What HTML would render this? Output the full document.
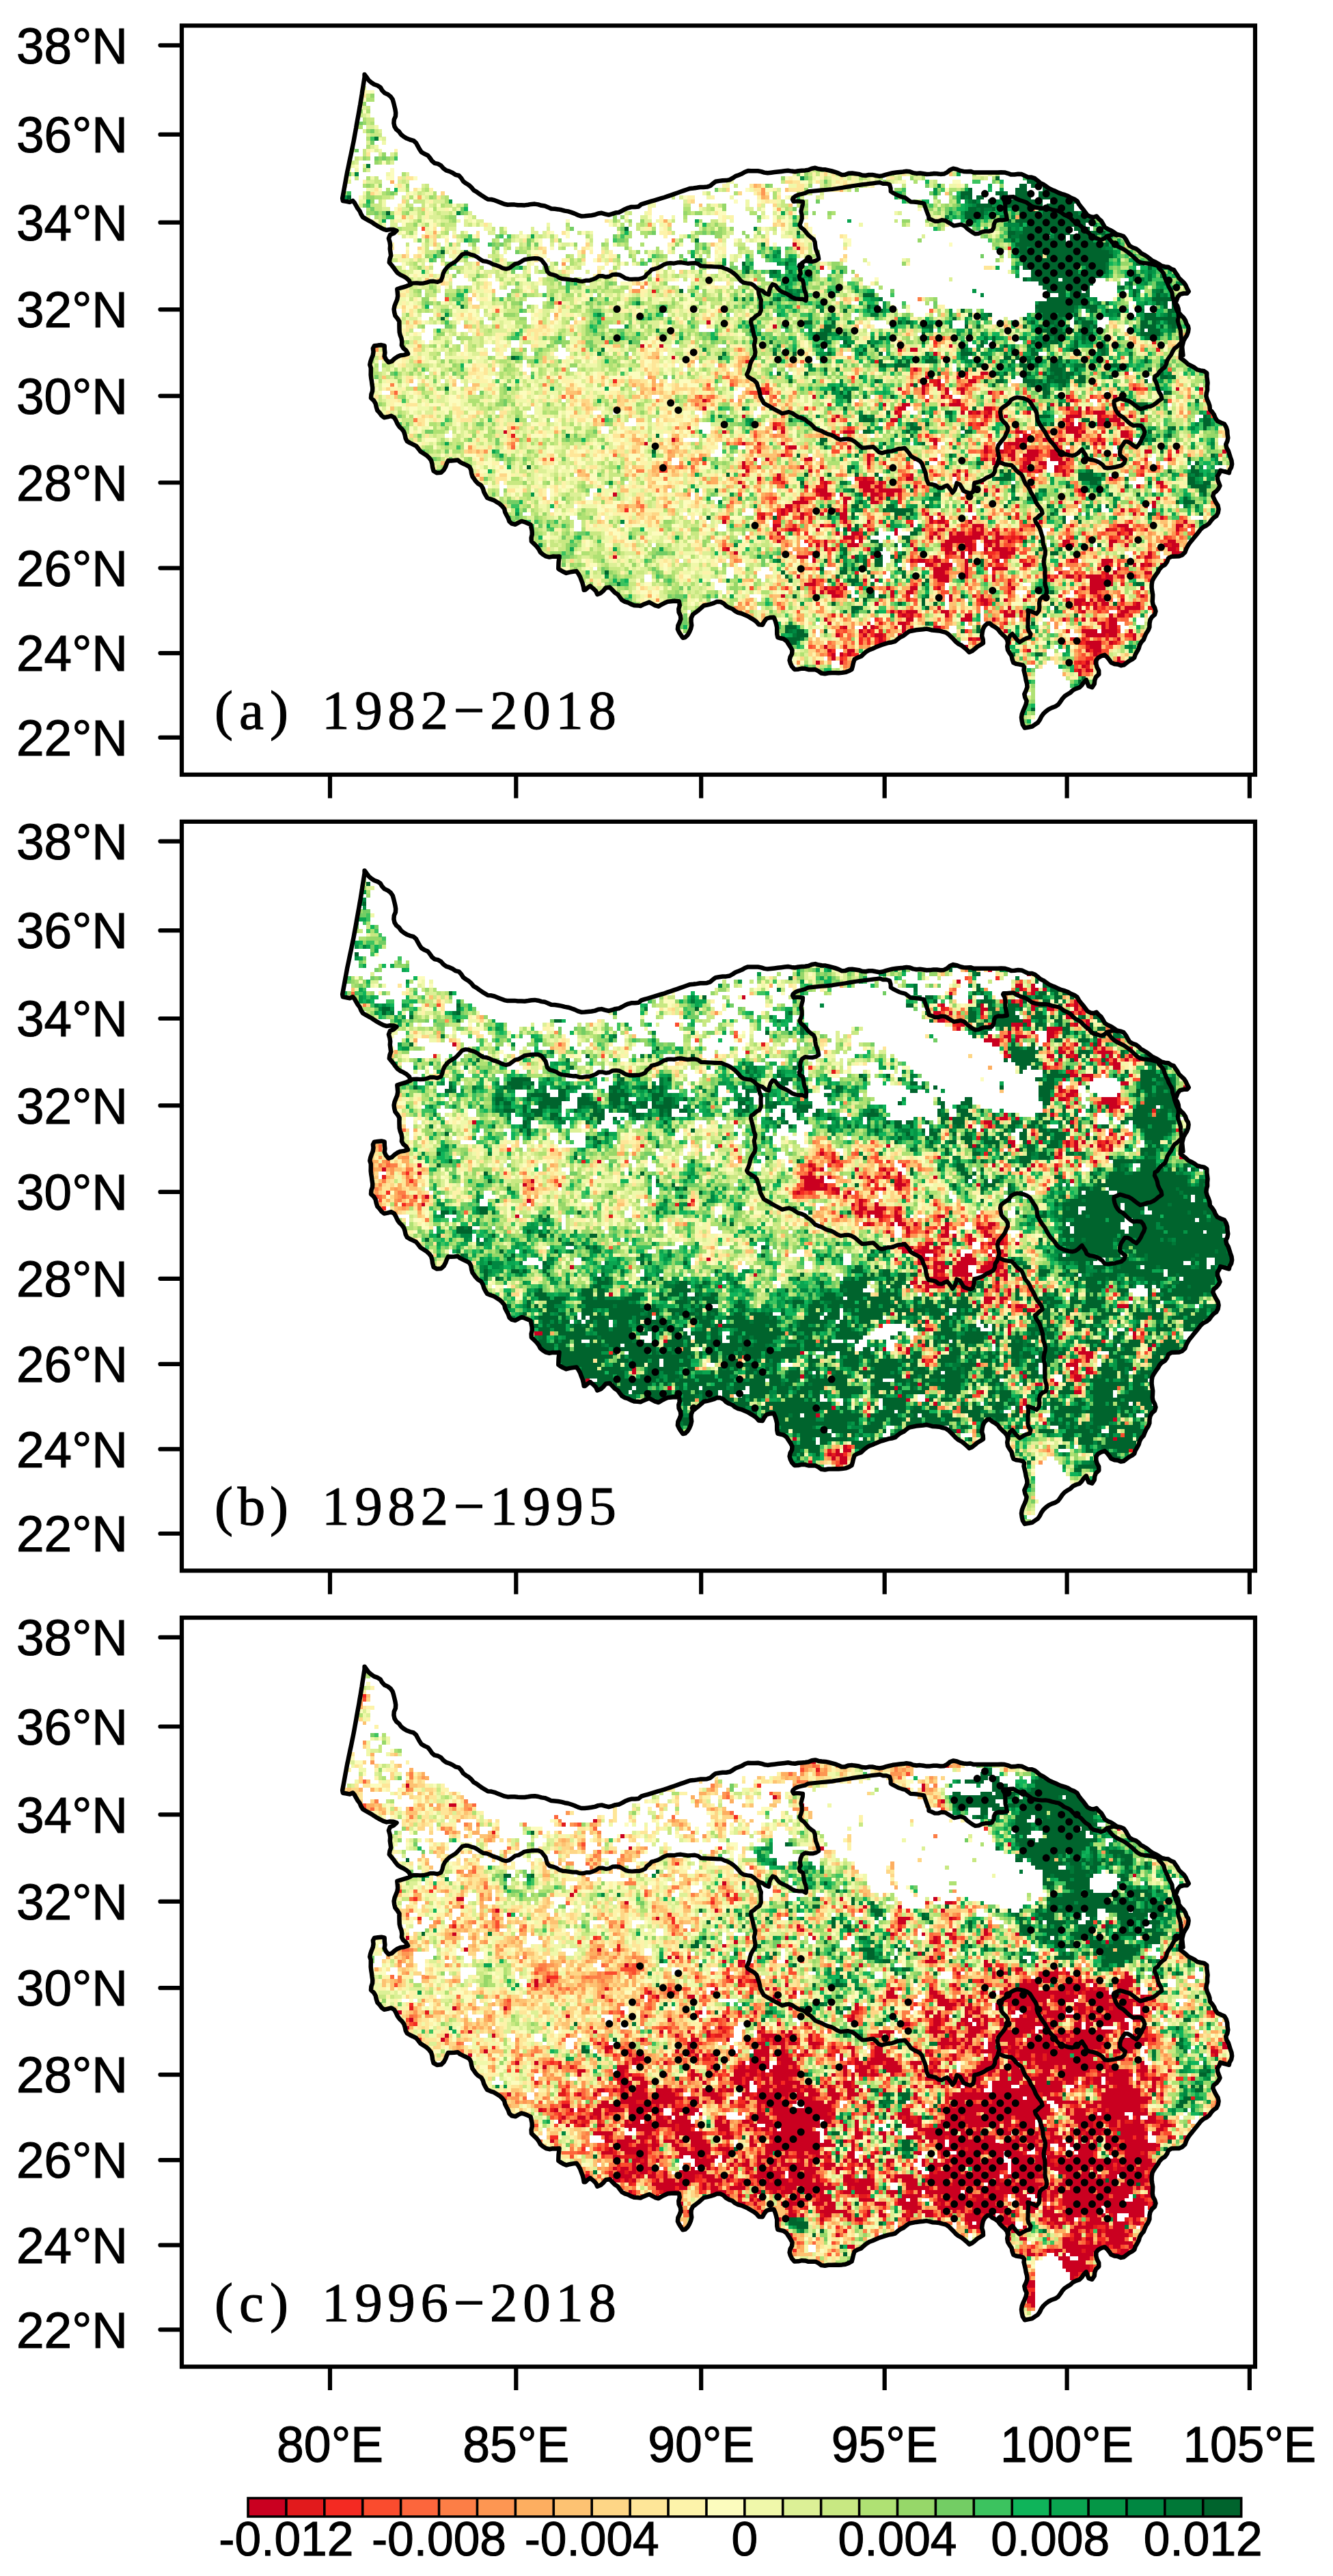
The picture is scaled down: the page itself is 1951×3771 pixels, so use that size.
<!DOCTYPE html>
<html lang="en"><head><meta charset="utf-8"><title>NDVI trend maps</title>
<style>html,body{margin:0;padding:0;background:#fff}body{width:1951px;height:3771px;overflow:hidden}svg{display:block}text{font-family:"Liberation Sans",sans-serif;fill:#000;stroke:#000;stroke-width:1.1px}.ser{font-family:"Liberation Serif",serif;stroke-width:1.1px}</style></head><body>
<svg width="1951" height="3771" viewBox="0 0 1951 3771">
<rect width="1951" height="3771" fill="#fff"/>
<defs><clipPath id="cp"><path d="M534.4 108.1L556.9 126.9L570.0 140.0L578.7 156.9L576.8 175.6L579.4 188.8L594.4 201.9L607.5 209.4L620.7 224.4L635.7 239.4L656.3 250.7L678.8 263.8L693.8 278.8L712.6 291.9L735.1 297.5L757.6 301.3L780.1 298.3L802.6 303.2L825.1 310.7L847.6 314.4L870.1 315.2L892.6 312.6L918.9 306.9L937.5 299.4L975.0 288.1L1012.5 275.0L1042.5 273.1L1068.8 261.9L1095.0 248.8L1110.0 248.8L1121.3 253.6L1155.0 249.5L1185.0 245.8L1200.0 246.9L1215.0 252.5L1237.5 255.5L1263.8 258.1L1293.8 254.4L1323.8 251.8L1350.0 255.5L1376.0 254.4L1402.5 248.0L1425.0 252.5L1462.5 252.5L1492.5 256.3L1518.8 263.8L1537.5 275.0L1560.0 284.4L1575.0 295.6L1590.0 312.5L1599.4 319.3L1605.0 316.3L1620.0 331.3L1635.0 344.4L1650.0 355.6L1668.8 370.6L1687.5 381.9L1702.5 387.5L1719.4 393.1L1725.0 406.3L1736.3 415.6L1740.0 428.8L1725.0 432.5L1719.4 443.8L1727.0 458.8L1742.0 477.5L1736.3 496.3L1732.0 502.5L1728.0 525.0L1741.0 534.4L1765.7 545.6L1769.5 558.8L1763.8 577.5L1771.3 596.3L1782.6 615.0L1795.7 630.0L1793.8 648.8L1799.5 667.5L1803.2 682.5L1799.5 693.8L1786.3 688.0L1780.7 697.5L1786.3 712.5L1775.0 723.8L1780.7 738.8L1780.7 753.8L1766.0 770.0L1747.6 787.0L1732.6 807.5L1710.0 818.8L1695.0 835.6L1687.6 852.5L1685.7 878.8L1691.0 899.0L1680.0 920.0L1668.8 940.6L1661.0 965.0L1642.6 975.5L1627.6 970.6L1618.0 959.0L1605.0 965.0L1607.0 987.5L1595.7 1006.0L1590.0 995.0L1582.6 1004.0L1563.8 1017.5L1545.0 1032.5L1526.0 1049.0L1511.0 1064.0L1500.0 1064.0L1496.0 1049.0L1502.0 1025.0L1500.0 995.0L1500.0 974.0L1485.0 972.5L1477.6 953.8L1475.7 940.6L1468.0 931.0L1458.8 920.0L1447.6 910.6L1440.0 920.0L1438.0 942.5L1419.4 955.6L1402.5 940.6L1383.8 925.6L1357.6 918.0L1331.0 927.5L1312.6 938.8L1290.0 946.0L1271.0 952.0L1252.6 965.0L1247.0 980.0L1226.0 985.7L1203.8 984.5L1185.0 978.0L1162.6 978.0L1155.0 968.8L1158.8 950.0L1151.0 940.6L1138.0 935.0L1138.0 920.0L1132.6 905.0L1123.0 905.0L1113.8 914.4L1098.8 905.0L1083.8 895.6L1065.0 888.0L1050.0 880.6L1031.0 886.0L1016.0 901.0L1010.6 920.0L1001.0 935.0L992.0 923.8L995.6 901.0L993.8 882.5L975.0 882.5L963.8 888.0L948.8 881.0L937.6 888.8L915.0 883.0L903.8 872.0L888.8 860.7L873.8 870.0L864.5 855.0L855.0 866.0L853.0 855.0L843.8 836.0L828.8 838.0L815.7 834.4L819.4 813.8L802.6 815.7L791.3 806.0L778.0 791.0L778.0 768.8L765.0 762.0L753.8 767.0L746.3 765.0L738.8 744.4L727.6 737.0L712.6 727.5L705.0 712.5L690.0 701.0L688.0 684.4L671.3 673.0L656.3 673.0L647.0 690.0L637.5 690.0L630.0 673.0L611.0 656.0L594.0 645.0L590.6 630.0L581.0 618.0L574.0 610.0L560.0 611.0L551.0 597.5L543.8 582.5L547.5 567.5L545.6 548.8L540.0 533.8L543.8 522.5L545.6 507.5L562.5 505.6L562.5 520.6L570.0 530.0L585.0 522.5L596.3 517.0L588.8 507.5L588.8 488.8L583.0 470.0L575.6 453.0L579.4 440.0L581.0 423.0L600.0 415.6L592.5 406.0L581.0 398.8L570.0 385.6L572.0 372.5L570.0 358.0L572.0 344.4L580.0 337.0L566.3 336.9L547.5 329.4L532.5 320.0L521.3 305.0L517.5 293.0L511.9 295.7L500.6 293.8L508.1 252.5L517.5 207.5L526.9 155.0Z"/></clipPath><g id="ml" fill="none" stroke="#000" stroke-width="6.2" stroke-linejoin="round" stroke-linecap="round"><path d="M600.0 415.6L605.0 414.5L610.0 414.4L615.0 414.8L620.0 414.6L624.8 413.5L629.5 411.8L634.5 411.7L640.1 412.8L645.4 410.8L647.4 405.7L648.6 400.5L650.8 395.9L654.0 391.8L657.7 388.3L662.0 385.7L666.4 383.1L670.0 379.6L673.3 375.9L676.5 372.4L681.2 371.0L685.2 371.2L689.4 372.8L694.4 374.1L698.8 376.6L702.9 379.7L707.3 382.2L712.4 382.8L717.1 384.6L721.6 386.9L726.4 388.3L731.0 390.1L735.6 392.4L740.7 393.7L745.6 392.4L749.9 389.3L754.0 386.2L759.0 385.2L763.3 382.7L767.5 380.1L772.8 379.2L777.5 378.6L782.6 378.2L787.7 378.3L792.4 380.4L795.6 384.5L798.5 388.1L799.6 392.1L800.9 397.2L804.4 400.9L809.6 402.2L814.3 403.8L818.6 406.7L823.4 408.2L828.4 408.6L833.5 409.3L838.3 410.0L843.1 409.9L848.0 411.5L853.0 411.8L858.0 410.6L862.7 410.6L867.3 409.1L872.0 407.2L876.4 404.1L881.7 404.0L886.9 405.4L891.9 404.6L896.6 402.0L901.6 401.7L906.8 402.3L911.2 404.7L915.5 407.3L920.4 408.6L925.0 408.9L929.9 408.5L935.0 408.6L939.9 407.2L944.2 405.2L946.6 401.4L950.9 398.1L953.7 394.8L957.7 393.8L962.4 392.4L967.0 390.1L971.5 387.4L976.3 385.6L981.4 385.2L986.5 385.6L991.5 384.4L996.5 384.1L1001.5 385.0L1006.5 385.8L1011.5 385.4L1016.9 385.1L1021.7 386.3L1025.9 389.5L1030.9 389.7L1035.9 390.0L1040.9 390.2L1045.9 390.5L1050.9 390.7L1055.9 390.9L1060.4 392.9L1065.2 394.6L1069.6 397.0L1073.7 399.9L1077.5 403.2L1081.0 407.0L1084.3 411.1L1088.5 413.8L1093.8 414.7L1099.5 415.5L1103.7 418.2L1107.2 421.8L1111.3 424.5L1116.0 425.8L1120.1 429.3L1125.2 431.3L1126.1 425.6L1127.6 420.8L1130.9 416.1L1135.0 417.6L1138.0 421.9L1141.6 425.5L1146.3 427.9L1151.0 429.9L1155.4 432.5L1159.6 435.4L1164.4 437.2L1169.5 437.9L1174.8 437.9L1179.4 440.0"/><path d="M1179.4 440.0L1180.2 434.8L1179.5 429.9L1177.5 425.0L1176.5 420.1L1176.0 415.1L1174.8 410.6L1170.7 408.4L1169.6 404.3L1171.8 400.2L1170.9 395.1L1171.8 389.8L1174.0 384.8L1178.6 381.8L1184.4 382.7L1189.5 382.8L1194.5 381.4L1198.3 379.0L1197.4 373.8L1195.8 369.0L1193.9 364.2L1193.2 359.3L1192.7 354.3L1190.9 350.2L1187.0 347.5L1183.2 344.2L1179.9 340.2L1176.7 336.3L1172.6 333.3L1170.4 329.4L1172.3 324.7L1173.7 319.8L1173.6 314.7L1172.4 309.4L1173.5 304.5L1174.8 299.6L1175.0 295.3L1169.5 294.6L1164.6 294.6L1161.5 295.0L1159.9 292.0L1160.6 290.0L1164.1 287.1L1168.7 285.1L1173.6 283.9L1178.4 282.8L1182.9 280.4L1187.9 279.9L1193.0 279.4L1198.0 278.9L1203.0 278.4L1208.0 278.0L1213.0 277.5L1218.0 277.0L1223.0 276.2L1227.9 275.5L1232.9 274.7L1237.9 273.9L1242.8 273.1L1247.8 272.3L1252.8 271.5L1257.7 270.8L1262.7 270.2L1267.7 269.6L1272.7 268.9L1277.7 268.3L1282.7 267.7L1287.7 267.1L1292.4 268.8L1297.5 268.8L1302.1 270.3L1303.6 275.6L1303.7 280.2L1306.7 282.2L1311.1 284.5L1315.7 286.8L1320.4 288.3L1325.0 289.5L1329.0 292.5L1332.7 295.3L1337.6 295.6L1342.6 296.1L1347.6 296.9L1352.4 297.8L1354.0 302.8L1355.7 307.5L1357.5 312.3L1359.3 316.9L1359.4 320.3L1363.2 321.5L1368.1 323.8L1373.2 323.9L1378.3 322.2L1383.6 322.8L1388.0 325.5L1392.3 328.1L1396.3 330.5L1401.3 329.6L1406.5 328.6L1411.7 330.5L1415.4 334.4L1419.5 337.4L1423.4 340.2L1427.5 342.4L1432.6 341.8L1437.3 339.5L1442.3 338.6L1447.2 338.6L1451.7 337.6L1454.4 333.1L1454.8 328.1L1457.0 323.6L1462.0 322.0L1467.4 322.3L1473.9 321.3L1472.8 314.9L1471.5 310.0L1471.3 305.0L1471.3 299.7L1470.5 294.6L1468.0 290.5L1468.7 288.8L1473.5 288.9L1478.5 288.3L1483.5 288.1L1487.5 290.9L1492.1 292.9L1497.0 294.4L1501.9 296.1L1505.9 299.0L1510.1 302.0L1515.1 303.6L1520.0 304.4L1525.0 304.9L1530.0 304.7L1534.8 305.4L1539.7 306.9L1544.6 308.0L1549.5 308.9L1553.6 311.4L1557.4 314.4L1562.2 316.4L1566.6 318.8L1570.1 322.6L1573.7 325.8L1578.1 328.2L1582.4 331.1L1585.7 334.8L1589.4 338.3L1593.8 341.0L1596.7 345.3L1600.9 348.0L1605.9 349.1L1611.0 351.1L1616.0 349.4L1619.9 345.8L1624.9 344.5L1629.8 342.9L1635.0 344.4"/><path d="M1110.0 425.0L1110.6 430.1L1112.1 435.0L1113.9 439.3L1113.5 443.7L1113.6 448.9L1113.8 454.3L1111.6 459.4L1106.8 462.3L1103.1 465.8L1099.5 468.0L1099.0 471.9L1100.2 476.7L1101.5 481.3L1102.5 485.9L1103.5 491.0L1105.4 495.6L1105.0 500.1L1103.8 504.8L1104.6 510.1L1105.5 515.3L1104.8 520.4L1101.9 524.9L1099.3 529.4L1097.8 534.2L1096.8 539.1L1095.1 543.8L1093.0 548.3L1094.9 551.6L1099.1 554.2L1103.7 556.8L1107.6 560.7L1109.2 566.0L1110.9 570.8L1112.1 575.7L1112.9 580.8L1115.4 585.4L1117.9 590.1L1122.3 592.8L1127.0 595.3L1131.3 598.0L1135.8 600.4L1140.3 602.7L1144.6 605.3L1149.6 604.2L1154.5 603.1L1159.7 604.9L1164.0 607.9L1168.3 610.5L1173.3 611.8L1177.9 613.8L1181.7 617.3L1185.9 620.0L1189.6 623.5L1193.1 627.4L1197.9 629.4L1202.7 631.0L1207.1 633.5L1211.7 635.5L1216.7 636.7L1221.2 639.0L1225.5 641.8L1230.4 643.8L1235.8 642.9L1240.9 642.5L1245.9 643.6L1250.2 645.9L1254.1 649.1L1257.8 652.5L1262.0 655.7L1267.3 655.4L1272.5 654.6L1278.1 654.1L1282.4 657.8L1286.1 661.7L1290.9 663.2L1295.2 662.0L1299.9 660.8L1305.1 660.5L1309.9 658.9L1314.6 657.1L1319.7 656.6L1324.2 655.9L1327.1 659.3L1330.4 663.2L1333.2 667.6L1337.6 670.4L1342.3 672.5L1346.7 675.1L1349.7 679.1L1351.2 684.0L1353.3 688.6L1354.8 693.3L1355.5 698.2L1356.6 703.1L1358.9 708.3L1364.6 709.3L1369.6 710.5L1373.5 713.9L1378.2 714.4L1382.7 712.0L1386.3 710.6L1389.4 714.3L1392.4 718.3L1394.0 721.4L1397.1 717.6L1398.9 712.9L1400.3 707.2L1405.0 709.3L1407.7 713.9L1410.4 718.6L1415.2 720.8L1420.3 722.3L1424.1 720.0L1425.5 714.6L1425.7 709.9L1426.3 706.9L1430.4 706.1L1435.2 704.5L1439.9 702.3L1444.1 699.3L1448.8 697.3L1453.6 694.8L1456.1 690.1L1456.6 684.7L1459.4 680.4L1461.0 675.6"/><path d="M1461.0 675.6L1465.6 677.7L1470.3 679.6L1475.3 680.5L1480.4 681.1L1484.1 684.5L1487.2 688.7L1490.9 691.9L1494.8 694.5L1497.1 698.8L1498.8 703.5L1501.0 708.1L1504.5 712.0L1507.1 716.3L1508.9 720.9L1511.7 725.0L1514.0 729.5L1515.8 734.3L1518.4 738.6L1521.6 742.6L1524.5 746.8L1525.6 751.5L1521.1 755.0L1517.6 758.5L1514.8 760.1L1515.8 764.0L1518.6 768.2L1521.4 772.5L1523.1 777.3L1524.5 782.2L1526.0 786.9L1526.4 791.9L1526.9 796.9L1528.7 801.7L1529.9 806.6L1529.7 811.7L1528.4 816.8L1527.6 821.8L1528.0 826.8L1529.2 831.8L1529.6 836.9L1529.3 841.9L1529.6 846.9L1529.4 852.0L1530.1 857.0L1531.6 861.9L1532.0 867.0L1530.5 871.4L1525.7 873.6L1522.1 877.3L1521.0 883.0L1521.4 888.7L1520.8 893.9L1517.1 898.5L1511.8 896.0L1507.2 894.3L1504.3 893.5L1505.2 898.1L1504.9 903.2L1504.5 908.2L1504.6 913.1L1504.3 918.3L1505.4 923.2L1508.5 928.0L1507.2 933.1L1501.6 934.6L1497.2 937.0L1492.3 940.1L1488.1 936.0L1485.0 932.0L1481.7 927.9L1478.4 930.7L1475.7 935.2L1475.7 940.6"/><path d="M1461.0 675.6L1462.4 670.2L1461.5 665.3L1460.4 660.9L1459.9 656.6L1461.2 651.8L1464.3 647.8L1467.6 643.8L1470.6 639.8L1472.5 635.1L1474.9 630.3L1475.0 625.3L1472.3 620.6L1468.6 617.2L1465.6 613.3L1464.8 608.4L1464.0 603.4L1464.9 598.9L1468.7 595.6L1473.0 592.8L1476.9 589.7L1479.6 585.5L1483.9 583.1L1488.7 581.5L1493.3 582.2L1498.4 583.1L1503.1 585.0L1507.3 587.9L1509.9 592.0L1512.5 596.2L1515.4 600.4L1517.4 605.0L1517.8 610.3L1518.7 615.3L1521.2 619.8L1523.8 624.1L1526.6 628.4L1529.6 632.4L1531.8 636.9L1534.3 641.1L1537.0 645.3L1540.5 649.0L1543.7 652.7L1546.5 657.2L1550.0 660.9L1554.8 663.0L1559.5 664.9L1564.4 666.3L1569.5 667.0L1573.8 666.0L1577.9 663.2L1581.5 659.8L1583.7 657.9L1585.8 661.5L1588.7 665.6L1590.6 670.3L1594.9 672.7L1600.0 673.4L1604.8 674.9L1609.4 677.3L1613.5 680.2L1616.8 684.7L1621.9 685.3L1627.0 684.6L1631.9 683.9L1636.8 682.5L1641.4 681.4L1645.5 677.9L1647.0 672.7L1642.7 669.3L1639.2 666.1L1639.2 660.2L1640.7 654.9L1643.6 650.7L1646.4 646.5L1650.2 646.5L1654.7 648.8L1658.7 652.0L1663.3 654.7L1667.0 650.4L1669.7 646.1L1671.7 641.4L1674.2 637.1L1675.5 632.5L1673.5 627.2L1670.2 623.1L1664.3 622.5L1658.9 623.2L1654.5 620.6L1650.4 617.1L1647.2 613.8L1643.7 610.6L1639.0 608.0L1635.6 604.3L1633.0 600.0L1631.4 595.4L1630.4 590.5L1630.6 586.9L1634.9 585.1L1639.0 583.3L1642.6 584.2L1647.2 585.7L1652.2 587.0L1656.5 589.6L1660.5 592.7L1664.5 595.8L1669.0 598.8L1674.1 597.4L1679.0 595.5L1683.6 594.9L1687.8 593.0L1692.0 590.2L1695.8 586.9L1700.4 583.8L1699.5 578.7L1696.8 574.3L1694.8 569.7L1693.9 564.7L1692.2 560.0L1689.9 555.5L1690.3 551.0L1694.3 548.5L1697.0 544.3L1700.6 540.7L1704.7 537.7L1707.0 533.0L1708.4 527.6L1711.0 523.3L1714.0 519.3L1716.2 514.7L1718.8 510.3L1723.0 507.2L1726.6 503.7L1730.0 500.0"/><path d="M1694.0 388.0L1696.3 392.7L1700.0 396.4L1703.2 400.5L1704.6 405.7L1706.4 410.4L1708.8 414.8L1710.5 419.7L1713.2 424.2L1715.5 428.7L1716.0 433.8L1717.7 438.8L1718.8 443.8L1720.4 448.7L1722.2 453.6L1724.5 458.4L1724.8 463.6L1723.8 469.1L1724.7 474.2L1726.6 479.1L1727.9 484.1L1728.2 489.2L1728.8 494.4L1729.3 499.5L1729.9 504.6L1730.5 509.7L1731.0 514.9L1731.6 520.0"/><path d="M1620.0 346.0L1623.6 349.7L1626.9 353.9L1630.7 357.4L1635.0 360.3L1639.8 362.6L1644.6 364.9L1649.0 367.8L1653.0 371.0L1656.9 374.1L1660.5 377.6L1664.5 381.3L1669.0 384.1L1674.1 385.2L1679.5 385.6L1684.6 386.5L1689.6 387.8L1694.6 389.0"/><path stroke-width="6.5" d="M533.6 109.1L536.6 113.2L539.6 117.5L543.4 120.7L547.6 123.5L552.6 125.3L556.8 128.0L559.4 132.5L562.9 136.1L567.7 138.3L571.8 141.5L574.7 145.7L576.1 150.6L577.3 155.5L578.4 160.1L579.2 165.2L578.9 170.2L576.8 175.0L576.4 180.2L577.5 185.2L580.1 189.5L584.0 192.6L587.0 196.9L590.9 200.0L595.2 202.6L600.0 204.5L605.1 205.8L609.0 209.2L611.5 213.9L614.0 218.4L616.8 222.6L621.3 225.3L626.2 227.5L629.4 231.4L632.2 235.6L636.0 238.8L641.0 239.9L645.4 242.3L648.9 246.3L653.0 249.3L657.8 250.9L662.4 253.0L666.6 255.8L671.6 257.0L675.2 260.9L678.0 265.4L681.9 268.3L686.3 271.0L690.0 274.4L693.2 278.3L697.6 280.8L701.6 283.8L705.7 286.6L709.9 289.2L714.1 291.7L719.1 292.0L723.9 293.2L728.6 295.1L733.3 296.9L738.1 298.8L743.0 299.8L748.1 299.6L753.2 299.6L757.9 300.2L762.9 300.3L767.9 300.4L772.9 299.7L777.8 298.9L782.7 298.6L787.7 299.4L792.5 300.8L797.5 301.5L802.2 303.4L806.8 305.5L811.9 305.8L817.0 306.4L821.9 307.3L826.6 308.6L831.4 309.4L836.2 310.9L841.0 312.6L845.7 314.8L850.7 316.4L855.7 316.3L860.8 315.8L865.8 315.2L870.8 314.3L875.5 312.5L880.5 311.8L885.7 313.3L890.9 314.6L895.9 313.2L900.7 311.6L905.6 311.0L910.3 308.7L914.8 306.2L919.3 304.3L924.0 303.0L929.4 302.9L934.5 302.4L938.6 299.1L943.4 297.6L948.2 296.2L953.0 294.7L957.8 293.3L962.6 291.8L967.4 290.4L972.2 289.0L976.9 287.4L981.6 285.8L986.4 284.1L991.1 282.5L995.8 280.8L1000.5 279.2L1005.3 277.5L1010.0 275.9L1014.9 275.5L1019.9 274.8L1024.8 274.0L1029.8 273.9L1034.8 273.6L1039.6 272.0L1043.5 268.6L1047.3 265.8L1052.4 264.9L1057.6 264.2L1062.9 264.1L1068.0 263.2L1072.4 260.7L1076.6 257.9L1081.3 256.2L1086.0 254.3L1090.3 251.7L1094.8 250.1L1099.5 250.3L1104.5 250.3L1109.3 250.2L1114.0 251.1L1118.7 252.6L1123.5 253.3L1128.5 252.7L1133.5 252.1L1138.4 251.5L1143.4 250.9L1148.4 250.3L1153.3 249.7L1158.5 250.6L1163.6 251.2L1168.5 250.2L1173.5 249.8L1178.5 249.4L1183.3 248.7L1188.1 246.7L1193.2 245.8L1198.0 247.3L1202.9 247.9L1208.2 248.3L1213.0 249.4L1217.6 250.5L1222.3 251.8L1227.1 253.6L1231.8 255.9L1236.9 255.8L1242.1 253.8L1247.2 253.5L1252.1 254.2L1257.1 254.9L1261.9 256.5L1266.8 257.0L1271.6 256.0L1276.7 255.9L1281.9 257.0L1287.0 257.9L1291.9 257.2L1296.8 255.6L1301.7 254.4L1306.6 253.2L1311.6 252.5L1316.5 251.9L1321.6 251.5L1326.7 250.7L1331.7 251.3L1336.5 253.1L1341.5 253.9L1346.5 253.5L1351.4 254.2L1356.3 255.0L1361.3 254.8L1366.3 254.1L1371.3 254.2L1376.4 254.9L1381.5 254.6L1386.1 252.4L1390.4 248.7L1395.1 246.8L1400.6 247.9L1405.4 249.9L1410.2 250.9L1415.2 251.3L1420.4 250.9L1425.2 252.5L1430.2 252.5L1435.2 252.5L1440.2 252.5L1445.2 252.5L1450.2 252.5L1455.2 252.5L1460.2 252.5L1465.2 252.2L1470.3 252.4L1475.2 253.8L1480.0 255.6L1485.0 255.5L1490.2 254.7L1495.4 255.1L1500.0 257.3L1504.6 259.5L1509.8 259.6L1514.5 261.2L1518.7 264.5L1522.5 267.8L1527.0 270.0L1531.1 272.8L1535.3 275.8L1539.9 277.9L1544.6 279.8L1549.1 282.1L1553.7 283.9L1558.5 285.2L1563.1 287.0L1567.4 289.6L1572.3 291.5L1576.6 294.4L1579.2 299.1L1582.2 303.0L1585.5 306.8L1588.5 310.9L1591.6 315.0L1596.2 317.3L1600.4 318.0L1604.8 316.5L1608.0 320.2L1611.8 323.5L1614.4 327.9L1617.0 332.5L1621.3 335.3L1626.2 337.4L1630.4 340.1L1634.5 343.0L1639.8 344.3L1644.6 346.1L1647.8 350.3L1650.4 355.1L1653.2 359.7L1657.5 362.3L1662.6 364.0L1666.6 367.0L1670.0 370.6L1674.4 372.9L1678.7 375.5L1682.7 378.6L1686.7 381.7L1691.3 383.8L1695.7 386.3L1700.0 389.2L1704.9 390.4L1710.0 391.0L1714.2 393.8L1718.0 395.1L1720.2 398.6L1723.2 402.8L1725.6 407.2L1729.3 410.7L1732.9 414.1L1735.4 417.7L1737.3 422.0L1739.8 426.7L1737.3 429.5L1732.2 429.5L1727.1 430.9L1723.9 434.5L1722.1 439.3L1720.4 443.6L1723.1 447.3L1724.7 452.1L1725.4 457.4L1728.4 461.4L1732.1 464.9L1734.9 469.1L1736.6 474.1L1738.9 477.5L1739.6 481.1L1738.9 486.0L1737.2 490.7L1734.6 494.8L1732.3 499.0L1731.0 504.1L1729.5 509.0L1728.5 513.9L1728.0 518.9L1727.8 524.1L1731.6 526.9L1735.5 530.0L1739.2 533.5L1743.7 535.7L1748.1 538.0L1752.2 541.2L1757.1 542.4L1762.3 543.3L1766.3 546.2L1766.3 551.5L1767.0 556.3L1767.5 560.7L1767.0 565.5L1767.1 570.8L1765.8 575.4L1765.4 579.8L1766.7 584.6L1768.7 589.1L1770.4 593.9L1770.9 599.3L1774.2 603.2L1777.0 607.4L1778.9 612.1L1781.8 616.3L1786.9 618.7L1792.0 620.8L1794.7 625.3L1796.2 630.5L1796.5 635.8L1797.3 640.9L1796.4 645.7L1794.2 650.6L1795.2 655.5L1797.8 659.9L1799.3 664.7L1800.8 669.5L1802.5 674.3L1803.1 679.3L1802.1 684.2L1799.6 688.5L1798.8 692.2L1795.2 691.2L1790.3 689.9L1786.1 688.7L1784.4 693.3L1781.9 697.2L1782.0 701.8L1783.8 706.6L1785.5 711.1L1783.6 714.9L1780.5 718.8L1776.4 721.9L1775.2 726.3L1777.3 731.0L1779.6 735.5L1782.5 740.1L1783.6 745.4L1782.7 750.6L1780.3 755.3L1775.9 758.3L1772.6 762.1L1769.7 766.2L1765.7 769.3L1761.1 771.6L1757.3 774.9L1754.2 779.0L1751.1 782.9L1747.8 786.8L1744.7 790.7L1741.5 794.5L1738.7 798.7L1736.3 803.2L1734.4 808.5L1730.3 812.4L1725.6 814.3L1720.1 814.5L1714.6 814.7L1710.1 817.3L1708.0 822.6L1705.1 826.6L1700.6 829.3L1697.2 832.9L1694.8 837.3L1691.8 841.4L1689.0 845.6L1686.5 850.2L1685.7 855.4L1685.6 860.5L1686.3 865.6L1687.2 870.7L1687.0 875.6L1686.7 880.5L1687.6 885.3L1690.1 889.9L1691.5 894.8L1690.0 899.7L1686.1 903.1L1683.5 907.4L1682.5 912.6L1682.4 918.1L1680.5 922.8L1677.7 927.0L1675.6 931.5L1673.8 936.3L1670.4 940.0L1668.0 944.4L1666.7 949.2L1664.3 953.7L1661.7 958.1L1660.3 962.6L1657.1 965.1L1652.9 967.4L1648.8 970.4L1644.9 973.4L1640.7 974.3L1636.1 972.5L1631.1 971.9L1626.4 970.0L1623.5 965.8L1620.3 961.9L1616.9 958.8L1611.7 960.4L1607.2 963.0L1604.3 966.7L1604.3 972.1L1605.7 977.0L1608.2 981.8L1608.3 987.2L1604.2 991.0L1602.3 995.6L1601.7 1001.2L1598.4 1006.2L1593.4 1004.5L1591.4 999.5L1589.8 995.2L1586.2 998.8L1583.4 1003.0L1579.8 1006.5L1574.8 1008.2L1570.3 1010.4L1566.7 1013.9L1562.3 1016.5L1558.1 1019.3L1554.7 1023.1L1551.8 1027.5L1548.7 1031.6L1544.5 1034.3L1539.4 1036.1L1534.8 1038.4L1530.8 1041.4L1527.1 1044.9L1524.1 1049.1L1521.8 1053.9L1518.8 1058.0L1514.5 1060.8L1510.6 1063.5L1505.8 1064.5L1499.8 1065.6L1496.8 1060.6L1495.7 1055.6L1495.0 1050.3L1495.8 1045.1L1497.6 1040.4L1499.7 1035.7L1501.6 1031.0L1502.6 1026.0L1500.3 1021.0L1499.3 1016.1L1501.7 1010.9L1503.5 1005.8L1503.1 1000.8L1501.7 995.9L1500.9 991.0L1499.7 986.0L1498.5 981.0L1499.1 976.4L1497.0 973.7L1492.1 972.6L1487.4 971.9L1483.3 970.1L1481.6 965.3L1480.6 960.3L1477.7 956.0L1475.0 951.4L1474.2 946.3L1475.1 941.3L1474.0 936.2L1470.9 932.2L1467.1 928.8L1463.6 925.2L1460.6 921.1L1456.6 918.1L1452.1 915.7L1448.7 912.4L1445.1 912.7L1441.2 916.3L1438.8 920.9L1437.7 926.1L1437.1 931.0L1438.7 936.2L1439.0 941.5L1434.6 944.2L1430.3 946.7L1426.6 950.0L1422.6 953.1L1418.7 954.8L1415.2 951.4L1411.4 948.1L1407.5 945.0L1402.9 942.6L1399.0 939.5L1395.6 935.8L1392.0 932.2L1388.5 928.7L1384.3 925.9L1379.4 924.7L1374.6 923.4L1369.5 922.9L1364.4 922.6L1359.9 921.3L1355.9 920.5L1351.1 921.2L1346.0 921.7L1340.9 922.3L1335.9 923.3L1330.7 924.3L1326.3 927.4L1322.4 930.6L1317.8 932.7L1313.9 935.6L1310.1 938.9L1305.3 940.2L1300.3 941.0L1295.5 942.5L1290.7 944.0L1286.0 945.7L1281.4 947.6L1276.8 949.7L1272.1 951.4L1267.8 954.1L1264.0 957.3L1260.3 960.8L1255.4 962.6L1250.6 965.2L1249.0 970.4L1247.9 975.3L1246.6 979.9L1242.2 982.3L1237.4 984.1L1232.4 984.8L1227.4 985.2L1222.5 984.9L1217.5 985.1L1212.4 985.2L1207.3 986.2L1202.2 985.5L1197.8 982.3L1193.3 980.1L1188.0 980.2L1183.3 980.2L1178.5 978.8L1173.5 978.6L1168.5 979.7L1162.8 979.9L1159.1 975.7L1156.8 971.0L1155.6 966.7L1156.6 961.8L1159.1 957.2L1159.5 951.9L1157.1 947.5L1154.3 943.2L1151.4 938.6L1147.0 935.3L1142.4 934.3L1138.3 933.2L1137.3 928.3L1137.2 923.4L1137.2 918.5L1136.1 913.6L1134.7 908.7L1132.6 903.7L1126.8 904.1L1122.0 905.5L1118.8 909.5L1116.0 914.7L1110.7 914.3L1107.0 910.1L1103.0 907.1L1098.7 904.6L1094.4 902.0L1089.7 900.0L1085.1 898.0L1080.3 896.8L1075.9 894.6L1071.9 891.2L1067.2 889.5L1062.8 887.1L1059.1 883.3L1054.5 881.0L1049.3 880.8L1044.7 882.9L1039.9 884.3L1035.1 885.5L1030.2 886.5L1026.4 889.8L1022.6 893.1L1018.6 896.2L1014.1 899.5L1011.6 904.7L1011.5 909.9L1012.2 915.3L1011.1 920.2L1009.1 925.0L1006.6 929.3L1002.8 933.0L999.4 933.7L996.4 929.4L993.8 925.2L991.9 921.0L992.4 915.9L994.6 911.2L996.4 906.4L996.0 901.2L993.6 896.3L993.3 891.3L994.8 886.1L993.8 880.3L987.5 879.8L982.5 880.2L977.3 880.7L972.5 882.8L968.0 885.1L963.8 887.7L959.0 886.4L954.6 884.0L950.2 881.6L946.0 883.2L941.3 885.1L937.4 887.0L933.2 886.4L928.1 886.2L923.4 884.4L919.0 882.0L914.7 880.8L910.4 878.4L907.3 874.4L904.2 870.2L899.9 867.5L896.4 863.8L892.4 859.7L886.7 860.4L883.0 864.8L879.2 868.2L874.2 870.1L872.3 865.6L868.8 862.0L865.0 858.9L863.9 857.8L860.2 860.3L856.5 863.6L854.7 863.7L853.9 858.8L852.6 853.9L850.8 849.2L849.1 844.5L846.7 840.1L843.7 836.1L838.8 836.8L833.9 837.6L828.8 838.9L824.0 836.8L819.7 834.3L817.3 832.6L817.4 828.2L817.6 823.2L818.2 818.2L818.5 814.4L814.0 814.8L809.0 814.6L804.0 815.6L799.2 814.4L794.8 811.7L790.9 808.4L788.4 803.7L785.3 799.7L781.7 796.2L777.9 792.5L777.6 787.4L778.8 782.3L778.6 777.3L777.6 772.4L776.7 768.1L772.1 766.0L767.6 764.1L763.4 762.9L758.9 765.1L754.3 767.7L749.1 766.6L745.5 763.4L743.9 758.6L741.5 754.2L739.2 749.7L738.2 745.0L735.1 741.1L731.4 737.6L727.1 734.9L722.9 732.3L718.0 730.7L713.1 728.7L710.5 724.4L708.2 719.9L706.8 715.0L704.2 710.6L699.7 707.9L696.2 704.3L693.6 700.5L691.4 697.5L690.1 692.8L689.3 687.8L687.1 683.4L682.7 680.9L678.1 678.8L673.6 676.6L670.0 673.6L665.1 674.1L660.3 674.4L655.9 674.3L653.8 678.7L652.1 683.4L649.5 688.0L645.7 691.7L639.6 692.3L634.6 689.5L633.1 683.9L632.4 678.7L630.9 673.8L627.8 669.8L624.1 666.4L619.8 663.7L615.5 661.0L612.4 656.9L609.1 652.9L604.6 650.6L600.0 648.4L595.8 645.9L593.7 641.8L592.7 637.0L591.2 632.2L588.3 628.2L584.7 624.8L581.8 620.7L579.7 616.0L577.1 611.4L572.5 608.8L567.2 610.3L562.2 611.2L558.7 608.5L555.8 604.5L552.3 600.8L550.8 595.9L549.7 590.9L547.2 586.5L543.0 582.7L543.4 577.4L545.1 572.6L545.3 567.8L544.6 563.3L544.0 558.3L543.2 553.4L542.7 548.8L542.8 543.8L542.8 538.4L541.3 534.0L542.2 529.6L543.8 524.8L545.8 520.0L546.5 515.0L545.9 510.1L547.9 506.3L553.1 505.6L558.2 505.1L562.7 506.1L562.8 511.3L563.4 516.3L562.7 521.3L564.9 526.0L568.6 530.3L573.5 528.8L577.3 525.2L581.5 522.3L586.1 520.3L591.3 519.6L597.1 517.8L594.4 513.0L590.3 509.7L587.9 505.4L588.3 500.2L587.5 495.2L585.7 490.5L584.7 486.2L584.5 481.1L584.4 475.9L584.4 470.6L581.7 466.3L578.4 462.2L577.2 457.3L576.6 452.6L577.5 447.9L579.3 443.2L581.3 438.4L582.2 433.3L581.8 428.2L581.3 423.3L585.7 421.7L590.5 420.3L595.3 418.8L601.0 416.4L599.0 410.8L595.1 407.3L590.7 404.6L586.1 402.4L582.0 399.6L578.8 395.7L575.9 391.6L572.8 387.8L569.8 384.1L570.5 379.0L572.2 374.2L571.5 369.2L570.8 364.2L571.2 359.2L570.5 354.3L568.9 349.0L570.9 343.8L576.3 341.6L580.5 337.7L576.0 336.1L570.9 335.9L565.9 336.8L561.1 335.3L556.6 333.0L552.2 330.6L548.0 328.0L544.0 325.2L539.6 322.8L535.3 320.4L531.1 317.9L528.4 313.6L526.5 308.9L523.5 305.1L521.2 301.0L518.7 296.6L516.3 293.9L511.9 295.9L506.9 294.9L501.9 294.1L501.2 290.3L502.1 285.3L503.0 280.4L503.9 275.5L504.8 270.6L505.7 265.6L506.6 260.7L507.5 255.8L508.4 250.9L509.5 246.0L510.5 241.1L511.5 236.2L512.5 231.3L513.6 226.4L514.6 221.5L515.6 216.6L516.6 211.7L517.6 206.8L518.5 201.9L519.4 196.9L520.3 192.0L521.2 187.1L522.0 182.1L522.9 177.2L523.8 172.3L524.7 167.4L525.6 162.4L526.4 157.5L527.3 152.6L528.1 147.6L528.9 142.7L529.7 137.8L530.4 132.8L531.2 127.9L532.0 122.9L532.8 118.0L533.6 113.0Z"/></g></defs>
<g transform="translate(0 0.0)">
<g clip-path="url(#cp)"><g transform="translate(267.64 37.48) scale(5.7200 5.7200)" fill="none" stroke-width="1.04" shape-rendering="crispEdges">
<path stroke="#ca0020" d="M156 56h1m0 1h1m-62 14h1m37 5h1m16 1h1m-35 5h1m4 0h1m73 0h1m-14 1h1m2 0h2m4 1h1m-68 1h1m61 3h1m16 1h2m-16 1h1m7 0h1m-6 1h1m7 0h2m-17 1h1m2 0h1m3 0h1m-47 1h1m35 0h1m5 0h1m3 0h1m1 0h1m3 0h1m43 0h1m10 0h1m5 0h1m-112 1h1m39 0h1m5 0h1m3 0h1m6 0h1m-46 1h1m32 0h1m31 0h1m11 0h1m-106 1h1m64 0h1m18 0h1m9 0h1m-49 1h1m4 0h2m8 0h1m1 0h3m23 0h1m-90 1h1m49 0h2m20 0h2m19 0h1m2 0h1m1 0h1m-50 1h1m16 0h1m1 0h1m1 0h1m2 0h1m9 0h1m12 0h1m3 0h3m3 0h1m22 0h1m-120 1h1m23 0h1m15 0h1m21 0h1m4 0h1m15 0h4m4 0h1m3 0h1m3 0h1m-77 1h1m14 0h2m43 0h1m7 0h2m1 0h3m5 0h1m-42 1h1m22 0h1m1 0h1m4 0h2m3 0h2m-90 1h1m74 0h4m-148 1h1m55 0h1m14 0h1m15 0h3m41 0h2m11 0h3m1 0h1m9 0h2m-76 1h1m48 0h1m12 0h2m10 0h2m-117 1h1m66 0h1m20 0h4m3 0h1m3 0h1m9 0h1m7 0h1m-125 1h1m24 0h1m9 0h1m38 0h1m18 0h3m1 0h1m7 0h1m9 0h1m1 0h1m-81 1h2m13 0h1m4 0h1m29 0h1m7 0h1m1 0h1m-11 1h1m3 0h1m2 0h1m3 0h3m3 0h3m1 0h1m7 0h1m11 0h2m6 0h1m11 0h1m-114 1h1m21 0h1m32 0h1m2 0h2m2 0h4m3 0h2m1 0h1m42 0h1m-123 1h1m2 0h1m9 0h2m14 0h1m11 0h1m17 0h1m1 0h1m4 0h1m3 0h2m4 0h3m1 0h1m13 0h1m11 0h1m-110 1h1m31 0h1m31 0h2m6 0h2m2 0h2m3 0h2m-83 1h1m14 0h1m30 0h1m25 0h1m7 0h1m21 0h1m-102 1h1m15 0h1m37 0h1m15 0h1m1 0h1m2 0h1m3 0h1m1 0h1m1 0h1m-85 1h1m8 0h1m33 0h1m10 0h1m2 0h1m24 0h1m-79 1h1m4 0h1m10 0h1m10 0h1m10 0h2m50 0h1m-96 1h1m21 0h1m8 0h4m1 0h1m25 0h1m44 0h2m-108 1h1m15 0h1m4 0h1m8 0h3m1 0h2m8 0h1m56 0h1m5 0h1m-89 1h3m9 0h3m1 0h6m21 0h1m2 0h1m20 0h1m-120 1h1m52 0h3m2 0h1m7 0h2m2 0h2m-24 1h1m5 0h1m4 0h2m5 0h1m1 0h1m70 0h1m-94 1h4m9 0h1m6 0h2m22 0h1m23 0h1m3 0h1m19 0h1m-95 1h2m45 0h1m46 0h1m-96 1h1m1 0h1m1 0h1m11 0h1m31 0h1m23 0h1m14 0h1m-88 1h1m4 0h1m4 0h1m4 0h2m20 0h1m2 0h1m49 0h1m-96 1h1m9 0h1m9 0h2m21 0h1m2 0h1m55 0h1m-113 1h1m30 0h1m5 0h1m15 0h1m1 0h2m6 0h1m17 0h1m36 0h1m-106 1h2m10 0h1m2 0h1m3 0h1m15 0h1m8 0h1m6 0h3m12 0h1m21 0h3m12 0h2m2 0h1m-108 1h1m3 0h2m5 0h1m7 0h1m4 0h1m6 0h1m6 0h1m3 0h2m7 0h1m1 0h1m2 0h1m6 0h1m21 0h1m4 0h2m11 0h1m-103 1h1m14 0h1m3 0h2m9 0h1m9 0h1m3 0h1m1 0h2m2 0h3m3 0h1m30 0h1m2 0h1m-74 1h3m1 0h1m17 0h1m1 0h1m2 0h8m1 0h1m2 0h2m4 0h1m26 0h1m-90 1h1m11 0h1m6 0h1m1 0h1m21 0h7m3 0h2m1 0h1m2 0h1m13 0h2m10 0h2m13 0h2m-92 1h1m1 0h1m5 0h3m13 0h1m7 0h3m3 0h2m4 0h1m1 0h1m16 0h1m1 0h1m9 0h1m3 0h1m9 0h1m1 0h2m-116 1h1m24 0h1m1 0h1m8 0h1m11 0h1m7 0h2m4 0h1m3 0h1m1 0h4m1 0h1m19 0h1m19 0h2m-113 1h1m19 0h1m33 0h1m1 0h1m1 0h1m1 0h1m7 0h4m34 0h1m5 0h3m-146 1h1m46 0h3m11 0h1m4 0h1m15 0h1m6 0h1m9 0h2m35 0h2m5 0h2m-94 1h1m24 0h1m1 0h2m2 0h2m6 0h1m7 0h1m18 0h1m7 0h3m-48 1h2m2 0h3m3 0h1m14 0h2m18 0h2m6 0h1m1 0h1m1 0h1m2 0h1m-59 1h4m4 0h1m6 0h4m23 0h1m1 0h1m2 0h1m-48 1h3m5 0h1m19 0h1m3 0h1m11 0h1m1 0h1m7 0h2m-91 1h1m34 0h4m4 0h1m6 0h1m13 0h1m4 0h2m1 0h1m1 0h4m1 0h2m2 0h1m-80 1h1m12 0h1m2 0h1m15 0h3m11 0h1m14 0h1m6 0h1m2 0h6m-79 1h3m6 0h1m42 0h1m20 0h6m-74 1h1m2 0h1m1 0h1m10 0h1m5 0h2m5 0h1m18 0h1m17 0h1m1 0h4m9 0h1m-85 1h1m1 0h1m1 0h2m14 0h1m3 0h2m45 0h2m-81 1h1m12 0h2m13 0h1m14 0h1m7 0h1m11 0h1m17 0h1m10 0h1m-50 1h1m7 0h2m4 0h1m4 0h1m10 0h1m1 0h3m1 0h1m1 0h2m4 0h1m-64 1h1m27 0h1m20 0h1m1 0h2m1 0h1m1 0h1m1 0h2m7 0h1m-52 1h1m17 0h1m17 0h1m3 0h1m5 0h1m1 0h4m-64 1h1m1 0h1m1 0h3m6 0h2m14 0h1m1 0h1m1 0h1m15 0h1m9 0h2m-58 1h1m1 0h1m8 0h1m4 0h2m8 0h3m24 0h1m1 0h2m-77 1h1m20 0h2m12 0h3m5 0h1m17 0h1m4 0h1m2 0h1m3 0h2m-91 1h1m16 0h1m17 0h2m50 0h1m1 0h2m9 0h1m-80 1h1m4 0h1m1 0h1m7 0h1m7 0h2m41 0h1m1 0h2m-66 1h1m1 0h1m8 0h1m25 0h1m19 0h4m1 0h4m3 0h1m-76 1h1m6 0h1m2 0h2m4 0h1m47 0h5m1 0h2m4 0h1m-66 1h1m22 0h1m1 0h1m35 0h1m3 0h1m-66 1h2m24 0h1m26 0h4m2 0h1m-74 1h1m12 0h2m21 0h1m31 0h3m-70 1h1m4 0h2m44 0h1m14 0h1m1 0h2m-69 1h1m1 0h1m1 0h1m62 0h1m-68 1h1m5 0h1m66 0h1m-78 1h1m5 0h1m62 0h1m1 0h1m5 0h2m-11 1h1m-2 1h1m1 0h1m-63 1h1m59 0h1"/>
<path stroke="#e21a1c" d="M163 62h1m-44 6h1m127 13h1m0 2h1m-106 3h1m32 0h1m22 3h1m40 0h1m-51 2h2m-3 1h1m1 0h1m7 0h1m-53 1h1m49 0h1m-51 1h1m60 0h1m-14 1h1m-7 1h1m6 0h1m9 0h1m-43 1h1m17 2h1m18 0h1m2 0h1m25 0h1m-24 1h1m-58 2h1m49 0h1m-73 1h1m23 0h1m59 0h1m-48 1h1m68 0h1m-152 1h1m121 0h1m9 0h1m17 0h1m-44 1h1m30 0h1m2 0h1m2 0h1m-82 1h1m62 0h1m-1 1h2m11 0h2m-15 1h1m13 1h1m13 0h1m-47 1h1m11 0h1m41 0h1m-68 1h1m-17 1h1m56 0h1m3 0h1m-12 1h1m1 0h1m1 0h1m6 0h1m13 1h1m6 0h1m-74 1h2m1 0h2m40 0h1m-65 1h1m9 0h1m15 0h1m-18 1h1m77 1h1m-79 1h1m15 0h1m4 0h1m46 0h1m-48 1h1m-27 2h1m11 0h1m43 0h1m32 0h1m-80 1h1m21 0h1m-43 1h2m64 0h1m-62 1h1m7 0h1m41 0h1m10 0h1m2 0h1m-61 2h1m17 0h1m5 0h1m46 0h1m9 1h2m7 0h1m-74 1h1m38 1h1m14 0h1m-21 1h1m24 0h1m-31 1h1m2 0h1m20 0h1m25 0h1m-115 1h1m59 0h1m3 0h1m51 0h1m-93 1h1m33 0h1m8 0h1m-45 1h1m44 0h1m4 0h1m16 0h1m15 0h1m-58 1h1m2 0h1m23 0h1m2 0h1m10 0h1m-23 1h1m17 0h1m21 0h1m-75 2h1m62 0h1m3 1h1m3 0h1m-77 1h1m43 0h1m2 0h1m25 1h1m-75 1h1m1 1h1m42 0h1m-44 1h1m16 0h1m16 0h1m21 0h1m-40 1h1m18 1h1m25 0h1m12 0h1m3 1h1m-19 1h1m-64 1h1m16 0h1m1 0h1m28 0h1m27 0h1m-68 2h1m2 0h1m6 0h1m24 0h1m23 0h1m-67 1h1m8 0h1m4 0h1m3 0h1m-9 1h1m47 0h1m-48 1h1m56 0h1m-35 1h1m24 0h2m1 0h1m5 0h1m-8 1h1m8 0h1m-70 1h1m61 0h1m-56 1h1m57 1h2m-7 2h1m4 0h1m-4 1h1m-4 1h1m3 0h1m-18 8h1"/>
<path stroke="#f42a22" d="M211 57h1m-20 24h1m43 5h1m-18 3h1m-49 1h1m28 0h1m1 0h1m1 0h1m-95 1h1m90 1h1m42 1h1m1 0h1m-15 2h1m-5 1h1m-30 1h1m40 0h1m-82 1h1m39 0h2m6 0h1m0 1h1m18 0h2m-23 1h1m28 0h2m-130 1h1m97 0h1m19 0h1m-74 1h1m50 0h1m22 0h1m-57 1h1m68 0h1m-19 1h1m2 0h1m4 0h1m-63 1h1m22 0h1m51 0h1m-22 1h1m13 0h1m-40 1h1m17 0h1m23 0h1m-85 1h1m59 0h1m-68 1h1m58 0h1m4 0h1m7 0h1m-44 1h1m28 0h1m46 0h1m-159 1h1m114 0h1m5 0h1m-22 1h1m-51 1h1m30 0h1m9 0h1m28 0h1m34 0h1m-128 1h1m68 0h1m8 0h1m17 0h1m-34 1h1m6 0h1m-42 1h1m13 1h1m-3 1h1m25 0h1m61 0h1m-78 2h1m-24 1h1m7 0h3m3 0h1m17 1h1m-71 2h1m38 0h1m1 0h1m9 0h1m77 0h1m-91 1h1m1 0h1m4 0h1m85 0h1m-108 1h1m8 0h1m58 0h1m-56 1h2m7 0h1m17 0h1m6 0h2m5 0h1m2 0h1m46 0h1m-78 1h1m33 0h1m-46 1h1m2 0h1m18 0h1m20 0h1m10 0h1m1 0h1m15 0h1m13 0h1m-82 1h1m31 0h1m9 0h1m4 0h1m5 0h1m17 0h1m9 0h1m13 0h1m-105 1h1m2 0h1m56 0h2m1 0h1m1 0h1m21 0h1m13 0h1m-93 1h1m1 0h2m5 0h1m43 0h1m1 0h1m-55 1h1m33 1h1m5 0h1m10 0h1m-6 1h2m-13 1h1m11 1h1m7 0h1m30 0h1m4 0h1m-44 1h2m27 0h1m1 0h1m-78 1h1m42 0h1m39 0h1m-39 1h1m20 0h1m13 0h1m-20 1h1m11 0h1m-73 1h1m41 0h1m41 0h1m-61 1h1m-34 1h1m6 0h1m3 0h1m7 0h1m18 0h1m18 0h1m-45 1h1m60 0h1m1 1h1m9 0h1m-38 1h1m2 1h1m33 0h1m-14 1h1m3 0h1m3 0h1m12 0h1m-40 1h1m24 0h1m-47 1h1m-12 1h1m50 0h1m-53 3h1m23 0h1m38 0h1m-64 1h1m10 0h1m53 0h2m-70 1h1m1 0h1m1 0h1m1 0h1m35 0h1m-43 1h1m1 0h1m1 0h1m4 0h1m28 0h1m13 0h1m4 0h1m-65 2h1m65 0h1m-68 1h1m3 0h1m1 0h2m-5 1h1m62 0h2m-5 1h1m1 0h1"/>
<path stroke="#fa4c2e" d="M61 52h1m59 13h1m-55 5h1m39 5h1m86 5h1m21 1h1m-25 1h1m1 3h1m12 1h1m-22 2h1m-1 1h1m3 0h1m12 1h1m-70 2h1m5 0h1m8 0h1m44 0h1m38 0h1m9 0h1m-95 1h1m50 0h1m44 0h1m-101 1h3m36 0h1m30 0h1m-84 1h1m18 0h1m64 0h1m10 0h1m7 0h1m-102 1h1m99 0h1m1 0h1m-55 2h1m44 0h1m-13 1h1m16 0h1m5 0h1m-37 1h1m60 0h1m-95 1h1m57 0h1m-48 1h2m12 0h1m7 0h1m27 0h1m1 0h1m-149 1h1m86 0h1m30 0h2m26 0h1m-101 1h1m84 0h1m4 0h1m21 0h1m-97 1h1m41 0h1m29 0h1m-2 1h1m14 0h2m-95 1h1m2 0h1m63 1h1m5 0h1m5 0h1m14 0h1m-80 1h1m11 0h2m36 0h1m16 0h1m30 0h1m-99 1h2m65 0h1m-31 1h1m22 0h1m3 0h1m-86 1h1m51 0h1m23 0h1m33 0h1m-97 1h1m77 0h2m-104 1h1m121 0h1m-173 1h1m110 0h1m41 0h1m17 0h1m-62 1h1m14 0h1m39 0h1m-88 1h2m34 0h1m29 1h1m-59 1h1m1 0h1m66 0h1m21 0h1m1 0h1m-111 1h1m86 0h1m-80 1h1m48 0h1m8 0h1m-59 1h1m47 2h1m30 0h1m13 0h1m-94 1h1m9 0h1m28 0h1m59 0h1m-111 1h1m16 0h2m93 0h1m3 0h1m-42 1h1m-51 1h1m25 0h1m9 0h1m14 0h2m21 0h1m5 0h1m12 0h1m-85 1h1m17 0h1m9 0h1m10 0h1m30 0h1m11 0h1m-99 1h1m77 0h1m5 0h1m16 0h1m-99 1h1m11 0h1m53 0h1m4 0h1m2 0h1m3 0h2m12 0h1m-84 1h1m32 0h1m39 0h1m-76 1h1m30 0h1m11 0h2m-47 1h1m71 0h1m18 0h1m-97 1h1m4 0h1m16 0h1m25 0h1m5 0h2m14 0h1m-49 1h1m3 0h1m9 0h1m10 0h1m8 0h1m35 0h1m-78 1h1m15 0h1m3 0h1m14 0h1m15 0h1m12 0h1m-65 1h1m16 0h1m9 0h1m48 0h1m-92 1h1m35 0h1m18 0h1m25 0h1m-47 1h1m34 0h1m15 1h1m-85 1h1m65 0h1m11 0h1m-79 1h1m11 0h1m18 0h2m5 0h1m-56 1h1m30 0h1m17 1h2m38 0h1m9 0h1m-34 1h1m17 0h1m3 0h1m1 0h1m10 0h1m-60 1h1m10 0h1m7 0h1m-45 1h1m40 0h1m28 0h1m-80 1h1m51 0h1m28 0h1m2 0h1m-81 1h1m26 0h1m12 0h1m38 0h1m2 0h1m3 0h1m4 0h1m-81 1h1m72 0h1m-27 1h1m20 0h1m-45 1h1m43 0h1m-43 1h1m14 0h1m20 0h1m5 0h1m2 0h1m-73 1h1m1 0h1m4 0h1m5 0h1m5 0h1m60 0h1m-80 1h1m4 0h1m57 1h1m2 0h1m-33 1h1m36 0h1m-80 1h1m76 0h1m-23 1h1m19 0h2m-7 1h1m-62 1h1m58 2h1"/>
<path stroke="#fc663c" d="M157 72h1m-78 1h1m110 0h1m-105 7h1m-37 1h1m56 0h1m105 3h1m16 1h1m-74 1h1m29 2h1m63 0h1m-55 1h1m-60 1h1m46 0h1m8 0h1m-25 1h1m16 0h1m9 0h1m0 1h1m-80 1h1m69 0h1m24 0h1m-162 1h1m152 0h1m19 0h1m32 0h1m-164 1h1m37 0h1m59 0h1m11 0h1m25 0h1m-8 1h1m25 0h1m-122 1h1m19 0h1m9 1h1m62 0h1m10 0h1m-32 1h1m-52 1h1m47 0h1m1 0h1m33 0h1m1 0h1m-42 1h1m9 0h1m37 0h1m-42 1h1m-26 1h1m43 0h2m9 0h1m-90 1h1m21 0h1m43 0h1m4 0h1m-48 1h1m48 0h1m4 0h1m-55 1h1m35 0h1m11 0h1m19 0h1m2 0h1m-75 1h1m1 0h1m28 0h1m6 0h1m-122 1h1m62 0h1m20 0h1m23 0h1m28 0h1m-21 1h2m4 0h1m-98 1h1m93 0h1m2 0h1m1 0h1m9 0h2m44 0h1m-134 1h1m86 0h1m7 0h1m23 0h1m-102 1h1m63 0h1m11 0h2m16 0h1m1 0h1m-124 1h1m3 0h1m2 0h1m29 0h1m25 0h1m31 0h2m11 0h1m-70 1h1m20 0h1m42 0h1m17 0h1m3 0h1m-81 1h1m24 0h1m4 0h1m17 0h1m-17 1h1m-54 1h1m40 0h1m-36 1h1m29 0h1m23 0h1m-31 1h1m9 0h1m2 0h1m9 1h1m-52 1h1m80 0h1m-91 1h1m37 0h1m63 0h1m-126 1h1m21 0h1m16 0h1m3 1h1m-12 1h1m89 0h1m-64 1h1m-22 1h1m2 0h1m9 0h1m31 0h1m53 0h1m-100 1h1m19 0h1m38 0h1m-62 1h1m45 0h1m3 0h1m18 0h1m22 0h1m10 0h1m1 0h1m-62 1h1m9 0h1m3 0h1m14 0h1m7 0h1m22 0h1m-114 1h1m59 0h1m19 0h1m30 0h1m3 0h1m-94 1h1m19 0h1m4 0h1m18 0h1m2 0h1m25 0h2m9 0h1m-113 1h1m15 0h1m44 0h1m12 0h1m11 0h1m22 0h1m-86 1h1m11 0h1m38 0h1m1 0h1m33 0h1m-64 1h1m56 0h1m1 0h1m2 0h1m-84 1h1m22 0h1m8 0h1m3 0h1m6 0h1m24 0h1m14 0h1m-84 1h1m74 0h1m-76 1h1m20 0h1m30 0h1m12 0h1m-72 1h1m29 0h1m11 0h1m21 0h1m5 0h1m10 0h1m-62 1h1m45 0h2m2 0h1m-25 1h1m3 0h1m8 0h1m3 0h1m2 0h1m2 0h1m1 0h1m13 0h1m2 0h1m-88 1h1m25 0h1m1 0h1m13 0h1m6 0h1m2 0h1m8 0h1m-36 1h1m-27 1h1m2 0h1m4 0h1m28 0h1m3 0h1m27 0h1m-20 1h1m14 0h1m10 0h1m-53 1h1m9 0h1m49 0h1m-67 1h1m2 0h1m4 0h1m50 0h1m8 0h1m-95 1h1m34 0h1m51 0h1m-54 1h1m51 0h1m6 0h1m-64 1h1m9 0h1m8 0h1m33 0h1m6 0h1m1 0h1m-58 1h1m8 0h1m-19 1h1m1 0h1m12 0h1m1 0h1m12 0h1m1 0h1m15 0h1m5 0h1m7 0h2m-61 1h1m27 0h1m37 0h1m-80 2h1m1 1h1m15 0h1m-17 1h1m67 0h1m3 0h1m-78 1h1m5 0h1m63 0h1m-75 1h1m17 0h1m56 0h1m-60 1h1m51 0h1m2 1h1m3 0h1m-8 1h2m2 0h1m-65 1h1m1 0h1m40 0h1m4 0h1m20 0h1m1 1h1m-11 1h1m-63 1h1m62 0h1"/>
<path stroke="#fc7e46" d="M165 37h1m51 10h1m-93 8h1m5 10h1m14 0h1m-29 1h1m53 4h1m15 0h1m-7 5h1m-72 1h1m79 4h1m-9 2h1m-82 1h1m39 0h1m81 0h1m20 0h1m-189 1h1m182 1h1m-144 3h1m96 1h2m37 0h1m-96 1h1m54 0h1m-54 1h1m-88 1h1m38 0h1m149 0h1m1 0h1m-111 1h1m52 0h1m6 0h1m18 0h1m-58 1h1m28 0h1m4 0h1m10 0h1m-71 1h1m2 0h1m15 0h1m27 0h1m10 0h1m67 0h1m-137 1h1m28 0h1m78 0h1m1 0h1m6 0h1m-67 1h1m4 0h1m59 0h1m-13 1h1m6 0h1m7 0h1m-49 1h1m33 0h1m15 0h1m-77 1h1m76 0h1m2 0h1m-188 1h1m108 0h1m33 0h1m-50 1h1m84 0h1m-113 1h1m25 0h1m16 0h1m64 0h1m-71 1h1m46 0h1m7 0h1m13 0h1m-83 1h1m61 0h1m9 0h1m7 0h1m-144 1h1m37 0h1m15 0h1m50 0h1m36 0h1m-147 1h1m56 0h1m2 0h1m23 0h1m33 0h1m4 0h1m24 0h1m1 0h1m-89 1h1m12 0h1m6 0h1m49 0h2m2 0h1m14 0h1m6 0h2m-99 1h1m24 0h1m32 0h1m4 0h1m1 1h1m22 0h1m1 0h1m21 0h1m-166 1h1m37 0h1m45 0h1m7 0h1m21 0h1m4 0h1m-89 1h1m21 0h1m13 0h1m77 0h1m-81 1h1m22 0h1m65 0h1m-131 1h2m66 0h1m56 0h1m5 0h1m-173 1h1m68 0h1m22 0h1m46 0h1m40 0h1m-133 1h1m29 0h1m30 0h1m54 0h1m-86 1h1m22 0h1m4 0h1m36 0h1m8 0h1m-77 1h1m26 0h1m10 0h1m11 0h1m13 0h1m11 0h1m-108 1h1m25 0h1m7 0h1m28 0h1m-56 1h1m20 0h1m7 0h1m7 0h1m20 0h1m13 0h1m5 0h1m-45 1h1m15 0h1m-64 1h1m31 0h1m18 0h1m95 0h1m-141 1h1m50 1h1m2 0h1m31 0h1m34 0h1m-70 1h1m31 0h1m2 0h2m4 0h1m-42 1h1m7 0h1m65 0h1m6 0h1m-109 1h1m92 0h1m13 0h1m-102 1h1m21 0h1m14 0h1m1 0h1m14 0h1m28 0h1m5 0h1m1 0h1m-124 1h1m24 0h1m42 0h1m24 0h1m1 0h1m21 0h1m-90 1h1m42 0h1m6 0h1m12 0h1m22 0h1m-86 1h2m54 0h1m24 0h1m20 0h1m-116 1h1m24 0h1m23 0h1m1 0h1m41 0h1m19 0h1m-45 1h1m-49 1h1m39 0h1m16 0h1m30 0h1m-95 1h1m3 0h1m1 0h1m27 0h1m16 0h1m-7 1h1m18 0h1m27 0h1m3 0h1m-109 1h1m16 0h1m35 0h1m46 0h1m5 0h1m-82 1h1m20 0h1m22 0h1m15 0h3m19 0h1m-35 1h1m31 0h1m-48 1h1m1 0h1m37 0h1m1 0h1m1 0h1m-84 1h1m40 0h1m10 0h1m3 0h1m25 0h1m-51 1h1m-30 1h1m28 0h1m-43 1h1m2 0h1m24 0h1m2 0h1m12 0h1m14 0h2m20 0h1m-53 1h1m7 0h1m9 0h1m5 0h1m1 0h1m23 0h1m5 0h1m3 0h1m-37 1h1m2 0h1m5 0h1m4 0h1m21 0h1m8 0h1m-83 1h1m27 0h1m12 0h1m3 0h1m13 0h1m19 0h1m-102 1h1m89 0h1m10 0h1m-43 1h1m32 0h1m-57 1h1m18 0h1m3 0h1m2 0h1m4 0h1m3 0h1m9 0h1m7 0h1m-17 1h1m15 0h1m-77 1h1m11 0h1m26 0h1m8 0h1m33 0h1m-61 1h1m61 0h1m-11 1h1m-31 1h1m13 0h2m-23 1h1m10 0h1m24 0h1m14 0h1m-72 1h1m58 0h1m7 0h1m-73 1h1m-4 1h1m63 0h1m-69 1h1m0 1h1m65 0h1m-65 1h1m66 1h1m8 0h1m-73 1h1m69 0h1m-10 2h1m-6 7h1"/>
<path stroke="#fd9652" d="M195 37h1m-48 5h1m-1 1h1m-30 8h1m-58 3h1m34 7h1m19 6h1m-3 1h2m-22 3h1m41 2h1m-47 3h1m-12 1h1m58 1h1m52 2h1m3 0h1m14 0h1m-19 1h1m49 0h1m-195 2h1m160 0h1m-160 2h2m68 0h1m22 0h1m9 0h1m15 0h1m-111 1h1m82 0h1m-7 1h1m17 0h1m16 1h1m-37 1h1m35 0h1m14 0h1m18 0h1m-114 1h1m2 0h1m22 0h1m86 0h1m-66 1h1m21 0h1m31 0h1m3 0h1m3 0h1m-63 1h1m43 0h1m12 0h1m-49 1h1m34 0h1m2 0h1m13 0h1m29 0h1m9 0h1m14 0h1m-114 1h1m7 0h1m34 0h2m19 0h1m36 0h1m-147 1h1m46 0h1m44 0h1m9 0h1m6 0h1m25 0h1m1 0h1m-107 1h2m8 0h1m1 0h1m9 0h1m43 0h1m3 0h1m60 0h1m-112 1h1m3 0h1m32 0h2m30 0h1m8 0h1m6 0h1m27 0h1m-150 1h1m40 0h1m52 0h1m29 0h1m-85 1h1m10 0h1m77 0h1m11 0h1m1 0h1m-18 1h1m-37 1h1m1 0h1m5 0h1m29 1h1m-32 1h1m11 0h1m17 0h1m-93 1h1m53 0h3m4 0h1m12 0h1m-72 1h2m9 0h1m46 0h1m-126 1h1m60 0h1m7 0h1m33 0h1m12 0h1m17 0h1m-129 1h1m53 0h1m2 0h1m70 0h1m4 0h1m1 0h1m12 0h1m-167 1h1m117 0h1m15 0h1m11 0h1m2 0h1m4 0h1m-151 1h1m46 0h1m30 0h1m77 0h1m-102 1h1m19 0h1m30 0h1m22 0h1m19 0h1m14 0h1m4 0h1m-123 1h1m6 0h1m31 0h1m18 0h1m70 0h1m-127 1h1m3 0h1m31 0h1m14 0h1m10 0h1m23 0h1m4 0h1m13 0h2m-112 1h1m3 0h1m15 0h1m12 0h1m61 0h1m9 0h1m8 0h1m-136 1h1m28 0h1m118 0h1m-97 1h1m15 0h1m21 0h1m31 0h1m-91 1h1m6 0h1m77 0h1m-85 1h1m8 0h1m6 0h1m32 0h1m43 0h1m10 0h1m-63 1h1m68 0h1m3 0h1m-112 1h1m34 0h1m-25 1h1m29 0h1m9 0h1m6 0h1m-49 1h1m8 0h1m19 0h1m3 0h1m69 0h1m-128 1h1m26 0h1m8 0h1m61 0h1m6 0h1m-117 1h1m2 0h1m33 0h1m1 0h1m8 0h1m43 0h1m33 0h1m-123 1h1m29 0h1m3 0h1m4 0h1m2 0h1m30 0h1m16 0h1m4 0h1m-57 1h1m22 0h2m57 0h1m-102 1h1m12 0h1m10 0h1m50 0h1m-66 1h1m22 0h1m5 0h1m61 0h1m-82 1h1m1 0h1m59 0h1m27 0h1m14 0h1m-105 1h2m45 0h1m10 0h1m-12 1h1m4 0h1m3 0h1m10 0h1m11 0h2m8 0h1m5 0h1m-137 1h1m56 0h1m15 0h1m27 0h1m23 0h1m1 0h1m4 0h1m6 0h1m-106 1h1m1 0h2m10 0h1m4 0h1m23 0h1m32 0h1m16 0h1m4 0h1m-87 1h1m26 0h1m6 0h1m11 0h1m40 0h1m-94 1h1m73 0h1m-92 1h1m14 0h1m2 0h1m70 0h1m-18 1h1m16 0h1m6 0h1m-95 1h1m25 0h1m16 0h1m19 0h1m10 0h1m-18 1h1m5 0h1m1 0h1m23 0h1m2 0h1m-81 1h1m31 0h1m4 0h1m7 0h1m24 0h1m2 0h1m-72 1h1m19 0h1m19 0h3m3 0h1m6 0h1m22 0h1m7 0h1m-50 1h1m28 0h1m17 0h1m9 0h1m-69 1h1m19 0h1m7 0h1m1 0h1m35 0h1m-95 1h1m14 0h1m1 0h1m13 0h1m18 0h1m5 0h1m1 0h1m1 0h2m-63 1h1m6 0h1m20 0h1m-20 1h1m3 0h1m4 0h1m42 0h1m3 0h1m13 0h1m7 0h1m4 0h1m2 0h1m-78 1h1m62 0h1m4 0h1m-117 1h1m61 0h1m43 0h1m5 0h1m9 0h1m-107 1h1m4 0h1m98 0h2m-102 1h1m21 0h1m43 0h1m1 0h1m30 0h1m-99 1h1m1 0h1m17 0h2m32 0h1m31 0h1m-86 1h1m21 0h1m39 0h1m1 0h1m7 0h1m-28 1h1m33 0h1m12 0h1m-65 1h1m23 0h1m7 0h1m3 0h1m15 0h1m18 0h1m-77 1h1m4 0h1m6 0h1m2 0h1m3 0h1m9 0h1m27 0h1m-63 1h1m8 0h1m22 0h1m11 0h1m2 0h1m-38 1h1m3 0h1m63 0h1m-72 1h2m14 0h1m27 0h1m3 0h1m12 0h1m-70 1h1m5 0h1m7 0h1m30 0h1m30 0h1m3 0h1m-78 1h1m1 0h1m7 0h1m1 0h1m4 0h1m34 0h1m13 0h1m-61 1h1m58 0h1m-65 1h1m50 1h1m12 0h1m5 0h2m-79 1h1m12 0h1m45 0h1m-47 1h1m58 0h1"/>
<path stroke="#fdae60" d="M53 40h1m92 1h1m21 1h1m-109 2h1m87 0h1m3 3h1m-97 2h1m156 0h1m-91 1h1m-60 3h1m175 4h1m-166 4h1m48 7h1m123 5h1m-154 1h1m102 0h1m-97 1h1m-31 2h1m90 0h1m8 0h1m37 0h1m-112 1h1m85 1h1m70 0h1m-62 1h1m47 0h1m-61 1h1m10 0h1m-135 1h1m58 0h1m113 0h1m11 0h1m-129 1h1m50 0h1m14 1h1m9 0h1m-51 1h1m53 0h1m-68 1h1m11 0h1m13 0h1m-28 1h1m12 0h1m50 1h1m1 0h1m5 0h1m-63 1h1m-33 1h1m12 0h1m15 0h1m4 0h1m99 0h1m-122 1h1m23 0h1m41 0h1m13 0h1m-86 1h1m4 0h1m1 0h1m90 0h1m14 0h1m26 0h1m-197 1h1m73 0h1m1 0h1m65 0h1m-129 1h1m27 0h1m15 0h1m7 0h1m24 0h1m9 0h1m33 0h1m5 0h1m36 0h1m6 0h1m12 0h1m-103 1h1m32 0h1m48 0h1m-109 1h1m2 0h1m5 0h1m16 0h1m22 0h1m37 0h1m-85 1h2m1 0h1m6 0h1m6 0h1m23 0h1m9 0h1m11 0h1m-85 1h1m1 0h1m18 0h1m15 0h1m30 0h1m59 0h1m-140 1h1m51 0h1m56 0h1m15 0h1m4 0h1m5 0h2m-70 1h1m35 0h1m36 0h1m14 0h1m-152 1h1m5 0h1m19 0h1m33 0h1m21 0h1m5 0h1m7 0h1m9 0h1m-65 1h1m76 0h2m-141 1h1m86 0h1m11 0h1m12 0h1m19 0h1m3 0h1m-127 1h1m40 0h1m2 0h1m78 0h1m-107 1h1m13 0h1m10 0h1m9 0h1m2 0h1m9 0h1m1 0h1m28 0h1m29 0h1m3 0h1m6 0h1m-118 1h2m38 0h1m73 0h1m1 0h1m7 0h1m-157 1h1m33 0h1m4 0h1m2 0h1m14 0h1m35 0h1m44 0h1m-96 1h1m21 0h1m98 0h1m7 0h1m-181 1h1m39 0h1m9 0h1m88 0h1m5 0h1m6 0h1m12 0h1m-139 1h1m21 0h2m7 0h1m11 0h1m28 0h1m11 0h1m49 0h1m7 0h1m-101 1h1m6 0h1m22 0h1m6 0h1m18 0h1m12 0h1m11 0h1m15 0h1m3 0h1m22 0h1m-125 1h1m15 0h1m15 0h1m16 0h1m55 0h1m3 0h1m-134 1h2m2 0h1m3 0h1m16 0h2m6 0h1m2 0h1m7 0h1m51 0h1m22 0h1m2 0h1m1 0h1m-125 1h1m4 0h1m27 0h1m21 0h1m23 0h1m40 0h1m2 0h1m-141 1h1m9 0h1m1 0h1m5 0h1m8 0h1m11 0h1m8 0h1m3 0h2m37 0h1m22 0h1m6 0h1m-149 1h1m58 0h2m43 0h1m10 0h1m28 0h1m15 0h1m3 0h1m7 0h1m-114 1h2m4 0h1m17 0h1m6 0h1m53 0h1m16 0h1m-114 1h1m14 0h1m4 0h1m1 0h1m58 0h1m4 0h1m-69 1h1m59 0h1m-55 1h1m2 0h1m9 0h1m20 0h1m1 0h2m-70 1h1m15 0h1m7 0h1m43 0h1m15 0h1m24 0h1m-131 1h1m46 0h1m-32 1h1m28 0h1m17 0h1m25 0h1m21 0h1m19 0h3m15 0h1m-120 1h1m13 0h1m21 0h1m1 0h1m4 0h1m85 0h1m-139 1h1m123 0h1m-88 1h1m36 0h1m5 0h1m1 0h1m21 0h1m27 0h1m-128 1h1m21 0h1m15 0h1m30 0h1m8 0h1m16 0h1m3 0h1m14 0h2m-104 1h1m7 0h1m19 0h1m7 0h1m28 0h1m2 0h1m24 0h1m1 0h1m22 0h1m1 0h1m-102 1h1m39 0h1m2 0h2m3 0h1m10 0h1m1 0h1m19 0h1m10 0h1m8 0h1m-103 1h1m4 0h1m9 0h1m8 0h1m14 0h1m3 0h1m14 0h1m6 0h1m10 0h1m20 0h1m6 0h1m-121 1h1m3 0h1m17 0h1m3 0h1m32 0h1m52 0h1m-91 1h1m2 0h1m19 0h1m28 0h1m18 0h1m18 0h1m6 0h2m-116 1h1m12 0h1m1 0h1m1 0h1m15 0h1m13 0h1m26 0h1m2 0h1m38 0h1m-104 1h1m2 0h1m1 0h1m8 0h1m2 0h1m79 0h1m-135 1h1m85 0h1m-63 1h2m10 0h1m34 0h1m3 0h1m1 0h1m10 0h1m13 0h1m-21 1h2m18 0h1m33 0h1m-113 1h1m14 0h1m2 0h1m34 0h1m4 0h1m19 0h1m-58 1h1m70 0h1m14 0h1m-102 1h1m11 0h1m18 0h1m66 0h2m-84 1h1m3 0h1m29 0h1m2 0h1m-55 1h1m12 0h1m5 0h1m22 0h1m8 0h1m41 0h1m9 0h1m-46 1h1m20 0h1m5 0h1m11 0h1m-66 1h1m6 0h2m41 0h1m-73 1h1m27 0h1m9 0h1m4 0h1m2 0h1m29 0h1m-113 1h1m30 0h1m9 0h2m43 0h1m-62 1h2m25 0h1m27 0h1m12 0h1m3 0h1m1 0h1m29 0h1m-96 1h1m25 0h1m28 0h1m2 0h1m15 0h1m20 0h1m-107 1h2m8 0h1m28 0h1m3 0h1m5 0h1m5 0h1m15 0h1m14 0h1m-88 1h1m48 0h1m22 0h1m3 0h1m14 0h1m16 0h1m-105 1h1m2 0h1m8 0h2m11 0h1m5 0h1m31 0h1m21 0h1m7 0h1m-81 1h1m6 0h1m4 0h1m12 0h1m22 0h1m7 0h1m9 0h1m9 0h1m-62 1h1m15 0h1m6 0h1m4 0h1m10 0h1m8 0h1m6 0h1m-62 1h1m64 0h1m-62 1h1m9 0h2m26 0h1m11 0h1m3 0h1m3 0h1m-49 1h1m3 0h1m25 0h1m5 0h1m-38 1h1m33 0h1m3 0h1m16 0h1m1 0h1m-62 1h1m24 0h1m15 0h1m9 0h2m-61 1h1m2 0h1m2 0h1m27 0h1m-39 1h1m35 0h1m0 1h1m26 0h1m9 1h1m-76 1h1m1 0h1m66 1h1m1 0h1m-66 1h1m46 1h1m8 0h1m6 0h1m-18 5h1m8 3h1"/>
<path stroke="#fdc272" d="M196 38h1m-50 3h1m6 1h1m40 1h1m-47 1h1m-18 2h1m22 0h1m-95 1h1m93 1h1m-32 3h1m28 0h1m-90 5h1m70 0h1m-34 2h1m-47 1h1m64 5h1m50 0h1m-111 1h1m53 1h1m-38 2h1m-26 1h1m18 1h1m59 0h1m35 0h1m-105 4h1m128 0h1m-61 1h1m-78 1h1m1 0h1m13 1h1m139 0h2m23 0h1m-164 2h1m49 0h1m115 0h1m-121 1h1m71 0h1m48 0h1m-141 1h1m27 0h1m107 0h1m-189 1h1m49 0h1m9 0h2m41 0h1m39 0h1m59 0h1m1 0h1m-170 1h1m54 0h1m1 0h1m40 0h1m6 0h1m-140 1h1m67 0h2m46 0h1m-77 1h1m26 0h2m21 0h1m84 0h1m-136 1h1m52 0h1m-8 1h1m15 0h1m1 0h1m-78 1h1m38 0h1m23 0h1m47 0h1m-72 1h1m22 0h1m45 0h1m-138 1h1m52 0h1m65 0h1m16 0h1m17 0h1m-148 1h1m35 0h1m9 0h1m9 0h1m27 0h1m46 0h1m43 0h1m8 0h1m11 0h1m-207 1h1m20 0h1m4 0h2m23 0h1m7 0h1m2 0h1m6 0h1m27 0h2m1 0h1m2 0h1m60 0h1m32 0h1m-148 1h1m18 0h2m25 0h1m58 0h1m33 0h2m-186 1h1m44 0h3m19 0h1m1 0h1m75 0h1m35 0h1m-181 1h1m56 0h1m3 0h2m1 0h1m14 0h1m2 0h1m6 0h1m3 0h1m91 0h1m-129 1h1m1 0h1m11 0h1m21 0h1m51 0h1m2 0h1m15 0h1m-130 1h1m12 0h1m17 0h1m7 0h1m1 0h1m59 0h1m9 0h1m6 0h1m41 0h1m-197 1h1m49 0h1m49 0h1m33 0h1m22 0h1m8 0h1m13 0h2m20 0h1m-132 1h1m82 0h1m-102 1h1m7 0h1m56 0h1m58 0h1m-115 1h2m33 0h1m1 0h1m38 0h1m6 0h1m24 0h1m15 0h1m2 0h1m-139 1h1m1 0h1m21 0h1m20 0h1m37 0h1m11 0h1m11 0h1m24 0h1m-121 1h1m31 0h2m6 0h1m8 0h1m1 0h1m20 0h1m26 0h1m14 0h1m5 0h1m4 0h1m-98 1h1m1 0h2m14 0h1m61 0h1m17 0h1m21 0h1m-151 1h1m9 0h1m33 0h1m1 0h1m9 0h1m22 0h1m10 0h1m14 0h1m9 0h1m2 0h1m23 0h1m-174 1h1m54 0h1m1 0h1m11 0h1m13 0h1m6 0h1m28 0h1m7 0h1m11 0h1m-108 1h1m10 0h1m3 0h1m20 0h1m6 0h1m46 0h1m10 0h1m22 0h2m-93 1h1m8 0h1m37 0h1m43 0h1m11 0h1m-180 1h1m17 0h1m18 0h1m15 0h1m1 0h1m17 0h1m4 0h1m31 0h1m6 0h1m22 0h1m11 0h1m18 0h1m10 0h1m4 0h1m-134 1h1m20 0h4m14 0h1m15 0h1m1 0h1m2 0h1m6 0h1m18 0h1m23 0h1m22 0h1m-185 1h1m36 0h1m2 0h1m33 0h1m4 0h1m2 0h1m10 0h1m38 0h1m1 0h1m26 0h1m-172 1h1m54 0h1m8 0h1m17 0h1m6 0h1m27 0h1m28 0h1m4 0h1m34 0h1m-138 1h1m9 0h1m14 0h1m10 0h1m24 0h1m6 0h1m7 0h1m2 0h1m10 0h1m32 0h1m1 0h1m6 0h1m2 0h1m-149 1h1m18 0h1m9 0h1m13 0h1m2 0h1m1 0h1m5 0h1m11 0h1m7 0h1m8 0h1m4 0h1m1 0h1m1 0h1m2 0h1m14 0h1m-139 1h1m26 0h2m17 0h1m4 0h2m20 0h1m12 0h1m1 0h1m10 0h1m9 0h1m12 0h1m4 0h1m17 0h1m36 0h1m-116 1h1m6 0h1m39 0h1m1 0h1m5 0h1m18 0h1m3 0h1m-100 1h1m27 0h1m36 0h2m6 0h1m42 0h1m-118 1h1m3 0h1m16 0h1m6 0h1m2 0h1m21 0h1m9 0h1m5 0h1m7 0h1m18 0h1m13 0h1m-118 1h2m9 0h1m5 0h1m59 0h1m9 0h1m7 0h1m7 0h1m-88 1h1m30 0h2m14 0h1m52 0h1m-137 1h1m16 0h1m13 0h1m17 0h1m10 0h1m15 0h1m32 0h1m-71 1h1m9 0h1m4 0h1m2 0h1m14 0h1m39 0h1m3 0h1m24 0h1m19 0h1m-142 1h1m1 0h2m31 0h1m11 0h1m8 0h1m94 0h1m-152 1h1m2 0h1m8 0h1m15 0h1m2 0h1m6 0h1m11 0h1m37 0h1m37 0h1m22 0h1m-137 1h1m13 0h1m17 0h1m16 0h1m17 0h1m1 0h1m13 0h1m25 0h1m9 0h1m17 0h1m-143 1h1m38 0h1m33 0h1m49 0h1m-138 1h1m7 0h1m24 0h1m6 0h1m7 0h1m48 0h1m6 0h1m17 0h1m21 0h2m1 0h1m-112 1h1m4 0h1m46 0h1m10 0h1m24 0h1m2 0h1m12 0h1m1 0h1m7 0h1m-125 1h1m2 0h1m30 0h1m60 0h1m24 0h1m-108 1h1m3 0h1m12 0h1m54 0h1m3 0h2m1 0h1m6 0h1m1 0h1m11 0h1m-10 1h1m9 0h1m-129 1h1m36 0h1m85 0h1m14 0h1m-142 1h1m21 0h1m1 0h1m88 0h1m11 0h1m7 0h1m6 0h1m1 0h1m-108 1h1m71 0h1m13 0h1m4 0h1m15 0h1m-148 1h1m37 0h1m5 0h1m48 0h1m15 0h1m12 0h2m12 0h1m-23 1h1m5 0h1m7 0h1m-99 1h1m21 0h1m80 0h1m4 0h1m-90 1h1m69 0h1m-72 1h1m57 0h1m11 0h1m15 0h1m-90 1h1m8 0h1m43 0h1m10 0h1m1 0h1m12 0h1m-134 1h1m50 0h1m21 0h1m12 0h1m9 0h1m6 0h1m5 0h1m2 0h1m31 0h1m-142 1h1m24 0h1m13 0h2m94 0h1m-82 1h1m29 0h1m2 0h1m15 0h1m-53 1h1m26 0h1m16 0h1m2 0h1m12 0h1m-43 1h1m10 0h1m41 0h1m10 0h1m-87 1h2m34 0h1m48 0h1m-86 1h1m2 0h1m9 0h1m2 0h1m1 0h1m9 0h1m4 0h1m6 0h1m5 0h1m21 0h2m23 0h1m-94 1h1m16 0h1m27 0h2m1 0h1m2 0h1m-58 1h1m12 0h1m37 0h1m2 0h1m14 0h1m3 0h1m7 0h1m-87 1h1m52 0h1m13 0h2m22 0h1m-43 1h1m36 0h1m-96 1h1m16 0h1m40 0h1m22 0h1m3 0h1m12 0h1m-63 1h1m9 0h1m8 0h1m21 0h1m20 1h1m-67 1h1m21 0h1m6 0h1m35 0h1m-49 1h1m20 0h1m12 0h1m9 0h1m15 0h1m-81 1h1m1 0h1m19 0h1m30 0h1m11 0h1m-64 1h1m7 0h1m10 0h1m1 0h1m19 0h1m-34 1h1m54 0h1m9 0h1m-73 1h1m8 0h1m47 0h1m-59 1h1m68 0h1m9 0h1m-75 1h1m2 0h1m54 1h1m1 0h1m-57 2h1"/>
<path stroke="#fed686" d="M164 38h1m-11 2h2m13 1h2m-32 1h1m-92 1h1m17 0h1m75 0h1m4 0h1m-92 2h1m73 0h1m20 1h1m0 4h1m-2 1h1m-88 3h1m95 0h1m-97 1h1m72 0h1m18 0h1m-54 1h1m53 0h1m83 0h1m-182 1h1m30 0h1m64 0h1m1 0h1m-67 1h1m65 0h1m-99 1h1m108 0h1m-68 1h1m3 0h1m2 0h1m58 0h1m-72 3h1m29 0h1m-72 1h1m6 0h1m1 1h1m0 1h1m58 2h1m-52 1h1m10 0h1m84 1h1m-4 1h1m2 0h1m-115 1h1m2 0h1m14 0h2m20 1h1m-26 1h1m63 0h1m8 0h1m-50 1h1m37 0h1m-34 1h1m72 0h1m36 0h1m26 0h1m-146 1h1m6 0h1m75 0h1m35 0h1m-137 1h1m110 0h1m50 2h1m17 0h1m-197 1h1m41 0h1m150 0h1m-202 1h1m132 0h1m61 0h1m1 0h1m3 0h1m-202 1h1m7 0h2m60 0h1m26 0h1m21 0h1m8 0h1m22 0h1m-59 1h1m12 0h1m1 0h1m7 0h1m82 0h1m-198 1h1m49 0h1m10 0h1m16 0h1m34 0h1m61 0h1m25 0h1m-202 1h1m5 0h1m34 0h1m34 0h1m5 0h1m23 0h1m11 0h1m58 0h1m-90 1h1m5 0h1m58 0h1m51 0h1m-185 1h1m63 0h1m32 0h1m1 0h1m3 0h1m3 0h1m1 0h1m51 0h1m-172 1h1m56 0h1m5 0h1m48 0h1m-37 1h1m4 0h1m2 0h1m3 0h1m32 0h1m2 0h1m53 0h2m-183 1h1m7 0h1m37 0h1m4 0h1m2 0h2m5 0h1m8 0h1m2 0h1m8 0h1m5 0h1m77 0h1m17 0h1m-184 1h1m51 0h1m1 0h1m4 0h1m4 0h1m6 0h1m57 0h1m10 0h1m2 0h1m48 0h1m-203 1h1m10 0h1m10 0h1m3 0h1m20 0h1m1 0h1m17 0h1m2 0h1m3 0h3m1 0h1m14 0h1m30 0h1m58 0h1m20 0h1m-178 1h1m12 0h1m26 0h1m1 0h1m8 0h1m4 0h1m7 0h1m111 0h1m-160 1h1m12 0h1m2 0h1m10 0h2m4 0h1m12 0h1m13 0h1m27 0h1m15 0h1m9 0h1m4 0h1m12 0h1m15 0h1m-145 1h1m1 0h2m8 0h1m9 0h1m12 0h1m37 0h1m6 0h1m8 0h1m3 0h1m50 0h1m9 0h1m7 0h1m-164 1h1m3 0h1m7 0h2m42 0h1m49 0h2m16 0h1m31 0h1m-192 1h1m39 0h1m5 0h1m8 0h1m11 0h1m4 0h1m23 0h1m15 0h1m32 0h1m51 0h1m-187 1h1m27 0h1m10 0h1m29 0h1m8 0h1m16 0h1m22 0h1m55 0h2m-190 1h1m1 0h1m10 0h1m6 0h1m72 0h1m27 0h1m5 0h1m18 0h1m8 0h1m15 0h1m21 0h1m-134 1h1m1 0h1m28 0h1m14 0h1m64 0h1m31 0h1m-205 1h1m45 0h1m21 0h1m36 0h2m6 0h1m15 0h1m46 0h1m-154 1h1m43 0h2m8 0h1m16 0h1m24 0h1m42 0h1m17 0h1m-166 1h1m7 0h1m7 0h1m14 0h1m7 0h1m20 0h1m16 0h1m1 0h1m7 0h1m26 0h2m18 0h1m21 0h2m33 0h1m-209 1h1m24 0h1m34 0h1m17 0h1m8 0h1m2 0h1m5 0h1m9 0h2m7 0h1m15 0h1m2 0h1m3 0h1m20 0h1m4 0h1m15 0h1m27 0h1m-192 1h1m41 0h1m16 0h1m1 0h2m9 0h1m3 0h1m19 0h1m18 0h1m6 0h1m14 0h1m14 0h1m8 0h1m-111 1h1m27 0h1m15 0h1m30 0h1m27 0h1m20 0h1m-173 1h1m4 0h1m16 0h1m11 0h1m2 0h2m5 0h2m1 0h1m45 0h1m22 0h1m6 0h1m2 0h1m39 0h1m-173 1h1m1 0h1m1 0h1m30 0h1m8 0h1m6 0h1m3 0h1m20 0h2m3 0h1m8 0h1m9 0h1m18 0h1m1 0h1m21 0h1m20 0h1m6 0h1m13 0h2m-165 1h1m17 0h1m17 0h1m3 0h1m9 0h1m2 0h1m10 0h2m2 0h2m34 0h1m41 0h1m13 0h1m3 0h1m-81 1h1m4 0h1m36 0h1m8 0h1m1 0h1m-140 1h1m49 0h1m6 0h1m1 0h1m4 0h1m5 0h1m11 0h1m20 0h1m9 0h1m30 0h1m10 0h1m-135 1h1m2 0h2m36 0h1m13 0h1m15 0h1m19 0h1m29 0h1m2 0h1m10 0h1m19 0h1m-155 1h1m4 0h1m6 0h1m14 0h1m4 0h1m10 0h1m7 0h1m21 0h1m15 0h1m42 0h1m3 0h1m17 0h1m-188 1h2m36 0h1m9 0h1m20 0h1m38 0h1m12 0h1m24 0h1m-154 1h1m28 0h1m15 0h1m19 0h1m2 0h1m11 0h1m47 0h1m40 0h1m-140 1h1m6 0h1m7 0h1m7 0h1m10 0h1m22 0h1m10 0h1m11 0h1m4 0h1m9 0h1m8 0h1m9 0h1m20 0h1m11 0h1m-140 1h1m12 0h1m34 0h2m9 0h1m9 0h1m57 0h2m-154 1h1m49 0h1m5 0h1m6 0h1m14 0h2m39 0h1m2 0h1m55 0h1m-160 1h1m19 0h2m3 0h1m37 0h1m16 0h1m8 0h1m28 0h1m-118 1h1m14 0h1m8 0h1m66 0h1m10 0h1m19 0h1m11 0h1m-140 1h1m20 0h1m62 0h1m14 0h1m23 0h1m21 0h1m3 0h2m-171 1h1m35 0h1m12 0h1m17 0h1m16 0h1m45 0h1m32 0h1m18 0h1m-154 1h1m34 0h1m11 0h1m6 0h1m22 0h1m27 0h1m9 0h1m12 0h1m1 0h1m-125 1h1m2 0h2m2 0h1m51 0h1m29 0h1m58 0h1m-149 1h1m1 0h1m12 0h1m3 0h1m12 0h1m47 0h1m5 0h1m13 0h1m26 0h1m16 0h1m1 0h1m-157 1h1m7 0h1m3 0h1m45 0h1m14 0h1m21 0h1m1 0h1m4 0h1m7 0h1m9 0h1m15 0h1m4 0h1m8 0h2m-140 1h1m26 0h1m2 0h1m12 0h1m48 0h1m13 0h1m5 0h1m2 0h1m-108 1h1m1 0h1m79 0h1m8 0h1m6 0h1m21 0h1m-123 1h1m21 0h1m15 0h1m51 0h1m28 0h1m7 0h1m-95 1h1m9 0h1m14 0h1m8 0h1m50 0h1m10 0h1m-145 1h1m1 0h1m12 0h1m5 0h1m4 0h2m52 0h1m2 0h1m10 0h1m25 0h1m-70 1h1m69 0h1m-139 1h1m21 0h1m15 0h2m21 0h1m42 0h1m8 0h1m7 0h1m19 0h1m13 0h1m2 0h1m-113 1h1m48 0h2m3 0h2m3 0h1m32 0h1m19 0h2m3 0h1m-148 1h1m45 0h2m13 0h1m14 0h1m46 0h1m-134 1h1m26 0h1m2 0h1m7 0h1m8 0h1m6 0h1m2 0h1m40 0h1m5 0h1m26 0h1m7 0h1m5 0h1m4 0h1m-89 1h1m49 0h1m10 0h1m2 0h1m-76 1h1m16 0h1m5 0h1m10 0h1m13 0h1m38 0h1m-95 1h1m17 0h1m3 0h1m12 0h1m36 0h1m11 0h1m5 0h1m15 0h1m-101 1h1m8 0h1m56 0h1m3 0h1m-83 1h1m14 0h3m4 0h1m31 0h1m31 0h2m2 0h1m2 0h1m-115 1h1m34 0h1m33 0h1m15 0h1m24 0h1m1 0h1m19 0h1m-132 1h1m29 0h1m14 0h1m9 0h1m-3 1h1m-12 1h1m37 0h1m33 0h1m-76 1h1m11 0h1m67 0h1m2 0h1m-107 1h1m12 0h1m63 0h1m26 0h1m-46 1h1m1 0h1m7 0h1m16 0h1m-68 1h1m35 0h1m30 0h1m-56 1h1m17 0h1m51 0h2m10 0h1m-101 1h1m9 0h1m9 0h1m7 0h1m7 0h1m1 0h1m7 0h1m16 0h1m-52 1h1m1 0h1m8 0h2m9 0h1m7 0h1m8 0h1m17 0h1m10 0h1m5 0h1m-68 1h1m4 0h1m9 0h1m23 0h1m2 0h1m39 0h1m-65 1h1m57 0h1m3 0h1m-85 1h1m4 0h1m31 0h1m45 0h1m-69 1h1m32 0h1m13 0h1m8 0h1m7 0h1m3 0h1m-84 1h1m1 0h1m3 0h1m58 0h1m-23 1h1m14 0h1m19 0h1m-80 1h2m52 0h1m15 0h1m13 0h1m-85 1h1m54 0h1m-58 1h1m2 0h1m51 0h1m8 0h1m17 0h1m-80 1h1m80 0h1m-81 1h1m8 0h2m65 0h1m2 0h1m-16 8h1"/>
<path stroke="#fee698" d="M46 18h1m-2 2h1m1 13h1m118 5h1m5 0h1m11 0h1m-130 1h1m1 0h2m109 0h1m12 0h1m-26 1h2m4 0h1m4 0h1m1 0h1m-115 1h1m89 0h1m11 0h2m-110 1h1m9 0h1m86 0h2m7 0h4m8 0h1m-19 1h1m-85 1h1m86 0h1m-24 1h1m19 0h1m-3 1h1m-93 1h1m80 1h1m-79 1h1m49 1h1m-32 1h1m74 0h1m6 0h1m-96 1h1m94 0h1m-85 1h1m21 0h1m26 0h1m-64 1h1m1 0h1m5 0h1m5 0h1m92 0h1m-82 1h1m7 0h1m53 0h1m7 0h1m-89 1h1m79 0h1m8 0h1m-106 1h1m38 0h1m9 0h1m56 0h1m9 0h1m-101 1h1m37 0h1m-51 1h1m1 0h1m30 0h1m15 0h1m113 0h1m-140 1h1m8 0h1m43 1h1m-73 1h1m58 0h1m83 0h2m-101 1h1m2 0h1m-1 1h1m-44 1h1m1 0h1m53 0h1m-56 1h1m9 0h1m37 0h1m18 0h1m4 0h1m-85 1h2m20 0h1m58 0h1m-80 1h1m31 0h1m24 0h1m8 0h1m39 0h1m-109 1h2m63 0h1m2 0h1m-11 1h1m75 0h1m-117 1h1m95 0h1m-74 1h1m1 0h1m10 0h1m-54 1h1m1 0h1m133 0h1m-135 1h1m14 0h1m59 0h1m68 0h1m-130 1h1m52 0h1m4 0h1m19 0h1m51 0h1m2 0h1m-147 1h1m14 0h1m18 0h1m32 0h1m11 0h1m98 0h1m-182 1h2m16 0h1m15 0h1m42 0h1m4 0h1m28 0h1m2 0h1m29 0h1m5 0h1m29 0h1m-181 1h1m30 0h4m1 0h1m55 0h2m32 0h1m1 0h1m-110 1h1m11 0h1m1 0h1m1 0h1m8 0h1m35 0h1m39 0h1m6 0h1m1 0h1m5 0h1m-103 1h1m34 0h1m48 0h1m22 0h1m-148 1h1m4 0h1m64 0h1m18 0h1m56 0h1m45 0h1m10 0h1m-172 1h1m6 0h2m16 0h1m77 0h1m9 0h1m1 0h1m10 0h1m28 0h1m11 0h2m-171 1h1m37 0h1m4 0h1m7 0h1m28 0h1m36 0h1m16 0h1m22 0h1m-187 1h1m4 0h1m19 0h2m25 0h1m7 0h1m6 0h1m10 0h1m3 0h1m8 0h1m44 0h1m8 0h1m31 0h1m17 0h1m2 0h1m-200 1h1m5 0h2m2 0h1m21 0h1m16 0h1m6 0h1m11 0h1m22 0h1m8 0h1m20 0h1m57 0h1m22 0h1m-174 1h1m37 0h1m2 0h2m3 0h1m31 0h1m2 0h1m11 0h1m22 0h1m44 0h2m-186 1h1m17 0h1m4 0h1m37 0h1m2 0h1m12 0h1m9 0h1m1 0h1m40 0h1m18 0h1m29 0h1m-176 1h1m14 0h1m1 0h1m42 0h2m15 0h1m19 0h2m9 0h1m35 0h1m8 0h1m12 0h1m-154 1h2m2 0h1m9 0h1m32 0h1m14 0h1m1 0h1m2 0h1m16 0h1m39 0h1m1 0h1m1 0h1m51 0h1m-197 1h2m9 0h1m6 0h1m32 0h1m5 0h1m17 0h1m9 0h1m29 0h1m7 0h1m16 0h1m34 0h1m22 0h1m-199 1h1m53 0h1m5 0h2m11 0h1m1 0h2m1 0h1m9 0h1m11 0h2m26 0h1m-108 1h2m13 0h1m15 0h1m1 0h1m6 0h1m6 0h1m2 0h1m14 0h1m26 0h1m6 0h1m-130 1h1m23 0h2m3 0h1m43 0h1m3 0h1m3 0h1m1 0h1m50 0h1m8 0h1m5 0h1m30 0h1m2 0h1m-172 1h1m50 0h1m6 0h1m4 0h1m2 0h1m24 0h1m9 0h1m35 0h1m33 0h1m14 0h1m-198 1h1m2 0h1m12 0h1m4 0h1m14 0h1m33 0h1m10 0h1m6 0h1m27 0h1m11 0h1m15 0h1m15 0h1m46 0h1m-202 1h1m36 0h1m2 0h1m3 0h1m15 0h1m30 0h1m7 0h1m21 0h1m6 0h1m8 0h1m1 0h1m10 0h1m31 0h1m1 0h1m16 0h1m-200 1h3m44 0h1m29 0h1m6 0h1m10 0h2m3 0h1m35 0h1m7 0h2m13 0h1m3 0h1m13 0h1m3 0h1m23 0h1m-194 1h2m31 0h1m2 0h1m6 0h1m9 0h2m4 0h1m12 0h1m30 0h1m15 0h1m14 0h1m19 0h1m13 0h1m10 0h1m13 0h1m-211 1h1m17 0h2m4 0h1m4 0h2m32 0h1m3 0h1m13 0h1m17 0h1m6 0h1m22 0h1m29 0h2m1 0h1m-153 1h1m7 0h1m2 0h1m25 0h1m22 0h2m2 0h2m3 0h1m29 0h1m15 0h2m6 0h1m26 0h1m18 0h1m18 0h1m13 0h1m-205 1h2m2 0h1m6 0h3m6 0h1m20 0h2m3 0h1m17 0h2m4 0h1m19 0h1m72 0h1m32 0h1m-196 1h1m21 0h2m1 0h1m23 0h1m1 0h1m8 0h1m5 0h1m3 0h1m65 0h1m13 0h1m1 0h1m2 0h1m-128 1h1m5 0h1m16 0h1m12 0h1m10 0h1m5 0h1m3 0h1m26 0h2m18 0h3m4 0h1m3 0h2m-110 1h1m16 0h1m1 0h2m8 0h1m1 0h1m22 0h1m26 0h1m18 0h2m40 0h1m-177 1h1m17 0h1m7 0h1m21 0h2m16 0h1m6 0h1m6 0h2m30 0h1m2 0h1m48 0h1m40 0h1m-211 1h1m1 0h1m23 0h1m30 0h1m5 0h1m3 0h1m2 0h1m20 0h2m15 0h1m28 0h1m5 0h1m8 0h1m16 0h1m-145 1h1m20 0h1m8 0h1m2 0h1m4 0h2m2 0h1m4 0h1m5 0h1m10 0h1m9 0h1m17 0h1m29 0h1m15 0h1m7 0h1m-171 1h1m15 0h1m36 0h1m9 0h1m11 0h1m10 0h1m5 0h1m10 0h1m7 0h1m32 0h1m25 0h1m-130 1h1m3 0h1m2 0h1m2 0h1m1 0h2m1 0h1m16 0h2m1 0h1m17 0h1m22 0h1m8 0h1m4 0h1m4 0h1m2 0h1m30 0h1m-154 1h2m16 0h1m5 0h3m3 0h1m7 0h1m3 0h1m11 0h1m13 0h1m95 0h1m2 0h1m-152 1h1m35 0h1m1 0h1m15 0h1m15 0h1m24 0h1m57 0h1m-152 1h2m5 0h1m12 0h2m5 0h1m1 0h1m1 0h1m57 0h1m3 0h1m44 0h1m23 0h1m-175 1h1m22 0h2m23 0h1m1 0h1m20 0h1m6 0h1m1 0h1m4 0h1m26 0h1m3 0h1m8 0h2m3 0h1m16 0h1m3 0h1m8 0h1m25 0h1m-193 1h1m14 0h1m9 0h1m12 0h1m10 0h1m3 0h1m10 0h2m17 0h1m2 0h1m7 0h1m8 0h1m16 0h1m24 0h1m13 0h1m3 0h1m28 0h1m-181 1h1m26 0h1m9 0h1m2 0h1m8 0h1m1 0h1m15 0h1m40 0h1m17 0h1m-134 1h3m13 0h1m5 0h1m12 0h1m2 0h1m11 0h1m1 0h1m27 0h1m1 0h1m38 0h1m11 0h1m2 0h1m9 0h1m15 0h1m-163 1h1m43 0h1m1 0h1m2 0h2m9 0h1m8 0h1m40 0h1m5 0h1m1 0h1m3 0h1m12 0h2m29 0h1m5 0h1m11 0h1m-170 1h1m10 0h1m8 0h1m4 0h3m42 0h1m43 0h1m1 0h1m6 0h1m-136 1h2m6 0h1m3 0h1m22 0h1m1 0h1m12 0h1m12 0h1m7 0h1m33 0h1m7 0h1m4 0h1m37 0h1m5 0h1m3 0h1m7 0h2m-168 1h1m24 0h2m5 0h1m32 0h1m47 0h1m-97 1h1m6 0h1m1 0h1m3 0h1m5 0h3m13 0h1m3 0h1m14 0h1m8 0h1m2 0h1m30 0h1m18 0h1m9 0h1m12 0h1m2 0h1m1 0h1m11 0h1m-172 1h1m7 0h1m3 0h1m2 0h2m2 0h1m2 0h1m1 0h1m3 0h1m4 0h1m28 0h1m28 0h1m2 0h1m43 0h1m7 0h1m3 0h1m-149 1h1m25 0h2m7 0h1m2 0h1m1 0h1m15 0h1m1 0h1m6 0h1m6 0h1m8 0h1m31 0h1m9 0h1m-111 1h1m97 0h1m6 0h1m13 0h1m-134 1h1m12 0h1m10 0h2m17 0h2m57 0h1m8 0h1m8 0h1m2 0h2m7 0h1m1 0h1m12 0h1m-128 1h1m1 0h1m11 0h1m49 0h1m28 0h1m10 0h1m21 0h1m-125 1h1m1 0h1m14 0h1m30 0h1m40 0h1m33 0h2m5 0h1m2 0h1m-145 1h1m3 0h1m11 0h1m23 0h1m46 0h1m25 0h1m17 0h1m13 0h1m-140 1h1m36 0h1m1 0h1m13 0h1m14 0h1m5 0h1m49 0h1m15 0h1m-143 1h1m38 0h1m19 0h1m63 0h1m13 0h1m3 0h1m-141 1h1m13 0h1m13 0h1m10 0h1m9 0h1m6 0h1m-56 1h1m32 0h1m89 0h1m1 0h1m11 0h1m-160 1h1m23 0h1m18 0h1m80 0h1m24 0h1m6 0h1m-137 1h1m24 0h1m2 0h1m34 0h1m53 0h1m11 0h1m7 0h1m-120 1h1m4 0h1m80 0h1m21 0h1m-99 1h1m4 0h1m32 0h1m27 0h1m27 0h1m2 0h1m-112 1h1m14 0h1m20 0h1m24 0h1m21 0h1m27 0h1m7 0h1m7 0h1m-127 1h1m8 0h1m20 0h1m46 0h1m40 0h1m-147 1h1m45 0h1m68 0h2m22 0h1m-51 1h1m5 0h1m18 0h1m26 0h1m-111 1h1m22 0h1m13 0h1m41 0h1m4 0h1m12 0h1m16 0h1m7 0h1m-149 1h1m114 0h1m-111 1h1m36 0h1m79 0h1m7 0h1m-114 1h1m2 0h1m85 0h1m5 0h1m25 0h1m-121 1h1m19 0h1m2 0h1m19 0h1m82 0h1m-117 1h1m14 0h1m20 0h1m25 0h1m6 0h1m16 0h1m4 0h1m7 0h1m18 0h1m-110 1h1m4 0h1m9 0h1m7 0h1m30 0h1m9 0h1m44 0h1m-130 1h1m24 0h1m10 0h1m1 0h1m2 0h2m12 0h1m4 0h1m38 0h3m3 0h1m-104 1h1m25 0h1m13 0h1m19 0h1m6 0h2m11 0h1m5 0h1m25 0h1m-90 1h1m4 0h1m7 0h1m3 0h2m2 0h1m51 0h1m3 0h1m-58 1h1m3 0h1m7 0h1m16 0h1m4 0h1m1 0h1m18 0h1m24 0h1m-76 1h1m22 0h1m2 0h1m23 0h1m4 0h1m-52 1h1m1 0h1m7 0h1m11 0h1m35 0h1m2 0h1m-55 1h1m40 0h1m7 0h1m5 0h1m-58 1h1m9 0h1m10 0h1m20 0h1m23 0h1m-75 1h1m2 0h1m24 1h1m1 0h2m9 0h1m-43 1h1m-7 1h1m38 0h1m26 0h1m9 0h1m6 0h1m-71 1h1m43 0h1m7 0h1m9 0h1m2 1h1m-70 1h1m51 0h1m20 0h1m-31 1h1m5 0h1m2 0h1m-56 1h1m50 0h1m13 0h1m-8 2h1m-9 13h1"/>
<path stroke="#fdf3aa" d="M46 17h1m0 15h1m6 0h1m104 4h1m-3 1h1m2 0h1m0 1h1m1 0h1m-9 1h1m7 0h1m2 0h1m4 0h1m8 0h1m-135 1h1m121 0h1m2 0h1m-34 1h1m9 0h1m17 0h1m1 0h1m7 0h1m21 0h1m-136 1h1m87 0h1m14 0h1m-118 1h1m96 0h1m5 0h1m-96 1h1m71 0h2m4 0h1m11 0h1m-85 1h1m84 0h1m1 0h2m-97 1h1m80 0h1m-70 1h1m51 0h1m-66 1h2m6 0h1m56 0h1m-58 1h1m59 0h1m15 0h1m1 0h1m52 0h1m-140 1h1m67 0h1m15 0h1m-75 1h1m58 0h1m71 0h1m-146 1h1m15 0h1m51 0h2m3 0h1m29 0h1m50 0h1m-143 1h1m30 0h1m28 0h2m-1 1h1m25 0h1m5 0h1m13 0h1m-103 1h1m80 0h1m11 0h1m-108 1h1m70 0h2m10 0h1m-76 1h1m41 0h1m33 0h2m-82 1h1m3 0h1m39 0h1m2 0h1m4 0h1m14 0h1m11 0h1m1 0h1m-30 1h2m-56 1h1m3 0h1m37 0h2m38 0h1m31 0h1m-104 1h1m14 0h1m26 0h1m26 0h1m27 0h1m21 0h1m-112 1h1m5 0h1m25 0h1m13 0h1m44 0h1m41 0h1m-120 1h1m9 0h1m22 0h1m7 0h1m-71 1h1m8 0h1m3 0h1m5 0h1m26 0h1m4 0h1m23 0h1m5 0h1m-85 1h1m7 0h1m26 0h1m18 0h1m14 0h1m13 0h1m97 0h1m-160 1h1m2 0h1m35 0h1m3 0h1m23 0h1m1 0h1m25 0h1m2 0h1m80 0h1m-201 1h1m18 0h1m11 0h1m25 0h1m20 0h1m1 0h1m7 0h1m18 0h1m-109 1h1m17 0h1m2 0h2m8 0h1m29 0h2m19 0h1m-37 1h1m14 0h1m21 0h1m-81 1h1m4 0h1m11 0h2m22 0h1m2 0h1m64 0h1m-113 1h1m40 0h1m2 0h1m-47 1h1m5 0h1m12 0h1m5 0h2m33 0h1m2 0h1m19 0h1m55 0h2m-116 1h1m11 0h1m19 0h3m1 0h1m10 0h1m2 0h1m4 0h1m1 0h1m1 0h1m11 0h1m8 0h1m2 0h1m4 0h1m-98 1h1m19 0h1m7 0h2m15 0h1m26 0h1m25 0h1m-99 1h2m2 0h1m25 0h1m40 0h1m33 0h1m10 0h2m5 0h1m46 0h1m-167 1h1m26 0h1m13 0h1m6 0h1m27 0h1m21 0h1m-83 1h1m2 0h1m4 0h1m41 0h1m9 0h1m23 0h1m1 0h1m-121 1h1m4 0h1m11 0h1m9 0h1m8 0h1m1 0h1m142 0h1m17 0h1m-200 1h1m2 0h1m20 0h3m8 0h1m1 0h1m44 0h1m1 0h1m96 0h1m17 0h1m-176 1h1m7 0h2m67 0h1m17 0h1m36 0h2m-134 1h1m9 0h1m27 0h1m39 0h1m13 0h1m8 0h1m13 0h1m48 0h2m8 0h2m-207 1h1m9 0h1m12 0h1m7 0h1m28 0h1m11 0h1m7 0h1m10 0h3m15 0h1m29 0h1m1 0h1m52 0h2m-193 1h1m19 0h1m8 0h1m17 0h2m9 0h1m5 0h1m5 0h1m55 0h1m10 0h1m5 0h2m59 0h1m-208 1h2m8 0h1m11 0h1m9 0h1m12 0h1m22 0h1m1 0h1m11 0h1m8 0h1m2 0h1m40 0h2m41 0h1m4 0h1m4 0h1m-184 1h1m17 0h1m29 0h1m14 0h1m8 0h1m3 0h1m28 0h1m7 0h3m39 0h1m-158 1h1m3 0h1m4 0h1m31 0h1m3 0h1m7 0h1m22 0h1m5 0h1m1 0h1m4 0h1m4 0h1m2 0h1m5 0h1m10 0h1m-120 1h1m7 0h1m19 0h3m10 0h1m30 0h1m1 0h1m1 0h1m1 0h1m4 0h1m9 0h1m17 0h1m3 0h1m5 0h1m18 0h1m-115 1h1m43 0h1m1 0h1m19 0h1m1 0h1m61 0h1m2 0h1m41 0h1m-174 1h2m19 0h1m4 0h1m4 0h2m3 0h1m6 0h1m11 0h1m7 0h1m2 0h1m5 0h1m21 0h1m14 0h1m17 0h2m39 0h1m4 0h2m-178 1h2m2 0h1m11 0h1m5 0h1m2 0h1m5 0h1m2 0h1m5 0h1m13 0h1m7 0h1m8 0h1m35 0h1m1 0h1m7 0h1m4 0h1m1 0h1m2 0h1m1 0h1m9 0h1m44 0h1m-205 1h1m15 0h1m7 0h2m19 0h3m3 0h1m1 0h2m16 0h1m1 0h1m13 0h1m25 0h1m13 0h1m10 0h1m20 0h1m24 0h1m19 0h1m-159 1h1m1 0h1m18 0h1m4 0h1m17 0h1m61 0h1m4 0h1m17 0h1m6 0h1m2 0h1m2 0h2m11 0h1m-203 1h1m1 0h2m1 0h1m18 0h1m16 0h2m6 0h1m1 0h1m43 0h1m4 0h2m2 0h1m19 0h1m8 0h1m20 0h2m5 0h1m42 0h1m-201 1h1m3 0h1m4 0h1m7 0h1m1 0h1m13 0h1m15 0h1m2 0h1m1 0h2m13 0h1m2 0h1m1 0h1m1 0h1m1 0h2m19 0h2m27 0h1m7 0h1m1 0h1m41 0h1m2 0h1m9 0h1m7 0h1m-185 1h1m13 0h1m4 0h1m6 0h1m4 0h2m3 0h1m8 0h1m4 0h1m15 0h1m10 0h1m49 0h1m12 0h1m18 0h1m13 0h2m-199 1h1m4 0h2m6 0h1m15 0h1m10 0h1m1 0h1m3 0h1m6 0h1m2 0h1m4 0h1m4 0h1m8 0h1m12 0h2m11 0h1m1 0h1m4 0h1m6 0h1m11 0h1m5 0h1m3 0h1m5 0h1m9 0h1m7 0h1m31 0h1m11 0h1m-201 1h1m8 0h1m3 0h1m2 0h1m15 0h1m14 0h1m13 0h1m6 0h1m1 0h1m12 0h1m3 0h1m4 0h1m1 0h1m34 0h1m3 0h1m42 0h1m26 0h1m-175 1h2m14 0h2m20 0h1m4 0h1m3 0h2m3 0h1m7 0h1m6 0h1m1 0h1m11 0h1m29 0h1m26 0h1m33 0h1m1 0h1m-193 1h1m4 0h1m34 0h1m8 0h1m9 0h1m2 0h1m18 0h1m22 0h1m9 0h1m6 0h1m24 0h1m43 0h1m-205 1h2m8 0h1m3 0h1m28 0h1m6 0h4m3 0h1m8 0h1m7 0h1m4 0h1m17 0h1m42 0h1m7 0h1m10 0h1m7 0h1m15 0h1m21 0h1m-191 1h1m4 0h1m10 0h1m14 0h1m1 0h1m27 0h2m35 0h1m6 0h1m13 0h1m1 0h1m13 0h1m16 0h1m23 0h2m-184 1h1m21 0h1m9 0h2m18 0h1m10 0h1m7 0h1m37 0h1m24 0h1m12 0h1m10 0h1m23 0h1m-169 1h1m6 0h2m6 0h1m8 0h1m15 0h1m7 0h2m15 0h1m8 0h1m8 0h1m75 0h2m2 0h1m13 0h1m14 0h1m1 0h1m-209 1h1m24 0h1m5 0h1m1 0h1m17 0h1m12 0h2m4 0h1m11 0h1m13 0h1m5 0h1m3 0h1m56 0h1m16 0h1m-167 1h1m18 0h1m20 0h2m2 0h1m2 0h1m6 0h1m3 0h1m17 0h1m22 0h1m54 0h1m7 0h1m-159 1h1m30 0h1m1 0h2m9 0h1m1 0h1m11 0h1m2 0h1m1 0h1m2 0h1m13 0h1m8 0h1m19 0h1m23 0h1m29 0h1m12 0h1m2 0h1m10 0h1m-207 1h1m11 0h2m21 0h1m7 0h1m8 0h1m14 0h1m5 0h1m14 0h1m21 0h2m17 0h1m31 0h1m-163 1h1m15 0h1m11 0h1m13 0h1m5 0h1m5 0h1m9 0h1m3 0h1m5 0h3m25 0h1m36 0h1m25 0h1m8 0h1m14 0h1m4 0h1m-172 1h1m2 0h1m13 0h1m4 0h1m24 0h1m2 0h1m5 0h1m2 0h1m1 0h1m11 0h1m11 0h2m22 0h1m2 0h1m4 0h1m58 0h1m-192 1h1m29 0h1m8 0h2m14 0h1m2 0h1m1 0h1m13 0h1m13 0h1m4 0h1m27 0h1m1 0h2m8 0h1m47 0h1m1 0h1m3 0h1m-189 1h1m6 0h1m18 0h1m2 0h1m3 0h1m2 0h1m3 0h1m9 0h1m3 0h1m1 0h1m18 0h1m10 0h1m26 0h1m8 0h2m3 0h1m6 0h1m31 0h1m21 0h1m9 0h1m-191 1h2m2 0h2m36 0h2m9 0h1m3 0h1m8 0h1m26 0h2m40 0h1m31 0h1m2 0h1m22 0h1m-205 1h1m36 0h1m1 0h1m58 0h1m6 0h1m4 0h1m4 0h1m12 0h1m40 0h1m-154 1h1m4 0h1m22 0h1m9 0h1m8 0h1m4 0h1m10 0h1m7 0h1m25 0h1m57 0h1m-160 1h1m7 0h1m1 0h1m29 0h1m6 0h1m10 0h2m9 0h1m2 0h1m14 0h1m7 0h1m4 0h1m5 0h1m4 0h1m20 0h1m13 0h1m5 0h1m18 0h2m-176 1h1m1 0h1m15 0h1m9 0h1m18 0h3m2 0h1m3 0h1m13 0h1m11 0h1m13 0h1m22 0h1m2 0h1m9 0h1m50 0h1m-183 1h1m1 0h1m5 0h1m14 0h1m7 0h1m9 0h1m9 0h1m7 0h1m3 0h1m1 0h1m15 0h3m4 0h1m31 0h2m4 0h1m4 0h1m15 0h1m18 0h1m12 0h1m1 0h1m-167 1h2m3 0h1m2 0h1m9 0h1m6 0h1m1 0h2m17 0h1m21 0h1m8 0h1m88 0h2m-181 1h1m15 0h1m7 0h1m6 0h1m2 0h1m8 0h1m2 0h1m17 0h1m8 0h1m3 0h1m50 0h1m12 0h1m33 0h1m-160 1h1m2 0h1m9 0h1m1 0h1m5 0h1m8 0h1m1 0h2m7 0h1m4 0h1m8 0h1m4 0h1m1 0h1m56 0h1m2 0h1m44 0h1m-175 1h1m70 0h1m37 0h2m6 0h1m45 0h1m4 0h1m-166 1h1m3 0h1m7 0h1m5 0h1m18 0h1m4 0h1m1 0h1m21 0h1m6 0h1m43 0h1m20 0h1m8 0h2m13 0h1m-162 1h1m17 0h1m16 0h1m4 0h1m14 0h1m51 0h1m7 0h1m14 0h1m21 0h1m1 0h1m7 0h1m-153 1h1m9 0h1m4 0h1m1 0h1m1 0h5m5 0h1m9 0h1m10 0h1m46 0h1m5 0h1m5 0h1m8 0h1m14 0h1m-127 1h1m3 0h5m15 0h1m24 0h1m14 0h1m6 0h2m30 0h1m45 0h1m2 0h1m-153 1h1m1 0h1m4 0h1m4 0h1m2 0h2m7 0h1m15 0h1m7 0h1m22 0h1m11 0h1m49 0h1m-137 1h1m16 0h1m9 0h1m26 0h1m4 0h1m45 0h1m23 0h1m12 0h1m6 0h1m-150 1h1m3 0h2m4 0h2m5 0h1m15 0h1m11 0h1m11 0h1m7 0h1m2 0h1m5 0h1m19 0h1m11 0h1m11 0h1m7 0h1m5 0h1m6 0h1m9 0h1m-158 1h2m6 0h1m2 0h1m1 0h1m12 0h1m39 0h1m3 0h1m20 0h1m19 0h1m54 0h1m-150 1h1m11 0h1m3 0h1m3 0h2m115 0h1m-137 1h1m14 0h1m16 0h2m41 0h1m6 0h1m27 0h1m11 0h1m12 0h1m1 0h1m-149 1h1m6 0h1m5 0h1m16 0h1m14 0h1m2 0h1m5 0h1m63 0h1m3 0h1m18 0h1m-154 1h1m23 0h1m15 0h2m10 0h2m21 0h1m78 0h1m1 0h1m-144 1h1m12 0h1m16 0h1m6 0h1m1 0h1m77 0h1m4 0h1m1 0h1m15 0h1m-127 1h1m45 0h2m1 0h1m7 0h1m6 0h1m34 0h2m-107 1h1m39 0h1m11 0h1m26 0h1m14 0h1m8 0h1m11 0h2m13 0h1m-139 1h1m6 0h1m1 0h1m3 0h1m5 0h1m1 0h1m10 0h1m9 0h1m9 0h1m20 0h1m25 0h1m10 0h1m5 0h1m4 0h2m6 0h1m12 0h1m-143 1h1m18 0h1m3 0h1m8 0h2m13 0h2m8 0h1m6 0h1m46 0h1m23 0h1m1 0h1m3 0h1m-150 1h1m35 0h1m9 0h1m14 0h2m23 0h1m-70 1h1m6 0h1m3 0h1m3 0h1m5 0h2m6 0h2m9 0h1m6 0h1m56 0h1m14 0h1m-95 1h1m18 0h1m18 0h1m-70 1h1m20 0h1m98 0h1m14 0h1m2 0h1m-101 1h1m4 0h1m4 0h1m2 0h1m38 0h1m-77 1h1m13 0h1m14 0h1m50 0h1m2 0h1m10 0h1m11 0h1m1 0h1m11 0h1m-125 1h1m30 0h1m3 0h1m26 0h1m13 0h1m47 0h1m-123 1h1m2 0h1m36 0h1m33 0h1m16 0h2m2 0h1m9 0h1m1 0h1m12 0h1m2 0h1m-125 1h1m2 0h1m8 0h1m12 0h1m9 0h1m2 0h1m7 0h1m1 0h1m14 0h1m1 0h1m7 0h1m18 0h1m3 0h1m17 0h1m9 0h1m-125 1h1m2 0h1m11 0h1m5 0h1m6 0h1m18 0h1m15 0h1m40 0h1m-90 1h1m5 0h2m17 0h1m4 0h1m1 0h1m12 0h1m20 0h1m2 0h1m8 0h1m-62 1h1m5 0h1m20 0h1m23 0h1m1 0h1m23 0h2m-84 1h1m11 0h1m3 0h1m18 0h1m14 0h1m26 0h1m27 0h1m-103 1h1m24 0h1m58 0h1m15 0h1m-101 1h1m5 0h1m3 0h1m5 0h2m1 0h1m1 0h1m18 0h1m36 0h1m6 0h1m-57 1h1m12 0h1m37 0h1m-61 1h1m21 0h1m5 0h2m28 0h1m-41 1h1m17 0h1m6 0h1m5 0h1m9 0h1m-63 1h2m2 0h1m4 0h1m46 0h1m2 0h1m1 0h1m1 0h1m18 0h1m-66 1h1m-9 1h1m3 0h1m37 0h1m-60 1h1m45 0h1m-41 1h1m61 0h1m18 0h1m-86 1h1m4 0h2m9 0h1m43 0h1m23 0h1m1 0h1m-80 1h1m50 1h1m-46 1h1m45 2h1m10 0h2m2 0h1"/>
<path stroke="#fcfcbe" d="M47 17h2m-4 1h1m0 1h1m-2 2h1m0 1h1m1 10h1m2 3h1m-8 1h1m-4 1h1m11 0h1m128 0h1m14 0h1m-145 1h1m104 0h1m9 0h1m8 0h1m2 0h1m23 0h2m-164 1h1m9 0h2m5 0h1m94 0h1m1 0h2m4 0h1m13 0h1m-19 1h2m1 0h1m8 0h1m3 0h1m1 0h1m6 0h2m12 0h2m-145 1h1m112 0h1m7 0h1m23 0h1m-150 1h1m9 0h1m83 0h1m4 0h2m14 0h1m29 0h1m-156 1h1m17 0h1m99 0h1m-114 1h1m13 0h1m60 0h1m7 0h1m25 0h1m-36 1h2m20 0h1m5 0h1m-92 1h1m5 0h1m2 0h1m3 0h1m-16 1h1m8 0h1m4 0h1m67 0h2m10 0h1m2 0h1m36 0h1m29 0h1m-82 1h2m13 0h1m3 0h1m-103 1h2m3 0h1m12 0h1m40 0h1m5 0h1m17 0h1m11 0h1m1 0h1m2 0h1m4 0h1m-112 1h2m6 0h2m4 0h2m10 0h1m23 0h1m38 0h1m13 0h1m1 0h2m36 0h1m-136 1h1m6 0h1m45 0h1m1 0h1m42 0h1m-92 1h1m58 0h1m25 0h1m5 0h1m5 0h1m-110 1h1m4 0h1m8 0h1m28 0h1m3 0h1m3 0h1m8 0h1m34 0h1m6 0h1m6 0h1m46 0h1m-151 1h1m1 0h1m7 0h1m6 0h1m11 0h2m10 0h1m62 0h1m-101 1h1m29 0h1m11 0h1m37 0h1m2 0h1m2 0h1m10 0h1m10 0h2m-104 1h1m23 0h1m45 0h1m13 0h1m18 0h1m25 0h1m-140 1h1m6 0h1m5 0h1m4 0h1m18 0h1m9 0h1m19 0h1m11 0h1m-77 1h1m7 0h1m20 0h3m45 0h1m19 0h1m1 0h1m1 0h1m-109 1h1m7 0h1m8 0h1m20 0h2m15 0h1m27 0h1m21 0h1m-97 1h1m26 0h1m3 0h1m11 0h1m55 0h1m-106 1h1m3 0h1m2 0h1m15 0h1m9 0h1m20 0h1m1 0h1m7 0h1m54 0h1m-120 1h1m38 0h1m1 0h1m-39 1h2m2 0h1m12 0h1m22 0h1m19 0h1m2 0h1m1 0h1m14 0h1m-82 1h1m1 0h1m5 0h1m16 0h2m44 0h2m17 0h1m-92 1h1m3 0h1m1 0h1m3 0h1m8 0h2m7 0h3m30 0h1m1 0h1m5 0h1m3 0h1m14 0h1m31 0h1m-118 1h1m4 0h1m25 0h1m20 0h3m20 0h1m33 0h1m-103 1h1m6 0h1m3 0h1m8 0h1m31 0h1m9 0h1m4 0h1m4 0h1m-52 1h1m55 0h1m1 0h1m22 0h1m-95 1h1m2 0h1m21 0h1m2 0h1m3 0h1m5 0h1m11 0h1m2 0h2m8 0h1m7 0h1m24 0h1m-115 1h1m2 0h1m2 0h1m11 0h1m2 0h1m23 0h1m15 0h1m3 0h1m3 0h1m2 0h2m111 0h1m-185 1h1m7 0h1m34 0h1m9 0h2m15 0h2m1 0h1m2 0h1m3 0h1m-84 1h1m1 0h2m9 0h1m8 0h1m3 0h1m13 0h1m12 0h1m9 0h1m9 0h1m5 0h1m1 0h1m44 0h1m55 0h1m5 0h1m-187 1h1m11 0h1m3 0h2m3 0h1m11 0h1m4 0h1m20 0h1m13 0h2m3 0h1m8 0h1m40 0h1m8 0h1m60 0h1m-203 1h2m4 0h1m12 0h1m1 0h1m6 0h1m7 0h1m6 0h1m3 0h1m8 0h1m24 0h1m3 0h1m24 0h1m26 0h1m9 0h1m54 0h1m-201 1h1m4 0h1m3 0h1m4 0h1m5 0h1m14 0h1m5 0h1m28 0h1m1 0h1m1 0h1m14 0h1m11 0h1m45 0h1m-149 1h1m6 0h1m8 0h1m13 0h1m4 0h2m4 0h1m17 0h1m14 0h1m6 0h1m38 0h1m29 0h1m8 0h1m-158 1h1m2 0h1m22 0h1m11 0h1m21 0h1m5 0h1m1 0h1m84 0h1m29 0h2m-167 1h1m25 0h1m25 0h1m44 0h1m38 0h2m28 0h1m-183 1h1m1 0h1m6 0h1m2 0h1m16 0h1m6 0h1m47 0h2m13 0h1m17 0h1m34 0h1m25 0h1m-181 1h2m19 0h1m1 0h1m39 0h2m9 0h1m55 0h1m13 0h1m37 0h1m2 0h1m-181 1h1m1 0h1m8 0h1m5 0h1m2 0h2m10 0h1m23 0h1m1 0h1m1 0h1m3 0h1m6 0h1m26 0h1m22 0h1m8 0h1m55 0h1m-196 1h1m12 0h1m2 0h1m30 0h1m13 0h1m4 0h1m11 0h1m16 0h1m11 0h1m7 0h1m3 0h1m10 0h1m11 0h1m39 0h1m16 0h1m-204 1h1m7 0h3m4 0h1m11 0h2m31 0h1m10 0h2m7 0h2m23 0h1m36 0h1m1 0h1m11 0h1m46 0h1m1 0h1m-199 1h1m2 0h1m11 0h1m1 0h1m36 0h1m12 0h1m7 0h1m29 0h1m10 0h1m22 0h1m43 0h1m15 0h1m-200 1h1m5 0h1m13 0h1m4 0h2m13 0h1m2 0h1m2 0h1m3 0h1m9 0h1m32 0h1m38 0h1m53 0h1m13 0h1m-202 1h2m7 0h2m9 0h1m3 0h1m20 0h1m2 0h1m1 0h1m7 0h1m3 0h1m1 0h2m3 0h1m3 0h1m19 0h1m32 0h1m13 0h1m62 0h1m-204 1h1m17 0h2m6 0h1m4 0h1m11 0h1m20 0h1m3 0h1m1 0h1m3 0h1m3 0h1m6 0h1m26 0h1m6 0h1m16 0h1m3 0h1m1 0h1m2 0h1m-137 1h1m1 0h1m10 0h1m9 0h1m2 0h2m21 0h1m10 0h1m7 0h1m14 0h1m-95 1h1m12 0h1m2 0h1m24 0h1m8 0h1m2 0h1m8 0h3m7 0h1m8 0h1m10 0h1m11 0h1m13 0h1m6 0h1m13 0h1m15 0h1m6 0h1m40 0h1m-197 1h1m7 0h1m1 0h1m4 0h1m2 0h2m1 0h1m6 0h1m7 0h1m6 0h1m2 0h1m3 0h3m1 0h1m1 0h2m5 0h1m38 0h1m30 0h1m46 0h2m17 0h1m-210 1h1m10 0h1m1 0h1m10 0h1m4 0h1m2 0h1m14 0h1m3 0h2m6 0h1m10 0h1m7 0h3m16 0h1m17 0h1m2 0h1m64 0h1m1 0h1m5 0h1m2 0h1m-193 1h2m1 0h1m1 0h1m8 0h1m14 0h1m2 0h1m2 0h1m2 0h1m7 0h1m3 0h2m2 0h1m2 0h1m3 0h1m10 0h1m3 0h1m1 0h3m3 0h1m3 0h1m4 0h1m2 0h1m2 0h1m5 0h1m31 0h1m68 0h1m2 0h1m-212 1h1m19 0h2m5 0h1m13 0h1m14 0h3m1 0h3m11 0h2m16 0h1m12 0h1m19 0h1m52 0h1m30 0h1m-209 1h1m7 0h1m6 0h2m3 0h1m9 0h1m5 0h2m9 0h1m4 0h1m5 0h1m7 0h1m11 0h1m7 0h1m66 0h1m6 0h1m1 0h1m10 0h1m5 0h1m3 0h1m25 0h1m2 0h1m-215 1h1m10 0h1m8 0h2m17 0h1m2 0h1m3 0h1m6 0h1m42 0h2m6 0h1m5 0h1m1 0h1m53 0h1m33 0h1m4 0h1m-196 1h2m8 0h3m8 0h1m63 0h1m14 0h1m1 0h1m3 0h2m5 0h1m2 0h1m20 0h1m51 0h1m7 0h1m4 0h1m-207 1h2m5 0h1m1 0h3m2 0h1m1 0h1m16 0h1m3 0h1m6 0h1m2 0h1m23 0h1m3 0h1m29 0h2m3 0h1m6 0h1m4 0h1m50 0h1m11 0h1m14 0h1m-205 1h1m1 0h1m3 0h1m1 0h2m6 0h2m4 0h1m34 0h1m27 0h1m16 0h1m3 0h1m23 0h1m31 0h1m17 0h1m11 0h1m9 0h1m-195 1h1m2 0h1m5 0h1m5 0h2m12 0h1m8 0h1m1 0h2m12 0h1m7 0h1m1 0h1m2 0h1m2 0h2m12 0h1m5 0h1m10 0h1m1 0h2m16 0h1m4 0h1m9 0h1m5 0h1m16 0h1m22 0h1m6 0h1m8 0h1m-198 1h1m9 0h1m2 0h1m3 0h1m13 0h1m5 0h1m1 0h1m6 0h1m19 0h1m2 0h1m21 0h1m21 0h1m21 0h1m18 0h2m-163 1h1m9 0h1m29 0h1m2 0h1m4 0h1m2 0h2m17 0h1m5 0h2m19 0h1m12 0h1m-101 1h1m7 0h1m18 0h2m5 0h1m3 0h1m1 0h1m13 0h3m4 0h1m1 0h2m36 0h1m15 0h1m2 0h1m40 0h1m24 0h1m1 0h1m15 0h1m-209 1h1m1 0h1m2 0h1m18 0h1m8 0h1m2 0h1m1 0h1m9 0h1m2 0h1m1 0h1m6 0h1m11 0h1m4 0h1m5 0h1m6 0h1m14 0h2m33 0h1m19 0h1m47 0h1m-209 1h1m1 0h1m9 0h1m6 0h1m21 0h1m11 0h2m7 0h1m5 0h1m1 0h1m27 0h1m22 0h1m26 0h1m-118 1h3m1 0h2m14 0h1m6 0h1m5 0h1m1 0h1m4 0h1m9 0h1m4 0h1m11 0h1m18 0h1m2 0h1m14 0h1m9 0h1m3 0h1m51 0h1m-198 1h3m3 0h1m40 0h1m2 0h1m5 0h1m14 0h1m18 0h1m29 0h2m11 0h2m7 0h2m53 0h1m-201 1h2m11 0h1m12 0h1m19 0h1m4 0h2m11 0h1m12 0h1m18 0h1m21 0h1m13 0h1m44 0h1m18 0h1m-192 1h1m7 0h1m9 0h1m10 0h2m4 0h1m6 0h1m6 0h1m3 0h1m9 0h1m1 0h1m15 0h1m7 0h1m3 0h1m21 0h1m49 0h1m2 0h1m27 0h1m-168 1h2m3 0h1m2 0h2m5 0h1m8 0h1m4 0h1m12 0h1m25 0h1m3 0h1m5 0h1m4 0h1m8 0h1m10 0h1m32 0h1m1 0h1m3 0h1m1 0h1m15 0h1m2 0h1m-191 1h1m5 0h3m11 0h1m8 0h1m10 0h1m2 0h1m4 0h3m14 0h1m6 0h1m7 0h1m30 0h1m24 0h1m11 0h1m14 0h1m-155 1h1m2 0h1m20 0h1m1 0h1m3 0h2m2 0h1m4 0h2m2 0h1m1 0h1m1 0h1m14 0h1m19 0h1m12 0h1m1 0h1m59 0h1m23 0h1m-188 1h1m7 0h2m12 0h1m3 0h1m5 0h2m13 0h1m17 0h1m23 0h1m2 0h1m18 0h1m47 0h1m10 0h1m14 0h1m-192 1h1m11 0h1m2 0h1m1 0h1m1 0h1m4 0h1m6 0h1m2 0h1m1 0h1m14 0h1m17 0h3m64 0h2m8 0h1m25 0h1m17 0h1m-181 1h1m2 0h2m3 0h3m12 0h1m2 0h1m3 0h1m1 0h1m9 0h1m13 0h1m17 0h1m1 0h1m13 0h1m2 0h2m-88 1h1m2 0h1m7 0h1m12 0h2m16 0h1m14 0h1m23 0h1m13 0h1m3 0h1m19 0h1m6 0h1m32 0h2m-158 1h1m3 0h1m5 0h1m4 0h1m5 0h2m4 0h2m2 0h1m12 0h1m10 0h1m65 0h1m-130 1h1m2 0h1m12 0h1m2 0h1m8 0h1m2 0h1m11 0h1m2 0h3m7 0h1m12 0h1m56 0h1m-124 1h1m7 0h1m6 0h1m2 0h1m1 0h2m10 0h1m2 0h1m4 0h1m8 0h2m8 0h1m11 0h1m54 0h1m43 0h1m16 0h1m-189 1h1m7 0h2m2 0h1m4 0h1m2 0h1m29 0h1m2 0h1m10 0h1m3 0h1m10 0h1m3 0h1m34 0h1m1 0h2m26 0h1m-142 1h1m1 0h1m7 0h1m14 0h1m11 0h1m21 0h2m63 0h1m4 0h1m49 0h1m-184 1h1m15 0h1m17 0h1m3 0h1m7 0h1m70 0h1m13 0h1m28 0h1m-163 1h2m11 0h1m2 0h1m1 0h2m5 0h2m5 0h2m1 0h1m8 0h1m5 0h2m3 0h1m10 0h1m8 0h1m16 0h1m19 0h1m5 0h1m13 0h1m9 0h1m-120 1h1m4 0h1m1 0h3m14 0h2m1 0h1m12 0h2m40 0h1m10 0h1m5 0h1m52 0h1m7 0h2m-180 1h1m4 0h1m7 0h1m3 0h1m5 0h2m22 0h1m1 0h1m2 0h2m11 0h1m44 0h1m34 0h1m-147 1h1m12 0h2m1 0h2m9 0h1m17 0h1m3 0h1m29 0h1m10 0h1m39 0h1m6 0h1m4 0h1m2 0h1m4 0h1m3 0h2m-115 1h2m8 0h1m6 0h3m30 0h1m21 0h1m13 0h1m31 0h1m3 0h1m16 0h1m-155 1h1m4 0h1m3 0h1m27 0h1m3 0h1m13 0h1m9 0h1m14 0h1m7 0h1m1 0h1m12 0h1m6 0h1m43 0h2m-160 1h1m10 0h2m8 0h2m-18 1h2m2 0h1m4 0h1m9 0h1m4 0h2m1 0h1m23 0h1m2 0h1m20 0h1m49 0h1m24 0h1m-167 1h1m14 0h1m1 0h2m8 0h3m6 0h1m9 0h1m1 0h1m11 0h1m4 0h1m1 0h1m3 0h1m5 0h1m47 0h1m24 0h1m-152 1h2m17 0h1m7 0h1m12 0h1m4 0h1m5 0h1m11 0h1m7 0h1m3 0h1m51 0h1m5 0h1m-123 1h1m9 0h2m2 0h1m5 0h2m4 0h2m12 0h1m30 0h1m17 0h1m25 0h1m10 0h1m28 0h1m-166 1h1m9 0h1m4 0h2m8 0h1m25 0h1m6 0h2m3 0h1m59 0h1m1 0h1m16 0h1m13 0h1m-136 1h1m4 0h1m16 0h1m11 0h1m32 0h1m48 0h1m2 0h1m-133 1h1m29 0h1m59 0h1m34 0h1m1 0h1m10 0h1m-126 1h1m2 0h1m10 0h2m2 0h1m1 0h1m31 0h1m27 0h1m26 0h1m1 0h1m11 0h1m-140 1h1m5 0h1m27 0h2m1 0h1m2 0h1m6 0h1m5 0h1m7 0h1m-63 1h1m8 0h2m11 0h1m5 0h1m32 0h1m76 0h1m-137 1h2m4 0h1m19 0h1m4 0h1m8 0h1m5 0h1m2 0h2m27 0h1m3 0h1m33 0h1m3 0h1m4 0h1m-126 1h2m31 0h1m26 0h1m2 0h1m1 0h1m3 0h1m6 0h1m13 0h1m26 0h1m7 0h1m-95 1h2m8 0h1m4 0h1m9 0h1m23 0h1m5 0h1m30 0h1m-99 1h1m5 0h1m10 0h1m17 0h1m16 0h1m10 0h1m51 0h1m-125 1h1m10 0h2m12 0h1m12 0h1m9 0h1m21 0h1m36 0h1m24 0h1m-124 1h1m5 0h1m25 0h1m7 0h1m59 0h1m27 0h1m1 0h3m-144 1h1m11 0h2m1 0h2m18 0h1m2 0h1m2 0h1m5 0h1m1 0h1m3 0h1m43 0h1m21 0h1m-105 1h1m16 0h1m1 0h1m53 0h1m24 0h1m-101 1h1m12 0h1m38 0h1m43 0h1m6 0h1m2 0h1m-106 1h1m1 0h2m7 0h1m10 0h1m15 0h1m3 0h1m1 0h1m36 0h1m11 0h3m5 0h1m26 0h1m-115 1h1m10 0h1m6 0h1m9 0h1m3 0h1m10 0h1m53 0h1m15 0h1m-80 1h1m21 0h1m8 0h1m48 0h1m-121 1h1m1 0h2m42 0h1m4 0h1m37 0h1m12 0h1m14 0h1m-96 1h2m1 0h3m4 0h1m7 0h1m3 0h1m7 0h1m7 0h1m10 0h1m12 0h1m7 0h1m22 0h1m-84 1h1m33 0h1m8 0h1m10 0h1m2 0h1m-58 1h1m3 0h1m19 0h1m3 0h1m20 0h1m10 0h1m23 0h1m-117 1h1m37 0h1m51 0h1m5 0h1m-42 1h1m17 0h1m25 0h1m2 0h1m-69 1h1m2 1h1m32 0h1m18 0h1m2 0h2m20 0h1m-83 1h1m43 0h1m23 0h1m-72 1h1m46 0h1m13 0h1m-45 1h1m40 0h1m9 0h1m14 0h1m-84 1h1m-1 1h1m1 0h1m78 0h1m-70 2h1m64 1h1m-19 1h1m12 3h1m-12 7h1m1 1h1"/>
<path stroke="#f0f8aa" d="M45 17h1m-1 2h1m-2 2h1m2 2h1m1 3h1m0 3h1m0 1h1m-3 1h1m0 1h1m-9 2h1m0 2h1m102 0h1m11 0h1m2 0h1m36 0h1m-157 1h1m1 0h1m121 0h1m1 0h1m24 0h2m14 0h3m-160 1h1m103 0h1m8 0h1m3 0h1m9 0h1m2 0h1m2 0h1m17 0h1m3 0h1m5 0h1m-166 1h1m112 0h1m5 0h1m1 0h1m2 0h1m-34 1h2m25 0h1m5 0h1m9 0h1m-143 1h1m8 0h1m6 0h1m82 0h1m15 0h2m2 0h1m12 0h1m23 0h2m-158 1h1m6 0h2m6 0h2m88 0h1m18 0h1m4 0h1m-124 1h1m3 0h1m6 0h1m1 0h1m2 0h2m69 0h1m-73 1h1m72 0h1m5 0h1m14 0h1m7 0h1m-119 1h2m4 0h1m10 0h1m81 0h1m7 0h1m-102 1h1m67 0h2m14 0h1m8 0h1m48 0h1m-132 1h1m2 0h2m3 0h1m61 0h1m20 0h1m-96 1h2m3 0h1m5 0h1m48 0h1m14 0h1m1 0h1m46 0h1m-136 1h1m9 0h1m3 0h1m11 0h1m51 0h1m13 0h1m8 0h1m43 0h1m-146 1h1m7 0h1m2 0h1m2 0h1m3 0h1m4 0h1m2 0h1m35 0h1m11 0h1m2 0h1m15 0h1m14 0h1m-107 1h1m1 0h1m8 0h1m13 0h1m1 0h1m1 0h1m14 0h1m26 0h1m1 0h1m9 0h1m40 0h1m16 0h1m-142 1h1m12 0h1m14 0h2m3 0h1m34 0h1m18 0h1m2 0h1m9 0h1m56 0h1m-152 1h1m3 0h1m3 0h1m5 0h1m2 0h1m13 0h1m17 0h1m25 0h1m18 0h1m56 0h1m1 0h1m-151 1h1m7 0h1m26 0h1m1 0h1m31 0h1m10 0h1m8 0h1m5 0h2m52 0h1m-149 1h1m3 0h1m6 0h1m14 0h1m4 0h1m55 0h1m12 0h1m-99 1h1m1 0h1m25 0h1m6 0h1m2 0h1m10 0h1m16 0h1m10 0h1m20 0h1m-95 1h1m1 0h3m19 0h1m-20 1h1m2 0h1m1 0h1m6 0h1m36 0h1m12 0h1m76 0h1m-156 1h2m12 0h2m11 0h1m7 0h1m11 0h1m17 0h1m11 0h1m5 0h1m2 0h1m1 0h1m-87 1h2m11 0h1m12 0h1m24 0h1m28 0h1m3 0h1m21 0h1m21 0h1m24 0h1m-136 1h1m5 0h1m1 0h1m5 0h1m13 0h1m12 0h1m48 0h1m-93 1h1m15 0h1m10 0h1m7 0h1m14 0h1m11 0h1m-69 1h1m5 0h3m6 0h1m1 0h1m11 0h1m14 0h1m14 0h1m5 0h1m1 0h1m3 0h1m2 0h1m70 0h1m-151 1h2m2 0h1m1 0h1m18 0h1m19 0h1m17 0h1m8 0h1m3 0h2m2 0h1m-83 1h1m13 0h1m1 0h1m4 0h1m1 0h2m12 0h1m10 0h1m16 0h1m9 0h1m1 0h1m1 0h1m-83 1h1m17 0h1m12 0h2m1 0h1m15 0h1m12 0h1m11 0h1m8 0h1m10 0h1m-92 1h1m4 0h1m36 0h1m7 0h1m12 0h1m9 0h1m4 0h1m7 0h1m2 0h1m97 0h1m7 0h1m-202 1h2m19 0h2m22 0h1m2 0h1m19 0h1m11 0h2m4 0h1m8 0h1m10 0h1m-104 1h1m19 0h1m8 0h1m9 0h1m7 0h1m5 0h1m1 0h1m1 0h1m3 0h1m17 0h1m6 0h1m17 0h1m3 0h1m4 0h1m70 0h1m3 0h1m9 0h1m-201 1h2m36 0h1m2 0h1m4 0h1m7 0h1m2 0h1m4 0h1m2 0h2m1 0h2m14 0h1m31 0h1m66 0h1m2 0h1m-188 1h2m1 0h1m1 0h1m7 0h1m1 0h1m7 0h2m4 0h1m14 0h1m21 0h2m5 0h1m2 0h1m35 0h1m-97 1h1m5 0h1m1 0h1m4 0h1m6 0h1m8 0h1m2 0h1m7 0h1m1 0h1m2 0h1m13 0h1m2 0h2m11 0h1m26 0h1m12 0h1m-127 1h1m4 0h1m5 0h3m8 0h1m6 0h1m5 0h1m2 0h2m3 0h1m14 0h1m7 0h1m2 0h1m69 0h1m-135 1h1m4 0h1m5 0h1m2 0h1m12 0h1m5 0h1m3 0h1m6 0h1m7 0h1m7 0h1m1 0h1m2 0h1m2 0h1m3 0h1m8 0h1m37 0h1m15 0h1m31 0h1m8 0h1m-187 1h1m2 0h1m14 0h1m3 0h1m3 0h3m6 0h1m1 0h1m1 0h1m21 0h1m16 0h1m2 0h2m43 0h1m8 0h1m9 0h1m-145 1h1m2 0h1m3 0h1m2 0h1m7 0h1m5 0h2m1 0h2m9 0h1m2 0h1m5 0h1m37 0h1m10 0h1m3 0h1m12 0h1m6 0h1m12 0h1m25 0h1m28 0h1m-166 1h1m4 0h2m10 0h2m3 0h1m17 0h1m4 0h1m4 0h1m6 0h1m13 0h1m55 0h2m-152 1h1m29 0h1m9 0h1m12 0h1m8 0h1m7 0h1m12 0h1m3 0h1m13 0h1m4 0h1m6 0h1m4 0h1m5 0h2m13 0h1m13 0h1m3 0h1m1 0h1m-160 1h1m18 0h1m14 0h1m30 0h1m20 0h1m9 0h1m2 0h1m17 0h1m40 0h1m25 0h2m1 0h1m-185 1h1m7 0h1m1 0h1m9 0h1m2 0h1m17 0h3m20 0h1m19 0h1m1 0h1m28 0h1m9 0h1m60 0h1m-185 1h1m3 0h3m10 0h1m8 0h1m2 0h1m1 0h2m6 0h2m21 0h1m50 0h2m36 0h2m24 0h1m-181 1h2m22 0h1m1 0h1m2 0h1m4 0h2m5 0h1m2 0h1m6 0h1m11 0h1m2 0h2m18 0h1m2 0h1m3 0h1m40 0h1m64 0h1m-195 1h1m2 0h1m1 0h1m9 0h1m4 0h1m18 0h1m7 0h1m1 0h1m1 0h1m10 0h1m34 0h1m21 0h1m12 0h1m28 0h1m5 0h1m3 0h1m10 0h1m-184 1h2m10 0h1m6 0h1m20 0h1m3 0h1m6 0h1m3 0h1m7 0h2m2 0h1m57 0h1m1 0h1m8 0h1m5 0h1m20 0h1m5 0h1m13 0h2m7 0h1m2 0h1m-210 1h1m11 0h1m2 0h1m2 0h1m1 0h5m1 0h2m1 0h2m22 0h1m3 0h1m17 0h1m1 0h1m4 0h1m21 0h1m5 0h2m1 0h1m75 0h1m-188 1h1m1 0h1m5 0h1m4 0h1m4 0h1m7 0h2m21 0h1m14 0h1m10 0h1m1 0h1m6 0h1m6 0h1m9 0h1m23 0h1m4 0h1m7 0h1m27 0h1m21 0h1m-190 1h1m15 0h1m2 0h2m17 0h1m5 0h1m3 0h1m1 0h1m2 0h1m1 0h3m21 0h1m6 0h2m12 0h1m12 0h1m26 0h2m67 0h1m-205 1h1m1 0h1m1 0h1m6 0h1m13 0h1m14 0h2m13 0h1m4 0h1m2 0h1m7 0h1m2 0h1m7 0h1m8 0h1m2 0h1m8 0h1m2 0h1m36 0h1m-136 1h1m16 0h2m10 0h1m6 0h1m2 0h1m3 0h1m18 0h1m2 0h1m1 0h1m3 0h1m25 0h1m6 0h1m5 0h1m1 0h1m1 0h1m2 0h1m6 0h1m-130 1h1m4 0h1m1 0h1m1 0h1m19 0h1m4 0h1m1 0h1m5 0h2m1 0h1m15 0h1m10 0h1m4 0h1m1 0h1m20 0h2m2 0h1m22 0h1m54 0h1m-188 1h1m1 0h2m1 0h1m6 0h1m1 0h1m5 0h1m2 0h2m6 0h1m1 0h1m1 0h1m1 0h2m1 0h2m45 0h1m8 0h1m2 0h1m9 0h1m35 0h1m40 0h1m17 0h1m1 0h1m-209 1h1m7 0h1m5 0h1m4 0h1m7 0h2m6 0h1m5 0h1m47 0h1m14 0h2m29 0h1m18 0h1m27 0h1m7 0h1m-185 1h1m6 0h1m1 0h1m3 0h1m10 0h2m6 0h1m1 0h1m13 0h2m27 0h1m6 0h1m16 0h1m29 0h1m5 0h1m3 0h1m7 0h1m48 0h1m-205 1h1m7 0h1m10 0h1m2 0h1m6 0h1m10 0h1m3 0h3m10 0h1m6 0h1m18 0h1m6 0h2m12 0h1m18 0h1m9 0h1m9 0h1m31 0h2m23 0h1m8 0h1m2 0h1m-215 1h1m3 0h1m1 0h1m3 0h1m2 0h1m2 0h2m2 0h1m11 0h2m8 0h1m2 0h1m2 0h1m4 0h1m4 0h1m4 0h1m14 0h1m13 0h1m47 0h1m17 0h2m4 0h1m37 0h1m-201 1h1m2 0h1m9 0h1m1 0h1m2 0h1m3 0h2m3 0h1m1 0h1m6 0h3m5 0h1m22 0h1m3 0h1m3 0h1m32 0h1m54 0h1m22 0h1m22 0h1m-211 1h1m3 0h1m3 0h1m3 0h1m10 0h1m1 0h1m3 0h1m10 0h1m1 0h1m4 0h2m10 0h1m2 0h1m2 0h1m1 0h1m2 0h2m2 0h1m3 0h1m19 0h1m11 0h1m7 0h1m8 0h1m4 0h1m29 0h1m14 0h1m4 0h2m-175 1h1m2 0h3m5 0h1m2 0h1m1 0h2m11 0h1m3 0h2m14 0h1m8 0h1m2 0h1m5 0h1m1 0h1m18 0h1m28 0h1m21 0h1m4 0h1m2 0h1m6 0h1m51 0h1m-213 1h1m2 0h1m4 0h1m5 0h2m11 0h1m11 0h2m5 0h1m4 0h1m4 0h2m18 0h1m8 0h1m6 0h1m5 0h2m12 0h1m11 0h1m22 0h1m25 0h1m16 0h1m4 0h1m16 0h1m-211 1h1m3 0h1m8 0h1m4 0h1m7 0h1m2 0h1m4 0h1m3 0h2m1 0h1m14 0h1m2 0h1m2 0h1m2 0h1m11 0h1m2 0h1m18 0h1m12 0h1m13 0h1m12 0h1m22 0h1m9 0h1m18 0h1m3 0h1m4 0h1m-199 1h1m7 0h1m2 0h1m2 0h1m5 0h1m1 0h1m4 0h1m8 0h1m20 0h1m5 0h1m23 0h1m18 0h1m9 0h2m21 0h1m8 0h1m11 0h1m34 0h1m-197 1h1m14 0h1m3 0h1m11 0h1m9 0h1m8 0h1m15 0h1m3 0h1m23 0h1m13 0h1m4 0h1m3 0h1m35 0h1m48 0h1m-196 1h2m5 0h1m1 0h1m6 0h1m20 0h2m2 0h1m11 0h1m1 0h1m3 0h1m2 0h1m7 0h1m50 0h1m32 0h1m27 0h1m-172 1h1m3 0h1m9 0h1m1 0h1m4 0h2m3 0h1m2 0h2m14 0h2m2 0h2m19 0h1m24 0h1m13 0h1m25 0h1m26 0h1m1 0h1m23 0h1m6 0h1m-211 1h1m11 0h1m2 0h1m2 0h2m5 0h1m2 0h2m9 0h1m9 0h1m1 0h1m25 0h1m3 0h1m2 0h1m43 0h1m16 0h1m33 0h1m2 0h1m15 0h1m9 0h1m-205 1h1m9 0h1m2 0h1m1 0h1m4 0h2m8 0h1m2 0h1m1 0h1m8 0h1m7 0h1m31 0h1m10 0h1m5 0h1m95 0h1m-201 1h1m3 0h1m1 0h1m12 0h1m10 0h1m4 0h1m12 0h1m7 0h1m4 0h1m13 0h1m27 0h1m3 0h1m9 0h1m40 0h1m31 0h2m2 0h3m2 0h1m9 0h1m-209 1h1m15 0h1m1 0h1m1 0h1m5 0h1m3 0h2m4 0h2m6 0h1m1 0h1m4 0h1m7 0h1m20 0h1m27 0h1m16 0h1m3 0h1m6 0h1m40 0h2m7 0h1m7 0h1m2 0h1m8 0h1m-198 1h1m9 0h1m2 0h2m1 0h1m2 0h1m4 0h1m11 0h1m45 0h1m7 0h2m3 0h1m14 0h1m53 0h1m8 0h1m3 0h1m3 0h1m17 0h1m-198 1h1m7 0h1m4 0h1m1 0h1m5 0h2m11 0h1m13 0h2m45 0h1m1 0h1m11 0h1m1 0h1m3 0h1m17 0h1m23 0h2m16 0h1m1 0h1m5 0h1m-184 1h2m7 0h1m10 0h1m4 0h1m14 0h2m27 0h1m1 0h1m1 0h1m10 0h1m16 0h1m25 0h1m45 0h1m10 0h1m-185 1h1m14 0h1m2 0h1m1 0h1m14 0h1m2 0h1m2 0h1m7 0h1m33 0h1m10 0h1m8 0h1m7 0h1m2 0h1m13 0h1m7 0h1m33 0h1m15 0h1m-183 1h1m1 0h1m2 0h1m5 0h1m6 0h2m2 0h1m9 0h1m11 0h2m30 0h1m31 0h1m25 0h1m45 0h1m-167 1h1m4 0h2m2 0h2m11 0h1m1 0h1m20 0h1m1 0h1m1 0h1m4 0h1m9 0h1m21 0h1m11 0h1m6 0h1m8 0h1m1 0h1m28 0h1m-157 1h1m7 0h1m4 0h1m1 0h2m2 0h1m1 0h1m9 0h1m8 0h1m15 0h1m6 0h1m5 0h1m2 0h1m16 0h1m38 0h1m1 0h1m38 0h1m-157 1h1m3 0h1m4 0h2m7 0h1m8 0h1m6 0h1m1 0h1m4 0h1m13 0h2m9 0h1m7 0h1m28 0h1m12 0h1m21 0h1m22 0h1m12 0h1m-177 1h1m1 0h1m7 0h1m1 0h1m13 0h1m31 0h1m88 0h1m12 0h1m5 0h1m1 0h1m-178 1h2m2 0h3m1 0h1m3 0h1m13 0h1m20 0h1m5 0h3m1 0h1m5 0h1m2 0h1m5 0h1m47 0h3m36 0h1m13 0h1m-157 1h1m1 0h1m9 0h2m4 0h3m9 0h1m21 0h1m8 0h1m27 0h1m28 0h1m22 0h2m-163 1h2m5 0h1m6 0h1m11 0h1m5 0h1m5 0h1m5 0h1m16 0h1m1 0h1m15 0h1m1 0h1m36 0h1m14 0h1m7 0h1m13 0h1m6 0h1m2 0h2m2 0h1m5 0h1m-175 1h1m13 0h1m2 0h1m7 0h1m10 0h1m5 0h1m4 0h1m28 0h2m11 0h1m18 0h1m20 0h1m15 0h1m9 0h1m2 0h1m7 0h1m-164 1h1m33 0h1m23 0h1m13 0h1m15 0h1m19 0h1m5 0h1m4 0h1m27 0h1m-137 1h2m4 0h1m4 0h4m26 0h1m1 0h1m13 0h1m30 0h1m22 0h1m4 0h1m1 0h1m7 0h1m-126 1h1m2 0h1m2 0h1m11 0h1m16 0h1m3 0h1m9 0h1m33 0h1m16 0h1m17 0h1m8 0h1m-129 1h1m5 0h1m2 0h1m7 0h1m6 0h1m6 0h2m5 0h1m2 0h1m1 0h1m6 0h1m22 0h1m16 0h1m17 0h1m25 0h1m20 0h1m5 0h1m3 0h1m4 0h1m-167 1h1m1 0h1m7 0h1m3 0h1m2 0h1m13 0h1m28 0h1m18 0h1m61 0h1m5 0h1m14 0h1m-136 1h1m4 0h1m4 0h1m3 0h1m4 0h2m29 0h1m1 0h1m38 0h1m-124 1h1m15 0h1m4 0h1m5 0h2m8 0h1m4 0h1m1 0h1m61 0h1m13 0h1m1 0h2m6 0h1m1 0h1m26 0h1m-151 1h1m4 0h2m1 0h1m11 0h2m5 0h1m47 0h1m44 0h1m8 0h1m3 0h1m16 0h1m-154 1h1m16 0h1m5 0h1m14 0h1m7 0h1m76 0h1m39 0h1m-166 1h2m12 0h2m2 0h1m3 0h1m1 0h1m1 0h2m1 0h1m12 0h1m19 0h1m5 0h1m1 0h1m24 0h1m39 0h1m28 0h1m-166 1h1m10 0h1m2 0h2m11 0h1m6 0h1m11 0h1m6 0h1m28 0h1m5 0h1m51 0h1m12 0h1m-145 1h1m1 0h1m7 0h1m12 0h1m1 0h2m5 0h3m-42 1h1m6 0h1m5 0h1m3 0h2m3 0h1m9 0h1m15 0h1m40 0h1m57 0h1m12 0h1m-156 1h1m6 0h1m10 0h1m7 0h1m1 0h3m6 0h1m4 0h1m28 0h2m19 0h1m27 0h2m22 0h1m-137 1h1m4 0h1m1 0h1m7 0h1m2 0h1m6 0h1m2 0h1m1 0h1m4 0h2m8 0h2m47 0h1m12 0h1m21 0h1m5 0h1m-151 1h1m10 0h1m4 0h1m3 0h1m7 0h1m10 0h1m1 0h1m9 0h1m2 0h1m6 0h1m57 0h1m8 0h1m9 0h1m1 0h1m-138 1h1m1 0h1m12 0h1m1 0h2m5 0h1m9 0h2m9 0h1m15 0h1m4 0h1m21 0h1m-83 1h1m1 0h1m9 0h1m1 0h1m5 0h1m1 0h1m5 0h1m2 0h2m16 0h1m1 0h1m1 0h1m34 0h1m11 0h1m17 0h1m9 0h1m2 0h1m-138 1h1m3 0h1m3 0h1m19 0h1m3 0h2m2 0h1m2 0h1m15 0h1m2 0h1m19 0h1m13 0h1m-85 1h1m2 0h1m18 0h1m6 0h2m7 0h1m2 0h1m5 0h1m7 0h1m5 0h1m3 0h1m47 0h1m-115 1h1m1 0h1m14 0h1m7 0h1m1 0h1m3 0h1m11 0h1m3 0h1m30 0h1m2 0h1m4 0h1m13 0h1m2 0h1m6 0h1m3 0h1m27 0h1m-141 1h1m11 0h1m9 0h1m7 0h1m3 0h1m2 0h1m54 0h1m48 0h2m-145 1h1m15 0h1m4 0h1m3 0h1m6 0h1m8 0h1m38 0h1m24 0h1m-103 1h1m3 0h1m2 0h1m1 0h1m12 0h1m4 0h1m3 0h1m6 0h1m8 0h1m52 0h1m35 0h1m5 0h1m-138 1h1m5 0h1m23 0h2m5 0h1m34 0h1m35 0h1m1 0h2m-107 1h1m2 0h1m2 0h1m7 0h1m2 0h1m3 0h1m8 0h1m15 0h1m10 0h1m43 0h1m-89 1h1m4 0h1m37 0h1m2 0h2m9 0h1m1 0h1m1 0h1m25 0h1m-103 1h4m4 0h1m31 0h1m28 0h1m-37 1h1m10 0h2m5 0h1m25 0h1m26 0h1m-93 1h1m20 0h1m14 0h1m6 0h1m10 0h1m12 0h1m15 0h1m9 0h1m16 0h1m11 0h1m-105 1h2m29 0h1m21 0h1m48 0h1m-101 1h1m71 0h1m-58 1h2m27 0h1m20 0h2m14 0h1m5 0h1m8 0h1m-83 1h1m11 0h1m39 0h1m1 0h1m31 0h1m-121 1h2m32 0h1m38 0h1m3 0h2m5 0h1m9 0h1m-55 1h1m14 0h1m1 0h1m-25 1h1m12 0h1m39 0h1m32 0h1m-79 1h1m45 0h1m2 0h2m4 0h1m-66 1h1m16 0h1m63 0h1m2 0h1m-15 1h1m15 0h1m-84 1h1m58 0h1m-60 1h1m57 0h1m5 0h1m-68 1h1m3 1h1m71 0h1m-68 1h2m60 0h1m-12 1h1m14 0h1m-18 5h1m-2 4h1m2 4h1"/>
<path stroke="#dcf096" d="M46 16h1m-1 5h1m-1 2h1m0 3h2m-3 1h1m3 0h1m-4 1h1m3 1h1m-5 1h1m0 1h1m-6 1h1m5 0h1m-8 1h1m7 0h1m2 0h1m-9 1h1m-2 1h1m8 0h1m-8 1h1m113 0h1m1 0h1m-116 1h1m110 0h1m5 0h1m2 0h1m11 0h1m5 0h1m10 0h1m6 0h2m3 0h1m-166 1h1m13 0h1m113 0h1m4 0h1m6 0h1m4 0h1m17 0h1m-151 1h1m108 0h1m9 0h1m1 0h1m4 0h1m4 0h2m13 0h2m1 0h1m-165 1h2m4 0h2m6 0h1m1 0h1m105 0h1m9 0h1m1 0h1m1 0h1m3 0h1m9 0h1m-151 1h1m19 0h1m101 0h1m10 0h1m16 0h1m-55 1h1m14 0h1m-92 1h1m97 0h1m3 0h1m-118 1h1m6 0h1m2 0h1m5 0h1m58 0h1m5 0h1m30 0h1m3 0h1m-99 1h3m61 0h1m63 0h1m-148 1h1m17 0h1m7 0h1m76 0h1m3 0h1m-102 1h2m3 0h2m1 0h1m73 0h1m10 0h2m1 0h1m44 0h1m-129 1h1m1 0h2m5 0h1m39 0h1m20 0h1m13 0h1m2 0h1m2 0h1m28 0h1m7 0h1m2 0h1m-132 1h3m51 0h2m34 0h1m1 0h1m2 0h1m32 0h1m2 0h1m-149 1h1m6 0h1m10 0h1m1 0h2m4 0h1m2 0h2m36 0h1m4 0h2m-73 1h1m5 0h2m6 0h1m3 0h1m6 0h1m37 0h1m44 0h1m29 0h1m6 0h1m-140 1h2m13 0h2m19 0h1m3 0h1m38 0h1m17 0h1m4 0h2m-105 1h1m25 0h2m9 0h2m1 0h1m10 0h1m35 0h2m10 0h1m2 0h1m1 0h1m1 0h1m46 0h1m-150 1h1m28 0h1m2 0h1m1 0h1m1 0h1m11 0h1m23 0h1m2 0h1m7 0h1m6 0h1m9 0h1m2 0h1m29 0h1m-119 1h1m12 0h1m1 0h1m21 0h1m17 0h1m11 0h1m3 0h1m2 0h1m-81 1h1m7 0h1m9 0h1m3 0h1m6 0h1m2 0h2m5 0h1m29 0h1m6 0h1m27 0h1m40 0h1m-159 1h1m29 0h1m2 0h1m14 0h1m6 0h1m6 0h1m29 0h1m97 0h1m-176 1h1m6 0h1m5 0h1m7 0h1m19 0h1m6 0h1m4 0h1m1 0h1m2 0h1m17 0h1m67 0h1m32 0h1m-193 1h1m25 0h1m28 0h1m30 0h1m2 0h1m17 0h1m51 0h1m-154 1h1m2 0h1m8 0h2m16 0h1m11 0h1m7 0h1m11 0h1m2 0h1m17 0h1m32 0h1m10 0h1m54 0h1m-184 1h1m3 0h1m10 0h2m20 0h1m6 0h1m34 0h1m-79 1h1m2 0h1m11 0h1m1 0h1m3 0h1m2 0h1m7 0h1m3 0h1m5 0h1m10 0h1m-55 1h2m3 0h1m8 0h1m5 0h3m7 0h1m2 0h1m3 0h1m1 0h1m6 0h1m14 0h1m11 0h1m7 0h1m-84 1h1m1 0h1m6 0h1m8 0h2m6 0h2m2 0h1m1 0h1m5 0h1m4 0h1m23 0h1m4 0h2m16 0h1m108 0h1m-195 1h1m48 0h1m13 0h1m8 0h1m4 0h1m6 0h1m18 0h1m7 0h2m23 0h1m42 0h1m-182 1h2m2 0h1m5 0h1m7 0h1m5 0h1m1 0h1m1 0h1m2 0h1m5 0h1m8 0h2m1 0h1m12 0h1m9 0h1m1 0h2m10 0h1m7 0h1m8 0h1m94 0h1m-198 1h1m1 0h2m8 0h1m9 0h1m4 0h1m2 0h2m4 0h1m7 0h3m1 0h1m1 0h1m1 0h1m10 0h1m1 0h1m1 0h1m5 0h1m18 0h1m11 0h1m5 0h1m3 0h1m1 0h1m-118 1h1m6 0h1m30 0h2m2 0h2m4 0h1m12 0h1m22 0h1m9 0h1m8 0h2m7 0h1m83 0h2m-198 1h1m13 0h1m3 0h1m7 0h1m6 0h1m3 0h1m12 0h2m5 0h1m3 0h1m1 0h1m2 0h1m1 0h2m3 0h2m2 0h1m6 0h1m20 0h1m3 0h1m4 0h1m-91 1h1m2 0h1m9 0h1m32 0h1m9 0h1m7 0h1m18 0h1m-106 1h1m7 0h1m7 0h1m3 0h2m20 0h1m21 0h1m15 0h2m4 0h1m-83 1h2m3 0h1m33 0h1m1 0h1m1 0h1m3 0h1m14 0h1m11 0h1m1 0h1m19 0h1m6 0h1m5 0h1m-109 1h1m9 0h1m6 0h1m9 0h2m14 0h1m5 0h1m12 0h1m13 0h1m1 0h1m2 0h1m11 0h1m5 0h2m-110 1h1m3 0h1m5 0h1m10 0h1m14 0h1m19 0h1m14 0h1m13 0h1m1 0h1m3 0h2m1 0h1m4 0h1m17 0h1m6 0h2m21 0h1m37 0h1m-184 1h2m38 0h1m4 0h1m8 0h1m10 0h1m16 0h1m2 0h1m9 0h1m14 0h1m7 0h1m4 0h1m10 0h1m1 0h1m15 0h1m3 0h1m-159 1h1m6 0h1m5 0h1m11 0h1m34 0h1m2 0h3m4 0h1m5 0h2m2 0h2m3 0h1m6 0h1m4 0h1m9 0h1m3 0h1m1 0h1m10 0h1m59 0h1m-186 1h1m21 0h1m3 0h1m4 0h1m2 0h1m7 0h1m3 0h1m13 0h1m4 0h2m34 0h1m5 0h1m7 0h1m24 0h1m46 0h1m-176 1h1m1 0h1m6 0h1m2 0h4m1 0h1m2 0h1m10 0h1m2 0h1m13 0h2m7 0h1m6 0h1m8 0h1m11 0h1m19 0h1m3 0h2m3 0h1m6 0h1m13 0h1m1 0h1m1 0h1m8 0h1m-159 1h1m6 0h1m3 0h1m3 0h1m6 0h1m3 0h1m11 0h1m2 0h2m9 0h1m8 0h1m5 0h1m3 0h1m1 0h1m8 0h1m12 0h1m20 0h2m12 0h1m5 0h1m2 0h2m5 0h1m8 0h1m14 0h1m-173 1h1m3 0h2m6 0h1m6 0h2m10 0h1m4 0h1m32 0h1m1 0h1m14 0h1m16 0h1m18 0h1m4 0h1m73 0h1m-199 1h1m9 0h1m5 0h2m3 0h1m3 0h1m29 0h1m9 0h2m3 0h2m4 0h1m7 0h1m24 0h1m16 0h1m13 0h1m47 0h1m3 0h1m-203 1h1m13 0h1m12 0h1m19 0h1m6 0h1m3 0h1m24 0h1m4 0h1m7 0h1m15 0h1m25 0h2m10 0h1m24 0h1m1 0h1m21 0h1m-198 1h1m13 0h1m1 0h1m12 0h1m5 0h1m3 0h1m4 0h1m3 0h1m4 0h1m8 0h1m12 0h3m2 0h1m1 0h1m2 0h2m3 0h1m3 0h1m12 0h1m11 0h1m12 0h1m2 0h1m2 0h1m4 0h1m60 0h2m-209 1h2m11 0h1m6 0h1m1 0h1m4 0h2m11 0h1m5 0h1m5 0h1m4 0h1m3 0h1m23 0h1m2 0h1m5 0h1m19 0h1m20 0h1m6 0h1m18 0h1m46 0h1m-208 1h1m9 0h1m4 0h1m24 0h2m3 0h2m12 0h1m2 0h1m12 0h1m10 0h3m8 0h1m3 0h1m5 0h1m8 0h1m13 0h1m16 0h2m6 0h1m21 0h2m8 0h1m12 0h1m2 0h1m-205 1h1m17 0h1m4 0h1m1 0h1m4 0h1m6 0h1m18 0h1m2 0h1m7 0h1m7 0h1m58 0h1m14 0h1m8 0h1m33 0h1m-187 1h1m3 0h2m4 0h1m2 0h1m14 0h1m8 0h2m10 0h1m3 0h1m6 0h1m35 0h1m2 0h2m16 0h1m82 0h1m-203 1h1m6 0h1m7 0h1m5 0h1m8 0h1m21 0h1m1 0h2m4 0h1m3 0h1m6 0h1m3 0h1m2 0h1m6 0h1m18 0h1m18 0h1m1 0h1m28 0h1m8 0h1m4 0h1m12 0h1m9 0h1m11 0h2m3 0h1m-213 1h1m3 0h1m4 0h1m2 0h1m3 0h1m3 0h1m12 0h1m4 0h1m8 0h1m14 0h1m3 0h1m3 0h1m35 0h1m13 0h1m12 0h1m8 0h1m50 0h1m13 0h1m-202 1h1m6 0h1m9 0h1m11 0h2m2 0h1m13 0h1m20 0h1m9 0h1m12 0h1m13 0h1m3 0h1m1 0h1m1 0h1m8 0h1m1 0h1m6 0h1m22 0h1m2 0h1m17 0h1m4 0h1m20 0h1m-188 1h1m4 0h1m6 0h1m10 0h1m11 0h1m6 0h1m3 0h1m12 0h1m32 0h1m20 0h1m1 0h1m1 0h1m2 0h1m9 0h1m50 0h1m-199 1h1m4 0h1m4 0h1m3 0h1m1 0h1m5 0h1m14 0h1m7 0h1m7 0h2m59 0h1m9 0h1m20 0h1m36 0h1m13 0h1m9 0h1m-207 1h1m37 0h1m2 0h1m3 0h3m15 0h1m2 0h1m20 0h1m15 0h1m24 0h1m2 0h1m29 0h1m5 0h2m10 0h2m30 0h1m-214 1h1m7 0h1m12 0h1m7 0h1m5 0h1m1 0h1m5 0h1m11 0h1m1 0h1m6 0h1m2 0h1m22 0h1m47 0h1m15 0h1m8 0h1m7 0h1m8 0h1m10 0h1m-182 1h1m2 0h1m4 0h1m4 0h1m5 0h1m6 0h1m3 0h1m13 0h1m10 0h1m26 0h1m13 0h1m4 0h1m6 0h1m6 0h1m18 0h1m32 0h1m33 0h1m1 0h1m-211 1h1m13 0h2m13 0h1m10 0h1m6 0h1m18 0h1m21 0h1m19 0h1m1 0h1m17 0h1m8 0h1m22 0h1m1 0h1m16 0h1m9 0h1m5 0h1m1 0h1m8 0h1m-191 1h1m4 0h1m2 0h1m3 0h1m3 0h1m2 0h1m22 0h1m33 0h1m12 0h1m12 0h1m38 0h2m1 0h1m20 0h1m20 0h1m7 0h1m-213 1h1m1 0h1m2 0h1m8 0h1m11 0h1m5 0h1m2 0h1m9 0h1m1 0h1m4 0h1m6 0h1m45 0h1m2 0h1m4 0h1m4 0h1m29 0h2m42 0h1m-192 1h1m2 0h1m3 0h1m2 0h1m1 0h2m15 0h1m3 0h1m17 0h1m7 0h1m1 0h1m18 0h1m10 0h1m24 0h2m3 0h1m2 0h1m44 0h1m33 0h1m10 0h1m-213 1h1m31 0h1m3 0h1m6 0h1m1 0h1m6 0h1m12 0h1m3 0h1m18 0h1m1 0h1m2 0h1m10 0h1m3 0h1m20 0h1m17 0h2m44 0h1m5 0h1m-201 1h1m1 0h1m20 0h1m4 0h1m3 0h2m4 0h1m9 0h1m10 0h1m21 0h1m21 0h1m52 0h1m2 0h1m3 0h1m14 0h1m3 0h1m15 0h1m3 0h1m4 0h1m-188 1h1m5 0h2m1 0h1m1 0h1m5 0h1m5 0h1m3 0h1m2 0h1m1 0h1m15 0h1m15 0h3m31 0h1m28 0h1m11 0h1m-152 1h1m5 0h1m5 0h1m7 0h1m7 0h1m4 0h2m9 0h1m20 0h1m40 0h1m25 0h1m20 0h1m-152 1h1m5 0h1m3 0h1m8 0h2m5 0h1m156 0h1m3 0h1m6 0h1m-195 1h1m1 0h1m1 0h2m4 0h1m9 0h1m20 0h1m4 0h1m11 0h1m10 0h1m27 0h1m36 0h1m8 0h1m4 0h1m2 0h1m24 0h1m18 0h1m3 0h1m-196 1h1m1 0h1m11 0h1m9 0h1m14 0h1m17 0h1m21 0h1m5 0h1m7 0h1m13 0h2m1 0h1m13 0h1m9 0h1m2 0h1m4 0h2m41 0h1m13 0h1m-202 1h1m11 0h1m2 0h2m7 0h1m2 0h1m9 0h2m5 0h1m1 0h1m41 0h1m14 0h1m30 0h1m20 0h1m40 0h1m-195 1h1m15 0h1m5 0h1m3 0h1m5 0h1m3 0h1m7 0h1m9 0h2m9 0h1m51 0h1m3 0h2m15 0h1m42 0h1m19 0h1m-201 1h1m18 0h1m4 0h1m4 0h2m16 0h1m4 0h1m2 0h1m7 0h1m27 0h1m6 0h1m12 0h1m2 0h1m5 0h1m11 0h1m52 0h1m9 0h1m-199 1h3m1 0h1m1 0h1m7 0h1m9 0h1m1 0h1m50 0h1m32 0h1m25 0h1m31 0h1m27 0h1m2 0h1m3 0h1m-198 1h1m7 0h1m8 0h1m11 0h1m3 0h1m1 0h1m14 0h1m8 0h1m9 0h1m9 0h1m53 0h1m35 0h1m-176 1h3m2 0h1m2 0h1m2 0h1m7 0h1m3 0h1m9 0h1m1 0h1m4 0h2m5 0h1m29 0h1m29 0h1m6 0h1m57 0h1m2 0h1m27 0h1m-183 1h1m4 0h1m1 0h1m3 0h1m2 0h1m1 0h1m1 0h1m4 0h1m29 0h1m39 0h1m35 0h1m-150 1h1m9 0h1m9 0h1m4 0h1m1 0h2m2 0h1m10 0h1m29 0h1m27 0h1m16 0h1m14 0h1m8 0h1m1 0h1m28 0h2m1 0h1m-162 1h2m9 0h1m4 0h1m2 0h1m14 0h1m5 0h1m9 0h1m41 0h1m9 0h1m9 0h1m12 0h1m11 0h1m4 0h1m-142 1h1m6 0h1m1 0h2m2 0h1m13 0h2m20 0h1m8 0h1m6 0h1m32 0h1m1 0h1m19 0h1m55 0h1m5 0h1m-185 1h1m18 0h1m2 0h1m7 0h1m8 0h1m11 0h1m31 0h1m6 0h1m12 0h1m10 0h1m15 0h1m55 0h1m-189 1h2m15 0h1m7 0h1m30 0h1m6 0h1m2 0h1m6 0h1m6 0h1m14 0h1m15 0h1m10 0h1m39 0h1m-148 1h1m20 0h1m5 0h1m34 0h1m19 0h1m27 0h1m23 0h1m17 0h1m-158 1h1m10 0h1m2 0h3m10 0h1m2 0h1m2 0h1m72 0h1m5 0h2m7 0h1m8 0h1m24 0h1m11 0h1m-174 1h1m2 0h1m1 0h1m4 0h2m9 0h1m4 0h2m5 0h1m42 0h1m26 0h1m32 0h1m10 0h1m19 0h1m16 0h1m-175 1h1m9 0h1m18 0h1m1 0h1m6 0h1m11 0h1m5 0h1m1 0h1m23 0h1m3 0h1m3 0h1m26 0h1m6 0h2m29 0h1m-152 1h1m4 0h2m20 0h1m6 0h1m8 0h1m51 0h1m9 0h1m21 0h1m2 0h1m9 0h1m6 0h1m8 0h1m2 0h1m-162 1h1m1 0h1m7 0h1m24 0h1m7 0h1m2 0h1m53 0h1m13 0h1m5 0h1m12 0h1m20 0h2m4 0h1m10 0h1m-170 1h1m10 0h1m31 0h1m36 0h1m17 0h1m3 0h1m2 0h1m21 0h1m30 0h1m12 0h1m-177 1h2m3 0h2m15 0h1m4 0h1m19 0h1m7 0h1m18 0h1m37 0h1m7 0h1m-120 1h1m6 0h1m8 0h1m4 0h1m15 0h1m8 0h1m1 0h1m39 0h1m6 0h1m45 0h1m2 0h1m-142 1h1m36 0h1m5 0h1m42 0h1m28 0h1m-116 1h1m21 0h1m10 0h1m13 0h1m58 0h1m25 0h1m6 0h1m16 0h1m1 0h1m-157 1h1m4 0h1m7 0h1m27 0h1m10 0h1m14 0h1m27 0h1m5 0h1m27 0h1m-128 1h1m8 0h1m1 0h1m14 0h1m7 0h1m2 0h1m20 0h1m51 0h1m9 0h1m3 0h1m9 0h1m9 0h1m-152 1h1m5 0h1m20 0h1m2 0h1m1 0h2m25 0h1m30 0h1m8 0h1m-93 1h1m8 0h1m11 0h1m5 0h1m2 0h1m18 0h1m1 0h1m2 0h1m37 0h1m2 0h1m44 0h1m2 0h1m-146 1h1m6 0h1m3 0h1m19 0h2m3 0h1m10 0h1m19 0h1m1 0h1m9 0h1m12 0h1m5 0h2m45 0h2m4 0h1m-154 1h1m15 0h1m4 0h3m17 0h2m11 0h1m43 0h1m46 0h1m2 0h1m8 0h1m-148 1h2m8 0h1m3 0h1m2 0h1m1 0h1m2 0h2m1 0h1m3 0h1m7 0h1m24 0h1m-67 1h1m1 0h1m7 0h1m2 0h1m3 0h1m1 0h1m7 0h1m2 0h1m37 0h1m14 0h1m-76 1h1m2 0h2m5 0h1m2 0h1m19 0h1m4 0h1m1 0h1m17 0h1m8 0h1m7 0h1m30 0h1m36 0h1m-138 1h1m2 0h1m1 0h2m6 0h1m3 0h1m2 0h1m45 0h1m9 0h1m29 0h1m29 0h1m-150 1h1m1 0h1m4 0h1m6 0h1m1 0h1m2 0h1m12 0h1m35 0h1m80 0h1m-149 1h1m4 0h2m9 0h2m12 0h1m1 0h1m2 0h1m25 0h1m11 0h1m4 0h1m11 0h1m-77 1h2m10 0h1m4 0h1m24 0h2m17 0h1m25 0h1m-99 1h1m17 0h1m7 0h1m1 0h1m8 0h1m7 0h1m1 0h1m5 0h1m18 0h1m3 0h1m19 0h1m9 0h1m19 0h1m-126 1h2m1 0h4m4 0h1m14 0h2m1 0h1m18 0h1m35 0h1m2 0h1m45 0h1m-126 1h1m9 0h1m7 0h1m1 0h1m17 0h1m40 0h1m26 0h1m-113 1h1m9 0h1m5 0h2m7 0h1m11 0h1m5 0h1m14 0h1m-42 1h1m15 0h1m18 0h1m29 0h1m53 0h1m-112 1h1m4 0h1m54 0h1m6 0h1m26 0h1m20 0h1m-126 1h1m5 0h1m1 0h2m3 0h1m13 0h1m7 0h1m9 0h1m8 0h1m8 0h1m27 0h1m-87 1h1m1 0h1m17 0h1m7 0h1m67 0h1m-77 1h1m2 0h1m3 0h1m5 0h1m14 0h1m50 0h1m-66 1h2m1 0h1m26 0h1m15 1h1m7 0h1m-68 1h1m12 0h1m28 0h1m20 0h1m3 0h1m31 0h1m-58 1h1m-38 1h1m10 0h1m32 0h1m19 0h1m1 0h1m-92 1h1m25 0h1m11 0h1m38 0h1m13 1h1m-61 2h1m52 0h1m27 0h1m-83 1h1m1 0h1m78 0h1m-23 1h1m20 0h1m-12 1h1m-2 2h1m-64 1h1m64 0h1m-14 1h1m1 2h1m-1 1h1m-1 2h1m-3 2h1m1 3h1m-1 3h1"/>
<path stroke="#c8e882" d="M45 16h1m1 2h1m-1 3h1m-3 2h1m1 1h2m-5 1h1m2 0h1m-4 1h1m4 1h1m-2 1h3m-5 4h1m-1 1h1m-3 1h1m-2 1h1m-2 1h1m116 1h1m1 0h1m21 0h2m7 0h1m5 0h1m6 0h1m-46 1h1m1 0h1m4 0h1m6 0h1m3 0h1m7 0h1m10 0h1m-157 1h1m2 0h1m4 0h1m114 0h1m5 0h1m3 0h1m8 0h1m20 0h1m-156 1h2m5 0h1m96 0h1m6 0h1m4 0h1m14 0h1m11 0h1m-131 1h1m78 0h1m23 0h1m18 0h1m-124 1h1m76 0h1m24 0h1m6 0h1m27 0h1m-139 1h1m73 0h1m22 0h1m2 0h1m-110 1h2m13 0h1m58 0h1m70 0h1m-147 1h1m6 0h1m1 0h3m91 0h1m3 0h1m30 0h1m8 0h1m-150 1h3m7 0h1m2 0h1m2 0h1m2 0h2m1 0h1m57 0h2m4 0h1m2 0h1m15 0h2m2 0h1m30 0h2m6 0h1m-148 1h2m9 0h1m8 0h1m64 0h1m20 0h1m2 0h1m35 0h1m-135 1h1m4 0h1m2 0h1m45 0h1m15 0h1m-81 1h1m9 0h1m5 0h1m7 0h1m77 0h1m-103 1h1m8 0h1m51 0h1m13 0h1m2 0h1m6 0h2m45 0h1m24 0h1m-160 1h1m1 0h1m6 0h2m8 0h3m3 0h1m1 0h1m38 0h1m1 0h1m1 0h1m16 0h1m1 0h2m67 0h2m-157 1h1m4 0h4m7 0h1m11 0h1m18 0h1m17 0h1m7 0h1m9 0h1m12 0h1m3 0h1m42 0h1m13 0h1m-152 1h1m8 0h1m4 0h1m10 0h1m18 0h1m23 0h1m29 0h1m-104 1h1m12 0h1m4 0h1m13 0h1m6 0h1m114 0h1m1 0h1m30 0h1m-160 1h1m13 0h1m9 0h1m25 0h1m104 0h1m5 0h1m-185 1h1m4 0h1m7 0h1m15 0h1m25 0h1m29 0h2m16 0h1m48 0h1m32 0h1m-181 1h1m11 0h1m4 0h1m7 0h1m2 0h1m5 0h1m11 0h1m51 0h1m46 0h1m2 0h1m-159 1h1m9 0h3m6 0h1m42 0h1m27 0h1m1 0h2m3 0h1m6 0h1m3 0h1m79 0h1m-168 1h1m5 0h2m18 0h1m2 0h1m12 0h1m18 0h1m22 0h1m2 0h1m-109 1h3m5 0h1m5 0h1m12 0h1m30 0h1m10 0h2m4 0h1m116 0h1m-187 1h1m41 0h1m10 0h1m1 0h1m2 0h1m4 0h1m15 0h1m24 0h1m2 0h1m2 0h1m-115 1h2m3 0h1m3 0h1m3 0h1m1 0h3m9 0h1m1 0h1m14 0h1m2 0h1m30 0h1m4 0h1m24 0h1m77 0h2m-187 1h2m18 0h1m4 0h1m1 0h1m10 0h1m29 0h1m4 0h1m13 0h1m24 0h1m-91 1h1m2 0h1m13 0h2m1 0h1m21 0h1m3 0h1m1 0h1m5 0h1m3 0h1m8 0h1m17 0h1m3 0h1m71 0h1m-181 1h1m25 0h1m7 0h1m5 0h1m2 0h1m2 0h1m1 0h1m21 0h1m4 0h1m1 0h1m4 0h2m1 0h1m20 0h1m3 0h1m69 0h1m16 0h1m-195 1h1m2 0h1m10 0h1m16 0h2m8 0h1m19 0h1m39 0h1m1 0h2m2 0h1m8 0h1m-120 1h1m9 0h1m1 0h1m2 0h1m1 0h1m6 0h1m2 0h1m7 0h2m5 0h1m19 0h2m8 0h1m11 0h1m7 0h1m6 0h1m12 0h1m86 0h1m-196 1h2m3 0h3m3 0h1m12 0h1m3 0h1m2 0h1m10 0h1m3 0h2m2 0h1m13 0h1m4 0h1m4 0h1m2 0h1m5 0h1m22 0h1m84 0h1m2 0h1m-198 1h1m3 0h2m14 0h1m10 0h1m2 0h1m3 0h1m13 0h1m4 0h1m5 0h1m11 0h1m15 0h1m11 0h1m1 0h1m3 0h1m70 0h1m-186 1h1m3 0h1m21 0h1m6 0h1m10 0h2m6 0h2m2 0h1m25 0h1m3 0h1m23 0h1m8 0h1m16 0h1m-127 1h1m6 0h1m7 0h1m12 0h1m6 0h1m5 0h1m4 0h1m2 0h1m4 0h2m2 0h2m2 0h1m6 0h1m1 0h3m1 0h1m2 0h1m11 0h1m2 0h1m7 0h1m-113 1h1m12 0h2m17 0h1m3 0h1m7 0h1m8 0h1m9 0h1m2 0h1m7 0h1m2 0h1m13 0h1m13 0h1m7 0h1m4 0h1m-119 1h1m7 0h1m1 0h1m13 0h1m5 0h3m3 0h1m11 0h1m5 0h1m1 0h1m9 0h2m3 0h1m8 0h1m8 0h1m6 0h1m16 0h1m3 0h1m11 0h1m-103 1h1m12 0h1m8 0h2m6 0h2m13 0h1m2 0h1m2 0h1m25 0h1m9 0h1m18 0h1m4 0h1m3 0h1m-140 1h1m6 0h1m3 0h1m10 0h1m4 0h3m6 0h1m4 0h1m10 0h4m16 0h1m8 0h2m6 0h1m6 0h1m4 0h1m5 0h1m6 0h1m2 0h1m5 0h1m8 0h1m-125 1h1m3 0h1m3 0h1m19 0h1m4 0h1m5 0h1m6 0h1m1 0h1m10 0h1m22 0h1m2 0h1m76 0h1m12 0h1m2 0h1m-169 1h1m1 0h1m8 0h1m16 0h1m5 0h1m16 0h3m9 0h1m3 0h1m10 0h1m14 0h1m1 0h1m15 0h1m6 0h1m1 0h1m13 0h1m19 0h1m-171 1h1m5 0h1m1 0h1m1 0h1m8 0h1m18 0h1m5 0h1m3 0h1m6 0h1m4 0h1m1 0h1m1 0h2m4 0h1m22 0h1m5 0h1m4 0h1m11 0h1m12 0h1m19 0h1m8 0h1m11 0h1m10 0h1m17 0h1m-189 1h1m1 0h1m5 0h2m18 0h1m4 0h1m5 0h1m5 0h1m6 0h1m34 0h1m1 0h1m20 0h1m3 0h1m6 0h1m4 0h1m13 0h1m1 0h1m31 0h1m10 0h1m-190 1h1m10 0h1m5 0h1m10 0h1m9 0h1m1 0h2m1 0h1m22 0h1m7 0h2m2 0h1m27 0h1m15 0h1m14 0h1m-132 1h1m1 0h1m2 0h1m10 0h2m16 0h3m4 0h1m27 0h1m3 0h1m3 0h1m6 0h1m1 0h1m2 0h1m26 0h1m-127 1h1m4 0h1m2 0h1m3 0h1m2 0h1m37 0h2m11 0h2m16 0h1m8 0h1m11 0h1m47 0h1m23 0h1m15 0h1m-194 1h1m7 0h1m3 0h2m20 0h1m9 0h1m31 0h1m1 0h1m6 0h2m1 0h1m17 0h1m7 0h1m39 0h1m27 0h1m3 0h1m2 0h1m1 0h1m-190 1h2m3 0h1m23 0h1m9 0h1m12 0h1m31 0h1m1 0h2m1 0h1m5 0h1m18 0h1m48 0h1m25 0h1m-204 1h1m37 0h1m24 0h1m3 0h1m10 0h1m34 0h1m11 0h1m8 0h1m18 0h1m1 0h1m2 0h1m4 0h1m5 0h1m34 0h1m-196 1h1m10 0h1m1 0h1m8 0h1m2 0h1m7 0h1m3 0h1m4 0h2m5 0h1m3 0h1m26 0h1m12 0h1m17 0h2m81 0h1m1 0h1m-203 1h1m6 0h1m1 0h2m2 0h1m12 0h1m3 0h1m1 0h1m9 0h2m11 0h2m1 0h1m1 0h1m1 0h2m28 0h1m1 0h1m16 0h1m1 0h1m1 0h1m8 0h1m14 0h1m1 0h1m13 0h1m23 0h1m4 0h1m11 0h1m-202 1h1m1 0h1m2 0h1m3 0h1m10 0h1m1 0h1m15 0h1m6 0h1m3 0h1m1 0h1m2 0h1m2 0h1m2 0h1m17 0h1m4 0h1m1 0h1m1 0h1m10 0h1m19 0h2m2 0h2m18 0h1m9 0h1m31 0h1m2 0h1m-185 1h1m6 0h1m13 0h1m10 0h1m1 0h1m7 0h1m2 0h1m3 0h1m3 0h1m6 0h1m11 0h1m2 0h1m5 0h1m2 0h1m8 0h1m1 0h2m1 0h1m13 0h1m68 0h1m7 0h1m4 0h2m1 0h1m11 0h1m-212 1h1m1 0h1m1 0h1m2 0h1m10 0h1m24 0h1m35 0h1m1 0h1m16 0h1m2 0h1m3 0h1m9 0h1m4 0h2m8 0h1m29 0h1m36 0h1m14 0h2m-175 1h1m5 0h1m1 0h1m52 0h1m2 0h3m15 0h1m2 0h2m1 0h1m5 0h1m53 0h1m22 0h1m-198 1h1m19 0h1m9 0h1m2 0h1m1 0h1m39 0h1m21 0h2m1 0h1m10 0h1m9 0h1m65 0h1m10 0h1m-203 1h2m7 0h1m4 0h1m12 0h1m1 0h1m27 0h1m23 0h1m68 0h1m1 0h2m3 0h1m7 0h1m2 0h1m10 0h1m-175 1h2m20 0h1m5 0h1m5 0h1m17 0h1m42 0h1m7 0h1m5 0h1m3 0h1m28 0h1m11 0h1m24 0h1m1 0h1m10 0h1m-205 1h1m22 0h3m2 0h1m3 0h1m10 0h1m12 0h1m20 0h1m36 0h1m37 0h1m15 0h1m3 0h1m29 0h1m9 0h1m-213 1h1m6 0h1m2 0h1m23 0h1m4 0h1m6 0h1m8 0h1m1 0h1m11 0h1m8 0h1m24 0h1m8 0h1m14 0h1m28 0h1m16 0h1m25 0h2m-202 1h1m28 0h1m13 0h1m1 0h1m11 0h1m17 0h1m2 0h1m16 0h1m16 0h2m11 0h1m67 0h1m-188 1h1m20 0h2m1 0h2m6 0h2m3 0h2m1 0h1m1 0h1m2 0h1m8 0h1m6 0h2m9 0h1m18 0h1m11 0h1m18 0h1m69 0h1m2 0h1m2 0h1m-198 1h1m15 0h1m4 0h1m6 0h1m8 0h1m22 0h1m1 0h1m15 0h1m2 0h2m16 0h2m3 0h1m27 0h1m34 0h1m20 0h1m3 0h1m-195 1h1m10 0h1m9 0h1m1 0h1m5 0h1m5 0h1m20 0h1m2 0h1m5 0h2m13 0h1m1 0h1m20 0h1m6 0h1m59 0h1m-169 1h3m31 0h1m6 0h1m15 0h1m5 0h1m16 0h2m3 0h1m38 0h1m4 0h1m5 0h1m24 0h1m30 0h1m6 0h2m-200 1h1m1 0h1m6 0h1m1 0h2m5 0h1m12 0h1m5 0h1m3 0h1m41 0h1m17 0h1m3 0h1m2 0h1m27 0h1m61 0h2m-190 1h1m2 0h1m2 0h1m1 0h2m10 0h1m3 0h1m13 0h1m5 0h1m4 0h1m3 0h1m24 0h1m10 0h1m2 0h2m16 0h1m15 0h1m3 0h1m17 0h1m23 0h1m15 0h1m-199 1h1m12 0h1m3 0h1m11 0h1m3 0h1m10 0h1m8 0h1m9 0h1m38 0h1m1 0h1m22 0h1m4 0h1m9 0h1m57 0h1m-198 1h1m4 0h1m5 0h1m8 0h1m17 0h1m1 0h1m1 0h1m30 0h1m7 0h1m14 0h1m24 0h1m2 0h1m13 0h1m-140 1h1m10 0h2m16 0h1m2 0h1m1 0h1m2 0h1m36 0h1m26 0h2m18 0h1m57 0h1m19 0h1m-201 1h1m11 0h1m6 0h1m4 0h1m4 0h1m8 0h1m1 0h2m58 0h2m36 0h1m3 0h1m25 0h1m5 0h1m11 0h1m12 0h1m3 0h2m2 0h1m-204 1h1m4 0h1m1 0h2m10 0h1m5 0h1m5 0h1m5 0h1m39 0h1m21 0h1m22 0h1m5 0h1m74 0h1m-205 1h1m3 0h1m6 0h1m25 0h1m81 0h1m8 0h1m-128 1h1m9 0h1m16 0h1m7 0h2m5 0h1m7 0h1m59 0h1m6 0h1m11 0h1m52 0h1m-182 1h1m3 0h1m18 0h1m3 0h1m18 0h1m3 0h1m22 0h1m28 0h2m1 0h1m20 0h1m6 0h1m2 0h1m36 0h1m31 0h1m-184 1h1m12 0h1m1 0h1m6 0h1m8 0h1m41 0h1m53 0h1m18 0h1m-166 1h1m6 0h1m4 0h1m8 0h1m21 0h1m3 0h1m25 0h1m2 0h1m6 0h2m15 0h1m1 0h1m5 0h1m16 0h1m7 0h1m30 0h1m13 0h1m12 0h1m-171 1h2m16 0h1m4 0h1m24 0h1m20 0h1m26 0h1m18 0h1m6 0h1m45 0h1m-160 1h1m11 0h1m1 0h3m45 0h2m22 0h1m70 0h1m14 0h1m-190 1h1m30 0h1m6 0h1m17 0h1m30 0h1m1 0h1m14 0h1m38 0h1m1 0h2m25 0h1m3 0h1m-176 1h1m3 0h4m2 0h1m5 0h1m5 0h1m8 0h1m21 0h1m73 0h1m7 0h1m8 0h1m5 0h1m-142 1h1m14 0h2m6 0h1m17 0h1m64 0h2m10 0h1m7 0h1m4 0h2m2 0h1m1 0h1m-148 1h1m1 0h1m7 0h1m10 0h1m1 0h1m23 0h1m9 0h1m3 0h1m18 0h1m54 0h1m4 0h1m7 0h1m20 0h1m16 0h1m-187 1h1m1 0h1m1 0h1m14 0h1m5 0h1m15 0h1m26 0h1m23 0h1m32 0h1m22 0h1m8 0h1m-150 1h2m7 0h1m2 0h2m1 0h1m8 0h1m14 0h1m7 0h1m5 0h1m67 0h1m20 0h1m4 0h1m3 0h1m4 0h1m19 0h1m-181 1h1m4 0h1m31 0h1m15 0h1m44 0h1m14 0h1m2 0h1m3 0h1m16 0h1m10 0h1m-151 1h1m2 0h1m2 0h1m3 0h1m5 0h1m22 0h1m23 0h1m18 0h1m7 0h1m6 0h1m38 0h1m20 0h1m-156 1h1m1 0h1m5 0h1m6 0h1m5 0h3m27 0h1m61 0h1m1 0h1m16 0h1m5 0h1m32 0h1m4 0h1m-175 1h1m4 0h1m13 0h1m1 0h1m20 0h1m19 0h1m57 0h1m30 0h1m-144 1h1m18 0h1m13 0h1m1 0h1m51 0h1m1 0h1m6 0h1m21 0h1m3 0h2m14 0h1m2 0h2m11 0h1m-155 1h1m6 0h1m2 0h1m1 0h1m23 0h2m14 0h1m11 0h1m14 0h1m17 0h1m41 0h1m12 0h1m-160 1h1m10 0h1m2 0h1m2 0h1m19 0h1m5 0h1m1 0h2m7 0h1m13 0h1m25 0h1m79 0h1m-169 1h1m5 0h1m14 0h1m10 0h1m20 0h2m-54 1h1m2 0h1m8 0h3m9 0h2m5 0h1m2 0h2m2 0h2m5 0h1m2 0h1m87 0h1m31 0h1m-172 1h1m8 0h2m2 0h2m21 0h1m5 0h1m9 0h1m23 0h1m21 0h1m57 0h1m-154 1h1m1 0h1m1 0h3m6 0h1m22 0h1m20 0h1m17 0h1m15 0h1m39 0h1m11 0h1m-142 1h2m1 0h1m9 0h1m2 0h2m4 0h1m2 0h1m2 0h1m6 0h1m16 0h1m1 0h2m30 0h1m61 0h1m-151 1h1m3 0h2m2 0h1m5 0h2m16 0h1m3 0h2m15 0h1m5 0h1m8 0h1m10 0h1m13 0h1m35 0h1m7 0h1m14 0h1m-152 1h1m10 0h2m3 0h1m2 0h1m22 0h1m8 0h1m22 0h1m17 0h1m52 0h1m-147 1h3m6 0h1m2 0h1m13 0h1m3 0h1m12 0h1m84 0h1m-126 1h1m5 0h1m3 0h1m14 0h1m42 0h1m-57 1h1m4 0h1m8 0h1m3 0h1m1 0h1m1 0h1m2 0h1m1 0h1m10 0h1m1 0h1m4 0h1m15 0h1m7 0h1m3 0h1m39 0h2m-123 1h1m1 0h1m4 0h1m2 0h3m14 0h2m17 0h1m30 0h1m3 0h1m1 0h1m-81 1h1m2 0h1m5 0h1m4 0h2m8 0h1m10 0h1m6 0h2m-34 1h1m2 0h1m4 0h1m10 0h1m4 0h1m34 0h1m13 0h1m2 0h1m14 0h1m4 0h1m-102 1h2m8 0h1m20 0h1m10 0h1m68 0h1m-105 1h2m4 0h1m1 0h1m2 0h1m2 0h1m4 0h1m19 0h1m11 0h1m15 0h1m24 0h1m15 0h1m-117 1h1m7 0h1m8 0h1m8 0h1m6 0h1m66 0h1m17 0h2m10 0h1m5 0h2m-130 1h1m8 0h1m3 0h1m1 0h1m1 0h1m13 0h1m10 0h2m1 0h1m20 0h1m15 0h1m3 0h1m-86 1h1m14 0h1m1 0h1m22 0h1m86 0h2m-129 1h1m8 0h1m7 0h1m15 0h1m1 0h1m6 0h1m65 0h1m-112 1h1m15 0h1m6 0h1m3 0h1m31 0h1m37 0h1m5 0h1m-90 1h1m13 0h1m9 0h1m16 0h1m1 0h1m4 0h1m49 0h1m-98 1h1m3 0h1m19 0h1m18 0h1m-40 1h1m20 0h1m2 0h1m35 0h1m10 0h1m10 0h1m9 0h2m2 0h1m4 0h1m-104 1h1m118 0h1m-123 1h1m3 0h1m23 0h1m43 0h1m12 0h1m34 0h1m-121 1h1m2 0h2m60 0h1m7 0h1m2 0h1m12 0h1m-90 1h1m24 1h1m13 0h1m-14 1h1m43 0h1m-39 1h1m85 1h1m-86 1h1m42 0h1m15 0h1m-63 1h1m56 0h1m23 0h1m-79 1h1m52 0h1m7 0h1m3 0h1m-71 1h1m58 0h1m-59 1h1m2 0h1m4 0h2m48 0h1m-57 1h1m2 0h1m1 0h1m3 0h1m59 0h1m-62 1h1m49 0h1m1 0h1m8 1h1m6 0h2m-20 1h1m13 2h1m-3 1h1m-13 6h1m4 0h1"/>
<path stroke="#afe173" d="M47 19h2m-2 3h1m-2 2h1m1 1h1m-4 1h1m1 3h1m-1 2h1m-6 1h1m11 1h1m-8 1h1m5 0h1m-12 1h1m7 0h1m1 0h1m-12 1h1m4 1h1m115 0h2m17 0h1m4 0h2m11 0h1m6 0h1m-151 1h1m113 0h1m10 0h1m5 0h1m14 0h1m5 0h1m3 0h1m-166 1h1m112 0h1m12 0h1m4 0h1m10 0h1m17 0h1m-21 1h1m20 0h1m-163 1h1m1 0h1m115 0h1m6 0h1m1 0h1m18 0h1m1 0h1m-143 1h1m4 0h1m4 0h1m133 0h2m-147 1h1m2 0h1m9 0h1m76 0h1m9 0h1m-103 1h2m7 0h1m5 0h1m2 0h1m83 0h1m-111 1h2m24 0h1m91 0h1m33 0h1m2 0h1m-140 1h1m8 0h1m91 0h1m33 0h1m1 0h1m-148 1h1m16 0h1m63 0h2m5 0h1m18 0h1m4 0h1m-110 1h1m2 0h1m2 0h1m4 0h1m67 0h1m15 0h2m11 0h1m7 0h1m25 0h1m40 0h1m-185 1h1m17 0h1m60 0h1m28 0h1m7 0h1m-98 1h1m63 0h1m14 0h1m9 0h1m34 0h3m14 0h1m24 0h1m-173 1h1m3 0h1m31 0h1m13 0h1m4 0h1m16 0h1m49 0h1m6 0h1m2 0h1m9 0h1m3 0h2m-155 1h1m25 0h1m29 0h1m8 0h1m14 0h1m2 0h1m18 0h1m-91 1h1m13 0h1m32 0h1m2 0h2m15 0h1m3 0h1m20 0h1m49 0h1m-139 1h2m21 0h1m8 0h1m7 0h1m1 0h2m3 0h1m11 0h1m17 0h1m-87 1h1m16 0h1m9 0h1m117 0h1m-126 1h1m25 0h1m2 0h1m1 0h1m3 0h1m14 0h1m78 0h1m-129 1h1m2 0h1m10 0h1m23 0h1m10 0h1m1 0h1m7 0h2m3 0h1m1 0h1m91 0h1m-163 1h1m6 0h2m30 0h1m2 0h1m7 0h1m3 0h1m21 0h1m89 0h1m-183 1h1m10 0h1m13 0h1m9 0h1m24 0h1m8 0h1m12 0h1m2 0h1m12 0h1m80 0h1m3 0h1m-175 1h1m26 0h1m1 0h1m9 0h1m3 0h1m1 0h1m15 0h1m78 0h1m28 0h1m-183 1h1m39 0h1m142 0h1m-167 1h1m10 0h1m22 0h1m13 0h1m33 0h1m94 0h1m-187 1h1m23 0h2m48 0h1m5 0h1m9 0h1m80 0h1m14 0h2m-179 1h1m11 0h1m7 0h1m21 0h1m7 0h1m5 0h1m3 0h1m2 0h1m6 0h1m-66 1h1m11 0h2m5 0h1m7 0h1m42 0h1m10 0h1m10 0h1m79 0h1m-197 1h1m5 0h1m19 0h1m10 0h1m6 0h1m46 0h3m7 0h1m1 0h1m-97 1h1m7 0h1m23 0h2m1 0h1m6 0h1m5 0h2m11 0h1m14 0h1m2 0h1m4 0h1m11 0h1m7 0h1m9 0h1m77 0h1m-198 1h1m11 0h1m22 0h2m11 0h1m2 0h2m17 0h1m7 0h1m3 0h1m9 0h1m94 0h2m-188 1h1m1 0h1m5 0h2m18 0h2m8 0h2m1 0h1m38 0h1m8 0h1m9 0h1m9 0h1m77 0h1m6 0h1m1 0h1m-189 1h1m3 0h1m11 0h1m1 0h1m10 0h1m13 0h1m2 0h1m4 0h1m5 0h1m5 0h2m1 0h2m6 0h1m5 0h2m10 0h2m29 0h1m-120 1h1m9 0h1m24 0h1m1 0h1m35 0h1m7 0h1m20 0h1m15 0h1m44 0h1m5 0h1m-181 1h1m20 0h1m1 0h1m1 0h1m5 0h1m7 0h1m12 0h1m6 0h1m3 0h2m5 0h1m3 0h1m3 0h1m2 0h1m3 0h1m4 0h1m4 0h1m2 0h1m4 0h1m74 0h1m-180 1h1m1 0h1m5 0h1m30 0h2m2 0h1m6 0h1m21 0h1m6 0h2m6 0h2m5 0h1m5 0h1m10 0h1m9 0h1m11 0h1m1 0h1m7 0h1m-125 1h1m5 0h1m18 0h1m8 0h1m4 0h1m1 0h1m9 0h1m6 0h1m18 0h1m5 0h1m1 0h1m4 0h2m22 0h1m-129 1h1m38 0h1m8 0h1m7 0h1m17 0h1m2 0h1m4 0h1m7 0h1m2 0h2m9 0h1m4 0h1m80 0h2m-191 1h1m9 0h1m8 0h3m10 0h1m8 0h3m7 0h2m12 0h1m10 0h1m9 0h1m3 0h1m32 0h1m21 0h1m-152 1h1m8 0h1m9 0h1m8 0h1m40 0h1m1 0h1m6 0h1m6 0h1m12 0h1m98 0h1m-180 1h1m18 0h1m9 0h1m2 0h1m3 0h1m4 0h1m7 0h1m1 0h2m6 0h1m32 0h1m25 0h1m3 0h1m35 0h1m1 0h1m3 0h1m13 0h1m-153 1h1m5 0h1m2 0h1m1 0h1m1 0h1m1 0h1m6 0h1m4 0h1m23 0h1m15 0h1m9 0h1m12 0h1m7 0h1m3 0h1m7 0h1m2 0h1m2 0h1m5 0h1m8 0h1m-172 1h1m6 0h3m23 0h1m4 0h1m1 0h1m4 0h2m6 0h1m5 0h1m4 0h2m2 0h1m4 0h2m8 0h1m4 0h1m6 0h1m21 0h1m2 0h1m68 0h1m-198 1h1m10 0h1m26 0h1m15 0h2m15 0h1m3 0h1m1 0h1m3 0h1m9 0h1m18 0h1m36 0h1m5 0h1m15 0h2m7 0h1m5 0h2m-187 1h2m6 0h1m6 0h1m3 0h1m37 0h1m21 0h2m21 0h1m17 0h1m5 0h1m40 0h1m18 0h1m-174 1h1m1 0h1m13 0h1m5 0h1m1 0h2m12 0h1m7 0h2m18 0h1m23 0h1m17 0h1m43 0h1m1 0h1m7 0h2m8 0h1m7 0h1m-184 1h1m25 0h1m8 0h1m9 0h1m15 0h2m8 0h2m10 0h1m6 0h1m19 0h1m5 0h1m27 0h1m13 0h1m7 0h1m19 0h1m-188 1h1m14 0h1m11 0h1m17 0h1m1 0h1m16 0h1m3 0h2m6 0h1m15 0h1m8 0h1m11 0h1m15 0h1m14 0h1m11 0h1m2 0h1m6 0h1m12 0h1m1 0h1m1 0h1m1 0h1m-202 1h1m32 0h2m3 0h1m22 0h1m44 0h1m43 0h1m9 0h1m2 0h1m9 0h1m26 0h2m5 0h1m-207 1h1m1 0h1m8 0h1m9 0h1m18 0h1m19 0h1m6 0h1m47 0h1m7 0h1m4 0h1m55 0h1m6 0h1m15 0h1m-209 1h1m5 0h1m7 0h1m7 0h1m12 0h2m6 0h1m10 0h1m6 0h2m32 0h1m4 0h1m1 0h1m1 0h1m22 0h1m4 0h1m79 0h2m-214 1h2m5 0h1m4 0h1m9 0h1m1 0h1m8 0h1m1 0h1m2 0h1m4 0h1m6 0h1m9 0h1m51 0h2m20 0h1m9 0h1m3 0h1m14 0h1m-150 1h1m1 0h1m16 0h1m2 0h1m45 0h1m16 0h1m34 0h1m36 0h1m14 0h1m13 0h1m8 0h1m1 0h1m-210 1h1m86 0h1m16 0h1m7 0h1m3 0h1m16 0h1m20 0h1m2 0h1m23 0h1m12 0h1m8 0h1m5 0h2m-194 1h1m17 0h1m2 0h1m17 0h1m6 0h1m18 0h1m22 0h1m1 0h1m4 0h2m11 0h1m2 0h1m73 0h1m-193 1h1m20 0h1m54 0h1m22 0h1m8 0h1m39 0h1m24 0h1m-173 1h1m19 0h1m77 0h1m2 0h2m41 0h1m8 0h1m17 0h1m14 0h1m5 0h1m-199 1h1m20 0h1m4 0h1m1 0h1m23 0h1m6 0h1m42 0h1m4 0h1m8 0h1m11 0h1m46 0h1m16 0h1m6 0h2m-193 1h1m9 0h3m7 0h1m24 0h1m9 0h1m8 0h1m17 0h1m2 0h1m33 0h1m31 0h1m5 0h2m23 0h1m-195 1h1m22 0h1m1 0h1m20 0h1m7 0h1m11 0h1m19 0h1m53 0h2m43 0h1m23 0h1m-196 1h1m19 0h1m35 0h1m42 0h1m3 0h1m4 0h1m16 0h1m4 0h1m17 0h1m29 0h1m16 0h1m-212 1h1m5 0h1m12 0h1m16 0h2m5 0h1m1 0h2m44 0h1m16 0h1m93 0h1m7 0h1m-204 1h1m1 0h1m9 0h1m11 0h1m5 0h1m61 0h2m37 0h1m5 0h1m17 0h1m40 0h1m4 0h2m-183 1h1m9 0h2m45 0h1m12 0h1m1 0h1m64 0h1m34 0h1m-186 1h2m7 0h1m26 0h1m54 0h1m3 0h1m15 0h2m1 0h1m17 0h2m17 0h1m16 0h1m14 0h1m2 0h1m7 0h1m-194 1h1m11 0h1m1 0h1m21 0h2m3 0h1m34 0h1m26 0h1m13 0h1m24 0h1m13 0h1m30 0h1m4 0h1m-200 1h1m6 0h3m7 0h1m3 0h1m24 0h2m26 0h1m5 0h1m19 0h1m14 0h1m9 0h1m11 0h1m62 0h1m4 0h1m-207 1h1m20 0h2m8 0h1m7 0h1m8 0h2m63 0h1m9 0h1m1 0h1m19 0h1m41 0h1m17 0h1m-206 1h1m3 0h1m5 0h1m5 0h1m5 0h1m14 0h1m5 0h1m3 0h1m2 0h1m54 0h1m15 0h2m1 0h1m68 0h1m5 0h1m-191 1h1m2 0h1m1 0h2m17 0h1m2 0h1m1 0h1m4 0h1m2 0h1m27 0h1m1 0h1m27 0h1m19 0h1m2 0h1m58 0h1m-181 1h2m3 0h1m3 0h1m32 0h1m27 0h1m19 0h1m32 0h1m12 0h1m51 0h1m6 0h1m1 0h1m1 0h1m-199 1h1m1 0h1m3 0h2m18 0h1m29 0h1m21 0h1m18 0h1m26 0h1m54 0h1m5 0h1m16 0h1m-204 1h1m19 0h1m1 0h1m5 0h1m30 0h2m16 0h1m24 0h1m3 0h1m19 0h1m-117 1h1m7 0h1m1 0h1m5 0h1m45 0h1m38 0h1m56 0h1m28 0h1m6 0h1m-200 1h1m5 0h1m15 0h1m17 0h1m1 0h1m2 0h1m24 0h1m1 0h1m6 0h1m5 0h1m12 0h3m73 0h1m-176 1h1m23 0h1m18 0h2m24 0h1m3 0h1m38 0h1m17 0h1m4 0h1m28 0h1m24 0h1m-177 1h1m27 0h1m30 0h1m15 0h1m4 0h1m11 0h1m1 0h1m36 0h1m31 0h1m12 0h1m-168 1h1m10 0h1m88 0h1m15 0h1m31 0h1m12 0h1m-166 1h2m9 0h1m1 0h1m15 0h1m36 0h1m8 0h1m1 0h1m4 0h1m1 0h1m20 0h1m35 0h1m1 0h1m-136 1h1m9 0h1m9 0h1m4 0h1m27 0h1m57 0h1m-103 1h1m7 0h1m46 0h1m27 0h1m23 0h1m12 0h2m23 0h1m7 0h1m9 0h1m-186 1h1m22 0h1m31 0h1m9 0h1m65 0h1m10 0h1m5 0h1m16 0h1m9 0h1m7 0h2m-177 1h2m9 0h1m12 0h1m22 0h1m53 0h1m13 0h1m7 0h1m14 0h1m6 0h1m6 0h1m3 0h1m14 0h1m-181 1h1m2 0h1m6 0h1m31 0h1m24 0h1m64 0h1m3 0h1m5 0h1m6 0h1m8 0h1m17 0h1m-174 1h1m8 0h1m7 0h1m44 0h1m18 0h1m3 0h1m30 0h1m11 0h1m13 0h1m10 0h1m2 0h1m11 0h1m9 0h2m1 0h1m-176 1h1m57 0h1m18 0h1m8 0h1m15 0h1m21 0h1m2 0h1m27 0h1m11 0h1m-169 1h1m2 0h1m33 0h1m5 0h1m12 0h1m33 0h1m22 0h1m3 0h1m11 0h1m14 0h1m-148 1h1m6 0h1m11 0h1m30 0h1m28 0h1m25 0h1m8 0h1m5 0h1m38 0h1m11 0h1m4 0h1m-173 1h1m3 0h1m6 0h1m2 0h3m119 0h1m40 0h1m-180 1h2m10 0h2m12 0h1m13 0h1m5 0h1m29 0h1m5 0h1m29 0h1m14 0h1m21 0h1m24 0h1m-166 1h2m14 0h1m12 0h2m18 0h1m23 0h1m-78 1h1m7 0h1m3 0h1m12 0h2m24 0h2m3 0h1m2 0h1m79 0h1m-139 1h1m5 0h1m17 0h1m2 0h1m19 0h1m117 0h1m-167 1h1m15 0h1m20 0h1m1 0h1m10 0h1m-51 1h2m8 0h1m25 0h1m7 0h1m5 0h1m43 0h1m-93 1h1m8 0h1m4 0h1m14 0h1m2 0h1m41 0h1m2 0h1m6 0h1m2 0h1m12 0h1m26 0h1m-129 1h1m12 0h1m6 0h1m6 0h1m2 0h1m1 0h1m11 0h1m10 0h1m2 0h1m30 0h1m36 0h2m-117 1h2m2 0h1m12 0h1m25 0h1m4 0h1m19 0h1m53 0h1m9 0h1m1 0h1m-137 1h1m4 0h3m22 0h1m14 0h1m43 0h1m49 0h1m-134 1h1m7 0h1m96 0h1m-112 1h1m1 0h1m5 0h1m19 0h1m20 0h1m63 0h1m-101 1h1m5 0h1m1 0h1m13 0h2m1 0h1m38 0h1m65 0h1m-134 1h1m9 0h1m4 0h1m12 0h1m31 0h1m15 0h1m18 0h1m7 0h1m3 0h2m-117 1h1m6 0h1m1 0h1m1 0h2m8 0h1m1 0h1m18 0h1m1 0h1m16 0h1m18 0h1m19 0h1m-101 1h1m37 0h2m5 0h1m18 0h1m6 0h1m30 0h1m10 0h1m9 0h1m-103 1h1m2 0h1m3 0h1m16 0h1m22 0h1m13 0h1m32 0h1m20 0h1m2 0h1m-131 1h2m12 0h2m15 0h1m3 0h1m49 0h1m1 0h1m5 0h1m18 0h1m17 0h1m-133 1h1m14 0h2m8 0h2m12 0h2m39 0h1m19 0h1m31 0h1m5 0h1m-138 1h1m1 0h1m22 0h1m2 0h1m15 0h1m2 0h1m5 0h1m9 0h2m5 0h1m20 0h1m-91 1h2m13 0h1m13 0h2m34 0h1m-61 1h1m6 0h1m1 0h1m14 0h1m14 0h1m13 0h1m15 0h1m7 0h1m-66 1h1m2 0h1m17 0h1m9 0h1m8 0h1m1 0h1m49 0h1m4 0h1m-94 1h1m12 0h1m7 0h1m12 0h1m78 0h1m-96 1h2m70 0h1m8 0h1m-105 1h1m45 0h1m-18 1h1m4 0h1m58 0h1m-63 1h1m5 0h1m33 0h1m22 0h1m-93 1h1m49 0h1m-52 2h1m22 0h1m53 0h1m14 0h1m-11 1h1m4 0h1m6 0h1m17 1h1m-18 1h1m16 0h1m2 0h1m-86 1h1m15 0h1m36 1h1m-57 1h1m3 0h1m55 0h1m27 0h1m-77 2h1m47 0h1m-53 1h1m70 0h1m-18 4h1m-1 1h1m-1 1h1m-2 1h1m5 2h1m-7 1h1m4 0h1m-7 3h1"/>
<path stroke="#96d769" d="M45 15h1m2 3h1m-3 2h1m-2 2h1m0 3h1m0 2h1m3 6h1m-6 1h1m3 0h1m1 0h1m-4 1h1m157 2h1m-49 1h1m29 0h1m1 0h1m22 0h1m-62 1h1m32 0h1m-8 1h1m-133 1h1m2 0h1m6 0h1m92 0h1m9 0h1m48 0h1m-51 1h1m12 0h1m9 0h2m9 0h1m5 0h1m-159 1h1m5 0h1m4 0h1m143 0h1m-150 1h2m14 0h1m128 0h1m-145 1h1m138 0h1m-50 1h1m20 0h1m35 0h1m1 0h1m-140 1h1m79 0h1m51 0h2m-145 1h2m8 0h1m14 0h1m55 0h1m2 0h2m28 0h1m3 0h1m27 0h1m-143 1h1m16 0h2m40 0h1m1 0h1m95 0h1m-149 1h1m8 0h1m40 0h1m3 0h1m2 0h1m66 0h2m4 0h1m4 0h1m10 0h1m-148 1h1m76 0h1m56 0h1m11 0h1m-73 1h1m3 0h1m2 0h1m66 0h1m-150 1h1m53 0h1m6 0h1m11 0h2m3 0h2m5 0h1m3 0h1m56 0h1m-69 1h2m6 0h1m13 0h1m45 0h1m5 0h1m-129 1h2m12 0h1m16 0h1m13 0h1m60 0h1m20 0h1m28 0h1m-165 1h1m5 0h1m19 0h1m6 0h1m18 0h1m20 0h1m59 0h2m-121 1h1m24 0h1m11 0h1m25 0h1m57 0h1m-94 1h1m14 0h1m2 0h1m19 0h1m7 0h1m78 0h1m1 0h1m-182 1h1m3 0h1m47 0h1m7 0h1m86 0h1m35 0h1m-166 1h1m79 0h1m47 0h1m39 0h1m-197 1h1m14 0h2m14 0h2m10 0h1m37 0h1m6 0h1m17 0h1m2 0h1m4 0h2m16 0h1m27 0h1m27 0h2m-182 1h1m7 0h1m23 0h2m72 0h1m62 0h1m8 0h1m-169 1h1m74 0h1m15 0h1m9 0h1m79 0h1m-183 1h1m72 0h1m4 0h1m13 0h1m5 0h2m70 0h2m14 0h1m-182 1h1m30 0h1m13 0h1m22 0h1m4 0h2m5 0h1m6 0h1m5 0h1m68 0h1m14 0h1m4 0h1m-161 1h1m11 0h1m1 0h1m12 0h1m19 0h1m13 0h1m9 0h1m85 0h1m-191 1h1m37 0h1m6 0h1m35 0h1m11 0h1m4 0h2m11 0h1m71 0h1m-187 1h1m3 0h1m19 0h2m19 0h1m15 0h1m8 0h1m2 0h1m13 0h2m15 0h1m6 0h1m85 0h1m-191 1h1m26 0h1m11 0h1m26 0h1m3 0h1m6 0h1m2 0h1m25 0h1m3 0h1m75 0h1m-193 1h2m16 0h1m3 0h1m21 0h1m9 0h1m11 0h1m9 0h1m6 0h1m12 0h1m5 0h1m2 0h1m25 0h1m47 0h1m-180 1h1m1 0h1m1 0h1m18 0h2m7 0h1m10 0h1m3 0h1m5 0h1m2 0h1m7 0h1m17 0h1m3 0h1m7 0h1m8 0h1m75 0h1m-169 1h1m15 0h1m4 0h2m6 0h1m2 0h1m44 0h2m10 0h1m78 0h1m-175 1h1m37 0h1m16 0h1m23 0h1m22 0h1m31 0h1m-144 1h1m10 0h1m13 0h3m32 0h1m28 0h1m14 0h1m20 0h1m1 0h1m44 0h1m4 0h1m-156 1h1m6 0h2m11 0h1m14 0h1m5 0h1m1 0h1m25 0h3m10 0h2m9 0h1m5 0h1m16 0h1m2 0h1m42 0h1m2 0h1m-140 1h1m19 0h1m4 0h1m7 0h1m18 0h1m3 0h1m39 0h1m13 0h1m3 0h1m24 0h1m-184 1h1m25 0h1m15 0h1m2 0h2m6 0h1m2 0h1m1 0h1m27 0h2m6 0h1m1 0h1m29 0h1m16 0h1m11 0h1m19 0h1m21 0h1m-156 1h1m5 0h1m31 0h1m1 0h2m21 0h2m10 0h1m5 0h1m10 0h1m7 0h1m5 0h1m24 0h1m19 0h1m-190 1h2m17 0h1m11 0h1m3 0h1m2 0h1m2 0h1m4 0h1m11 0h1m5 0h1m3 0h1m14 0h1m4 0h1m28 0h1m8 0h1m8 0h1m52 0h1m-184 1h1m23 0h2m18 0h1m1 0h1m1 0h1m15 0h1m10 0h1m3 0h1m3 0h2m17 0h1m12 0h1m2 0h1m27 0h1m34 0h1m-195 1h1m39 0h2m37 0h1m4 0h1m7 0h1m1 0h1m1 0h1m31 0h2m1 0h1m1 0h1m6 0h1m10 0h1m27 0h1m2 0h1m9 0h1m1 0h1m4 0h1m-193 1h1m29 0h1m2 0h1m5 0h1m1 0h1m10 0h1m16 0h1m5 0h1m9 0h1m13 0h1m8 0h1m6 0h1m19 0h1m15 0h1m2 0h1m-132 1h1m50 0h1m6 0h1m4 0h1m47 0h1m6 0h1m7 0h1m18 0h1m-149 1h3m20 0h1m31 0h1m5 0h1m30 0h1m44 0h1m21 0h1m-166 1h1m4 0h1m6 0h1m17 0h1m4 0h1m33 0h1m5 0h1m19 0h1m2 0h1m2 0h2m7 0h1m25 0h1m17 0h1m5 0h1m-173 1h1m1 0h1m16 0h1m2 0h2m20 0h1m4 0h1m16 0h1m4 0h1m37 0h1m55 0h1m2 0h2m7 0h1m-175 1h1m13 0h1m9 0h1m5 0h2m10 0h1m86 0h1m3 0h1m6 0h1m11 0h1m33 0h1m3 0h1m-201 1h1m8 0h1m13 0h1m12 0h1m37 0h1m15 0h1m3 0h1m8 0h1m73 0h1m12 0h1m6 0h1m-199 1h1m7 0h1m82 0h1m13 0h1m2 0h1m7 0h1m4 0h1m50 0h1m3 0h1m2 0h1m19 0h1m3 0h1m-208 1h1m82 0h1m13 0h1m7 0h1m5 0h1m1 0h1m63 0h1m-177 1h1m27 0h1m72 0h1m13 0h1m35 0h1m32 0h1m1 0h1m9 0h1m-100 1h1m7 0h1m10 0h1m1 0h1m23 0h1m10 0h1m5 0h2m31 0h1m10 0h1m2 0h1m-201 1h1m3 0h1m16 0h1m2 0h1m26 0h1m44 0h1m3 0h1m11 0h1m66 0h1m-174 1h1m14 0h1m54 0h1m20 0h1m14 0h1m52 0h1m-171 1h1m5 0h1m63 0h1m1 0h1m51 0h1m22 0h1m13 0h1m25 0h1m7 0h1m8 0h1m-180 1h1m28 0h1m55 0h1m20 0h1m15 0h1m4 0h1m10 0h1m2 0h1m19 0h1m-193 1h1m29 0h2m2 0h1m23 0h1m7 0h1m21 0h2m23 0h1m17 0h1m30 0h1m1 0h1m2 0h1m30 0h1m1 0h1m7 0h1m-181 1h1m61 0h1m29 0h1m4 0h1m5 0h1m12 0h1m20 0h1m12 0h1m28 0h2m-142 1h1m46 0h1m11 0h2m80 0h1m-192 1h1m10 0h1m6 0h1m25 0h1m27 0h1m1 0h1m2 0h1m6 0h1m11 0h1m5 0h2m13 0h1m62 0h1m1 0h1m-157 1h1m40 0h1m3 0h1m49 0h1m6 0h1m13 0h1m34 0h1m-166 1h1m28 0h2m30 0h2m4 0h1m25 0h1m11 0h1m6 0h1m52 0h1m2 0h1m4 0h2m-197 1h1m9 0h1m71 0h1m20 0h1m22 0h1m26 0h1m-132 1h1m17 0h1m45 0h1m36 0h1m12 0h1m56 0h1m3 0h1m6 0h1m1 0h1m-190 1h1m28 0h1m53 0h1m26 0h1m13 0h1m51 0h1m3 0h1m7 0h3m-179 1h1m10 0h1m2 0h2m5 0h1m11 0h1m56 0h1m84 0h1m-196 1h1m41 0h1m55 0h1m17 0h1m63 0h1m-116 1h1m19 0h1m11 0h1m12 0h2m22 0h1m40 0h1m6 0h1m13 0h1m-201 1h1m25 0h1m85 0h1m6 0h1m81 0h2m-186 1h1m89 0h1m25 0h1m38 0h1m15 0h1m10 0h1m-197 1h1m7 0h1m10 0h1m67 0h1m3 0h1m9 0h1m12 0h1m19 0h1m49 0h1m8 0h1m2 0h2m-191 1h1m14 0h1m48 0h1m1 0h1m58 0h1m2 0h1m66 0h1m-66 1h1m7 0h1m41 0h1m-142 1h1m116 0h1m22 0h1m-120 1h1m31 0h1m77 0h2m-132 1h1m68 0h1m5 0h1m15 0h1m10 0h1m31 0h1m5 0h1m12 0h1m-179 1h1m5 0h1m14 0h1m108 0h1m-116 1h1m64 0h1m1 0h1m10 0h1m10 0h1m11 0h1m9 0h1m10 0h1m5 0h1m4 0h1m27 0h1m-182 1h1m85 0h1m34 0h1m12 0h1m5 0h1m9 0h1m10 0h1m2 0h1m12 0h1m-124 1h1m4 0h1m11 0h1m67 0h3m9 0h1m13 0h1m5 0h1m1 0h1m-173 1h1m27 0h1m26 0h1m48 0h2m7 0h1m6 0h1m17 0h1m1 0h1m35 0h1m-153 1h1m26 0h1m28 0h1m1 0h1m26 0h1m19 0h1m8 0h1m18 0h2m4 0h1m17 0h1m-184 1h1m6 0h1m126 0h1m9 0h1m4 0h1m27 0h1m-178 1h1m20 0h1m67 0h1m7 0h1m15 0h1m26 0h1m27 0h1m5 0h2m7 0h1m-179 1h1m5 0h1m8 0h1m33 0h1m4 0h1m1 0h1m23 0h1m48 0h1m17 0h1m-150 1h1m1 0h1m3 0h1m5 0h1m47 0h2m17 0h2m64 0h1m5 0h1m16 0h1m-162 1h1m2 0h1m14 0h1m13 0h2m15 0h1m12 0h1m70 0h1m-141 1h1m13 0h1m74 0h1m11 0h1m3 0h1m16 0h1m-83 1h1m5 0h2m8 0h1m2 0h1m36 0h1m49 0h1m-143 1h1m1 0h1m7 0h1m1 0h1m42 0h1m10 0h1m21 0h1m74 0h1m-164 1h1m15 0h1m10 0h1m18 0h1m51 0h1m34 0h1m11 0h1m-133 1h1m31 0h1m88 0h1m-125 1h1m34 0h1m40 0h2m5 0h1m7 0h1m3 0h1m26 0h1m2 0h1m-126 1h1m21 0h1m61 0h1m7 0h2m36 0h1m-135 1h3m1 0h1m12 0h1m8 0h1m3 0h1m13 0h1m8 0h1m27 0h1m-77 1h1m46 0h1m37 0h1m34 0h1m2 0h1m-126 1h1m52 0h1m69 0h1m-122 1h1m1 0h1m13 0h1m2 0h1m19 0h1m33 0h1m-73 1h1m7 0h1m78 0h1m9 0h1m23 0h1m9 0h1m10 0h1m-134 1h1m12 0h1m58 0h1m-79 1h1m20 0h1m16 0h1m26 0h1m-60 1h1m1 0h1m9 0h1m3 0h1m57 0h1m36 0h1m-117 1h1m3 0h1m32 0h1m4 0h1m51 0h1m-86 1h1m26 0h2m17 0h1m57 0h1m-107 1h1m14 0h1m9 0h1m4 0h1m32 0h1m13 0h1m15 0h1m-92 1h1m11 0h1m7 0h1m48 0h1m24 0h2m-81 1h1m5 0h1m24 0h1m17 0h1m23 0h1m20 0h1m-99 1h1m2 0h1m19 0h2m16 0h1m1 0h1m2 0h1m-16 1h1m26 0h1m25 0h1m-79 1h1m30 1h1m15 0h1m12 0h1m15 0h1m-56 1h1m3 0h1m-27 1h1m97 0h1m15 0h1m-91 1h1m91 0h1m-118 1h1m22 0h3m10 1h1m30 0h1m16 0h1m-42 1h1m49 0h1m-70 1h2m60 0h1m9 0h1m18 0h1m-34 1h1m5 2h1m4 1h1m4 0h2m8 0h1m-77 2h1m57 0h1m-61 1h1m4 0h1m63 3h1m-13 1h1m1 0h1m14 0h1m-16 4h1m-3 1h1m1 2h1m-4 3h1m1 0h1"/>
<path stroke="#73cd64" d="M45 14h1m-1 11h1m2 2h1m-1 3h1m-5 2h1m4 2h1m1 0h1m111 2h1m38 1h1m-161 1h1m114 0h1m17 0h1m17 0h1m-35 1h1m4 1h1m42 0h1m-59 1h1m40 0h1m9 0h1m-65 1h1m-84 1h1m130 0h1m6 0h1m1 0h1m-11 1h1m13 0h1m-36 1h1m22 0h1m-144 1h1m3 0h1m25 0h1m117 0h1m7 0h1m-151 1h1m22 0h1m84 0h1m36 0h1m1 0h1m1 0h1m-149 1h1m1 0h1m19 0h1m87 0h1m35 0h1m2 0h1m12 0h1m1 0h1m-67 1h1m63 0h1m21 0h1m-78 1h1m47 0h1m3 0h1m3 0h1m20 0h1m-103 1h1m68 0h1m35 0h1m-138 1h1m12 0h1m80 0h1m8 0h1m6 0h2m22 0h1m-114 1h1m12 0h1m1 0h1m102 0h2m-160 1h1m29 0h1m94 0h1m28 0h1m3 0h1m1 0h1m-181 1h1m13 0h2m12 0h1m22 0h2m95 0h1m28 0h1m2 0h1m-173 1h1m10 0h1m1 0h1m6 0h1m1 0h1m40 0h1m1 0h1m-68 1h1m13 0h1m50 0h1m23 0h1m87 0h1m-179 1h1m19 0h1m62 0h1m1 0h1m61 0h1m-148 1h1m5 0h1m39 0h1m9 0h1m5 0h1m26 0h1m49 0h1m35 0h1m3 0h1m-181 1h1m80 0h1m3 0h1m9 0h1m53 0h1m24 0h1m7 0h1m2 0h1m-165 1h1m32 0h1m11 1h1m2 0h1m6 0h2m18 0h1m6 0h3m67 0h1m1 0h1m-186 1h1m29 0h1m47 0h1m16 0h1m19 0h1m42 0h1m26 0h1m4 0h1m-170 1h1m67 0h1m21 0h1m79 0h1m3 0h1m-162 1h1m6 0h1m57 0h1m12 0h1m85 0h1m1 0h1m-170 1h1m13 0h1m9 0h1m53 0h1m2 0h1m5 0h1m66 0h1m3 0h1m4 0h1m-102 1h1m11 0h1m88 0h1m-179 1h1m79 0h1m2 0h1m5 0h1m13 0h1m7 0h1m-99 1h1m3 0h1m53 0h1m3 0h1m2 0h1m9 0h1m81 0h1m-172 1h2m45 0h1m33 0h1m2 0h1m8 0h1m-101 1h1m23 0h1m7 0h1m8 0h1m2 0h1m25 0h1m11 0h1m6 0h1m4 0h1m1 0h1m2 0h1m6 0h1m8 0h1m2 0h1m11 0h1m46 0h1m-119 1h1m19 0h1m23 0h1m2 0h2m4 0h1m5 0h1m3 0h1m7 0h1m43 0h1m4 0h1m7 0h1m-183 1h1m19 0h1m17 0h2m11 0h1m4 0h1m27 0h1m3 0h1m1 0h1m3 0h1m11 0h1m27 0h1m27 0h1m4 0h1m16 0h1m-138 1h1m34 0h1m15 0h1m12 0h1m6 0h1m11 0h1m19 0h1m15 0h1m-129 1h1m10 0h1m1 0h1m5 0h1m5 0h1m15 0h1m7 0h1m9 0h1m26 0h1m-88 1h1m9 0h1m29 0h2m8 0h1m3 0h1m23 0h1m10 0h2m7 0h1m3 0h1m34 0h1m13 0h2m-190 1h2m67 0h1m6 0h1m17 0h1m40 0h1m26 0h1m14 0h1m-141 1h1m6 0h2m34 0h1m7 0h1m13 0h1m27 0h1m7 0h1m7 0h1m21 0h1m-150 1h1m18 0h1m1 0h1m14 0h1m9 0h1m1 0h1m1 0h1m7 0h1m4 0h2m17 0h1m1 0h1m28 0h1m34 0h1m3 0h1m12 0h1m-169 1h1m8 0h1m20 0h1m1 0h1m17 0h1m16 0h1m14 0h1m32 0h1m28 0h1m5 0h1m1 0h1m14 0h1m3 0h1m-160 1h2m6 0h2m10 0h2m18 0h1m2 0h1m4 0h1m2 0h1m5 0h1m1 0h1m24 0h1m20 0h1m-134 1h1m25 0h1m10 0h1m27 0h1m18 0h1m3 0h1m9 0h1m12 0h1m34 0h1m26 0h1m1 0h1m-196 1h1m43 0h1m60 0h1m2 0h1m5 0h1m9 0h1m67 0h1m-150 1h1m22 0h1m20 0h1m18 0h2m40 0h1m11 0h1m17 0h1m22 0h1m-27 1h1m21 0h1m-172 1h1m22 0h1m51 0h1m16 0h1m22 0h1m4 0h1m35 0h1m23 0h1m2 0h1m-107 1h2m17 0h1m1 0h1m2 0h2m37 0h1m32 0h2m1 0h1m2 0h1m1 0h1m-71 1h1m6 0h1m2 0h1m13 0h1m7 0h2m2 0h1m24 0h2m6 0h1m-201 1h1m15 0h1m19 0h1m39 0h1m24 0h1m28 0h1m29 0h1m22 0h1m25 0h1m-214 1h1m21 0h1m51 0h1m1 0h1m24 0h1m25 0h1m41 0h1m-155 1h1m173 0h1m22 0h1m-180 1h1m97 0h1m2 0h1m26 0h1m19 0h1m4 0h1m13 0h2m11 0h1m-101 1h1m14 0h1m48 0h1m20 0h1m14 0h1m-187 1h1m99 0h1m4 0h1m35 0h2m3 0h1m7 0h1m-78 1h1m18 0h1m2 0h1m53 0h1m28 0h1m-177 1h1m43 0h1m17 0h1m59 0h1m-123 1h1m10 0h1m76 0h1m32 0h1m14 0h1m-53 1h1m4 0h1m17 0h1m24 0h1m7 0h1m-102 1h1m13 0h1m36 0h1m-118 1h1m52 0h1m29 0h1m16 0h1m3 0h1m-106 1h1m13 0h1m40 0h1m33 0h1m3 0h1m11 0h2m3 0h1m12 0h1m1 0h1m72 0h1m4 0h1m-201 1h1m17 0h2m65 0h2m11 0h2m42 0h1m15 0h1m27 0h1m-189 1h2m86 0h1m1 0h1m15 0h1m28 0h1m18 0h1m36 0h1m2 0h1m13 0h1m-202 1h2m41 0h1m34 0h1m18 0h1m35 0h1m53 0h1m14 0h1m-205 1h1m39 0h1m86 0h1m12 0h1m44 0h1m2 0h1m4 0h1m4 0h1m-186 1h1m6 0h1m17 0h1m153 0h1m1 0h1m-175 1h1m57 0h1m34 0h1m11 0h1m14 0h1m50 0h1m-80 1h3m15 0h1m-124 1h1m72 0h1m2 0h1m86 0h1m31 0h1m-183 1h1m175 0h1m-194 1h2m3 0h1m12 0h1m1 0h1m3 0h1m9 0h1m38 0h1m3 0h1m87 0h1m21 0h1m-168 1h1m51 0h1m18 0h1m44 0h1m2 0h1m26 0h1m33 0h1m-197 1h1m5 0h1m185 0h1m-195 1h1m113 0h1m26 0h1m46 0h1m9 0h1m-199 1h1m40 0h1m67 0h1m76 0h1m-175 1h1m71 0h1m44 0h1m16 1h1m1 0h1m27 0h1m-49 1h1m48 0h1m10 0h1m-151 1h1m24 0h1m107 0h1m4 0h1m13 0h1m-177 1h1m55 0h1m35 0h1m44 0h1m32 0h1m4 0h1m7 0h1m-166 1h1m46 0h1m1 0h1m57 0h1m39 0h1m13 0h1m1 0h1m-178 1h3m99 0h1m21 0h1m7 0h1m2 0h1m-81 1h1m39 0h1m16 0h1m54 0h1m14 0h1m-179 1h1m99 0h1m30 0h1m-34 1h1m35 0h1m-137 1h1m18 0h1m65 0h1m13 0h1m20 0h1m16 0h1m9 0h1m-150 1h2m8 0h1m88 0h2m39 0h1m13 0h1m23 0h1m-171 1h1m66 0h1m64 0h1m8 0h1m-140 1h1m83 0h1m82 0h1m-160 1h2m11 0h1m21 0h1m28 0h1m22 0h1m40 0h1m-133 1h1m124 0h1m-135 1h1m52 0h1m74 0h1m28 0h1m-147 1h2m76 0h1m54 0h1m10 0h1m-92 1h1m-54 1h1m21 0h3m1 0h1m17 0h1m5 0h1m1 0h1m73 0h1m1 0h1m-133 1h1m1 0h2m21 0h1m27 0h2m12 0h1m4 0h1m-61 1h1m11 0h1m28 0h1m22 0h1m-75 1h1m50 0h1m83 0h1m-126 1h1m12 0h1m23 0h1m25 0h1m-64 1h1m13 0h1m14 0h1m74 0h1m-102 1h1m11 0h1m32 0h1m-33 1h1m73 0h1m-89 1h2m13 0h1m9 0h1m69 0h1m-78 1h1m1 0h1m13 0h1m31 0h1m13 0h1m15 0h1m32 0h1m-132 1h1m115 0h1m-100 1h1m1 0h2m60 0h1m-75 1h1m10 0h1m1 0h1m32 0h1m14 0h1m-62 1h2m10 0h1m54 0h1m33 1h1m-66 1h1m17 0h1m4 0h2m30 0h1m-78 1h1m43 0h1m25 0h1m-73 1h1m1 0h1m52 0h1m45 0h1m-101 1h2m-2 1h1m23 0h1m50 1h1m17 0h1m23 0h1m-48 1h1m21 0h1m1 0h1m1 0h1m-65 1h1m38 0h1m24 1h1m-68 1h1m63 0h1m-10 2h1m8 0h1m4 1h1m-7 1h1m-59 1h1m3 0h1m60 0h1m-68 1h1m57 0h1m-4 1h1m15 2h3m-18 10h1m-1 2h1"/>
<path stroke="#3cc35f" d="M48 29h1m5 5h1m160 5h1m-14 1h2m-20 2h1m9 0h1m-153 1h1m114 1h1m0 1h1m-112 1h1m143 0h1m4 1h1m0 1h1m9 0h1m-156 1h2m142 0h1m1 0h1m8 0h1m-8 1h1m9 0h1m24 0h1m-35 1h2m31 0h1m-32 1h1m31 0h2m-27 1h1m-138 1h1m7 0h1m1 0h1m28 0h1m16 0h1m79 0h1m-137 1h1m36 0h1m95 0h1m-129 1h1m161 0h1m-108 1h1m14 0h1m3 0h1m1 0h1m83 0h1m5 0h1m-98 1h1m94 0h1m-171 1h1m47 0h1m29 0h1m88 0h1m1 0h1m5 0h1m-185 1h1m55 0h1m8 0h1m15 0h1m5 0h1m2 0h1m83 0h1m7 0h1m-129 1h1m14 0h1m11 0h1m69 0h1m23 0h1m-155 1h2m59 0h1m13 0h1m1 0h1m80 0h1m-97 1h1m1 0h1m5 0h1m3 0h1m1 0h1m1 0h1m77 0h1m8 0h2m-98 1h1m83 0h1m14 0h1m-5 1h3m-153 1h1m57 0h1m13 0h2m75 0h1m4 0h1m-155 1h1m54 0h1m4 0h1m6 0h2m4 0h1m69 0h1m10 0h1m-155 1h1m4 0h1m39 0h1m22 0h1m7 0h1m51 0h1m13 0h1m10 0h1m-160 1h1m58 0h1m8 0h1m20 0h1m-111 1h1m9 0h1m26 0h1m38 0h1m6 0h1m3 0h1m86 0h1m8 0h1m-140 1h1m32 0h2m2 0h1m6 0h1m2 0h1m21 0h1m47 0h1m5 0h1m-117 1h2m19 0h1m3 0h1m5 0h1m-68 1h1m65 0h1m51 0h1m39 0h1m-138 1h1m11 0h1m2 0h1m16 0h1m14 0h1m3 0h2m14 0h2m42 0h1m23 0h1m-137 1h1m70 0h1m7 0h1m10 0h1m4 0h1m29 0h1m1 0h1m5 0h1m14 0h1m-188 1h1m61 0h1m17 0h1m14 0h1m2 0h1m5 0h1m33 0h1m41 0h1m9 0h1m-153 1h1m24 0h1m22 0h1m29 0h2m3 0h1m62 0h1m3 0h1m-170 1h1m49 0h1m17 0h1m3 0h1m34 0h1m39 0h1m10 0h1m-133 1h1m14 0h1m17 0h1m13 0h1m18 0h1m37 0h1m1 0h1m-135 1h2m25 0h1m39 0h1m4 0h1m42 0h1m10 0h1m25 0h1m3 0h1m16 0h1m-149 1h1m16 0h1m18 0h1m10 0h1m4 0h3m46 0h1m4 0h1m17 0h1m-70 1h1m12 0h1m2 0h1m-77 1h1m57 0h1m3 0h1m13 0h1m61 0h1m3 0h1m-56 1h1m19 0h1m28 0h2m-156 1h1m51 0h2m12 0h1m29 0h1m22 0h1m44 0h1m-112 1h1m12 0h1m11 0h1m19 0h1m1 0h1m10 0h1m6 0h1m20 0h1m18 0h1m-86 1h1m32 0h1m7 0h1m9 0h1m9 0h1m13 0h1m8 0h1m7 0h1m-191 1h1m9 0h1m42 0h1m48 0h1m21 0h1m6 0h1m14 0h1m1 0h1m30 0h1m17 0h1m-205 1h1m57 0h1m55 0h1m48 0h1m14 0h1m27 0h1m-172 1h1m64 0h1m65 0h1m28 0h1m-170 1h1m55 0h1m39 0h1m85 0h1m-94 1h1m9 0h1m1 0h1m14 0h1m9 0h1m-67 1h1m17 0h1m21 0h1m35 0h1m6 0h1m17 0h1m10 0h1m-40 1h1m-35 1h1m39 0h1m21 0h1m-186 1h1m112 0h1m19 1h1m14 0h1m10 0h1m31 0h1m3 0h1m-114 1h2m25 0h1m83 0h1m1 0h1m7 0h1m-70 1h1m31 0h1m-26 1h1m-131 1h1m10 0h1m29 0h1m47 0h2m31 0h1m7 0h1m53 0h1m-197 1h1m10 0h1m93 0h1m84 0h1m5 0h1m8 0h1m3 0h2m-104 1h1m22 0h1m74 0h1m1 0h1m-85 1h1m7 0h1m5 0h1m9 0h1m42 0h1m5 0h1m1 0h1m-121 1h1m74 0h1m2 0h1m50 1h1m-113 1h1m11 0h1m18 0h1m2 0h1m18 0h1m-134 1h1m36 0h1m32 0h2m23 0h1m14 0h2m48 0h1m-170 1h1m18 0h1m57 0h1m60 0h1m0 1h1m35 1h1m5 0h1m-72 1h2m23 0h1m4 0h1m58 0h1m-150 1h1m69 0h1m80 0h1m-197 1h1m105 0h1m15 0h1m67 0h1m-116 1h1m79 0h1m28 0h1m-81 2h1m39 0h1m13 0h2m-58 1h1m62 0h1m25 0h1m-91 1h1m23 0h2m1 0h1m16 0h1m-67 1h1m44 0h1m55 0h1m-75 1h1m16 0h1m55 0h1m15 0h1m-69 1h1m38 0h1m-149 1h2m51 0h1m59 0h1m62 0h1m-39 1h1m8 0h1m20 0h1m7 0h1m-32 1h1m20 0h1m12 0h1m-182 1h2m83 0h1m18 0h1m37 0h1m12 0h1m15 0h2m-167 1h1m1 0h1m4 0h1m111 0h1m39 0h1m-159 1h1m7 0h1m86 0h1m-97 1h2m4 0h1m-6 1h1m13 0h1m-4 1h1m47 0h1m108 0h1m-159 1h1m6 0h1m35 0h1m2 0h1m71 0h1m-33 1h1m-39 1h1m28 0h1m46 0h1m11 0h1m-145 1h1m5 0h1m54 0h1m20 0h1m39 1h1m-96 1h1m51 0h1m-18 1h1m9 0h1m6 0h1m32 0h1m15 0h1m3 0h1m-72 1h1m51 0h1m45 0h1m-148 1h1m10 0h1m56 0h1m11 0h1m28 0h1m-92 1h1m59 0h1m-70 1h1m11 0h1m44 0h1m28 0h1m43 0h1m-131 1h2m66 0h1m1 0h1m22 0h1m12 0h1m2 0h1m0 1h1m-48 1h1m23 0h1m7 0h2m-81 1h1m5 0h1m1 0h1m25 0h1m-50 1h1m35 0h1m0 1h1m31 0h1m11 0h1m29 0h1m-47 1h2m9 0h1m31 0h1m-1 1h1m24 0h1m-93 1h1m-25 1h1m31 0h1m39 0h1m14 0h1m25 0h1m-93 1h1m0 1h1m63 0h1m1 0h1m-60 1h1m51 0h1m10 1h1m23 0h1m-49 2h1m43 0h1m1 0h1m-87 1h1m59 0h1m2 0h1m-49 1h1m38 0h1m4 1h1m-4 1h1m-56 2h1m65 0h1m3 3h1m-13 1h1m10 0h1m4 0h1m-7 1h1m-12 5h1m-2 1h2"/>
<path stroke="#0fb45a" d="M190 40h1m18 0h1m-156 2h1m151 0h1m-24 1h1m14 0h1m-152 2h1m136 0h1m4 0h2m8 1h1m-128 1h1m125 0h2m8 0h1m2 0h1m-56 2h1m77 0h1m-39 1h1m2 0h1m3 0h1m1 0h1m-73 1h1m69 0h1m11 0h1m19 0h1m-44 1h1m12 0h1m8 0h1m22 0h1m-125 1h1m108 0h1m-66 1h1m79 0h1m-88 3h1m61 0h1m26 0h1m-110 1h1m-67 1h1m79 0h1m11 0h1m86 0h1m-93 1h2m-84 1h1m90 0h1m76 0h1m1 0h1m12 0h1m-98 1h3m54 0h1m30 0h1m1 0h2m5 0h1m-192 1h1m94 0h1m9 0h1m46 0h1m23 0h1m3 0h2m-86 1h2m92 0h1m-100 1h1m2 0h1m3 0h1m5 0h1m-66 1h1m58 0h1m-29 1h1m23 0h1m88 0h2m5 0h1m-180 1h1m102 0h1m63 0h1m2 0h1m9 0h1m-183 1h2m58 0h1m21 0h1m1 0h1m11 0h1m59 0h1m15 0h1m3 0h1m5 0h1m-79 1h2m68 0h1m-175 1h1m89 0h1m2 0h1m11 0h2m60 0h1m9 0h1m-186 1h1m85 0h1m3 0h1m2 0h1m78 0h1m3 0h1m-86 1h1m18 0h1m1 0h1m1 0h1m3 0h1m54 0h1m4 0h2m7 0h2m-146 1h1m15 0h1m31 0h1m25 0h1m55 0h1m13 0h1m-133 1h1m49 0h1m15 0h1m6 0h1m25 0h1m1 0h2m18 0h1m3 0h2m-138 1h1m17 0h1m39 0h1m16 0h1m5 0h1m4 0h1m2 0h1m7 0h1m5 0h1m8 0h1m1 0h1m29 0h1m-147 1h1m37 0h1m1 0h1m37 0h1m29 0h1m4 0h1m31 0h1m6 0h1m-192 1h1m39 0h1m40 0h1m96 0h1m-159 1h1m30 0h1m18 0h1m10 0h1m29 0h1m3 0h1m26 0h2m6 0h1m17 0h1m-138 1h1m15 0h1m22 0h1m19 0h1m4 0h2m5 0h1m35 0h2m1 0h1m10 0h1m8 0h1m7 0h1m10 0h1m-66 1h1m21 0h1m26 0h1m-82 1h1m7 0h1m4 0h1m6 0h1m5 0h1m14 0h1m21 0h1m5 0h1m8 0h1m2 0h2m-77 1h1m18 0h1m33 0h1m3 0h1m13 0h1m15 0h1m-96 1h1m33 0h1m17 0h1m23 0h1m16 0h1m7 0h1m-102 1h1m25 0h1m12 0h1m12 0h1m40 0h1m-150 1h1m17 0h1m44 0h1m9 0h1m3 0h1m5 0h1m8 0h1m6 0h1m9 0h1m2 0h1m7 0h1m6 0h1m9 0h1m-157 1h1m136 0h1m10 0h1m6 0h1m5 0h1m9 0h1m2 0h1m-36 1h1m16 0h1m5 0h1m3 0h2m2 0h1m2 0h1m6 0h1m-102 1h1m30 0h1m39 0h1m34 0h1m1 0h1m-85 1h1m-90 1h1m88 0h1m45 0h1m31 0h1m-86 1h1m8 0h1m45 0h1m13 0h1m14 0h1m-92 1h1m2 0h3m13 0h1m71 0h1m7 0h1m-91 1h1m7 0h2m1 0h1m-18 1h1m18 0h1m41 0h1m-58 1h1m18 0h1m-19 1h1m9 0h1m78 0h1m1 0h1m-123 1h1m6 0h1m72 0h1m28 0h1m-78 1h1m27 0h1m15 0h1m7 0h1m39 0h1m-104 1h1m27 0h1m8 0h1m-61 1h1m47 0h1m6 0h1m30 0h2m-64 1h1m23 0h1m24 0h2m11 0h1m36 0h1m-58 1h1m6 0h1m46 0h1m3 0h1m4 0h1m-121 1h1m46 0h1m54 0h1m11 0h2m-16 1h1m-143 1h1m84 0h1m63 0h1m8 0h1m-83 1h1m8 0h1m49 0h1m24 0h1m-93 3h1m96 0h1m-72 1h1m6 0h1m56 0h1m2 0h1m-3 1h2m-91 1h1m30 0h1m-126 1h1m182 0h1m-53 1h1m2 0h1m48 0h1m4 0h1m-20 1h1m1 0h1m3 0h1m-27 2h1m19 0h1m-25 1h1m11 0h1m17 0h1m2 0h1m-38 1h1m16 0h1m13 0h1m6 0h1m-85 1h1m12 0h1m3 0h1m40 0h1m23 0h1m-170 1h1m129 0h1m28 0h1m-152 1h1m68 0h1m11 0h1m9 0h1m6 0h1m31 0h1m-140 1h1m151 0h1m19 0h1m7 0h1m-9 1h1m-92 1h1m5 0h1m7 0h1m6 0h1m31 0h1m-133 1h1m78 0h1m39 0h1m14 0h2m-130 1h1m46 0h1m-24 1h1m63 0h1m41 0h1m-133 2h1m9 0h1m78 0h1m34 2h1m13 0h1m-140 1h1m53 0h1m44 0h1m-54 1h1m31 0h1m-73 1h1m125 1h2m-42 1h1m20 1h1m15 0h1m-38 1h1m6 0h2m13 0h1m-19 1h1m-77 1h1m2 0h1m18 0h1m9 0h1m42 0h1m33 0h1m23 0h1m-54 1h1m28 0h1m5 0h1m1 0h1m-54 1h1m46 0h1m-50 1h1m9 0h1m7 0h1m26 0h1m-104 1h1m85 0h1m-52 2h1m57 0h1m8 1h1m-39 1h2m23 2h1m-52 1h1m46 0h1m29 0h1m-102 1h1m88 0h1m26 0h1m-32 1h1m-60 1h1m56 1h1m5 0h1m-5 1h1m-60 1h1m2 0h1m53 0h2m11 0h1m-12 1h1m12 1h1m-9 1h1m-5 2h1m12 0h1m-72 1h1m7 0h2m50 0h1m10 0h1m-64 1h1m50 4h1m1 4h1m-2 4h1"/>
<path stroke="#0aa550" d="M198 38h1m17 0h1m-11 3h1m-7 1h1m-19 1h1m-1 1h1m15 0h1m-1 1h1m1 1h1m8 0h1m-10 1h1m8 0h2m-58 1h1m52 0h1m2 0h1m2 0h1m6 0h1m-23 1h1m1 0h1m5 0h2m25 0h1m-182 1h1m79 0h1m38 0h1m-15 1h2m76 1h1m1 1h2m-149 1h1m146 0h1m-165 1h1m160 0h1m5 0h1m-28 1h1m24 0h1m-30 1h1m-58 1h1m61 0h1m25 0h1m-110 1h1m21 0h1m2 0h1m56 0h1m-75 1h1m15 0h1m84 0h1m2 0h1m-98 1h1m7 0h1m1 0h2m56 0h1m-128 1h1m121 0h1m21 0h1m17 0h2m-107 1h1m85 0h1m16 0h1m5 0h1m-99 1h2m79 0h1m5 0h2m3 0h1m1 0h1m4 0h1m-97 1h1m84 0h1m1 0h1m1 0h1m-93 1h2m88 0h1m-93 1h1m19 0h1m76 0h1m4 0h1m-90 1h1m10 0h1m67 1h1m-6 1h1m3 0h1m2 0h2m-75 1h1m70 0h2m-92 1h1m15 0h1m58 0h1m5 0h1m14 0h1m-95 1h1m3 1h1m55 0h1m10 0h1m16 0h1m9 0h1m-136 1h1m40 0h1m5 0h1m59 0h1m1 0h1m3 0h1m4 0h1m-95 1h1m46 0h1m42 0h1m20 0h1m-96 1h2m32 0h1m31 0h1m-44 1h1m6 0h2m7 0h2m50 0h2m-92 1h1m44 0h1m23 0h1m-103 1h1m8 0h1m11 0h1m17 0h1m13 0h1m20 0h1m6 0h2m42 0h1m-75 1h1m20 0h1m27 0h1m-28 1h1m8 0h1m21 0h2m3 0h1m2 0h1m-84 1h1m6 0h1m37 0h1m16 0h2m18 0h1m-73 1h1m5 0h1m1 0h1m31 0h1m8 0h2m16 0h1m-59 1h1m10 0h1m46 0h1m3 0h1m-70 1h1m34 0h1m2 0h1m13 0h1m7 0h1m3 0h1m5 0h1m3 0h1m2 0h1m1 0h1m2 0h1m-56 1h1m5 0h1m10 0h1m31 0h1m-67 1h1m32 0h1m6 0h1m11 0h1m26 0h1m-49 1h1m2 0h1m15 0h1m22 0h1m-97 1h1m71 0h1m8 0h1m7 0h1m17 0h1m-14 1h1m-85 1h2m56 0h1m2 0h1m11 0h1m-145 1h1m13 0h1m58 0h1m2 0h1m63 0h1m13 0h1m-75 1h1m4 0h1m62 0h1m-58 1h1m18 0h1m37 0h1m-137 1h1m61 0h1m15 0h1m40 0h1m17 0h1m-77 1h1m53 0h1m19 0h1m-64 1h1m12 0h2m25 0h1m17 0h1m7 0h1m-54 1h1m-57 1h1m44 0h1m41 0h1m-84 1h2m78 0h2m42 0h1m1 0h1m-122 1h1m25 0h1m5 0h1m42 0h1m13 0h1m-57 1h1m67 0h1m1 0h1m9 0h1m-126 1h1m75 0h1m-28 2h1m2 0h1m-118 1h1m179 0h1m10 0h1m-8 1h1m15 0h1m-189 1h1m102 0h1m-102 1h1m47 2h1m127 0h1m6 0h1m-182 1h1m52 0h1m126 0h1m-34 1h1m26 0h1m2 0h1m1 0h1m-132 1h1m102 0h1m19 0h1m8 0h1m-107 1h2m53 0h1m9 0h1m12 0h1m24 0h1m-52 1h1m12 0h1m42 0h1m-136 1h1m-25 1h1m105 1h1m43 0h1m-123 1h1m104 0h1m-66 1h1m6 0h1m35 0h1m37 0h1m5 0h1m-88 1h1m7 0h1m16 0h1m-29 1h1m32 0h1m28 0h1m14 0h1m1 0h1m12 0h1m-77 1h1m65 0h1m-50 1h1m26 0h1m-144 2h1m93 0h2m4 0h1m35 0h1m35 0h1m-94 1h1m3 0h1m-58 2h1m11 0h1m101 0h1m-61 2h1m-70 1h1m10 0h1m11 0h1m60 1h1m-34 1h1m22 0h1m3 0h1m47 0h1m-53 1h1m-2 2h1m-3 2h1m-5 2h1m-27 3h1m48 0h1m3 1h1m-10 1h1m16 0h1m22 2h1m-54 1h1m31 0h1m-47 3h1m-5 2h1m1 0h1m1 2h1m-3 1h1m87 0h1m-18 1h1m-2 1h1m-2 3h1m-9 4h1m12 1h1m-16 6h1m0 1h1"/>
<path stroke="#059646" d="M43 31h1m172 8h1m-25 3h1m16 0h1m-18 1h1m-152 1h1m168 0h1m-143 1h1m131 0h1m8 0h1m-9 1h1m5 0h1m4 1h1m-14 1h1m8 0h1m1 0h1m-10 2h1m8 1h1m1 1h1m-3 3h2m1 0h1m24 3h1m-90 1h1m88 0h1m-83 1h1m57 0h2m27 0h1m3 0h1m-110 1h1m13 0h1m90 0h1m5 0h1m-107 1h1m8 1h1m6 0h1m8 0h1m76 0h1m2 0h1m-98 1h2m3 0h1m2 0h1m53 0h1m22 0h1m-77 1h1m-8 1h1m91 0h1m3 0h2m-1 1h1m2 0h1m-100 1h1m1 0h1m1 0h1m13 0h1m29 0h1m-50 1h1m94 0h1m-155 1h1m9 0h1m36 0h1m3 0h1m13 0h1m16 0h2m53 0h2m-54 1h1m38 0h1m14 0h1m14 0h1m-86 1h1m12 0h1m2 0h1m64 0h2m-67 1h1m16 0h1m34 0h1m-165 1h1m84 0h1m13 0h1m29 0h1m7 0h1m14 0h1m12 0h1m3 0h1m1 0h1m6 0h1m4 0h1m2 0h1m-70 1h1m15 0h1m16 0h1m7 0h1m19 0h1m-76 1h1m13 0h1m11 0h1m28 0h1m3 0h1m-117 1h1m32 0h1m71 0h1m1 0h1m22 0h1m-84 1h1m56 0h1m7 0h1m-79 1h1m13 0h1m4 0h1m31 0h1m20 0h1m8 0h1m15 0h1m7 0h1m-107 1h1m21 0h1m1 0h1m5 0h1m37 0h1m6 0h1m2 0h1m4 0h1m9 0h1m9 0h1m-80 1h2m4 0h1m28 0h1m12 0h1m12 0h1m-63 1h1m33 0h1m23 0h1m-63 1h1m6 0h1m33 0h1m9 0h1m9 0h1m-65 1h3m37 0h1m1 0h2m7 0h1m-25 1h2m1 0h1m7 0h1m41 0h1m-67 1h1m56 0h1m-54 1h2m45 0h1m-67 1h1m17 0h1m41 0h1m7 0h1m-66 1h1m53 0h1m-7 1h1m3 0h2m17 0h1m-75 1h1m48 0h1m39 0h1m-22 1h1m-147 1h1m135 0h1m19 0h1m10 0h1m-84 1h1m-1 1h2m52 0h1m1 0h1m-14 1h1m4 0h1m8 0h1m-12 1h1m29 0h1m-28 1h1m3 1h1m39 0h1m-86 1h1m-32 1h1m115 0h1m-123 1h1m124 0h1m-86 1h1m28 0h1m36 0h1m3 0h1m-73 1h1m7 0h1m2 0h1m11 1h1m47 0h1m1 0h1m-52 1h1m64 0h1m-86 2h1m18 0h1m60 0h1m4 0h1m-144 2h1m76 0h1m32 0h1m33 0h1m-132 1h1m34 0h1m8 0h1m7 0h1m9 2h1m16 0h1m47 0h1m-81 1h1m48 0h1m36 0h1m-14 1h1m8 0h1m-4 1h1m2 0h1m-154 1h1m120 0h2m28 0h1m-107 1h1m3 0h1m26 0h1m47 0h1m-103 1h1m37 0h1m63 0h1m-145 1h1m50 0h1m79 0h1m6 0h1m20 0h1m11 0h1m-119 1h1m76 0h1m37 0h1m-86 1h1m9 0h1m8 0h1m19 0h1m26 0h1m-93 1h1m39 0h2m3 0h1m1 0h1m28 0h1m9 0h1m1 0h1m22 0h1m1 1h1m-175 1h1m137 0h1m7 0h1m6 1h1m-60 1h1m1 0h1m33 0h1m-72 1h1m36 0h1m-27 2h1m13 0h1m-23 1h1m27 0h1m8 2h1m37 0h1m-35 1h1m-42 2h1m21 0h1m-19 1h1m17 0h1m13 0h1m-16 2h1m-6 1h1m39 0h1m-96 1h1m69 1h1m3 0h1m16 0h1m-28 1h2m16 1h1m29 0h1m-2 1h1m-62 3h1m15 0h1m6 3h1m38 0h1m24 0h1m-55 2h1m21 1h1m-23 1h1m12 0h1m13 0h1m-6 1h1m12 3h1m15 1h1m-15 9h1"/>
<path stroke="#008741" d="M180 37h1m-137 1h1m113 1h1m59 0h1m-26 2h1m31 1h1m-23 3h1m4 0h1m-7 1h1m5 0h1m-139 2h1m125 0h1m8 0h1m23 0h1m-20 1h1m1 0h1m-11 1h1m29 0h1m-22 1h3m19 0h1m-88 1h1m66 0h1m20 1h1m-13 1h1m12 0h1m-2 1h1m1 0h1m1 1h2m-27 1h1m2 0h1m19 0h2m-86 1h1m-2 1h1m61 0h1m-59 1h1m89 1h1m2 0h1m-95 1h1m95 0h2m-16 1h1m10 0h1m-98 1h1m93 0h1m-29 1h1m24 1h1m4 0h1m4 0h1m2 0h1m-88 1h1m74 0h1m1 1h1m3 0h1m-93 1h2m46 0h1m45 0h1m-100 1h1m3 0h1m77 0h1m-118 1h1m129 0h1m-85 1h1m12 1h1m52 0h1m8 0h3m14 0h1m-149 1h1m98 0h1m17 0h1m13 0h1m13 0h1m-47 1h1m-20 1h1m4 0h1m8 0h1m15 0h1m7 0h1m26 0h1m-71 1h1m4 0h1m9 0h1m25 0h1m9 0h1m21 0h1m-134 1h1m41 0h1m37 0h1m16 0h1m7 0h1m5 0h1m19 0h1m-88 1h1m1 0h1m36 0h1m45 0h1m6 0h1m-89 1h1m20 0h1m24 0h1m3 0h1m2 0h1m5 0h1m2 0h1m-118 1h1m50 0h1m11 0h1m41 0h1m4 0h1m7 0h1m2 0h1m-84 1h1m20 0h1m33 0h1m4 0h1m6 0h1m4 0h1m-92 1h1m17 0h1m51 0h1m4 0h2m11 0h1m14 0h1m-131 1h1m127 0h1m1 0h1m-152 1h1m77 0h1m20 0h1m32 0h1m-18 1h2m7 0h1m9 0h1m4 1h1m-65 1h1m37 0h1m13 0h1m30 0h1m-15 1h1m5 0h1m10 0h1m5 0h1m-80 1h1m35 0h1m-42 1h1m9 0h1m-11 1h1m49 0h2m-51 1h1m1 0h2m76 0h1m-84 1h1m6 5h1m44 0h1m-82 1h1m24 0h1m28 0h1m70 0h1m-178 1h1m59 0h1m12 0h1m19 0h1m6 1h1m1 0h1m71 0h1m-85 1h1m82 0h1m-22 1h1m14 0h1m-155 1h1m83 0h1m63 0h1m4 0h1m-67 1h1m59 0h1m1 0h1m-60 1h1m74 0h1m-91 2h1m58 1h1m31 1h1m-95 2h1m18 1h1m43 1h1m24 0h1m6 0h1m-59 1h1m55 0h1m-38 1h1m7 0h1m24 0h1m-28 1h1m3 0h1m25 0h1m-93 1h1m22 0h1m25 0h1m-48 1h1m91 0h1m-74 1h3m18 0h1m4 0h1m20 0h1m-102 1h1m51 0h1m41 1h1m6 0h1m8 3h1m-136 1h1m61 3h1m42 1h1m-127 2h1m49 0h1m29 5h1m77 1h1m-61 2h1m-51 1h1m103 1h1m-24 2h2m-50 2h1m44 2h1m-46 1h1m4 0h1m45 0h1m-69 3h1m0 2h1m64 3h1m19 1h1"/>
<path stroke="#007837" d="M49 29h1m-3 7h1m167 2h1m2 2h1m-9 3h1m-11 1h1m0 1h1m1 2h1m1 0h2m6 0h1m-11 1h1m-9 1h1m13 0h1m21 0h1m-21 3h1m1 1h2m-3 1h2m-83 1h1m16 1h1m86 0h1m-1 1h1m1 1h1m-24 1h1m21 2h1m-93 1h1m68 0h1m22 0h1m-87 1h1m4 0h1m78 0h1m8 0h1m-10 1h1m12 0h1m2 0h1m-95 1h1m1 0h1m86 0h1m1 0h1m7 1h1m-102 1h1m84 0h1m-85 1h1m1 0h1m91 0h1m1 1h1m-109 1h1m34 0h1m55 1h1m15 0h1m-180 1h1m105 0h1m50 0h1m1 0h1m-68 1h1m54 0h1m26 0h1m-70 1h2m26 1h1m19 0h1m5 0h1m-19 1h1m10 0h1m25 0h1m-84 1h1m57 0h1m27 0h1m-62 1h1m35 0h1m3 0h1m21 0h1m-53 1h1m-95 1h1m97 0h1m12 0h1m6 0h1m20 0h3m-85 1h1m56 0h1m8 0h1m-69 1h1m53 0h1m3 0h2m-115 1h1m69 0h1m22 0h1m27 0h1m5 0h1m-97 1h1m51 0h1m19 0h1m31 0h1m-62 1h1m17 0h1m15 0h2m29 0h1m-35 1h1m1 0h1m9 0h1m-65 1h1m24 0h1m25 0h1m16 0h2m9 0h1m1 0h1m-75 1h1m57 0h1m24 0h1m-43 1h1m13 0h1m2 0h1m-3 1h1m1 0h1m26 0h1m-35 1h1m3 0h1m3 0h1m1 0h1m34 0h1m-48 1h1m4 0h1m2 0h1m-158 1h1m153 0h1m2 0h1m-61 1h1m9 1h1m11 0h1m-37 3h1m38 1h1m-17 1h1m2 0h1m19 0h1m-24 1h1m22 0h1m39 0h1m-92 1h1m53 1h1m52 0h1m-132 2h1m42 3h1m74 0h1m-68 2h1m31 2h1m-35 2h1m60 0h1m25 1h1m2 0h1m-20 1h1m-74 1h2m-34 2h1m75 0h1m7 0h1m10 0h1m2 1h1m-60 1h1m27 1h1m52 1h1m2 0h1m-88 1h2m6 0h1m42 0h1m10 0h1m13 1h1m-50 1h1m21 0h1m38 1h1m-74 2h2m30 3h1m-52 2h1m49 1h1m-45 1h1m6 0h1m-30 1h1m14 0h1m1 1h1m14 2h1m-13 1h1m-62 2h1m64 0h1m68 0h1m-28 1h1m-49 2h1m8 0h1m10 0h1m-18 3h1m-5 1h1m5 0h1m-21 5h1m0 1h1m1 1h1m83 2h1m-29 6h1m-1 3h1"/>
<path stroke="#00642d" d="M208 39h1m8 0h1m-2 1h2m-4 1h2m1 0h2m1 0h3m-22 1h1m11 0h3m4 0h5m-26 1h3m3 0h1m2 0h2m3 0h4m2 0h8m-185 1h1m141 0h1m14 0h1m1 0h1m1 0h2m4 0h1m1 0h1m1 0h4m2 0h9m-26 1h1m3 0h2m2 0h10m2 0h7m-26 1h4m3 0h10m1 0h7m-27 1h2m1 0h1m2 0h1m6 0h3m2 0h9m2 0h1m-179 1h1m147 0h3m1 0h1m9 0h5m1 0h9m1 0h2m-32 1h5m9 0h17m-20 1h1m1 0h19m-18 1h1m1 0h15m-118 1h1m101 0h12m1 0h4m-75 1h1m53 0h2m2 0h7m1 0h4m2 0h5m1 0h1m-25 1h1m2 0h7m2 0h3m1 0h7m-22 1h1m1 0h12m1 0h6m-20 1h22m1 0h1m-23 1h2m1 0h18m-169 1h1m5 0h1m141 0h23m-22 1h5m1 0h17m-107 1h2m83 0h21m-94 1h1m10 0h1m60 0h21m8 0h1m2 0h1m-33 1h14m2 0h5m11 0h1m-104 1h1m6 0h1m65 0h12m1 0h4m1 0h1m-76 1h1m56 0h17m9 0h1m-29 1h1m1 0h7m1 0h8m10 0h1m-25 1h14m9 0h1m-23 1h12m8 0h1m-114 1h1m39 0h1m53 0h5m1 0h3m1 0h1m11 0h1m6 0h1m-96 1h1m18 0h3m43 0h2m2 0h2m1 0h5m11 0h1m5 0h1m-98 1h1m3 0h1m64 0h10m17 0h6m-104 1h1m68 0h13m4 0h1m12 0h1m1 0h1m1 0h2m-80 1h1m42 0h10m3 0h3m17 0h1m1 0h2m-133 1h1m46 0h1m7 0h2m20 0h1m19 0h9m4 0h2m2 0h1m15 0h2m-53 1h1m4 0h1m13 0h3m1 0h3m1 0h1m10 0h1m6 0h3m3 0h1m-187 1h1m98 0h1m31 0h1m17 0h1m4 0h4m5 0h1m16 0h8m-95 1h2m5 0h1m16 0h1m1 0h1m31 0h1m3 0h2m5 0h1m1 0h3m12 0h2m1 0h1m3 0h2m-100 1h1m9 0h2m23 0h3m8 0h1m2 0h1m11 0h1m3 0h1m1 0h1m1 0h1m2 0h1m3 0h2m1 0h1m11 0h4m1 0h1m2 0h1m-109 1h1m18 0h2m53 0h6m4 0h2m14 0h1m1 0h3m-88 1h3m4 0h1m19 0h1m31 0h5m4 0h3m12 0h5m-88 1h3m13 0h2m9 0h1m17 0h1m12 0h1m2 0h1m6 0h1m1 0h1m-83 1h1m18 0h1m5 0h1m13 0h1m14 0h1m2 0h1m9 0h1m2 0h1m1 0h2m4 0h1m-59 1h1m5 0h1m27 0h1m5 0h1m17 0h1m6 0h1m-62 1h1m24 0h1m12 0h1m4 0h1m9 0h1m7 0h1m-85 1h1m4 0h1m8 0h1m7 0h1m4 0h1m20 0h3m10 0h1m4 0h2m10 0h1m5 0h1m-152 1h1m52 0h1m53 0h1m14 0h1m3 0h2m1 0h1m5 0h1m1 0h1m2 0h1m9 0h1m-57 1h1m4 0h1m1 0h1m4 0h3m23 0h1m1 0h1m3 0h2m2 0h1m19 0h1m4 0h1m-74 1h2m2 0h3m18 0h2m9 0h5m3 0h2m1 0h1m4 0h1m6 0h2m11 0h1m-87 1h1m17 0h1m17 0h1m1 0h1m12 0h1m6 0h3m3 0h1m10 0h1m7 0h1m-96 1h1m6 0h1m33 0h1m16 0h1m4 0h2m3 0h1m2 0h2m1 0h2m10 0h1m11 0h1m-60 1h1m23 0h1m5 0h2m1 0h1m1 0h1m2 0h2m6 0h1m12 0h2m1 0h1m-99 1h1m21 0h1m27 0h1m2 0h2m5 0h3m1 0h1m1 0h1m1 0h3m3 0h2m15 0h1m-60 1h1m19 0h1m9 0h1m2 0h1m4 0h1m-60 1h1m53 0h1m-53 1h1m1 0h1m49 0h2m18 0h1m10 0h2m-84 1h2m10 0h1m38 0h1m19 0h1m-71 1h1m80 0h1m7 0h1m-36 1h1m1 0h1m17 0h3m-104 1h1m25 0h1m32 0h1m18 0h1m23 0h1m-66 1h1m14 0h2m48 0h1m6 0h1m-79 1h1m43 0h4m39 0h1m-107 1h1m18 0h3m41 0h1m11 0h2m29 0h2m-77 1h1m3 0h1m27 0h1m1 0h1m1 0h1m38 0h2m-77 1h3m64 0h1m7 0h1m-88 1h2m9 0h1m14 0h2m45 0h1m-62 1h1m65 0h1m-90 1h2m81 0h1m1 0h1m-86 1h1m15 0h1m9 0h1m37 0h1m2 0h1m14 0h1m-15 1h1m-112 1h1m129 0h1m-94 1h1m22 0h1m15 0h1m66 0h1m-25 1h1m17 0h1m-68 1h1m12 0h1m55 0h1m5 0h1m-178 1h1m82 0h1m86 0h1m-50 1h1m1 0h1m20 0h1m19 0h1m5 0h2m4 0h1m-126 1h1m19 0h1m5 0h1m6 0h1m4 0h1m32 0h2m17 0h4m2 0h1m23 0h1m4 0h1m-87 1h1m29 0h4m17 0h6m22 0h2m-101 1h1m22 0h1m50 0h2m13 0h1m9 0h2m2 0h2m-71 1h1m19 0h1m13 0h1m7 0h1m6 0h1m16 0h4m-91 1h1m14 0h1m43 0h1m3 0h1m25 0h2m-89 1h1m18 0h2m11 0h1m12 0h1m18 0h1m6 0h1m16 0h1m-82 1h1m32 0h1m2 0h1m1 0h1m37 0h1m-84 1h1m80 0h1m1 0h3m-94 1h1m5 0h2m7 0h2m8 0h1m19 0h1m10 0h1m14 0h1m-71 1h1m12 0h1m1 0h6m-22 1h1m1 0h1m3 0h1m10 0h3m1 0h1m35 0h1m24 0h1m12 0h1m-127 1h1m16 0h1m13 0h1m5 0h1m10 0h1m2 0h1m25 0h1m13 0h1m2 0h1m-4 1h1m3 0h1m-58 1h1m88 0h1m-93 1h1m2 0h1m4 1h1m8 0h2m-4 1h2m-10 1h2m7 0h1m29 0h1m-38 1h1m3 0h1m47 0h1m3 0h1m-66 1h1m7 0h2m40 0h1m4 0h1m-56 1h1m6 0h2m6 0h1m37 0h2m-56 1h1m3 0h1m5 0h1m4 0h1m56 0h1m-77 1h1m7 0h1m1 0h1m2 0h2m3 0h1m18 0h1m2 0h1m-31 1h1m2 0h2m25 0h1m36 0h1m-79 1h1m5 0h1m1 0h1m2 0h1m8 0h1m-76 1h1m44 0h1m14 0h2m5 0h1m-22 1h1m12 0h1m8 0h1m7 0h1m-30 1h1m9 0h1m4 0h3m17 0h1m-20 1h1m17 0h1m30 0h1m23 0h1m-88 1h1m61 0h1m-44 1h1m45 0h1m-67 1h1m18 0h2m1 0h1m20 0h1m-26 1h1m14 0h1m18 0h1m-43 1h1m16 0h1m5 0h1m2 0h1m29 0h1m15 0h1m-68 1h2m17 0h1m32 0h1m-53 1h1m56 1h1m-39 2h1m26 0h1m-64 1h3m46 0h1m-50 1h1m2 0h2m5 0h1m34 0h1m3 0h1m-47 1h3m-6 1h4m-4 1h3m55 3h1m5 0h2m22 1h1m-9 3h1m-5 2h1m-2 1h1m0 1h2m-15 6h1"/></g></g>
<use href="#ml"/>
<path d="M1520.0 273.0h0M1441.5 283.6h0M1508.8 283.6h0M1531.2 283.6h0M1452.7 294.1h0M1475.1 294.1h0M1520.0 294.1h0M1542.4 294.1h0M1564.8 294.1h0M1463.9 304.7h0M1486.3 304.7h0M1508.8 304.7h0M1531.2 304.7h0M1553.6 304.7h0M1430.2 315.2h0M1452.7 315.2h0M1497.5 315.2h0M1520.0 315.2h0M1542.4 315.2h0M1564.8 315.2h0M1587.3 315.2h0M1419.0 325.8h0M1508.8 325.8h0M1531.2 325.8h0M1553.6 325.8h0M1576.1 325.8h0M1598.5 325.8h0M1520.0 336.4h0M1542.4 336.4h0M1564.8 336.4h0M1587.3 336.4h0M1609.7 336.4h0M1508.8 346.9h0M1531.2 346.9h0M1553.6 346.9h0M1576.1 346.9h0M1598.5 346.9h0M1520.0 357.5h0M1542.4 357.5h0M1564.8 357.5h0M1587.3 357.5h0M1609.7 357.5h0M1632.1 357.5h0M1463.9 368.0h0M1486.3 368.0h0M1508.8 368.0h0M1531.2 368.0h0M1576.1 368.0h0M1183.5 378.6h0M1497.5 378.6h0M1520.0 378.6h0M1542.4 378.6h0M1564.8 378.6h0M1587.3 378.6h0M1172.2 389.2h0M1508.8 389.2h0M1531.2 389.2h0M1553.6 389.2h0M1576.1 389.2h0M1598.5 389.2h0M1183.5 399.7h0M1520.0 399.7h0M1542.4 399.7h0M1564.8 399.7h0M1587.3 399.7h0M1609.7 399.7h0M1654.6 399.7h0M1037.7 410.3h0M1149.8 410.3h0M1531.2 410.3h0M1576.1 410.3h0M1598.5 410.3h0M1665.8 410.3h0M1710.7 410.3h0M1228.3 420.8h0M1542.4 420.8h0M1564.8 420.8h0M1587.3 420.8h0M1721.9 420.8h0M1194.7 431.4h0M1217.1 431.4h0M1531.2 431.4h0M1576.1 431.4h0M1643.4 431.4h0M1205.9 442.0h0M1564.8 442.0h0M1587.3 442.0h0M903.0 452.5h0M970.4 452.5h0M1015.2 452.5h0M1060.1 452.5h0M1217.1 452.5h0M1284.4 452.5h0M1306.9 452.5h0M1643.4 452.5h0M1665.8 452.5h0M1688.2 452.5h0M936.7 463.1h0M1430.2 463.1h0M1520.0 463.1h0M1542.4 463.1h0M1564.8 463.1h0M1609.7 463.1h0M1654.6 463.1h0M1060.1 473.6h0M1149.8 473.6h0M1172.2 473.6h0M1306.9 473.6h0M1351.7 473.6h0M1374.2 473.6h0M1463.9 473.6h0M1486.3 473.6h0M1531.2 473.6h0M1553.6 473.6h0M981.6 484.2h0M1228.3 484.2h0M1250.8 484.2h0M1475.1 484.2h0M1520.0 484.2h0M1542.4 484.2h0M1564.8 484.2h0M1587.3 484.2h0M1609.7 484.2h0M1654.6 484.2h0M903.0 494.8h0M970.4 494.8h0M1194.7 494.8h0M1306.9 494.8h0M1351.7 494.8h0M1374.2 494.8h0M1396.6 494.8h0M1419.0 494.8h0M1486.3 494.8h0M1531.2 494.8h0M1553.6 494.8h0M1598.5 494.8h0M1620.9 494.8h0M1688.2 494.8h0M1116.2 505.3h0M1205.9 505.3h0M1318.1 505.3h0M1407.8 505.3h0M1452.7 505.3h0M1520.0 505.3h0M1609.7 505.3h0M1632.1 505.3h0M1654.6 505.3h0M1699.4 505.3h0M1015.2 515.9h0M1149.8 515.9h0M1172.2 515.9h0M1486.3 515.9h0M1576.1 515.9h0M1598.5 515.9h0M1004.0 526.4h0M1138.6 526.4h0M1161.0 526.4h0M1183.5 526.4h0M1205.9 526.4h0M1340.5 526.4h0M1385.4 526.4h0M1430.2 526.4h0M1497.5 526.4h0M1520.0 526.4h0M1542.4 526.4h0M1587.3 526.4h0M1609.7 526.4h0M1441.5 537.0h0M1463.9 537.0h0M1508.8 537.0h0M1598.5 537.0h0M1620.9 537.0h0M1643.4 537.0h0M1362.9 547.6h0M1407.8 547.6h0M1452.7 547.6h0M1497.5 547.6h0M1632.1 547.6h0M1677.0 547.6h0M1351.7 558.1h0M1598.5 558.1h0M1520.0 568.7h0M1553.6 579.2h0M1620.9 579.2h0M1643.4 579.2h0M981.6 589.8h0M903.0 600.4h0M992.8 600.4h0M1060.1 621.5h0M1105.0 621.5h0M1486.3 621.5h0M1553.6 621.5h0M1598.5 621.5h0M1620.9 621.5h0M1542.4 632.0h0M1508.8 642.6h0M959.1 653.2h0M1497.5 653.2h0M1699.4 653.2h0M1721.9 653.2h0M1553.6 663.7h0M1620.9 663.7h0M1407.8 674.3h0M1587.3 674.3h0M970.4 684.8h0M1306.9 684.8h0M1508.8 684.8h0M1688.2 684.8h0M1632.1 695.4h0M1306.9 706.0h0M1508.8 706.0h0M1430.2 716.5h0M1587.3 716.5h0M1609.7 716.5h0M1419.0 727.1h0M1553.6 727.1h0M1598.5 727.1h0M1452.7 737.6h0M1677.0 737.6h0M1194.7 748.2h0M1217.1 748.2h0M1407.8 758.8h0M1105.0 769.3h0M1688.2 769.3h0M1598.5 790.4h0M1665.8 790.4h0M1407.8 801.0h0M1564.8 801.0h0M1587.3 801.0h0M1699.4 801.0h0M1149.8 811.6h0M1194.7 811.6h0M1284.4 811.6h0M1351.7 811.6h0M1576.1 811.6h0M1430.2 822.1h0M1654.6 822.1h0M1172.2 832.7h0M1262.0 832.7h0M1620.9 832.7h0M1340.5 843.2h0M1407.8 843.2h0M1654.6 843.2h0M1620.9 853.8h0M1273.2 864.4h0M1452.7 864.4h0M1520.0 864.4h0M1194.7 874.9h0M1374.2 874.9h0M1531.2 874.9h0M1620.9 874.9h0M1564.8 885.5h0M1553.6 938.3h0M1576.1 938.3h0M1564.8 970.0h0" fill="none" stroke="#000" stroke-width="11.0" stroke-linecap="round"/>
<g fill="none" stroke="#000" stroke-width="6.2">
<rect x="266.0" y="37.5" width="1571.0" height="1096.5"/>
<path stroke-linecap="round" d="M266.0 1079.7H234.5M266.0 956.1H234.5M266.0 831.6H234.5M266.0 706.5H234.5M266.0 579.6H234.5M266.0 453.1H234.5M266.0 325.7H234.5M266.0 196.9H234.5M266.0 66.3H234.5"/>
<path d="M483.0 1134.0V1168.5M755.3 1134.0V1168.5M1026.2 1134.0V1168.5M1294.7 1134.0V1168.5M1561.6 1134.0V1168.5M1828.9 1134.0V1168.5"/>
</g>
<text x="24" y="1106.0" font-size="73.5" textLength="163" lengthAdjust="spacingAndGlyphs">22°N</text>
<text x="24" y="982.4" font-size="73.5" textLength="163" lengthAdjust="spacingAndGlyphs">24°N</text>
<text x="24" y="857.9" font-size="73.5" textLength="163" lengthAdjust="spacingAndGlyphs">26°N</text>
<text x="24" y="732.8" font-size="73.5" textLength="163" lengthAdjust="spacingAndGlyphs">28°N</text>
<text x="24" y="605.9" font-size="73.5" textLength="163" lengthAdjust="spacingAndGlyphs">30°N</text>
<text x="24" y="479.4" font-size="73.5" textLength="163" lengthAdjust="spacingAndGlyphs">32°N</text>
<text x="24" y="352.0" font-size="73.5" textLength="163" lengthAdjust="spacingAndGlyphs">34°N</text>
<text x="24" y="223.2" font-size="73.5" textLength="163" lengthAdjust="spacingAndGlyphs">36°N</text>
<text x="24" y="92.6" font-size="73.5" textLength="163" lengthAdjust="spacingAndGlyphs">38°N</text>
<text class="ser" x="314" y="1067" font-size="81" textLength="108" lengthAdjust="spacing">(a)</text>
<text class="ser" x="471" y="1067" font-size="81" textLength="431" lengthAdjust="spacing">1982−2018</text>
</g>
<g transform="translate(0 1165.3)">
<g clip-path="url(#cp)"><g transform="translate(267.64 37.48) scale(5.7200 5.7200)" fill="none" stroke-width="1.04" shape-rendering="crispEdges">
<path stroke="#ca0020" d="M206 38h1m9 1h1m-19 2h1m14 1h2m2 0h1m-4 1h1m2 0h2m1 0h1m-25 1h1m16 0h1m3 0h1m-75 1h1m57 1h1m8 0h1m1 0h1m1 0h1m13 0h1m-35 1h1m9 0h1m9 0h1m2 0h2m2 0h1m4 0h1m1 0h1m1 0h1m-27 1h2m11 0h1m3 0h2m5 0h1m1 0h1m-39 1h2m2 0h1m7 0h1m21 0h2m1 0h1m2 0h3m-41 1h2m30 0h2m-35 1h2m1 0h1m1 0h2m15 0h2m12 0h1m1 0h1m-33 1h1m12 0h3m1 0h1m11 0h1m2 0h1m-34 1h1m14 0h1m7 0h4m6 0h1m-21 1h1m5 0h1m3 0h2m13 0h1m-31 1h1m3 0h2m1 0h3m5 0h2m-18 1h4m2 0h1m1 0h1m7 0h1m12 0h1m3 0h2m-171 1h1m137 0h2m19 0h1m5 0h1m-14 1h1m2 0h1m8 0h1m1 0h1m6 0h1m-33 1h1m13 0h2m1 0h1m6 0h4m-27 1h1m9 0h2m3 0h1m1 0h1m6 0h1m1 0h1m4 0h1m-19 1h1m3 0h1m3 0h1m3 0h1m1 0h1m2 0h1m2 0h1m-22 1h1m11 0h1m2 0h2m-20 1h1m17 0h2m-13 1h1m-1 1h2m1 0h3m-8 1h1m6 0h1m-4 1h1m10 0h2m-18 1h1m31 0h1m-33 1h1m2 0h2m-3 1h2m11 0h1m-134 1h1m115 0h1m1 0h2m9 0h4m-11 1h1m6 0h4m-13 1h1m7 0h1m2 0h3m-3 1h1m2 0h1m-31 1h1m11 0h1m-27 1h1m12 0h2m2 0h1m-140 1h1m130 0h2m20 0h1m-27 1h1m4 0h1m26 0h1m-30 1h1m21 0h1m7 0h1m-18 1h1m13 0h1m5 0h1m2 1h1m-30 1h2m3 0h1m2 0h1m6 0h1m1 0h1m1 0h1m5 0h1m2 0h1m-60 1h1m21 0h1m9 0h1m13 0h1m1 0h1m3 0h1m1 0h1m2 0h1m-182 1h1m156 0h1m14 0h1m8 0h1m-75 1h1m60 0h1m-32 1h1m29 0h1m12 0h1m18 0h1m-150 1h1m59 0h1m66 0h1m-174 1h1m99 0h1m46 0h1m9 0h1m-167 1h1m109 0h1m1 0h1m8 0h1m6 0h1m29 0h1m6 0h1m6 0h1m-164 1h1m99 0h1m19 0h1m2 0h1m-26 1h4m1 0h1m1 0h1m7 0h1m1 0h1m3 0h1m3 0h1m8 0h1m-104 1h1m69 0h5m12 0h1m6 0h1m43 0h1m-141 1h1m71 0h4m1 0h1m17 0h3m18 0h1m-115 1h1m69 0h6m1 0h2m11 0h1m3 0h1m37 0h1m-65 1h1m9 0h1m2 0h1m-109 1h1m106 0h1m-82 1h1m84 0h1m-113 1h1m67 0h1m41 0h1m1 0h1m3 0h1m-5 1h2m2 0h3m3 0h1m-12 1h2m1 0h4m3 0h1m-98 1h1m82 0h1m4 0h1m1 0h1m1 0h2m3 0h2m9 0h2m-13 1h2m-9 1h1m5 0h1m1 0h2m2 0h1m7 0h1m10 0h2m-23 1h1m8 0h2m7 0h2m1 0h1m-27 1h1m4 0h1m4 0h1m4 0h1m9 0h1m-12 1h2m1 0h1m3 0h1m3 0h2m7 0h1m-14 1h1m5 0h1m1 0h1m-26 1h1m5 0h2m2 0h2m5 0h1m4 0h2m1 0h1m3 0h1m-30 1h1m1 0h1m2 0h2m1 0h2m-10 1h2m1 0h5m2 0h1m14 0h1m-21 1h1m2 0h1m5 0h1m1 0h2m4 0h1m3 0h1m-77 1h1m47 0h1m5 0h3m8 0h4m5 0h2m-22 1h1m3 0h3m3 0h5m3 0h3m-110 1h1m90 0h1m1 0h1m1 0h2m1 0h4m3 0h6m-22 1h1m3 0h3m2 0h4m3 0h3m1 0h1m1 0h1m2 0h1m-68 1h1m45 0h1m4 0h5m4 0h1m2 0h2m-20 1h5m4 0h1m9 0h1m-25 1h2m1 0h2m1 0h3m4 0h4m5 0h1m-72 1h1m50 0h1m1 0h5m4 0h2m12 0h1m23 0h1m-48 1h1m8 0h1m5 0h1m2 0h1m2 0h1m8 0h1m-112 1h1m101 0h1m-7 1h3m1 0h2m31 0h1m21 0h1m-63 1h1m2 0h2m2 0h1m1 1h1m1 0h2m3 0h1m20 0h3m-26 1h2m-37 1h1m23 0h1m-16 2h1m36 0h1m-91 1h1m73 0h1m34 0h1m-57 1h2m19 0h1m-122 1h2m119 0h1m13 0h1m17 0h1m-38 1h1m17 0h1m18 0h1m-121 1h1m83 0h1m-19 1h1m58 0h1m-70 1h1m3 0h1m1 0h1m9 0h1m32 0h1m1 0h1m16 0h1m-90 1h1m26 0h1m7 0h1m35 0h4m-41 1h1m31 0h1m6 0h2m-44 1h1m38 0h1m2 0h1m-29 1h1m22 0h3m-114 1h1m58 0h1m53 0h1m2 0h1m11 0h1m-129 1h1m98 0h1m12 0h1m3 0h2m-75 1h1m26 0h1m29 0h1m12 0h2m-127 1h1m124 0h2m-42 1h1m29 0h2m3 0h1m-100 1h1m57 0h1m21 1h1m17 0h1m5 0h2m-47 1h1m1 1h1m4 0h1m24 0h1m-24 1h1m22 0h1m-50 1h1m8 0h1m38 0h1m-53 2h1m12 0h1m62 1h1m-19 1h1m-23 2h1m-43 2h1m81 0h1m-70 2h1m-3 1h1m1 0h2m-6 1h1m1 0h2m-3 1h1m1 0h2m-10 1h1m7 0h2"/>
<path stroke="#e21a1c" d="M206 37h1m-13 11h1m3 4h1m7 0h1m20 0h1m-5 2h1m-76 3h1m76 0h1m6 0h1m-7 1h1m-83 1h1m-81 1h1m145 0h1m16 0h1m-8 2h1m16 0h1m-9 1h1m-64 1h1m59 0h1m15 1h1m-18 4h1m2 1h1m-3 1h1m7 1h1m-6 2h1m18 0h1m-108 3h1m86 2h1m25 0h1m-205 2h1m152 0h1m30 1h1m-118 1h1m19 0h1m97 0h1m-95 1h1m82 0h1m10 0h1m-70 1h1m38 0h1m-40 1h1m57 0h1m-123 1h1m58 1h1m61 0h1m5 0h1m-52 1h1m-128 2h1m128 0h1m1 1h1m2 0h1m-90 1h1m66 0h1m11 0h1m-18 1h1m18 0h1m4 0h1m-27 1h1m9 0h1m9 0h1m-118 1h1m124 0h1m-55 1h1m43 0h1m-49 1h1m65 0h1m-11 1h1m-74 2h1m93 0h1m-26 1h1m-5 1h1m1 0h1m26 0h1m1 1h1m-21 2h1m16 1h1m1 1h1m5 0h1m-28 1h1m1 0h1m2 0h1m3 1h1m14 0h1m-12 1h1m0 1h1m9 0h1m-19 1h1m15 0h1m3 0h1m-7 2h1m-14 1h1m3 0h1m13 0h1m-22 1h1m13 2h1m6 0h1m-9 1h1m35 0h1m-39 1h1m18 0h1m-137 2h1m122 1h1m10 0h1m-86 4h1m47 1h1m66 2h1m-11 2h1m-7 5h1m2 2h1m-5 1h1m-7 2h1m25 1h1m-46 2h1m10 5h1m-50 10h1m76 0h1m-77 1h1"/>
<path stroke="#f42a22" d="M208 40h1m6 3h1m-23 4h1m33 0h1m-33 1h1m34 1h1m-38 1h1m10 0h1m-8 2h1m41 8h1m3 1h1m-84 2h1m60 0h1m13 1h1m-13 6h1m15 1h1m-1 1h1m1 0h1m0 1h1m-18 9h1m9 0h1m-153 2h1m79 0h1m3 3h1m12 0h1m45 0h1m-62 1h1m2 0h1m15 0h1m34 0h1m7 0h1m-47 1h1m-125 1h1m156 0h1m-38 1h1m-120 1h1m118 1h1m0 1h1m-127 1h1m105 0h1m1 0h1m-105 3h1m-6 1h1m119 0h1m7 2h2m11 3h1m11 1h1m-5 1h1m9 0h1m-1 1h1m-30 2h1m22 0h1m1 0h1m-19 2h1m20 0h1m-18 1h1m0 4h1m10 1h1m-14 4h1m46 0h1m9 0h1m-36 4h2m-8 2h1m18 0h1m-47 1h1m61 2h1m-57 4h1m-78 2h1m81 2h1m-2 1h1m-26 2h1m36 1h1m24 0h1m1 3h1m-28 9h1m43 1h1m-77 5h1m-2 2h1m-3 3h1"/>
<path stroke="#fa4c2e" d="M200 40h1m13 1h1m1 3h1m-3 1h1m-6 1h1m3 0h1m3 0h1m-153 1h1m163 0h1m1 1h1m-38 1h1m3 0h1m-4 2h1m34 0h1m-105 1h1m86 2h1m-73 1h1m81 0h1m-93 1h1m77 0h1m8 0h1m1 1h1m19 0h1m-16 1h1m4 0h1m2 1h1m-127 1h1m20 1h1m93 0h1m10 0h2m-1 1h1m8 0h1m-21 1h1m-110 1h1m113 0h1m1 2h2m11 0h2m-21 4h1m9 4h1m-31 3h1m12 2h1m19 0h1m-99 1h1m98 0h1m2 0h1m-15 1h1m1 0h1m8 0h1m-63 1h1m50 0h1m-1 1h1m-134 1h1m141 0h1m-73 1h1m7 0h1m-31 1h1m34 0h1m54 0h1m-120 1h1m46 0h1m16 0h2m-12 1h1m65 0h1m-74 1h1m1 0h1m-81 1h1m95 1h1m3 0h1m42 0h1m-131 1h1m88 0h1m-28 1h1m7 0h2m18 0h1m34 0h1m-56 1h1m21 0h1m-29 1h1m5 0h1m6 0h1m-124 1h1m106 0h1m15 0h1m-123 1h1m142 2h1m1 0h1m3 0h1m-34 1h1m7 0h1m8 0h1m8 1h1m6 0h1m5 0h1m-27 1h1m12 0h2m11 0h1m-10 1h1m-10 1h2m2 0h1m5 0h1m-12 1h2m5 1h1m15 0h1m-10 1h1m-13 1h1m16 0h1m-8 2h1m6 0h1m2 0h1m-16 1h1m5 6h1m2 0h1m-16 2h1m10 0h1m8 0h1m9 0h1m-29 1h1m26 0h1m9 0h1m-19 4h1m10 0h1m-100 2h1m68 5h1m41 0h1m21 0h1m-39 1h1m29 0h1m-58 2h1m57 2h1m-104 1h1m46 1h1m36 0h1m-18 1h1m22 2h1m-32 6h2m-29 2h1m43 3h1m20 5h1m-74 7h1"/>
<path stroke="#fc663c" d="M201 40h1m-5 3h1m-155 1h1m185 4h1m-2 1h1m-32 4h1m-57 1h1m72 0h1m1 1h1m1 0h1m7 1h1m-131 1h1m130 0h1m-1 1h1m9 3h1m2 0h1m4 0h1m-22 1h1m-3 1h1m16 1h1m-14 8h1m6 0h1m11 0h1m-8 2h1m-6 1h1m-26 1h1m-4 2h1m1 0h1m-152 1h1m168 0h1m7 0h1m-39 1h1m46 0h1m-127 1h1m119 0h1m0 1h1m-188 1h1m-1 1h1m4 0h1m120 0h1m52 0h1m-68 1h1m8 0h1m5 0h1m-14 1h2m10 0h1m51 0h1m-61 1h1m14 0h1m1 0h1m46 0h1m-181 1h1m72 0h1m32 0h2m50 0h1m13 0h1m-67 1h1m21 0h1m7 0h1m-32 1h1m1 0h1m14 0h1m3 0h1m-13 1h1m7 0h1m6 0h1m-7 1h1m1 0h1m43 0h1m-64 1h1m-2 1h1m18 0h1m-16 1h1m2 0h1m4 0h1m-120 1h1m5 0h1m4 0h1m95 0h2m2 0h1m9 0h1m0 1h1m12 0h1m6 0h1m-135 1h1m61 0h1m9 0h1m41 0h1m1 0h1m-103 2h1m106 0h1m15 0h1m-15 1h1m-18 1h1m15 0h1m5 0h1m13 0h1m2 0h1m-24 1h1m7 0h1m10 0h1m4 0h1m3 0h1m10 0h1m-36 1h1m5 0h1m16 0h1m-14 1h1m-14 1h1m26 0h1m-19 1h2m1 0h1m2 0h1m11 0h1m-100 2h1m84 0h1m15 0h1m-18 1h1m10 0h1m1 2h1m-24 1h1m-70 1h1m76 0h1m1 0h1m13 1h1m9 0h1m-4 2h1m3 1h1m-3 1h1m-7 1h1m-6 1h1m31 1h1m-19 1h1m31 2h1m-5 2h1m-58 2h1m21 0h1m32 4h1m-63 1h1m26 6h1m1 4h1m15 1h1m10 0h1m-26 4h1m-17 1h1m-25 1h1m23 0h1m13 4h1m-42 5h1m-8 2h1m3 3h1"/>
<path stroke="#fc7e46" d="M200 38h1m17 1h1m-18 2h1m10 2h1m-2 1h1m6 2h1m8 0h1m-182 1h1m152 1h1m23 0h1m-2 1h1m-27 1h1m1 0h1m6 0h1m10 0h1m15 0h1m3 3h1m-28 1h1m14 0h1m-16 1h1m27 1h1m-24 1h1m6 0h1m-1 2h1m16 0h1m-103 1h1m104 0h1m-18 3h1m11 0h1m-10 5h1m-2 1h1m2 2h1m10 1h1m-106 1h1m84 1h1m2 1h1m14 0h1m9 0h1m-38 1h1m16 0h1m-18 5h1m6 0h1m-58 1h1m-106 1h1m83 0h1m24 0h1m45 1h1m22 0h1m-70 1h1m57 0h1m-177 1h1m4 0h1m139 0h1m36 0h1m-178 1h1m89 0h1m22 0h1m3 0h1m14 0h1m24 0h1m-160 1h1m2 0h2m111 0h1m11 0h1m9 0h1m-142 1h1m9 0h2m108 0h1m52 0h1m-165 1h1m30 0h1m70 0h1m2 0h1m3 0h1m59 0h1m-169 1h1m-7 1h1m36 0h1m15 0h1m53 0h1m57 0h1m-167 1h1m8 0h1m29 0h1m84 0h1m-126 1h1m38 0h1m65 0h1m29 0h2m-131 1h2m126 0h1m1 0h1m-26 1h1m1 0h1m2 0h1m-111 1h1m2 0h2m1 0h1m27 0h1m79 0h1m5 0h1m-122 1h1m2 0h1m2 0h1m28 0h1m76 0h1m-107 1h1m111 0h1m7 0h2m14 0h1m-16 1h1m22 0h1m-152 1h1m118 0h1m-111 1h1m104 0h1m7 0h1m8 0h1m5 0h1m-13 1h1m14 0h1m14 1h1m-30 1h1m8 0h2m16 0h2m-24 1h1m5 0h1m-31 2h1m35 0h1m-10 1h1m14 1h1m14 0h1m-64 1h1m53 0h1m-18 1h1m-5 1h1m15 0h1m6 0h1m-2 2h1m6 0h1m-22 1h1m9 0h1m7 1h1m-7 1h1m11 1h1m-35 1h1m7 0h1m13 0h1m6 0h1m1 1h1m-5 3h1m-27 1h1m18 0h1m6 0h1m5 0h1m9 0h1m-25 2h1m27 0h1m-19 1h1m7 0h1m-32 1h1m22 0h1m29 1h1m-15 2h1m13 0h1m-83 1h1m26 2h1m54 1h1m-15 1h1m5 0h1m14 1h1m-60 1h1m33 1h1m-42 1h1m26 1h1m17 0h1m-1 2h1m-15 1h1m-68 3h1m50 0h1m-7 2h1m2 1h1m43 3h1m-27 1h1m-50 6h1m54 0h1m-55 2h1m-2 1h1"/>
<path stroke="#fd9652" d="M200 37h1m-7 1h1m18 3h1m-18 2h1m8 0h1m4 2h1m-149 2h1m133 1h1m-61 1h1m63 0h1m14 0h1m-17 1h1m-133 1h1m129 0h1m3 1h1m10 1h1m24 0h1m-143 1h1m114 0h1m-61 2h1m85 0h1m-27 1h1m-98 1h1m96 0h1m23 0h1m1 0h2m3 0h1m-78 1h1m78 1h1m-156 2h1m144 3h2m1 0h1m-13 2h1m-2 1h1m1 2h1m-68 1h1m10 1h1m57 1h1m-107 3h1m106 1h1m-126 1h1m92 0h1m18 0h1m2 2h1m15 1h1m-73 1h1m75 0h1m-62 1h1m47 0h1m10 0h1m-72 1h1m6 0h1m36 0h1m-95 1h1m-66 1h1m5 0h2m101 0h1m1 0h2m4 0h1m3 0h1m31 0h1m-153 1h1m37 0h1m73 0h1m6 0h1m4 0h1m11 0h1m3 0h1m26 0h1m-149 1h1m110 0h1m23 0h1m5 0h1m8 0h1m-173 1h1m4 0h1m120 0h1m14 0h1m21 0h1m-159 1h1m123 0h1m1 0h1m43 0h1m-127 1h1m64 0h1m4 0h1m16 0h1m-128 1h1m1 0h1m27 0h1m92 0h1m36 0h1m-161 1h1m30 0h1m-35 1h1m101 0h1m13 0h2m2 0h1m-126 1h1m37 0h1m-37 1h1m3 0h1m1 0h1m60 0h1m40 0h1m7 0h1m5 0h1m-120 1h1m7 0h1m115 0h1m14 1h1m-138 1h1m106 0h1m11 0h2m-124 1h1m117 0h1m36 0h1m-93 1h1m52 0h1m21 0h1m14 0h1m-41 1h1m5 0h1m15 0h1m-61 1h1m30 0h1m3 0h1m21 0h1m19 0h1m-26 1h1m5 0h1m-6 1h1m9 0h1m-6 1h2m19 0h1m-9 1h1m-11 1h1m10 0h1m10 0h1m-11 1h1m3 0h1m-12 2h1m-13 2h1m7 0h1m19 1h1m5 2h1m-10 1h1m10 0h1m-28 1h1m18 0h1m-99 1h1m102 0h1m5 0h2m-35 1h1m5 0h1m11 1h1m4 1h1m-2 1h1m-5 1h1m5 2h1m2 0h1m-28 2h1m57 0h1m-32 1h1m29 1h1m-92 1h1m-32 1h1m63 0h1m-1 1h1m1 0h1m29 0h1m-38 1h1m-56 1h1m56 1h1m4 1h2m34 0h1m-84 1h1m87 0h1m15 0h1m-43 1h1m-74 1h1m76 1h1m18 2h1m-7 1h2m-31 1h1m-62 3h1m82 0h1m-27 1h1m4 1h1m25 3h1m-18 3h1m-1 3h1m18 1h1m-52 2h1m-6 1h1m53 1h1"/>
<path stroke="#fdae60" d="M40 41h1m175 0h1m-67 1h1m17 0h1m28 2h1m27 1h1m-35 3h1m16 0h1m16 0h1m-150 2h1m115 1h1m-89 1h1m95 0h1m13 1h1m14 0h1m-165 1h1m171 0h1m-2 1h1m-178 1h1m82 0h1m92 0h1m4 0h1m-144 1h1m-4 1h1m-41 1h1m164 0h1m6 0h1m15 0h1m5 1h1m-122 1h1m114 0h1m-122 1h1m107 0h1m-24 1h1m-104 3h1m30 0h1m92 5h1m4 0h3m6 0h1m-6 3h1m-31 1h1m32 1h1m-38 1h1m25 1h1m-170 1h1m12 0h1m61 1h1m68 0h1m-131 1h1m88 0h3m29 0h1m42 0h1m-183 1h1m74 0h1m41 0h1m-124 1h1m2 0h1m109 0h2m75 0h1m-65 1h1m30 0h1m-153 1h1m41 0h1m14 0h2m99 0h1m-158 1h1m114 0h1m4 0h1m14 0h1m-144 1h3m6 0h2m15 0h1m81 0h1m5 0h1m19 0h1m47 0h1m-182 1h1m2 0h1m5 0h1m36 0h1m62 0h1m4 0h2m15 0h1m5 0h1m-137 1h2m1 0h1m8 0h1m97 0h1m6 0h1m23 0h2m29 0h1m6 0h1m-181 1h1m37 0h1m35 0h1m41 0h1m8 0h1m-122 1h1m5 0h1m1 0h1m155 0h1m-123 1h1m73 0h2m53 0h1m-169 1h1m35 0h1m3 0h1m8 0h1m74 0h1m39 0h1m-170 1h1m2 0h1m1 0h1m119 0h1m17 0h1m-140 1h1m124 0h1m40 0h1m-167 1h1m33 0h1m1 0h1m79 0h1m4 0h2m49 0h1m-175 1h1m29 0h1m110 0h1m-144 1h1m36 0h1m80 0h1m29 0h1m-149 1h1m4 0h1m1 0h1m106 0h1m-111 1h1m5 0h1m101 0h1m2 0h1m18 0h1m3 0h1m3 0h2m-142 1h1m108 0h3m10 0h1m-6 1h1m32 0h1m-77 1h1m45 0h1m4 0h1m8 0h1m10 0h2m3 0h1m-30 1h1m22 0h1m13 0h1m-128 1h1m77 0h1m9 0h1m5 0h1m25 0h1m0 1h1m-11 1h1m11 0h1m-96 1h1m32 0h1m14 0h1m25 0h1m22 0h1m-74 1h1m18 1h1m48 0h1m6 0h1m-9 1h1m15 0h1m-25 1h1m9 1h1m13 1h1m-31 2h1m20 1h1m3 1h1m-25 1h1m19 0h1m1 0h1m2 0h1m-28 1h1m10 0h1m7 0h1m8 0h1m-8 1h1m1 0h1m1 2h2m26 0h1m-32 2h1m-16 2h1m31 1h1m-97 1h1m61 0h1m33 0h1m-35 1h1m-99 1h1m93 1h1m61 1h1m-41 1h1m-20 1h1m18 0h1m18 0h1m4 0h1m-43 1h1m35 0h1m4 0h1m-43 1h1m37 0h1m14 0h1m-40 2h1m24 0h1m-98 1h1m95 0h1m-5 1h1m-9 3h1m-27 1h1m-2 1h1m-51 1h1m57 1h1m16 3h1m0 3h1m-15 3h1m-36 3h1m-4 1h1m55 0h1m-57 2h1m47 0h1"/>
<path stroke="#fdc272" d="M205 37h1m1 0h1m-9 1h1m-6 1h1m28 3h1m-181 1h1m101 1h1m-83 1h1m1 1h1m61 3h1m67 0h1m21 0h1m-13 3h1m22 1h1m-170 1h1m53 0h1m98 0h1m3 0h1m17 0h1m-170 1h1m49 0h1m-48 1h1m141 0h1m3 0h1m-111 1h1m104 0h1m16 0h1m-130 1h1m7 0h1m139 0h1m-139 1h1m2 0h1m38 0h1m2 0h1m67 0h1m1 0h1m-170 1h1m31 1h1m43 0h1m23 1h1m-34 1h1m0 1h1m10 0h1m34 0h1m-42 1h1m100 1h1m28 1h1m-31 1h1m-18 1h1m-155 1h1m184 1h1m-19 2h1m6 0h1m-28 1h1m18 0h1m17 0h1m-70 1h1m69 0h1m-53 3h1m29 1h1m16 0h1m4 0h2m-8 1h1m7 1h1m-182 1h1m115 0h1m55 0h1m6 0h1m-68 1h1m4 0h1m31 0h1m18 0h1m1 0h1m-183 1h1m31 0h1m7 0h1m26 0h1m15 0h1m29 0h1m60 0h1m1 0h1m-174 1h1m2 0h1m1 0h1m175 0h1m-71 1h1m8 0h1m32 0h1m-126 1h1m83 0h1m11 0h1m9 0h1m37 0h1m9 0h1m1 0h1m-142 1h1m8 0h1m35 0h1m35 0h1m9 0h2m-134 1h2m6 0h1m30 0h1m74 0h1m6 0h1m6 0h1m2 0h1m-128 1h1m75 0h1m15 0h1m5 0h1m15 0h1m2 0h1m6 0h1m27 0h1m1 0h1m-164 1h1m3 0h1m41 0h1m72 0h1m-119 1h1m42 0h1m73 0h1m2 0h1m3 0h1m16 0h1m-143 1h1m8 0h1m122 0h1m-124 1h2m7 0h1m19 0h1m2 0h1m1 0h1m76 0h1m19 0h1m4 0h1m-147 1h1m11 0h1m27 0h1m1 0h1m14 0h1m49 0h1m17 0h1m45 0h1m-162 1h1m118 0h1m7 0h1m20 0h1m-151 1h1m100 0h1m10 0h1m13 0h1m15 0h1m-150 1h1m61 0h2m48 0h1m13 0h2m17 0h1m19 0h1m-161 1h1m49 0h1m40 0h1m48 0h1m3 0h1m-36 1h1m33 0h2m-139 1h1m94 0h1m11 0h1m27 0h1m4 0h1m6 0h1m-45 1h1m4 0h1m4 0h1m11 0h1m12 0h1m-72 1h1m49 1h1m31 0h1m1 0h1m-28 1h1m-32 1h1m13 0h1m21 0h1m-51 1h1m55 0h1m16 0h1m5 1h1m-20 1h1m7 0h1m-64 1h2m50 0h1m19 0h1m-78 1h1m-44 1h1m35 0h1m44 0h1m15 0h1m23 0h1m-27 1h1m5 0h1m-57 1h1m46 0h1m8 3h1m18 1h1m-22 1h1m0 2h1m42 0h1m-39 1h1m6 0h1m27 0h1m-29 1h1m-4 1h1m11 0h1m1 1h1m-11 1h1m-9 1h1m35 1h1m-51 1h1m20 0h1m22 1h1m14 1h1m-22 1h1m25 0h1m2 1h1m-26 1h1m-40 1h1m-8 1h1m27 0h1m-1 2h1m-21 1h1m19 0h1m19 0h1m-9 2h1m-53 2h1m49 0h1m4 0h1m-63 2h1m1 1h1m26 0h1m29 1h1m-50 1h1m-25 2h1m66 6h1m-52 4h1m45 0h1m6 1h1m2 1h1m-63 1h1m9 0h1m-8 1h1m50 0h1m2 9h1"/>
<path stroke="#fed686" d="M204 37h1m3 0h1m-6 1h1m1 0h1m-50 2h1m59 3h1m9 2h1m-30 1h1m-151 1h1m77 1h1m9 1h1m-61 1h1m121 0h1m-122 1h1m150 0h1m-18 2h1m28 0h1m-5 1h1m-175 1h2m12 0h1m94 0h1m46 0h1m23 0h1m-173 1h1m86 0h1m6 0h2m-95 1h1m24 0h1m143 0h1m1 0h1m-172 1h1m24 0h2m51 0h1m-96 1h1m42 0h2m141 0h1m-156 1h1m47 0h1m68 0h1m-65 1h1m8 0h1m74 0h1m17 0h1m-114 1h1m10 0h1m83 0h1m-108 1h1m46 0h1m-87 1h1m50 0h1m-63 1h2m54 0h1m108 0h1m13 0h1m-61 2h1m43 0h2m-151 1h1m82 0h1m-23 1h1m83 0h1m16 0h1m-182 3h1m-6 1h2m168 1h1m-171 1h1m1 0h1m-3 1h1m133 0h1m44 0h1m-161 1h1m126 0h1m8 0h1m-154 1h1m143 0h1m29 0h1m-176 1h1m1 0h1m60 0h1m76 0h1m-103 1h1m35 0h1m105 0h1m-181 1h1m61 0h1m112 0h1m-182 1h2m34 0h1m79 0h1m63 0h1m14 0h1m-197 1h1m2 0h1m5 0h1m27 0h1m5 0h1m20 0h1m3 0h1m14 0h1m32 0h1m9 0h3m23 0h1m29 0h1m7 0h1m-188 1h1m21 0h1m8 0h1m12 0h1m2 0h1m13 0h1m48 0h1m2 0h1m1 0h1m7 0h1m58 0h1m-186 1h1m7 0h1m37 0h2m44 0h1m20 0h1m14 0h1m5 0h1m9 0h1m43 0h1m7 0h1m-197 1h1m10 0h1m36 0h1m44 0h1m18 0h1m17 0h1m2 0h1m9 0h1m-138 1h1m33 0h1m16 0h1m19 0h1m14 0h1m18 0h1m2 0h1m-116 1h1m1 0h1m8 0h1m14 0h1m38 0h1m13 0h1m14 0h1m31 0h1m1 0h1m46 0h1m-167 1h1m3 0h1m12 0h1m5 0h1m15 0h1m60 0h1m19 0h1m33 0h1m8 0h1m-171 1h1m2 0h1m6 0h1m1 0h2m28 0h2m70 0h1m2 0h1m9 0h1m13 0h1m22 0h1m1 0h1m11 0h1m-180 1h1m7 0h1m30 0h1m2 0h1m3 0h1m62 0h1m14 0h1m3 0h1m-125 1h1m-2 1h1m1 0h1m7 0h1m111 0h1m-118 1h1m3 0h1m30 0h1m1 0h1m1 0h1m124 0h1m-171 1h1m10 0h1m27 0h1m40 0h1m50 0h1m2 0h1m33 0h1m-166 1h1m6 0h1m2 0h1m9 0h1m21 0h1m34 0h1m17 0h1m17 0h1m14 0h1m-95 1h1m23 0h2m33 0h1m11 0h2m20 0h2m7 0h1m-139 1h1m7 0h1m3 0h1m22 0h1m32 0h1m49 0h1m8 0h2m3 0h1m7 0h1m-106 1h1m1 0h1m22 0h1m53 0h1m18 0h1m24 0h1m-155 1h1m40 0h1m53 0h1m1 0h1m8 0h1m5 0h1m12 0h1m24 0h3m-157 1h1m9 0h1m53 0h1m38 0h1m11 0h1m23 0h1m13 0h1m3 0h1m-123 1h1m9 0h1m27 0h1m32 0h1m3 0h1m8 0h1m5 0h2m3 0h1m17 0h1m6 0h1m-107 1h1m55 0h1m9 0h1m24 0h2m-40 1h1m25 0h1m1 0h1m-20 1h1m1 0h1m1 0h1m2 0h1m30 0h1m8 0h1m-154 1h1m9 0h1m66 0h1m32 0h1m3 0h2m16 0h1m7 0h1m-13 1h1m-78 1h1m85 0h1m20 0h1m-81 1h1m42 0h1m2 0h1m27 0h1m7 0h1m-126 1h1m67 0h1m22 0h1m-119 1h1m67 0h1m2 0h1m24 0h1m44 0h1m-64 2h1m74 0h1m-55 1h1m39 0h1m-18 1h1m-34 1h1m37 0h1m6 1h1m10 1h1m1 0h2m9 0h1m-139 1h1m99 1h1m27 0h1m4 0h1m-134 1h2m91 0h1m6 0h1m-3 2h1m34 0h1m21 0h1m-27 3h1m38 0h1m-108 1h1m44 0h1m47 1h1m-12 1h1m-94 1h1m119 0h1m-29 1h2m-45 1h1m-2 3h1m1 0h1m42 0h1m-2 1h1m20 0h1m-15 1h1m1 0h1m9 0h1m1 0h1m-85 1h1m69 0h1m-97 1h1m-24 2h1m28 1h1m69 0h1m-3 2h1m16 0h1m-14 1h1m4 1h1m9 0h1m-1 1h1m-5 2h1m17 0h1m-50 1h1m49 0h1m-35 2h1m-11 1h1m18 0h1m10 0h1m-23 2h1m6 1h1m2 3h1m2 2h1m-2 1h1m8 0h1m-67 2h1m48 0h1"/>
<path stroke="#fee698" d="M183 37h1m19 0h1m8 1h3m-22 1h1m14 0h1m-59 1h1m-96 2h1m99 0h1m36 0h1m5 0h1m-142 2h1m7 1h1m1 0h1m139 0h1m3 0h1m-167 2h1m20 0h1m59 0h1m98 0h1m-160 1h1m55 0h1m1 0h1m72 0h1m2 0h1m-76 1h1m65 0h1m13 0h1m-159 1h1m142 0h1m-85 1h1m93 0h1m31 0h1m-4 1h1m-157 1h1m0 1h2m60 0h1m78 0h1m15 0h1m-156 1h1m54 0h1m58 0h1m14 0h1m-141 1h1m31 0h1m62 0h1m64 0h1m-77 1h1m13 0h1m6 0h1m64 0h1m8 0h1m-96 1h1m29 0h1m42 0h1m20 1h1m-134 1h1m27 0h1m95 0h1m14 0h1m-159 1h1m41 0h1m86 0h1m8 0h1m-175 1h1m71 0h1m46 0h1m5 0h1m63 0h2m-114 1h1m95 0h1m3 0h1m1 0h1m5 0h1m2 0h1m-177 1h1m21 0h1m35 0h1m108 0h1m1 0h1m-174 2h1m63 2h1m2 0h1m17 0h1m79 0h1m-175 1h1m-1 1h1m0 1h1m4 0h1m-7 1h1m31 0h1m135 0h1m-167 1h1m114 0h1m31 0h1m24 0h1m-60 1h1m53 0h1m-164 1h1m166 0h1m11 0h1m-170 1h1m152 0h2m-158 1h1m67 0h1m75 0h1m21 0h1m-179 1h1m76 0h1m-28 1h1m22 0h1m7 1h1m22 0h1m34 0h1m45 0h1m-182 1h1m2 0h1m9 0h1m42 0h1m45 0h1m59 0h1m-174 1h1m63 0h2m2 0h1m1 0h1m21 0h1m-80 1h1m19 0h2m1 0h1m9 0h1m20 0h1m14 0h1m3 0h1m6 0h1m19 0h1m9 0h2m60 0h1m6 0h1m-179 1h1m27 0h1m2 0h1m3 0h1m38 0h1m23 0h1m22 0h1m28 0h1m-164 1h1m19 0h1m61 0h1m9 0h1m18 0h1m6 0h1m13 0h1m17 0h1m14 0h1m19 0h1m-184 1h1m40 0h4m27 0h1m49 0h1m5 0h1m6 0h1m39 0h1m-151 1h1m13 0h1m4 0h1m56 0h1m18 0h1m16 0h1m42 0h1m3 0h1m-181 1h1m3 0h1m28 0h1m16 0h1m7 0h1m25 0h1m12 0h1m16 0h1m1 0h1m2 0h1m5 0h1m37 0h1m2 0h1m13 0h1m-156 1h1m6 0h1m63 0h1m5 0h1m60 0h1m13 0h1m-178 1h1m19 0h1m7 0h1m10 0h1m15 0h2m69 0h1m15 0h1m32 0h1m-149 1h2m4 0h1m36 0h2m64 0h1m25 0h1m2 0h2m-173 1h1m3 0h1m2 0h1m3 0h2m28 0h1m5 0h2m80 0h1m13 0h1m27 0h1m-173 1h1m3 0h1m3 0h1m37 0h1m20 0h1m40 0h1m10 0h1m20 0h1m28 0h1m-170 1h1m2 0h2m4 0h1m21 0h1m14 0h1m85 0h1m5 0h1m16 0h1m5 0h1m8 0h1m-168 1h1m5 0h1m4 0h1m28 0h1m6 0h1m63 0h2m10 0h2m1 0h1m16 0h1m14 0h1m-100 1h1m5 0h2m13 0h1m31 0h1m4 0h1m5 0h1m7 0h2m2 0h1m-136 1h1m1 0h1m3 0h1m5 0h1m6 0h1m12 0h1m72 0h1m10 0h1m2 0h1m-109 1h1m19 0h1m8 0h1m68 0h1m4 0h1m-113 1h1m5 0h1m25 0h1m22 0h1m1 0h1m24 0h1m17 0h1m35 0h1m-140 1h1m1 0h1m3 0h1m107 0h1m24 0h1m9 0h1m-146 1h1m53 0h1m56 0h1m18 0h1m2 0h1m-132 1h1m26 0h1m3 0h1m20 0h1m10 0h1m6 0h1m27 0h1m34 0h1m6 0h1m7 0h1m2 0h1m-135 1h1m93 0h1m2 0h1m8 0h1m-117 1h1m18 0h1m21 0h1m62 0h1m3 0h1m2 0h1m1 0h1m1 0h1m14 0h1m8 0h1m-71 1h1m1 0h1m32 0h1m30 0h1m15 0h1m-158 1h1m57 0h1m11 0h1m51 0h1m36 0h1m-160 1h1m1 0h1m76 0h1m4 0h1m40 0h1m9 0h1m11 0h1m12 0h1m-158 1h1m3 0h1m78 0h1m31 0h1m5 0h1m-60 1h1m10 0h1m39 0h1m8 0h1m8 0h1m20 0h1m-121 1h1m42 0h1m24 0h1m22 0h1m2 0h1m28 0h1m-79 1h2m20 0h1m26 0h1m8 0h1m1 0h1m-65 1h1m3 0h1m19 0h1m29 0h1m10 0h1m11 0h1m-137 1h1m56 0h1m-1 2h1m27 0h1m30 0h2m-96 1h1m114 0h1m-122 1h1m54 0h1m43 0h1m6 0h1m4 0h1m15 1h1m1 0h2m2 0h1m1 0h1m-141 2h1m25 0h1m2 0h1m77 0h1m-17 1h1m13 0h1m-111 1h1m165 0h1m-43 1h1m2 0h1m33 0h1m-40 1h1m7 0h1m-53 2h1m55 0h1m13 0h1m-24 1h1m6 0h1m42 1h1m-31 1h1m27 3h1m-124 1h1m78 0h1m18 1h1m1 0h1m26 0h1m-57 1h1m2 0h2m-34 1h1m8 0h1m9 0h1m-26 1h1m-62 1h1m28 0h1m13 0h1m43 0h1m-26 1h1m77 0h2m-115 1h1m58 0h1m51 1h1m-24 3h1m-96 1h1m86 0h1m-35 1h1m15 0h1m20 0h1m-49 3h1m9 0h1m-14 2h1m10 0h1m23 1h1m31 0h1m-47 1h1m43 0h1m10 0h1m-12 1h1m-60 3h1m31 1h1m18 0h1m-10 1h1m15 0h1m-61 1h1m42 0h1m5 0h1m-4 1h1m1 0h1m3 2h1m-56 1h1m51 0h1m-3 1h1m0 12h1"/>
<path stroke="#fdf3aa" d="M194 37h1m-23 2h1m36 0h1m-49 1h1m55 0h1m-70 1h1m20 0h1m27 0h1m-42 1h1m-100 1h1m98 0h1m6 0h1m-114 1h1m5 0h1m138 0h1m18 0h1m-92 1h1m70 0h1m7 0h1m-137 1h1m68 0h1m-75 1h1m76 0h1m10 0h1m41 0h1m4 0h1m3 0h1m22 0h1m-163 1h1m65 0h1m4 0h1m100 0h1m-173 1h1m4 0h1m70 0h1m10 0h1m-76 1h1m53 0h1m97 0h1m2 0h1m-154 1h1m17 1h1m101 0h1m21 0h1m16 0h1m-143 1h2m105 0h1m-142 1h1m1 0h1m2 0h1m27 0h1m37 0h1m-71 1h1m37 0h1m105 0h1m3 0h1m29 0h1m-168 1h1m25 0h1m1 0h1m-40 1h1m49 0h1m54 0h1m4 0h1m46 0h1m12 0h1m-118 1h1m17 0h1m32 0h1m10 0h1m-62 1h1m27 0h1m4 0h1m18 0h1m43 0h1m-111 1h1m12 0h1m24 0h1m2 0h1m79 0h1m-159 1h1m21 0h1m165 0h1m-160 1h1m20 0h1m15 0h1m43 0h1m49 0h1m18 0h1m-155 1h2m2 0h1m29 0h1m2 0h2m39 0h1m4 0h1m64 0h1m5 0h1m-157 1h1m27 0h1m19 0h1m6 0h1m101 0h1m-167 1h1m104 0h1m-81 1h1m140 1h1m-111 2h1m-76 2h1m1 0h1m9 0h1m67 0h1m-85 2h1m167 0h1m-21 1h1m24 0h1m-172 1h1m14 0h1m-15 1h1m3 0h1m13 0h1m4 0h1m160 0h1m-186 1h1m6 0h1m6 0h1m2 1h1m63 0h1m84 0h1m-89 1h1m1 0h2m57 0h1m13 0h1m-150 1h1m53 0h1m24 0h1m59 0h1m17 0h1m10 0h1m-158 1h1m42 0h1m11 0h1m109 0h1m-185 1h1m6 0h1m3 0h1m19 0h1m31 0h2m38 0h1m4 0h1m3 0h1m17 0h1m50 0h1m17 0h1m-178 1h1m1 0h1m12 0h1m39 0h1m10 0h1m39 0h1m19 0h1m13 0h1m6 0h1m-174 1h1m9 0h1m16 0h2m3 0h1m35 0h1m15 0h1m107 0h1m-189 1h1m23 0h1m17 0h1m20 0h1m14 0h1m28 0h1m10 0h1m4 0h1m8 0h1m6 0h2m43 0h1m-187 1h1m3 0h2m20 0h1m3 0h1m5 0h1m36 0h1m11 0h1m5 0h1m44 0h1m14 0h1m24 0h1m8 0h1m-182 1h1m1 0h1m16 0h1m6 0h1m13 0h1m23 0h2m3 0h1m11 0h1m1 0h1m36 0h1m34 0h1m13 0h1m2 0h1m-137 1h1m8 0h1m25 0h1m17 0h1m1 0h1m25 0h1m19 0h1m40 0h1m-173 1h1m11 0h1m10 0h1m3 0h1m7 0h1m8 0h1m1 0h1m1 0h1m19 0h1m59 0h1m19 0h1m6 0h1m10 0h1m3 0h1m-140 1h1m4 0h1m9 0h1m83 0h1m16 0h1m9 0h1m-163 1h1m9 0h1m34 0h1m4 0h1m1 0h1m4 0h1m5 0h1m16 0h1m15 0h1m5 0h1m38 0h2m25 0h1m-152 1h1m19 0h1m14 0h1m4 0h1m3 0h1m17 0h1m45 0h1m10 0h1m31 0h1m-169 1h1m13 0h1m24 0h1m60 0h1m23 0h1m7 0h1m6 0h2m21 0h1m-151 1h1m1 0h1m1 0h1m2 0h1m31 0h1m49 0h1m60 0h1m-158 1h1m9 0h2m21 0h2m12 0h1m45 0h1m27 0h1m1 0h1m6 0h1m12 0h2m-135 1h1m1 0h2m14 0h1m12 0h1m10 0h1m43 0h1m8 0h1m39 0h1m-113 1h1m2 0h1m3 0h1m13 0h1m6 0h1m8 0h1m1 0h1m15 0h1m23 0h1m16 0h1m2 0h1m-140 1h1m17 0h1m9 0h1m14 0h1m8 0h1m3 0h1m4 0h1m56 0h1m10 0h1m7 0h1m29 0h1m-158 1h1m67 0h2m26 0h1m8 0h1m22 0h1m6 0h1m10 0h1m1 0h1m-160 1h1m9 0h1m19 0h1m26 0h1m6 0h1m71 0h1m12 0h1m-91 1h1m8 0h1m26 0h2m16 0h1m36 0h1m-141 1h1m22 0h1m16 0h2m9 0h1m17 0h1m25 0h1m1 0h1m3 0h1m24 0h1m-128 1h1m44 0h1m28 0h1m23 0h1m9 0h1m2 0h1m22 0h1m16 0h1m-112 1h1m1 0h1m5 0h1m25 0h1m19 0h1m17 0h1m-117 1h3m65 0h1m35 0h1m7 0h1m3 0h1m3 0h1m-46 1h2m1 0h1m1 0h1m3 0h1m31 0h1m2 0h1m26 0h1m8 0h1m1 0h1m9 0h1m-115 1h1m18 0h1m6 0h1m6 0h1m25 0h1m2 0h1m7 0h2m5 0h1m11 0h1m17 0h1m3 0h1m-86 1h1m40 0h1m6 0h1m3 0h1m24 0h1m4 0h1m-158 1h1m135 0h1m16 0h1m-77 1h1m43 0h1m30 0h1m-121 1h1m51 0h1m37 0h2m33 0h1m-83 1h2m8 0h2m-82 1h1m68 0h1m5 0h1m12 0h1m24 0h2m1 0h1m-52 1h1m21 0h1m43 0h1m-101 1h1m60 0h1m37 0h1m-63 1h1m20 0h1m-64 1h1m52 0h1m7 0h1m13 0h1m21 0h1m27 0h1m4 0h1m-137 1h1m3 0h1m54 0h1m6 1h1m60 0h1m-127 1h1m51 0h1m83 0h1m4 0h1m-147 1h1m104 0h1m27 0h2m9 0h1m3 0h2m-112 1h1m72 0h1m-55 1h1m75 0h1m-68 1h1m-15 1h1m76 0h2m-73 1h1m17 0h1m26 0h1m42 0h1m13 0h1m-34 1h1m2 0h1m-35 1h1m35 0h1m31 1h1m-2 2h1m-4 1h1m-56 1h1m32 1h1m25 0h1m-37 1h1m36 0h1m-136 1h1m82 0h1m50 0h1m-64 1h1m2 0h1m-43 1h1m14 0h1m67 0h1m-94 1h1m22 0h2m75 0h1m-21 4h1m10 1h2m4 1h1m-26 1h1m23 1h1m-43 1h1m4 0h1m-22 1h1m2 1h1m43 1h1m-22 1h1m16 0h1m2 2h1m5 4h1m4 0h1m-63 1h1m33 0h1m11 2h1m5 0h1m-6 2h1m-44 1h1m-2 1h1m-1 1h1m47 1h1m13 0h1m-12 10h1"/>
<path stroke="#fcfcbe" d="M161 37h1m5 1h1m-8 1h1m7 0h1m-125 1h1m15 0h2m87 0h1m40 0h1m28 0h1m-175 1h1m14 0h1m91 0h1m6 0h1m-111 1h1m13 0h1m83 0h1m1 0h1m46 0h1m-51 1h1m2 0h1m14 0h1m37 0h1m-78 1h1m27 0h1m-31 2h3m90 0h1m5 0h1m1 0h1m-101 1h1m25 0h1m41 0h1m6 0h1m5 0h1m-144 1h2m1 0h1m57 0h1m69 0h1m21 0h1m11 0h1m-107 1h1m99 0h1m-159 1h1m10 0h1m117 0h1m-116 1h1m155 0h1m-174 1h1m12 0h1m2 0h1m28 0h1m96 0h1m18 0h1m-148 1h3m11 0h1m5 0h1m9 0h1m7 0h1m27 0h1m-35 1h1m21 0h1m14 0h1m16 0h1m-108 1h1m6 0h1m7 0h1m14 0h1m29 0h1m20 0h1m7 0h1m-2 1h1m-59 1h1m14 0h1m45 0h1m16 0h1m-109 1h1m44 0h1m5 0h1m38 0h1m25 0h1m5 0h1m62 0h1m-163 1h1m4 0h1m19 0h1m9 0h1m36 0h1m2 0h1m5 0h1m-102 1h2m24 0h1m3 0h1m11 0h1m1 0h2m6 0h1m36 0h1m2 0h1m74 0h1m-170 1h1m23 0h1m4 0h1m34 0h1m12 0h1m3 0h1m44 0h1m-115 1h1m12 0h1m12 0h1m15 0h1m4 0h1m2 0h1m45 0h1m10 0h1m68 0h1m9 0h1m-191 1h1m10 0h1m29 0h1m5 0h1m5 0h1m6 0h1m4 0h1m5 0h1m25 0h1m7 0h1m16 0h2m27 0h1m17 0h1m10 0h1m3 0h1m-183 1h1m18 0h1m36 0h1m10 0h1m37 0h1m5 0h1m2 0h1m52 0h2m-171 1h1m5 0h1m43 0h1m52 0h3m-104 1h1m62 0h1m54 0h1m21 0h1m50 0h1m-178 1h1m50 0h1m1 0h1m17 0h1m10 0h1m-1 1h1m-56 1h1m-51 3h2m3 0h1m7 0h1m156 0h1m-166 1h1m-6 1h1m16 0h1m168 0h1m-95 1h1m88 0h1m-178 1h1m1 0h1m2 0h1m3 0h1m2 0h1m3 0h1m69 0h1m58 0h1m-149 1h1m11 0h1m1 0h1m31 0h1m37 0h1m60 0h1m23 0h1m30 0h1m-196 1h1m3 0h1m25 0h1m9 0h1m27 0h1m4 0h1m67 0h1m23 0h1m4 0h1m5 0h1m-178 1h1m32 0h1m8 0h2m10 0h1m14 0h1m13 0h1m72 0h1m38 0h1m-201 1h1m4 0h1m7 0h1m3 0h1m39 0h1m1 0h2m14 0h1m2 0h1m121 0h1m-195 1h1m9 0h1m42 0h1m7 0h1m6 0h1m24 0h1m4 0h1m6 0h1m2 0h1m25 0h1m30 0h1m-167 1h1m3 0h1m19 0h1m4 0h1m48 0h1m25 0h1m8 0h1m24 0h1m15 0h1m39 0h1m-208 1h1m10 0h1m31 0h1m1 0h1m2 0h1m15 0h1m7 0h1m35 0h1m4 0h1m20 0h1m2 0h1m-137 1h1m47 0h1m26 0h1m6 0h1m40 0h1m25 0h1m32 0h1m7 0h1m16 0h1m-203 1h1m22 0h1m8 0h1m39 0h1m10 0h1m43 0h1m16 0h1m27 0h1m-157 1h1m17 0h1m1 0h1m7 0h1m3 0h1m22 0h1m6 0h1m4 0h1m47 0h1m3 0h2m6 0h1m14 0h1m15 0h1m-169 1h1m1 0h1m12 0h1m16 0h2m1 0h1m17 0h1m40 0h1m25 0h1m9 0h1m33 0h1m-168 1h1m4 0h2m11 0h1m3 0h1m1 0h1m6 0h1m30 0h1m24 0h1m1 0h1m2 0h1m28 0h1m14 0h1m13 0h1m2 0h1m-144 1h1m16 0h1m5 0h1m10 0h1m11 0h1m2 0h1m5 0h2m1 0h1m14 0h2m8 0h1m2 0h1m1 0h1m14 0h1m7 0h1m37 0h1m-149 1h1m3 0h1m7 0h1m22 0h1m20 0h1m27 0h1m3 0h1m11 0h1m35 0h1m22 0h1m-168 1h1m1 0h2m3 0h1m4 0h1m12 0h1m1 0h1m9 0h1m13 0h1m2 0h1m19 0h1m8 0h1m42 0h1m40 0h1m-179 1h1m13 0h1m4 0h1m42 0h1m3 0h1m78 0h1m41 0h1m-176 1h1m1 0h1m4 0h1m18 0h1m3 0h1m12 0h1m22 0h1m19 0h1m1 0h1m19 0h1m7 0h1m3 0h1m9 0h2m30 0h1m-158 1h1m5 0h1m32 0h1m1 0h1m74 0h1m13 0h1m23 0h1m-167 1h1m27 0h1m4 0h1m9 0h1m14 0h1m13 0h1m14 0h1m12 0h1m14 0h1m17 0h1m-139 1h1m3 0h1m15 0h1m11 0h1m8 0h1m1 0h1m22 0h1m88 0h1m3 0h1m-148 1h1m11 0h1m17 0h2m2 0h1m13 0h1m6 0h1m29 0h1m20 0h1m19 0h1m16 0h1m2 0h1m-152 1h1m25 0h1m1 0h2m16 0h1m1 0h1m27 0h1m5 0h1m8 0h1m4 0h2m6 0h1m28 0h1m8 0h1m1 0h1m-117 1h1m5 0h1m5 0h1m11 0h1m4 0h1m38 0h1m36 0h1m15 0h1m-143 1h1m20 0h1m1 0h1m3 0h2m25 0h1m29 0h2m5 0h1m60 0h1m-153 1h1m9 0h1m10 0h1m10 0h1m-36 1h2m27 0h1m14 0h1m1 0h1m4 0h2m16 0h1m21 0h1m59 0h1m-150 1h1m8 0h1m37 0h1m1 0h1m9 0h1m1 0h1m2 0h1m6 0h1m16 0h2m2 0h1m1 0h1m1 0h1m11 0h1m52 0h1m-162 1h2m22 0h1m13 0h1m15 0h1m8 0h1m17 0h1m23 0h1m31 0h2m-141 1h1m26 0h1m38 0h1m82 0h1m-128 1h1m42 0h1m1 0h1m10 0h1m26 0h1m26 0h1m6 0h1m19 0h2m-160 1h1m59 0h2m1 0h1m3 0h1m50 0h1m24 0h1m-145 1h1m72 0h1m6 0h2m39 0h1m-120 1h1m30 0h1m43 0h1m6 0h1m16 0h1m2 0h1m34 0h1m10 0h1m-76 1h1m38 0h1m-77 1h1m16 0h2m17 0h2m11 0h1m14 0h1m23 0h1m1 0h1m16 0h1m11 0h1m-148 1h1m1 0h1m26 0h1m32 0h1m10 0h1m1 0h1m10 0h1m3 0h1m21 0h1m-85 1h1m37 0h1m2 0h1m2 0h1m4 1h2m5 0h1m25 0h1m2 0h1m34 0h1m-103 1h1m37 0h1m35 0h1m-46 1h1m69 0h1m2 0h1m-139 1h1m33 0h1m39 0h1m68 0h1m-145 1h1m35 0h2m69 0h1m28 0h1m-135 1h2m1 0h1m96 0h1m3 0h1m12 0h1m25 0h1m-144 1h1m5 1h1m21 0h1m10 0h1m99 0h1m6 0h1m-142 1h2m99 0h1m6 0h1m10 0h1m33 0h1m-159 1h1m134 0h1m28 0h1m10 0h1m6 0h2m-126 2h1m67 1h1m-18 1h1m13 0h1m9 0h1m-97 1h1m18 0h1m94 0h1m-43 1h1m23 0h1m24 0h1m2 0h1m-125 1h1m92 0h1m15 0h2m9 0h1m17 0h1m-65 1h1m-37 1h1m-67 1h1m127 0h1m-33 1h1m-56 1h2m99 0h1m13 0h1m10 0h1m-98 1h1m18 0h1m16 0h1m13 1h1m-77 1h1m20 0h1m48 0h1m40 0h1m-127 1h1m106 0h1m3 0h1m-94 1h1m21 0h1m71 1h1m-9 1h1m9 0h1m-75 1h1m83 0h1m-38 2h1m-5 1h1m21 0h1m-9 1h1m-45 1h1m29 0h1m1 0h1m4 0h1m10 0h1m6 0h1m-79 1h1m22 1h1m46 0h1m-43 1h1m23 1h1m16 1h1m-17 1h1m13 0h1m3 0h1m16 1h1m-82 1h1m43 2h1m3 0h1m39 0h1m-74 1h1m40 0h1m9 0h2m1 0h1m-6 1h1m-52 1h1m42 0h1m6 1h1m10 0h1m2 0h1m1 0h1m-64 1h1m47 0h1m11 0h1m-14 1h1m-56 2h1m53 0h1m16 0h1m-3 1h1m-6 2h1m-1 2h1m-3 2h1m-11 2h1"/>
<path stroke="#f0f8aa" d="M48 24h1m-2 5h1m1 5h1m113 2h1m0 1h1m19 0h1m-29 1h1m9 0h1m44 0h1m-51 1h1m5 0h1m28 0h1m20 0h1m-58 1h1m7 0h1m-108 1h1m1 0h1m86 0h1m10 0h1m55 0h1m-170 1h1m2 0h1m9 0h1m86 0h1m3 0h2m7 0h1m50 0h1m2 0h1m-172 1h1m102 0h1m73 1h1m-160 1h1m69 0h1m9 0h1m7 0h1m-87 1h1m60 1h1m61 0h1m10 0h1m2 0h2m-65 1h1m59 0h1m-143 1h1m3 0h1m14 0h1m33 0h1m14 0h1m64 0h1m-73 1h1m-45 1h2m64 0h1m9 0h1m72 0h1m-117 1h1m20 0h1m68 0h1m36 0h1m-180 1h1m2 0h1m48 0h1m11 0h1m26 0h1m25 0h1m-119 1h2m7 0h1m6 0h1m1 0h2m10 0h1m9 0h2m5 0h1m4 0h1m1 0h1m1 0h1m21 0h1m5 0h1m7 0h1m-16 1h1m12 0h1m18 0h1m61 0h1m7 0h1m-175 1h1m4 0h2m29 0h1m6 0h1m68 0h1m56 0h1m-151 1h1m35 0h1m1 0h1m31 0h1m4 0h1m65 0h1m4 0h1m-114 1h1m34 0h1m5 0h1m91 0h1m-192 1h1m52 0h1m6 0h1m-35 1h1m1 0h1m32 0h1m15 0h1m16 0h1m17 0h3m51 0h2m10 0h1m1 0h1m5 0h1m5 0h1m-188 1h1m28 0h1m2 0h2m17 0h1m11 0h1m33 0h1m10 0h1m10 0h1m48 0h1m-112 1h1m2 0h4m2 0h1m17 0h1m24 0h2m3 0h1m10 0h1m57 0h1m-171 1h1m40 0h1m1 0h1m12 0h1m9 0h1m43 0h1m56 0h1m16 0h1m-184 1h1m43 0h1m33 0h1m14 0h1m5 0h1m42 0h1m-95 1h1m7 0h1m6 0h1m109 0h1m-168 1h1m24 0h1m23 0h1m21 0h2m25 0h1m9 0h1m55 0h2m13 0h1m-180 1h1m41 0h1m61 0h1m49 0h1m-169 1h1m98 1h1m92 0h2m-198 1h2m168 0h1m-174 1h1m7 0h1m1 0h1m40 0h1m-55 1h1m17 0h1m65 0h1m-79 1h1m11 0h1m-18 1h1m172 0h1m14 0h1m-175 1h1m3 0h1m158 0h1m-163 1h1m3 0h1m143 0h1m38 0h1m-198 1h1m11 0h2m71 0h1m70 0h1m41 0h2m-190 1h1m1 0h1m20 0h1m37 0h1m4 0h1m120 0h2m-194 1h1m1 0h1m2 0h1m1 0h1m1 0h1m6 0h1m53 0h1m71 0h1m20 0h1m4 0h1m24 0h1m-202 1h1m4 0h1m11 0h1m54 0h1m3 0h1m77 0h1m28 0h1m-183 1h1m8 0h1m15 0h1m8 0h1m1 0h1m18 0h1m21 0h1m73 0h1m35 0h1m-164 1h1m1 0h1m8 0h2m31 0h1m8 0h1m11 0h1m6 0h1m21 0h1m18 0h1m56 0h1m-190 1h2m12 0h1m2 0h1m13 0h1m72 0h1m26 0h1m25 0h1m-168 1h1m7 0h2m14 0h1m3 0h1m3 0h1m6 0h1m15 0h1m3 0h1m1 0h1m3 0h1m2 0h1m3 0h1m34 0h1m9 0h1m3 0h1m3 0h2m1 0h1m1 0h1m57 0h1m-182 1h1m14 0h1m4 0h2m7 0h1m8 0h1m29 0h1m61 0h1m3 0h1m47 0h1m12 0h2m-198 1h1m25 0h1m27 0h1m13 0h1m10 0h1m31 0h1m10 0h1m6 0h1m45 0h1m1 0h1m-186 1h1m9 0h1m20 0h1m5 0h1m9 0h1m9 0h1m3 0h1m11 0h2m8 0h1m3 0h1m13 0h1m44 0h1m13 0h1m8 0h2m6 0h1m-157 1h1m3 0h1m3 0h1m6 0h1m6 0h1m6 0h1m5 0h1m3 0h1m5 0h1m39 0h1m32 0h1m46 0h2m-170 1h1m1 0h1m1 0h1m15 0h1m7 0h1m9 0h1m19 0h1m10 0h2m4 0h1m26 0h1m-117 1h1m15 0h1m5 0h1m8 0h1m2 0h1m4 0h1m2 0h2m9 0h2m30 0h2m3 0h1m17 0h1m57 0h2m-167 1h1m11 0h1m7 0h1m13 0h1m1 0h1m22 0h1m32 0h2m37 0h1m19 0h1m23 0h1m-176 1h1m42 0h1m3 0h2m1 0h1m1 0h3m6 0h2m6 0h1m6 0h1m25 0h1m13 0h3m12 0h1m10 0h1m21 0h1m-151 1h1m12 0h1m22 0h1m1 0h1m3 0h1m38 0h1m2 0h1m1 0h1m14 0h1m18 0h1m2 0h1m2 0h1m14 0h1m10 0h1m-136 1h1m15 0h1m4 0h1m5 0h1m32 0h1m3 0h1m2 0h1m19 0h1m14 0h1m2 0h2m-146 1h1m10 0h1m23 0h1m12 0h1m4 0h2m2 0h1m7 0h1m2 0h3m31 0h1m4 0h1m52 0h1m-110 1h1m16 0h1m27 0h1m1 0h3m31 0h2m7 0h1m5 0h1m-147 1h1m17 0h1m6 0h1m27 0h1m16 0h1m33 0h1m2 0h1m20 0h1m2 0h1m25 0h1m-137 1h1m15 0h1m7 0h2m4 0h2m1 0h1m4 0h1m2 0h1m3 0h1m29 0h2m7 0h1m10 0h1m2 0h1m12 0h1m9 0h1m5 0h1m3 0h1m4 0h1m4 0h1m2 0h1m6 0h1m-172 1h1m11 0h1m39 0h1m1 0h1m1 0h1m3 0h1m5 0h1m22 0h1m7 0h1m44 0h1m8 0h1m1 0h1m3 0h1m12 0h2m-164 1h3m47 0h1m2 0h1m33 0h1m3 0h1m5 0h1m36 0h1m2 0h1m-100 1h1m8 0h1m2 0h1m3 0h1m14 0h2m11 0h1m5 0h1m3 0h1m1 0h1m1 0h1m2 0h1m3 0h1m37 0h1m-99 1h1m6 0h1m7 0h1m7 0h1m5 0h1m1 0h1m2 0h1m18 0h1m1 0h1m4 0h1m4 0h1m5 0h1m2 0h1m33 0h2m2 0h1m-158 1h1m6 0h1m3 0h1m1 0h1m16 0h1m21 0h1m4 0h1m18 0h1m1 0h1m8 0h1m4 0h1m16 0h1m47 0h1m-146 1h1m25 0h1m7 0h1m29 0h3m12 0h1m9 0h2m2 0h2m7 0h1m5 0h1m-92 1h1m16 0h1m29 0h1m15 0h1m15 0h1m6 0h1m21 0h1m8 0h1m-77 1h1m9 0h1m2 0h2m12 0h1m64 0h1m-160 1h1m59 0h1m3 0h1m2 0h2m4 0h2m1 0h1m3 0h1m5 0h1m16 0h1m8 0h1m40 0h1m6 0h1m-145 1h1m7 0h1m8 0h1m18 0h1m22 0h2m3 0h1m3 0h1m28 0h1m7 0h1m2 0h1m3 0h1m-96 1h1m20 0h2m6 0h1m21 0h1m1 0h1m7 0h1m9 0h1m4 0h1m4 0h1m22 0h1m-135 1h1m1 0h1m3 0h1m87 0h1m-46 1h2m41 0h1m20 0h1m37 0h2m-122 1h1m45 0h1m4 0h1m52 0h1m6 0h1m14 0h1m-153 1h1m32 0h1m36 0h1m8 0h1m65 0h1m-147 1h1m31 0h1m68 0h1m14 0h1m7 0h1m-90 1h1m25 0h1m22 0h1m10 0h1m2 0h1m1 0h1m18 0h1m29 0h1m-100 1h1m12 0h1m-29 1h1m1 0h1m12 0h1m8 0h1m2 0h1m83 0h1m-133 1h1m3 0h1m6 0h1m12 0h1m15 0h1m23 0h1m44 0h1m17 0h1m-129 1h1m68 0h1m-27 1h1m26 0h1m1 0h1m40 0h1m11 0h1m-104 1h1m10 0h1m95 0h1m-11 1h1m-108 1h1m28 0h1m4 0h1m20 0h1m100 1h1m2 0h1m-26 1h1m16 0h1m-159 1h1m6 0h1m91 0h1m27 0h1m6 0h1m-128 2h1m93 0h1m6 0h1m1 0h1m38 0h1m7 0h1m4 0h1m-16 2h1m3 0h1m-25 1h1m19 0h1m-12 1h1m13 0h1m8 0h1m5 0h1m-127 1h1m55 0h1m12 0h1m19 0h1m9 0h1m6 0h1m7 0h1m-138 1h1m22 0h1m10 0h1m57 0h1m2 0h1m51 0h1m-27 1h1m-39 1h1m7 0h1m-13 1h1m20 0h1m-88 2h1m75 0h1m-26 2h1m45 0h1m-37 1h1m10 0h1m-15 1h1m39 0h1m9 0h1m-18 1h1m12 0h1m-13 1h1m8 0h1m33 0h1m-32 1h1m-43 1h1m12 0h1m5 0h1m11 0h1m14 0h1m27 0h1m-133 1h2m68 0h1m7 1h1m2 0h1m-69 1h1m66 0h1m21 3h1m23 0h1m-42 3h1m37 0h1m-16 2h1m-5 1h1m23 0h1m-28 2h1m-59 1h1m12 0h1m47 0h1m10 0h1m-14 1h1m8 0h1m-62 2h1m3 0h1m43 0h1m-48 1h1m58 0h1m3 2h1m-2 1h1m-12 5h1m2 2h1m-7 1h1m1 0h1"/>
<path stroke="#dcf096" d="M47 17h2m113 19h1m-5 1h2m6 0h1m13 0h1m-18 1h1m16 0h1m2 0h1m4 0h1m-141 1h1m110 0h1m9 0h1m10 0h1m20 0h1m-43 1h1m9 0h1m2 0h1m36 0h1m-162 1h2m103 0h1m2 0h1m25 0h1m19 0h1m9 0h1m2 0h1m-156 1h1m81 0h1m21 0h1m18 0h1m13 0h1m4 0h1m-140 1h1m61 0h1m10 0h1m2 0h1m5 0h1m13 0h1m59 0h1m-162 1h1m4 0h2m81 0h1m-88 1h1m79 0h1m72 0h1m-146 1h1m66 0h1m14 0h1m52 0h1m16 0h1m6 0h1m-17 1h1m11 0h1m-178 1h1m80 0h1m8 0h1m-74 1h2m59 0h1m2 0h1m4 0h1m2 0h1m62 0h1m25 0h1m7 0h1m-183 1h1m11 0h1m81 0h1m71 0h1m-109 1h1m-19 1h1m2 0h1m14 0h1m13 0h1m17 0h2m4 0h1m-87 1h1m4 0h1m4 0h1m16 0h1m16 0h1m32 0h1m36 0h1m56 0h1m-170 1h1m25 0h1m62 0h1m11 0h1m4 0h1m-110 1h1m4 0h2m4 0h1m9 0h1m5 0h1m6 0h2m1 0h1m5 0h1m1 0h1m28 0h1m12 0h1m21 0h1m66 0h1m-142 1h1m1 0h1m6 0h1m10 0h1m39 0h1m5 0h1m7 0h1m1 0h1m-92 1h1m26 0h1m45 0h1m-79 1h1m13 0h1m15 0h1m7 0h1m2 0h1m31 0h1m29 0h1m51 0h1m15 0h1m-165 1h1m5 0h1m8 0h1m10 0h1m1 0h2m19 0h1m10 0h1m37 0h2m-125 1h1m9 0h1m22 0h1m1 0h1m5 0h1m14 0h1m14 0h1m14 0h1m8 0h1m1 0h1m4 0h3m17 0h1m47 0h1m-170 1h1m10 0h1m9 0h1m58 0h1m1 0h1m23 0h1m3 0h1m1 0h1m1 0h1m1 0h2m8 0h1m48 0h1m-164 1h1m17 0h2m21 0h1m1 0h1m3 0h1m13 0h1m30 0h1m2 0h2m3 0h1m61 0h1m-165 1h1m13 0h1m8 0h2m5 0h1m13 0h1m17 0h1m2 0h1m30 0h1m86 0h1m3 0h1m-195 1h1m2 0h1m10 0h1m16 0h1m5 0h1m5 0h1m1 0h1m5 0h1m6 0h1m42 0h1m4 0h1m8 0h1m7 0h1m57 0h1m-163 1h1m13 0h1m35 0h1m6 0h2m24 0h1m23 0h1m-115 1h1m60 0h1m124 0h1m-194 1h1m9 0h1m73 0h1m22 0h1m10 0h1m36 0h1m-166 1h1m64 0h1m14 0h1m14 0h1m12 0h1m94 0h1m-202 1h2m103 0h1m69 0h1m-169 1h1m41 0h1m126 0h1m-179 1h1m3 0h1m14 0h1m95 0h1m22 0h1m-131 1h1m13 0h1m94 0h2m-101 1h1m2 0h1m54 0h1m92 0h1m-171 1h1m3 0h1m2 0h1m8 0h1m101 0h2m-106 1h1m3 0h1m68 0h1m61 0h1m10 0h1m-142 1h1m5 0h1m114 0h1m27 0h1m-161 1h1m1 0h1m1 0h1m35 0h1m24 0h1m1 0h1m1 0h1m5 0h1m9 0h1m63 0h1m44 0h1m-196 1h1m3 0h1m5 0h1m2 0h1m8 0h1m10 0h2m19 0h1m5 0h1m26 0h1m92 0h1m13 0h2m-175 1h1m17 0h3m18 0h2m9 0h2m5 0h3m-84 1h1m12 0h1m50 0h2m8 0h1m3 0h1m20 0h1m6 0h1m1 0h1m40 0h1m12 0h1m-164 1h1m11 0h1m27 0h1m36 0h1m2 0h2m3 0h1m3 0h2m65 0h1m3 0h1m15 0h1m6 0h1m-188 1h1m3 0h2m5 0h1m14 0h1m15 0h1m27 0h1m9 0h1m6 0h1m38 0h1m52 0h1m9 0h1m13 0h2m-192 1h1m4 0h2m8 0h1m8 0h1m23 0h2m10 0h1m12 0h1m3 0h1m3 0h1m4 0h1m31 0h1m12 0h1m59 0h1m-194 1h2m12 0h1m26 0h1m22 0h1m12 0h1m1 0h1m1 0h1m8 0h1m3 0h1m26 0h1m14 0h1m27 0h1m4 0h1m-186 1h1m2 0h1m22 0h1m8 0h1m4 0h1m1 0h1m8 0h1m17 0h1m6 0h2m5 0h1m6 0h2m3 0h1m14 0h1m51 0h1m5 0h1m-143 1h2m1 0h1m4 0h2m5 0h1m1 0h1m12 0h1m2 0h1m2 0h3m9 0h1m3 0h1m9 0h1m7 0h1m11 0h1m27 0h1m15 0h1m1 0h1m-144 1h1m16 0h1m2 0h1m3 0h1m2 0h1m10 0h1m29 0h1m11 0h1m33 0h1m17 0h1m26 0h1m-146 1h1m4 0h1m3 0h1m3 0h1m4 0h1m5 0h1m4 0h1m5 0h1m9 0h1m5 0h1m14 0h1m12 0h1m1 0h1m18 0h1m18 0h1m21 0h1m11 0h1m6 0h1m-131 1h1m1 0h1m5 0h1m14 0h1m19 0h1m2 0h1m56 0h1m2 0h1m8 0h1m8 0h2m-162 1h1m6 0h1m7 0h1m7 0h1m25 0h2m9 0h1m9 0h1m4 0h1m1 0h1m4 0h2m4 0h1m30 0h1m6 0h1m2 0h1m9 0h1m3 0h1m-129 1h1m3 0h1m7 0h1m14 0h2m2 0h1m9 0h1m12 0h1m1 0h1m13 0h1m36 0h1m24 0h1m1 0h1m11 0h1m31 0h1m-194 1h1m15 0h2m8 0h1m45 0h1m1 0h2m13 0h1m38 0h1m20 0h1m15 0h1m-166 1h1m3 0h1m9 0h1m16 0h2m3 0h1m11 0h1m1 0h1m27 0h1m26 0h1m27 0h1m14 0h1m3 0h1m-158 1h1m7 0h1m27 0h1m10 0h1m5 0h1m3 0h1m26 0h1m26 0h1m-105 1h1m2 0h1m22 0h1m2 0h1m15 0h1m4 0h1m12 0h1m7 0h1m2 0h1m52 0h1m1 0h1m10 0h1m17 0h1m-162 1h1m1 0h1m15 0h1m2 0h1m5 0h1m1 0h1m1 0h1m4 0h1m11 0h1m15 0h1m19 0h1m1 0h1m53 0h1m10 0h3m-148 1h1m34 0h1m18 0h1m6 0h1m18 0h1m8 0h1m4 0h1m28 0h1m7 0h1m4 0h1m-140 1h1m21 0h1m1 0h1m5 0h1m17 0h1m21 0h1m18 0h1m24 0h1m1 0h3m8 0h1m5 0h1m6 0h1m3 0h1m-132 1h2m4 0h1m25 0h1m3 0h1m34 0h1m15 0h1m23 0h1m8 0h1m5 0h1m3 0h1m-149 1h1m18 0h1m5 0h1m6 0h1m8 0h1m13 0h1m16 0h1m2 0h3m10 0h1m3 0h2m-98 1h1m36 0h1m3 0h1m31 0h1m10 0h1m53 0h1m15 0h1m-156 1h1m13 0h1m1 0h1m24 0h1m4 0h1m4 0h1m6 0h1m8 0h1m1 0h1m9 0h1m7 0h2m1 0h1m45 0h1m-136 1h1m3 0h1m18 0h2m15 0h1m2 0h1m1 0h1m1 0h1m2 0h1m4 0h1m9 0h1m40 0h1m-82 1h1m10 0h1m29 0h1m17 0h1m7 0h1m12 0h1m5 0h1m18 0h1m25 0h1m-154 1h1m17 0h1m18 0h1m5 0h1m43 0h1m60 0h1m7 0h1m-161 1h1m59 0h1m4 0h1m37 0h1m3 0h1m2 0h1m7 0h1m3 0h1m22 0h1m-75 1h1m3 0h1m6 0h1m12 0h1m2 0h1m19 0h1m11 0h1m-116 1h1m9 0h1m8 0h1m16 0h1m26 0h1m20 0h1m62 0h1m-153 1h1m3 0h1m1 0h1m4 0h1m3 0h1m6 0h1m50 0h1m13 0h1m12 0h1m7 0h1m-106 1h1m41 0h1m22 0h1m1 0h1m1 0h1m2 0h1m9 0h1m15 0h1m1 0h2m2 0h1m19 0h1m22 0h2m-122 1h1m43 0h2m1 0h1m32 0h1m35 0h1m-149 1h1m74 0h1m9 0h1m2 0h1m1 0h1m27 0h1m10 0h1m23 0h1m-153 1h1m34 0h1m41 0h1m9 0h3m19 0h1m-113 1h1m61 0h2m3 0h1m22 0h1m6 0h1m2 0h1m11 0h1m8 0h1m-97 1h1m5 0h1m3 0h1m24 0h1m3 0h1m4 0h1m4 0h1m2 0h1m16 0h1m5 0h1m1 0h2m44 0h1m-123 1h1m10 0h1m8 0h1m21 0h1m8 0h1m7 0h1m2 0h1m2 0h1m10 0h1m-92 1h1m13 0h1m9 0h1m3 0h1m7 0h1m4 0h1m37 0h1m51 0h1m5 0h1m11 0h1m-150 1h1m23 0h1m45 0h1m2 0h1m4 0h2m-61 1h1m22 0h1m26 0h1m4 0h1m26 0h1m-98 1h1m1 0h1m12 0h1m15 0h1m119 0h1m17 0h1m-144 1h1m4 0h1m28 0h1m7 0h1m52 0h1m36 0h1m-157 1h1m102 0h1m18 0h1m11 0h1m37 0h1m7 0h1m1 0h1m-179 1h1m14 0h1m46 0h1m27 0h1m18 1h1m55 0h1m-47 1h1m17 0h1m15 0h1m-10 1h1m-50 1h1m28 0h1m5 0h1m26 0h1m-67 1h1m25 0h1m4 0h1m8 0h1m37 0h1m-126 1h1m56 0h1m49 0h1m-29 1h1m3 0h1m1 0h2m9 0h1m-137 1h1m160 0h1m4 0h1m-167 1h1m34 0h1m64 0h1m20 0h1m23 0h1m14 1h1m-129 1h1m31 0h1m10 0h1m46 1h1m-68 2h1m20 0h1m75 0h1m8 0h1m-87 1h1m23 0h1m20 0h1m14 0h1m7 0h1m-44 1h1m-84 1h1m28 0h1m18 0h1m54 0h1m15 0h1m7 0h1m-117 1h1m94 0h1m26 0h1m-125 1h1m26 0h1m33 0h1m13 0h1m20 0h1m27 0h1m-65 1h1m42 0h1m-110 1h1m55 1h1m35 0h1m22 0h1m-115 1h1m64 0h1m-24 1h1m22 0h1m22 0h1m-86 1h1m52 0h1m37 0h1m16 0h1m-92 1h1m14 0h2m44 0h1m27 0h1m-44 1h1m24 0h1m4 0h1m14 1h1m24 0h1m-34 2h1m32 0h1m-58 2h1m2 0h2m8 0h1m1 1h1m-9 1h2m20 0h1m-42 1h1m19 0h1m13 0h1m-43 1h1m47 0h2m4 0h1m2 0h1m-51 1h1m23 0h1m15 0h1m5 0h2m-53 1h1m1 1h1m45 0h1m-4 1h1m-2 1h1m1 1h1m9 0h1m-66 1h1m51 0h1m11 1h1m1 2h1m0 1h1m-15 4h1m8 0h1m-10 2h1m1 0h1m0 3h1"/>
<path stroke="#c8e882" d="M46 16h1m-3 7h1m2 4h1m-3 1h1m2 1h2m1 3h1m108 5h1m18 0h1m30 0h1m-33 1h2m13 0h1m14 0h1m7 0h1m-51 1h1m15 0h1m-32 1h1m19 0h1m17 0h1m3 0h1m-56 1h1m6 0h1m8 0h2m1 0h1m2 0h1m7 0h1m37 0h1m15 0h1m-82 1h1m21 0h1m5 0h1m20 0h1m25 0h1m-159 1h1m2 0h1m62 0h1m28 0h1m-102 1h1m9 0h1m3 0h1m69 0h1m28 0h1m-108 1h1m5 0h1m1 0h1m57 0h2m29 0h1m29 0h1m42 0h1m-169 1h1m1 0h2m4 0h1m53 0h1m106 0h1m-186 1h1m18 0h1m57 0h3m10 0h1m17 0h1m-105 1h1m11 0h1m72 0h1m22 0h1m62 0h1m-173 1h1m17 0h1m7 0h1m44 0h1m-55 1h1m1 0h1m55 0h1m11 0h2m55 0h1m29 0h1m9 0h1m-101 1h1m1 0h2m86 0h1m-166 1h1m11 0h3m23 0h1m6 0h1m1 0h1m8 0h1m20 0h1m4 0h1m7 0h1m-94 1h1m1 0h1m2 0h1m3 0h1m14 0h1m27 0h1m21 0h1m18 0h1m70 0h1m1 0h1m7 0h1m-150 1h2m9 0h1m43 0h1m18 0h1m18 0h2m-116 1h1m9 0h1m34 0h1m1 0h1m3 0h1m5 0h1m46 0h1m7 0h1m-114 1h1m20 0h1m67 0h1m8 0h1m6 0h2m5 0h1m59 0h1m-135 1h1m6 0h1m6 0h1m5 0h1m13 0h2m2 0h1m12 0h1m16 0h1m10 0h1m48 0h1m1 0h1m-164 1h1m14 0h1m1 0h1m27 0h1m1 0h1m19 0h1m18 0h1m2 0h1m7 0h1m1 0h1m59 0h1m-166 1h1m17 0h1m4 0h1m8 0h2m14 0h1m27 0h1m4 0h1m13 0h1m3 0h1m3 0h1m7 0h1m2 0h1m6 0h1m69 0h2m-169 1h1m3 0h1m22 0h1m13 0h1m7 0h1m2 0h1m7 0h1m11 0h1m29 0h1m-119 1h1m1 0h1m35 0h1m5 0h1m8 0h1m4 0h1m8 0h1m10 0h1m3 0h1m17 0h1m10 0h1m-115 1h1m3 0h1m5 0h2m3 0h1m14 0h1m14 0h1m26 0h2m20 0h1m10 0h1m13 0h1m37 0h1m-158 1h1m13 0h1m22 0h1m3 0h2m1 0h1m7 0h1m3 0h1m2 0h1m3 0h1m44 0h1m13 0h1m-117 1h1m1 0h1m10 0h1m38 0h1m18 0h1m12 0h1m10 0h1m6 0h1m16 0h1m66 0h1m2 0h1m-200 1h1m6 0h1m2 0h2m33 0h1m23 0h1m24 0h1m21 0h1m-108 1h1m2 0h1m4 0h1m1 0h1m32 0h1m16 0h1m53 0h1m1 0h1m-110 1h1m27 0h1m3 0h1m20 0h1m6 0h1m124 0h1m-133 1h1m-63 1h1m177 0h1m-178 1h1m3 0h1m8 0h1m54 0h1m36 0h1m4 0h1m65 0h1m-170 1h1m151 0h1m-117 1h1m23 0h1m110 0h1m-73 1h1m3 0h1m-119 1h1m111 0h1m-112 1h1m20 0h1m57 0h1m34 0h1m31 0h1m-142 1h1m18 0h1m62 0h1m75 0h1m-157 1h1m16 0h1m43 0h1m3 0h1m9 0h1m2 0h1m21 0h1m23 0h1m4 0h1m2 0h1m-117 1h1m44 0h1m1 0h1m10 0h3m97 0h1m-174 1h1m4 0h1m26 0h1m17 0h1m1 0h1m4 0h1m3 0h1m10 0h1m8 0h2m15 0h1m9 0h1m56 0h1m-160 1h1m19 0h1m4 0h1m19 0h3m1 0h1m47 0h1m38 0h1m20 0h1m4 0h1m10 0h1m-156 1h2m6 0h1m32 0h1m4 0h1m17 0h1m14 0h1m2 0h2m3 0h1m12 0h1m8 0h1m55 0h2m-187 1h2m17 0h1m28 0h1m8 0h1m18 0h1m9 0h1m23 0h1m62 0h1m10 0h1m-194 1h1m3 0h1m7 0h1m1 0h1m74 0h1m3 0h1m2 0h2m11 0h1m12 0h1m5 0h1m-131 1h1m29 0h1m3 0h1m12 0h1m20 0h1m10 0h3m16 0h1m1 0h1m30 0h1m29 0h1m24 0h1m-187 1h1m1 0h1m2 0h2m5 0h1m6 0h1m6 0h1m5 0h1m15 0h1m19 0h1m32 0h1m15 0h1m3 0h1m6 0h1m11 0h1m2 0h1m5 0h1m29 0h1m4 0h2m-172 1h1m5 0h1m1 0h1m5 0h1m4 0h1m13 0h1m7 0h1m2 0h1m12 0h1m9 0h1m16 0h2m24 0h1m12 0h1m8 0h1m37 0h1m11 0h1m-184 1h1m5 0h1m6 0h1m1 0h1m11 0h1m1 0h1m3 0h1m51 0h1m73 0h1m-168 1h2m19 0h1m18 0h1m4 0h1m27 0h1m13 0h1m49 0h1m-120 1h1m26 0h1m2 0h1m4 0h1m24 0h1m11 0h1m11 0h1m5 0h1m1 0h1m18 0h1m2 0h2m56 0h1m-190 1h2m18 0h1m18 0h1m5 0h1m11 0h1m3 0h1m6 0h1m2 0h1m2 0h1m3 0h1m48 0h1m1 0h1m14 0h1m22 0h1m-167 1h1m2 0h1m3 0h2m18 0h1m7 0h1m2 0h1m11 0h1m24 0h2m1 0h1m5 0h1m20 0h1m18 0h2m12 0h1m7 0h1m19 0h1m-178 1h1m9 0h1m19 0h3m35 0h2m12 0h1m2 0h1m11 0h1m4 0h1m30 0h1m25 0h1m4 0h1m-140 1h1m4 0h1m7 0h1m15 0h2m3 0h1m3 0h1m9 0h1m5 0h1m6 0h1m67 0h1m-137 1h1m5 0h1m1 0h1m19 0h1m8 0h2m5 0h1m12 0h1m4 0h1m2 0h1m14 0h1m47 0h1m5 0h1m7 0h1m-141 1h1m24 0h1m7 0h1m2 0h1m3 0h1m8 0h1m20 0h1m1 0h3m2 0h1m36 0h1m4 0h1m7 0h1m-132 1h1m33 0h2m6 0h1m26 0h1m14 0h1m34 0h1m2 0h2m8 0h1m6 0h1m9 0h1m-156 1h1m19 0h3m6 0h1m4 0h1m6 0h1m3 0h1m4 0h1m4 0h1m1 0h1m4 0h1m17 0h1m3 0h1m13 0h1m20 0h1m3 0h1m20 0h1m-142 1h1m47 0h1m16 0h1m3 0h1m11 0h1m5 0h1m52 0h1m1 0h1m1 0h1m-132 1h1m9 0h1m29 0h1m8 0h1m3 0h1m13 0h4m19 0h1m16 0h1m17 0h1m8 0h1m-142 1h1m10 0h1m1 0h2m23 0h1m5 0h1m83 0h1m-144 1h1m4 0h1m13 0h1m4 0h1m1 0h1m27 0h1m4 0h1m6 0h2m9 0h1m1 0h1m10 0h1m3 0h1m18 0h1m30 0h1m-149 1h1m8 0h1m13 0h1m3 0h1m3 0h1m3 0h1m5 0h1m2 0h1m18 0h2m1 0h1m1 0h1m9 0h1m2 0h1m3 0h1m4 0h1m14 0h1m31 0h1m9 0h1m19 0h1m-136 1h2m10 0h1m2 0h1m1 0h1m7 0h1m1 0h1m4 0h2m1 0h1m17 0h1m6 0h1m4 0h2m7 0h1m28 0h1m19 0h2m7 0h1m2 0h1m-163 1h1m6 0h1m31 0h1m12 0h1m2 0h1m12 0h1m13 0h1m6 0h2m2 0h1m15 0h1m-88 1h1m3 0h1m10 0h1m10 0h1m4 0h1m8 0h1m6 0h1m4 0h1m4 0h2m1 0h1m10 0h1m25 0h1m-119 1h1m6 0h1m30 0h1m13 0h1m3 0h1m11 0h1m1 0h1m12 0h1m1 0h2m8 0h1m1 0h1m16 0h1m40 0h1m-146 1h1m9 0h1m6 0h1m17 0h1m8 0h1m9 0h1m18 0h1m2 0h1m5 0h1m2 0h1m7 0h1m1 0h1m1 0h1m4 0h2m1 0h1m9 0h1m1 0h1m26 0h2m-155 1h1m19 0h1m6 0h1m63 0h1m2 0h1m5 0h1m1 0h1m51 0h1m6 0h1m-115 1h1m36 0h1m12 0h1m5 0h1m10 0h1m35 0h1m2 0h1m-153 1h1m14 0h1m40 0h1m20 0h1m27 0h1m-56 1h2m2 0h1m14 0h1m8 0h1m62 0h1m11 0h1m-151 1h1m1 0h1m7 0h1m9 0h1m11 0h1m8 0h2m12 0h2m17 0h1m13 0h1m20 0h1m29 0h1m15 0h1m-158 1h1m32 0h1m18 0h1m45 0h1m2 0h2m50 0h1m1 0h1m-124 1h1m2 0h1m16 0h1m8 0h1m7 0h1m16 0h1m5 0h2m8 0h1m12 0h1m33 0h1m-140 1h1m8 0h1m7 0h1m32 0h1m10 0h1m15 0h1m5 0h1m4 0h1m15 0h1m3 0h1m3 0h1m32 0h1m-138 1h1m9 0h1m22 0h1m16 0h1m13 0h1m2 0h1m11 0h1m35 0h1m10 0h1m14 0h1m-149 1h1m22 0h1m16 0h1m113 0h1m12 0h1m-158 1h1m6 0h1m1 0h1m6 0h1m74 0h1m20 0h1m8 0h1m24 0h1m6 0h1m-137 1h1m8 0h1m4 0h1m5 0h1m34 0h1m20 0h1m18 0h1m27 0h1m-138 1h1m107 0h1m23 0h1m4 0h1m-126 1h1m48 0h1m6 0h1m86 0h1m-96 1h3m35 0h1m3 0h1m39 0h1m14 0h1m4 0h1m-168 1h1m8 0h2m8 0h1m16 0h1m73 0h1m33 0h1m33 0h1m-170 1h1m124 0h1m-125 1h1m69 0h1m18 0h1m-94 1h1m16 0h1m17 0h1m95 0h1m5 0h1m6 0h1m25 0h1m-101 1h1m23 0h1m44 0h1m1 0h1m7 0h1m2 0h1m-31 1h1m36 0h1m3 0h1m-148 1h1m66 0h1m75 0h1m-125 2h1m51 0h1m62 0h1m-32 1h1m-103 1h1m70 0h1m21 0h1m7 0h1m18 0h1m-27 1h1m44 1h1m3 0h1m-60 1h1m-79 1h1m45 0h1m35 0h1m52 0h1m-90 1h1m7 0h1m50 0h1m26 0h1m-108 1h1m22 0h1m6 0h1m18 0h1m21 0h1m24 0h1m10 0h1m-36 1h1m2 0h2m8 0h1m-106 1h1m86 0h1m22 0h1m2 0h1m-65 1h1m6 0h1m0 1h1m72 1h1m-26 1h1m26 0h1m-70 1h1m1 0h1m18 0h1m13 0h1m24 0h1m-82 1h1m63 0h1m-17 1h1m-93 1h1m16 0h1m64 0h1m23 2h1m-23 1h1m17 0h1m-12 1h1m24 0h1m-57 1h1m9 0h1m27 0h1m-29 1h1m38 1h1m16 0h1m-28 1h1m5 0h1m-8 1h1m21 0h1m-32 1h1m21 0h1m-62 1h1m64 0h1m-3 1h1m-13 1h1m1 0h1m5 1h2m4 0h2m3 0h1m-73 1h1m61 0h1m1 1h1m-59 1h1m47 0h1m13 1h1m-15 1h1m12 0h1m0 1h2m-4 1h1m-12 5h1m-2 1h1m0 4h1"/>
<path stroke="#afe173" d="M46 15h1m0 3h1m-5 8h1m3 0h1m-4 2h1m3 0h1m-4 2h2m2 1h1m-4 5h1m7 0h1m2 0h1m103 0h1m-112 1h1m106 0h1m4 0h1m4 0h1m13 0h1m-23 1h1m16 0h1m18 0h1m-44 1h1m3 0h1m14 0h1m17 0h1m5 0h1m-153 1h1m1 0h1m102 0h1m18 0h1m-124 1h1m13 0h1m90 0h1m21 0h1m5 0h1m6 0h1m-142 1h1m2 0h1m91 0h1m23 0h1m8 0h1m52 0h1m-161 1h1m83 0h1m9 0h1m2 0h1m-115 1h1m17 0h1m1 0h1m88 0h2m6 0h1m-122 1h2m83 0h1m9 0h1m-95 1h1m105 0h1m6 0h1m50 0h1m-151 1h1m5 0h1m55 0h1m6 0h2m4 0h1m82 0h1m-171 1h2m178 0h1m-168 1h1m4 0h1m84 0h1m6 0h1m57 0h1m-167 1h1m4 0h1m6 0h1m1 0h1m47 0h1m10 0h1m26 0h2m39 0h1m33 0h1m-167 1h1m1 0h1m8 0h1m2 0h1m6 0h1m53 0h1m8 0h1m61 0h1m32 0h1m-183 1h1m3 0h1m8 0h1m7 0h1m3 0h1m150 0h1m4 0h1m-180 1h1m3 0h2m10 0h1m9 0h1m4 0h1m19 0h1m1 0h1m123 0h1m-182 1h1m11 0h1m8 0h1m30 0h1m7 0h1m43 0h1m4 0h1m-66 1h1m8 0h1m22 0h1m4 0h1m19 0h2m1 0h1m2 0h2m68 0h1m-164 1h1m15 0h1m6 0h1m2 0h1m10 0h1m1 0h1m22 0h2m21 0h1m5 0h1m-106 1h1m18 0h1m21 0h1m52 0h1m6 0h1m13 0h1m6 0h2m66 0h1m-185 1h1m12 0h1m5 0h1m1 0h1m45 0h1m7 0h1m7 0h1m2 0h1m14 0h1m7 0h2m1 0h1m52 0h1m7 0h1m7 0h2m-137 1h1m21 0h1m1 0h1m1 0h1m14 0h1m7 0h1m1 0h1m3 0h1m7 0h1m60 0h1m-175 1h1m17 0h2m30 0h1m13 0h1m8 0h1m16 0h1m8 0h1m22 0h1m2 0h1m-128 1h1m2 0h1m2 0h1m2 0h1m2 0h1m11 0h1m23 0h1m4 0h1m8 0h1m17 0h1m9 0h1m4 0h1m11 0h1m11 0h1m7 0h1m39 0h1m6 0h1m25 0h1m-192 1h2m10 0h1m2 0h2m11 0h1m16 0h1m3 0h1m19 0h2m3 0h2m33 0h1m10 0h1m43 0h1m-157 1h1m47 0h1m12 0h1m12 0h1m20 0h1m-95 1h1m3 0h1m5 0h1m1 0h1m18 0h1m9 0h2m3 0h1m2 0h1m7 0h1m11 0h1m81 0h1m8 0h1m12 0h1m-155 1h3m1 0h1m10 0h1m12 0h2m41 0h1m10 0h1m3 0h1m1 0h1m6 0h1m-113 1h1m1 0h1m38 0h1m5 0h1m8 0h1m4 0h1m7 0h3m25 0h2m1 0h1m-103 1h1m2 0h1m21 0h1m37 0h2m28 0h1m91 0h1m-192 1h1m12 0h1m55 0h1m106 0h1m13 0h2m-194 1h1m9 0h1m5 0h2m2 0h1m90 0h2m-119 1h1m4 0h1m7 0h1m3 0h1m32 0h1m26 0h1m107 0h1m3 0h1m-185 1h2m2 0h1m2 0h1m3 0h1m2 0h1m78 0h1m19 0h1m1 0h1m65 0h1m-186 1h2m4 0h1m8 0h1m4 0h2m29 0h1m26 0h1m37 0h2m17 0h1m50 0h1m-186 1h1m78 0h1m9 0h1m-89 1h1m105 0h1m29 0h1m-138 1h1m3 0h1m6 0h1m10 0h1m56 0h1m8 0h1m25 0h1m48 0h1m-146 1h2m2 0h1m50 0h1m8 0h1m19 0h1m39 0h1m31 0h1m24 0h1m-145 1h1m31 0h1m14 0h2m6 0h1m-110 1h1m8 0h1m14 0h1m16 0h1m3 0h1m8 0h1m90 0h1m27 0h1m-172 1h1m1 0h1m15 0h1m11 0h1m2 0h2m15 0h2m3 0h1m2 0h1m42 0h1m1 0h1m15 0h1m17 0h2m1 0h1m7 0h1m34 0h1m-168 1h1m1 0h1m6 0h1m17 0h1m35 0h1m2 0h1m2 0h1m20 0h1m5 0h1m30 0h1m24 0h1m-165 1h1m1 0h1m8 0h1m47 0h1m3 0h1m11 0h1m19 0h1m16 0h1m-119 1h1m5 0h1m2 0h1m22 0h1m6 0h1m20 0h1m3 0h1m7 0h1m3 0h3m9 0h1m8 0h1m9 0h1m22 0h1m9 0h1m2 0h1m14 0h1m-159 1h1m47 0h1m2 0h1m7 0h1m7 0h2m4 0h1m21 0h1m12 0h1m2 0h1m33 0h1m4 0h1m33 0h1m9 0h1m-185 1h2m14 0h1m13 0h1m9 0h1m8 0h2m2 0h1m26 0h1m4 0h1m15 0h1m22 0h1m60 0h1m-193 1h1m18 0h1m4 0h1m4 0h2m6 0h1m8 0h1m45 0h1m15 0h1m13 0h2m27 0h1m24 0h1m-178 1h1m1 0h1m13 0h1m26 0h1m2 0h1m7 0h1m12 0h1m1 0h1m2 0h1m16 0h1m59 0h1m39 0h1m-188 1h1m56 0h1m11 0h1m6 0h1m4 0h1m4 0h1m103 0h1m-178 1h1m20 0h1m1 0h1m2 0h1m11 0h1m6 0h2m10 0h1m61 0h1m6 0h1m25 0h1m-164 1h1m10 0h1m8 0h1m13 0h1m1 0h1m15 0h1m13 0h1m3 0h1m8 0h1m5 0h1m55 0h1m17 0h1m11 0h2m-137 1h1m2 0h1m13 0h1m14 0h1m18 0h1m16 0h2m17 0h1m7 0h1m25 0h1m37 0h1m-198 1h1m10 0h1m1 0h1m21 0h1m2 0h1m5 0h1m31 0h1m53 0h1m4 0h1m20 0h1m-155 1h1m6 0h1m2 0h2m23 0h1m25 0h1m10 0h1m6 0h1m3 0h1m4 0h1m42 0h1m6 0h1m26 0h1m-168 1h1m1 0h1m6 0h1m12 0h1m15 0h1m4 0h1m3 0h1m21 0h1m2 0h1m9 0h1m1 0h1m54 0h1m10 0h1m14 0h1m-148 1h1m2 0h2m25 0h2m2 0h1m1 0h1m12 0h2m8 0h1m60 0h1m15 0h1m17 0h1m-169 1h1m4 0h1m7 0h1m41 0h1m18 0h1m45 0h1m3 0h2m20 0h1m-117 1h1m1 0h1m6 0h1m17 0h2m7 0h1m3 0h1m15 0h1m44 0h1m2 0h1m-133 1h1m8 0h2m1 0h1m15 0h1m12 0h1m17 0h1m4 0h1m9 0h1m5 0h1m13 0h1m51 0h1m2 0h1m-166 1h1m25 0h1m60 0h1m6 0h1m8 0h1m45 0h1m1 0h1m10 0h1m2 0h1m-161 1h1m6 0h1m4 0h1m20 0h1m2 0h1m1 0h1m3 0h1m1 0h1m13 0h1m2 0h1m6 0h1m1 0h1m10 0h2m20 0h1m4 0h1m2 0h1m-92 1h1m14 0h2m2 0h1m4 0h1m6 0h1m2 0h1m6 0h1m23 0h1m58 0h1m21 0h1m-151 1h2m2 0h1m8 0h2m9 0h1m2 0h1m18 0h1m9 0h1m26 0h1m-103 1h1m22 0h1m3 0h1m30 0h1m28 0h1m6 0h1m2 0h1m66 0h1m-164 1h1m1 0h1m10 0h1m8 0h1m1 0h2m13 0h1m19 0h1m19 0h2m4 0h1m1 0h1m1 0h1m8 0h1m65 0h1m-164 1h2m17 0h2m5 0h1m21 0h1m6 0h1m7 0h1m9 0h1m7 0h1m1 0h1m14 0h1m3 0h1m5 0h1m54 0h1m-154 1h1m29 0h2m5 0h1m1 0h1m12 0h1m31 0h1m1 0h2m1 0h1m16 0h2m-107 1h1m16 0h1m4 0h1m2 0h1m1 0h1m10 0h1m1 0h1m2 0h1m2 0h1m2 0h1m1 0h2m21 0h1m4 0h1m3 0h1m2 0h1m4 0h1m32 0h1m-126 1h1m3 0h1m14 0h1m8 0h1m3 0h1m8 0h1m21 0h1m31 0h1m60 0h1m-155 1h1m9 0h2m9 0h1m2 0h1m1 0h2m4 0h1m4 0h1m1 0h1m4 0h1m5 0h1m2 0h2m1 0h1m2 0h1m21 0h1m5 0h1m15 0h3m-112 1h2m8 0h1m2 0h1m38 0h1m5 0h1m39 0h1m9 0h1m28 0h1m14 0h1m1 0h1m-154 1h1m1 0h1m12 0h1m20 0h1m1 0h1m9 0h1m12 0h1m3 0h1m3 0h1m12 0h1m3 0h1m1 0h1m44 0h1m13 0h1m-139 1h1m2 0h1m14 0h1m3 0h1m4 0h1m2 0h1m4 0h1m12 0h1m19 0h1m24 0h1m44 0h1m7 0h1m-152 1h1m1 0h1m90 0h1m2 0h1m8 0h1m9 0h1m-120 1h1m67 0h1m13 0h1m1 0h1m23 0h1m2 0h1m1 0h1m34 0h1m6 0h1m-154 1h1m7 0h1m38 0h1m21 0h3m1 0h1m10 0h1m16 0h1m-93 1h1m22 0h1m3 0h1m36 0h1m22 0h1m5 0h1m7 0h1m6 0h1m12 0h1m26 0h2m-137 1h1m10 0h1m13 0h1m9 0h2m9 0h1m21 0h2m1 0h1m5 0h1m5 0h1m17 0h1m-103 1h2m12 0h1m34 0h1m9 0h2m42 0h1m-111 1h2m4 0h1m14 0h2m47 0h1m28 0h1m15 0h1m25 0h1m-137 1h1m1 0h1m5 0h1m3 0h1m5 0h1m7 0h1m27 0h1m5 0h1m2 0h1m18 0h1m37 0h1m21 0h1m-150 1h1m54 0h1m95 0h1m-151 1h1m58 0h1m17 0h1m28 0h1m1 0h1m5 0h1m30 0h1m-137 1h1m52 0h1m39 0h1m20 0h1m14 0h2m24 0h1m-158 1h1m11 0h2m25 0h1m20 0h1m1 0h1m40 0h1m11 0h1m16 0h1m18 0h1m7 0h1m18 0h1m-128 1h1m8 0h1m60 0h1m21 0h1m13 0h1m-144 1h1m124 0h1m17 0h1m-162 1h1m25 0h1m15 0h1m78 0h2m18 0h1m27 0h1m-169 1h1m73 0h1m12 0h1m51 0h1m7 0h1m8 0h1m-40 1h1m4 0h1m2 0h1m11 0h1m2 0h1m28 1h1m1 0h1m-105 1h1m37 1h1m1 0h1m38 0h1m2 0h1m15 0h1m-133 1h1m5 0h1m38 0h1m23 0h1m24 1h1m13 0h1m-22 1h2m-3 1h1m36 0h1m-109 2h1m2 0h1m6 0h1m-5 1h1m36 0h1m62 0h1m-75 1h1m83 0h1m-114 1h1m8 0h1m9 0h1m19 0h1m1 0h1m26 0h1m-67 1h1m32 0h1m2 0h1m11 0h1m1 0h1m34 1h1m-20 1h1m8 0h1m-87 1h1m23 0h1m20 0h1m1 0h1m2 0h1m25 0h1m3 0h1m25 0h1m-66 1h1m39 0h1m10 0h1m2 0h1m2 0h1m-33 1h2m6 0h1m4 1h1m14 0h1m7 0h2m-115 1h1m38 0h1m21 0h1m26 0h1m13 0h1m-100 1h1m83 0h1m36 0h1m-34 1h1m-58 1h1m36 0h1m7 0h1m25 0h1m-27 1h1m24 0h1m11 0h1m-77 1h1m61 0h1m-87 1h1m66 0h1m12 0h1m31 0h1m-22 1h1m-94 1h1m49 0h1m-2 1h1m26 0h2m-51 1h1m19 0h1m37 0h1m5 0h2m1 0h1m-22 1h1m12 0h1m-1 1h1m5 0h1m5 0h1m-68 1h1m11 1h1m55 0h1m14 0h1m-10 1h1m-75 2h1m67 1h1m2 0h1m-4 2h1m3 0h1m1 0h1m-19 2h1m-1 2h1m1 0h1m-4 2h1m1 0h1m-1 1h1m5 0h1m-4 3h1m-5 1h1"/>
<path stroke="#96d769" d="M46 17h1m0 2h1m-3 4h1m1 7h4m-5 1h1m7 6h3m135 0h2m-144 1h1m109 0h1m7 0h1m12 0h1m3 0h1m-28 1h1m4 0h1m1 0h1m8 0h1m6 0h1m1 0h1m7 0h2m17 0h1m-170 1h1m7 0h1m107 0h2m5 0h1m5 0h1m-128 1h1m2 0h1m94 0h1m5 0h1m15 0h1m2 0h1m3 0h1m-127 1h1m5 0h1m126 0h1m6 0h1m-123 1h1m74 0h2m21 0h1m-121 1h1m1 0h1m5 0h1m86 0h1m88 0h1m-165 1h1m61 0h1m26 0h1m43 0h1m-133 1h1m9 0h1m48 0h1m5 0h1m69 0h1m-44 1h1m2 0h2m31 0h1m7 0h1m-141 1h1m14 0h1m70 0h1m14 0h1m-111 1h1m23 0h1m1 0h1m58 0h1m8 0h1m15 0h1m40 0h1m-148 1h1m6 0h1m5 0h1m1 0h2m8 0h1m67 0h1m89 0h1m-176 1h2m3 0h2m50 0h1m28 0h1m10 0h2m66 0h2m-178 1h1m3 0h1m10 0h1m12 0h2m3 0h1m34 0h1m19 0h1m98 0h1m-174 1h1m1 0h1m35 0h1m11 0h1m23 0h1m64 0h1m35 0h1m-173 1h1m19 0h1m1 0h1m1 0h1m10 0h1m1 0h1m6 0h1m8 0h1m20 0h1m10 0h1m-58 1h1m11 0h1m22 0h1m20 0h1m1 0h1m2 0h1m8 0h1m43 0h1m18 0h1m3 0h1m-157 1h1m5 0h1m24 0h2m6 0h1m2 0h2m2 0h1m10 0h1m19 0h1m12 0h1m50 0h1m5 0h1m18 0h1m-162 1h2m6 0h2m2 0h1m25 0h1m4 0h1m33 0h1m2 0h1m-109 1h1m6 0h2m61 0h1m6 0h1m32 0h1m-107 1h2m21 0h1m12 0h1m5 0h2m2 0h1m21 0h1m-73 1h1m22 0h1m33 0h1m12 0h1m24 0h1m6 0h1m23 0h1m54 0h1m-181 1h1m5 0h1m8 0h1m3 0h1m1 0h1m5 0h1m1 0h1m9 0h1m3 0h1m14 0h1m5 0h1m1 0h1m24 0h1m13 0h1m16 0h1m-96 1h1m18 0h1m7 0h1m14 0h1m11 0h1m14 0h1m9 0h1m-105 1h1m8 0h2m10 0h2m1 0h1m12 0h2m6 0h1m6 0h1m10 0h1m20 0h2m25 0h1m52 0h1m5 0h1m-148 1h1m2 0h1m10 0h1m10 0h1m19 0h2m16 0h1m20 0h2m65 0h1m14 0h1m8 0h1m-166 1h1m24 0h1m2 0h1m16 0h1m15 0h1m12 0h1m91 0h1m1 0h1m-199 1h1m3 0h1m47 0h1m3 0h1m2 0h1m18 0h1m19 0h1m11 0h1m2 0h1m-114 1h1m56 0h1m20 0h1m4 0h1m5 0h1m3 0h1m7 0h1m4 0h1m8 0h1m-117 1h1m4 0h1m10 0h1m61 0h1m20 0h1m9 0h1m3 0h1m19 0h1m51 0h2m-189 1h1m2 0h2m13 0h1m32 0h1m8 0h1m15 0h1m2 0h1m14 0h1m92 0h2m-186 1h1m3 0h1m15 0h1m29 0h1m-32 1h2m53 0h1m1 0h1m32 0h2m2 0h1m3 0h1m55 0h1m11 0h1m-180 1h1m9 0h1m14 0h1m80 0h1m56 0h1m1 0h1m2 0h1m-168 1h1m11 0h2m57 0h1m11 0h1m20 0h1m2 0h2m50 0h1m10 0h1m-166 1h1m4 0h1m59 0h1m4 0h1m6 0h1m30 0h1m26 0h1m-141 1h1m9 0h1m1 0h1m1 0h1m59 0h1m9 0h1m29 0h1m52 0h1m-167 1h1m24 0h1m40 0h1m1 0h2m3 0h1m1 0h1m1 0h1m2 0h1m58 0h2m9 0h1m12 0h1m-153 1h2m35 0h1m5 0h1m13 0h1m8 0h1m19 0h1m12 0h1m18 0h1m23 0h1m17 0h1m-176 1h1m3 0h2m6 0h1m6 0h1m35 0h1m1 0h1m8 0h1m17 0h1m14 0h1m48 0h1m14 0h1m-164 1h1m15 0h1m25 0h1m43 0h1m23 0h1m1 0h1m-113 1h2m1 0h1m3 0h1m4 0h1m17 0h1m4 0h1m7 0h1m5 0h1m11 0h1m13 0h1m6 0h1m2 0h1m3 0h1m10 0h1m1 0h1m7 0h1m8 0h1m61 0h1m10 0h1m2 0h1m-198 1h1m3 0h1m20 0h1m21 0h1m3 0h1m6 0h1m4 0h1m7 0h2m14 0h1m26 0h1m13 0h1m7 0h1m-130 1h1m19 0h1m23 0h1m8 0h1m39 0h1m6 0h2m40 0h1m-90 1h1m2 0h2m18 0h1m1 0h1m43 0h1m2 0h1m5 0h1m15 0h1m39 0h2m-185 1h2m13 0h1m13 0h1m2 0h1m6 0h1m35 0h1m3 0h1m30 0h1m8 0h1m3 0h1m5 0h2m13 0h1m40 0h1m-186 1h1m31 0h1m1 0h1m3 0h2m2 0h1m3 0h1m2 0h1m11 0h1m11 0h2m1 0h1m1 0h2m5 0h1m43 0h1m31 0h1m7 0h1m9 0h1m-187 1h1m18 0h1m14 0h1m9 0h1m9 0h1m13 0h1m11 0h1m49 0h1m11 0h1m5 0h1m38 0h1m1 0h1m3 0h1m-193 1h1m50 0h1m12 0h1m1 0h1m11 0h1m1 0h1m4 0h1m23 0h1m81 0h1m-165 1h1m18 0h1m22 0h1m69 0h1m3 0h1m3 0h1m3 0h1m9 0h1m7 0h1m-168 1h1m6 0h2m1 0h2m13 0h1m21 0h1m8 0h1m4 0h1m3 0h1m9 0h1m58 0h1m1 0h1m18 0h1m-151 1h1m1 0h1m3 0h1m40 0h1m4 0h1m12 0h1m30 0h1m32 0h1m57 0h1m-181 1h2m21 0h1m15 0h1m4 0h1m3 0h2m3 0h1m11 0h1m7 0h1m1 0h2m41 0h1m9 0h1m20 0h1m5 0h1m-167 1h1m1 0h1m3 0h1m5 0h1m37 0h1m15 0h1m8 0h1m3 0h1m1 0h2m37 0h1m21 0h1m17 0h1m4 0h1m24 0h1m-186 1h2m6 0h1m1 0h1m16 0h1m17 0h1m4 0h2m11 0h1m5 0h1m-68 1h1m1 0h1m4 0h1m18 0h1m31 0h1m1 0h1m5 0h1m7 0h1m18 0h1m21 0h1m24 0h1m-152 1h1m11 0h1m31 0h1m20 0h1m8 0h1m6 0h1m-72 1h1m6 0h1m11 0h1m14 0h2m9 0h1m2 0h1m11 0h1m6 0h1m2 0h1m7 0h1m37 0h1m17 0h1m3 0h1m-113 1h1m6 0h1m8 0h1m5 0h1m4 0h1m10 0h2m1 0h2m10 0h1m7 0h1m2 0h1m34 0h1m13 0h1m5 0h1m4 0h1m-161 1h1m31 0h2m7 0h1m3 0h1m14 0h1m24 0h1m5 0h1m31 0h1m28 0h1m-153 1h1m32 0h2m19 0h1m6 0h1m6 0h1m21 0h1m2 0h1m28 0h1m29 0h1m1 0h1m-113 1h1m19 0h1m4 0h2m1 0h1m7 0h1m2 0h1m44 0h1m19 0h1m4 0h1m1 0h2m-140 1h3m21 0h1m2 0h1m16 0h1m5 0h1m10 0h1m1 0h1m1 0h1m65 0h1m-140 1h1m4 0h1m29 0h1m34 0h1m1 0h1m3 0h1m49 0h1m13 0h1m2 0h1m-151 1h2m1 0h1m69 0h1m6 0h1m-85 1h1m8 0h1m10 0h1m5 0h1m16 0h1m2 0h1m6 0h1m2 0h1m2 0h1m6 0h1m10 0h1m1 0h1m10 0h1m7 0h1m53 0h1m5 0h2m-159 1h1m6 0h1m9 0h1m15 0h1m7 0h2m5 0h1m1 0h1m3 0h1m6 0h1m4 0h1m2 0h1m9 0h1m3 0h1m74 0h1m-161 1h1m2 0h1m21 0h1m1 0h1m26 0h1m44 0h1m10 0h1m3 0h1m4 0h1m20 0h1m20 0h1m-158 1h1m5 0h1m13 0h1m7 0h1m10 0h1m1 0h1m1 0h2m43 0h1m5 0h1m2 0h1m3 0h1m18 0h1m5 0h1m-132 1h1m9 0h1m25 0h1m9 0h1m7 0h1m3 0h3m10 0h2m10 0h1m23 0h2m10 0h2m-113 1h1m14 0h2m6 0h1m42 0h1m20 0h1m2 0h1m12 0h2m7 0h1m63 0h1m-165 1h1m32 0h1m3 0h1m5 0h1m10 0h1m23 0h1m7 0h1m1 0h1m3 0h1m-109 1h1m4 0h1m2 0h1m4 0h1m3 0h3m12 0h1m4 0h1m2 0h1m3 0h1m13 0h1m6 0h1m44 0h1m7 0h1m-107 1h1m6 0h1m4 0h1m12 0h1m5 0h1m9 0h1m9 0h1m1 0h1m12 0h1m11 0h1m7 0h1m4 0h1m5 0h2m13 0h1m28 0h2m-145 1h1m25 0h1m13 0h1m1 0h1m3 0h1m6 0h1m7 0h1m5 0h1m7 0h1m37 0h1m34 0h2m-149 1h1m15 0h1m14 0h1m11 0h1m8 0h1m14 0h1m4 0h1m2 0h1m13 0h1m5 0h1m54 0h1m-127 1h1m6 0h1m6 0h1m4 0h1m23 0h1m5 0h1m40 0h1m27 0h1m11 0h2m-155 1h2m13 0h1m5 0h1m1 0h1m5 0h1m7 0h1m14 0h1m3 0h1m6 0h1m9 0h1m2 0h1m18 0h1m53 0h1m-142 1h1m1 0h2m6 0h1m17 0h1m9 0h1m2 0h1m8 0h1m2 0h1m13 0h1m8 0h2m22 0h1m3 0h1m39 0h1m-135 1h1m4 0h1m19 0h1m3 0h2m19 0h1m6 0h1m5 0h1m11 0h1m9 0h1m-101 1h1m18 0h1m3 0h1m12 0h1m2 0h1m2 0h2m14 0h1m14 0h1m3 0h2m9 0h1m52 0h1m6 0h1m12 0h1m2 0h1m-165 1h1m15 0h1m11 0h1m3 0h1m14 0h1m21 0h2m7 0h1m21 0h1m18 0h1m12 0h1m11 0h1m-104 1h1m18 0h1m11 0h1m62 0h1m5 0h1m15 0h1m1 0h1m-117 1h2m22 0h1m1 0h1m44 0h1m20 0h1m12 0h1m4 0h1m31 0h1m-130 1h1m63 0h1m48 0h1m7 0h1m-174 1h1m2 0h1m4 0h1m10 0h1m38 0h1m14 0h1m31 0h1m49 0h1m19 0h1m-175 1h1m2 0h1m12 0h1m2 0h1m56 0h1m96 0h1m-77 1h1m8 0h1m41 0h1m11 0h1m10 0h1m-168 1h2m93 0h1m18 0h1m5 0h1m44 0h1m-168 1h1m44 0h1m24 0h1m46 0h1m4 0h1m2 0h1m5 0h1m9 0h1m4 0h1m10 0h1m6 0h1m4 0h1m7 0h1m-109 1h1m20 0h1m2 0h1m20 0h1m43 0h1m-67 1h1m16 0h1m4 0h1m25 0h1m-130 1h1m19 0h1m40 1h1m5 0h1m1 0h1m25 0h1m35 0h1m5 0h1m8 1h1m5 0h1m-64 1h1m2 0h1m7 0h1m13 0h1m21 0h1m-110 1h1m64 0h1m4 0h1m6 0h1m-88 1h1m18 0h1m45 0h1m31 0h1m-29 1h1m44 0h1m-118 1h1m67 0h1m57 0h1m-129 1h1m114 0h1m21 0h1m-129 1h1m50 0h1m76 0h1m1 0h1m-89 1h1m57 0h1m4 0h1m12 0h1m-90 1h1m55 0h1m1 0h2m-17 1h1m27 0h1m-61 1h1m72 0h1m-107 1h1m79 0h1m7 0h1m28 0h1m-74 1h1m45 0h1m-97 1h1m31 0h1m5 0h1m43 0h1m8 0h1m-97 1h1m28 0h1m4 0h1m30 0h1m15 0h1m30 0h1m6 0h1m-85 1h1m24 0h1m13 0h1m8 0h1m20 0h1m-76 1h1m48 0h1m21 1h1m-39 1h1m42 0h1m21 0h1m-40 1h1m40 0h1m-63 1h1m16 0h1m2 0h1m39 0h1m-43 1h1m20 0h1m-9 1h1m7 0h1m-5 1h1m1 0h1m16 1h1m-67 1h1m48 0h1m1 1h1m-4 1h1m-5 1h2m15 0h1m11 0h1m-83 1h1m55 0h1m10 0h1m2 0h1m-74 1h1m71 0h1m-64 2h1m66 0h1m-17 1h2m-3 1h1m13 0h1m-13 1h1m0 1h1m-2 2h1m9 0h1m-11 1h1m-3 3h1m1 3h1m-1 1h1"/>
<path stroke="#73cd64" d="M44 21h1m1 2h2m-4 1h3m-3 3h1m4 0h1m0 4h2m-4 1h1m-1 1h1m-3 2h1m-2 1h1m9 0h1m142 0h1m-142 1h1m110 0h1m16 0h2m-138 1h1m108 0h1m2 0h1m10 0h1m19 0h1m-31 1h1m1 0h1m5 0h1m2 0h1m-126 1h1m1 0h1m96 0h1m18 0h1m6 0h1m5 0h1m-138 1h1m119 0h1m4 0h1m53 0h1m-177 1h1m93 0h1m51 0h1m1 0h1m-135 1h1m165 0h2m-176 1h1m127 0h1m-112 1h1m59 1h1m10 0h1m-69 1h2m56 0h1m10 0h1m67 0h1m-165 1h1m4 0h1m6 0h1m17 0h1m54 0h2m3 0h1m7 0h1m9 0h1m34 0h1m28 0h1m-146 1h1m50 0h1m5 0h1m1 0h1m26 0h1m48 0h1m-152 1h1m73 0h3m12 0h1m55 0h1m-148 1h1m2 0h1m1 0h1m3 0h1m31 0h1m109 0h1m-140 1h2m41 0h1m113 0h1m2 0h1m-160 1h1m3 0h2m7 0h1m16 0h1m3 0h1m1 0h1m5 0h1m19 0h3m7 0h1m18 0h1m14 0h1m-77 1h1m5 0h1m31 0h2m17 0h2m85 0h1m-189 1h1m27 0h3m37 0h1m42 0h1m62 0h1m-148 1h1m28 0h1m1 0h1m5 0h1m41 0h1m33 0h1m22 0h1m1 0h1m-162 1h2m49 0h1m11 0h1m1 0h2m1 0h2m33 0h1m8 0h1m7 0h1m36 0h1m24 0h1m4 0h1m-170 1h1m9 0h1m46 0h1m25 0h1m-84 1h1m57 0h1m27 0h2m49 0h1m33 0h1m-172 1h1m12 0h1m3 0h1m1 0h1m11 0h1m9 0h1m57 0h1m-103 1h1m25 0h1m50 0h1m7 0h1m20 0h1m-119 1h1m5 0h1m6 0h1m27 0h1m2 0h1m79 0h1m42 0h3m4 0h1m-173 1h1m5 0h2m9 0h1m71 0h1m4 0h1m7 0h1m-76 1h1m4 0h1m143 0h1m13 0h1m2 0h1m-186 1h1m9 0h1m2 0h1m11 0h2m25 0h1m17 0h1m30 0h1m17 0h1m50 0h1m15 0h1m-187 1h1m8 0h2m17 0h1m20 0h1m16 0h1m1 0h1m2 0h1m19 0h1m12 0h1m80 0h1m-200 1h1m26 0h1m43 0h2m2 0h1m4 0h1m8 0h2m22 0h2m2 0h1m2 0h1m14 0h1m39 0h1m12 0h1m10 0h1m-200 1h1m16 0h1m78 0h1m-92 1h1m3 0h1m62 0h1m7 0h1m17 0h2m2 0h1m96 0h1m-180 1h2m30 0h1m26 0h1m18 0h1m14 0h1m1 0h1m-86 1h1m19 0h1m2 0h1m22 0h1m3 0h2m1 0h1m1 0h1m32 0h1m71 0h1m-185 1h1m5 0h1m1 0h2m14 0h1m44 0h1m34 0h1m9 0h1m48 0h1m-158 1h1m2 0h1m3 0h1m93 0h1m33 0h1m27 0h1m2 0h1m-156 1h1m25 0h1m5 0h1m56 0h1m-109 1h1m3 0h1m12 0h1m26 0h1m26 0h2m66 0h1m6 0h1m3 0h1m27 0h1m4 0h1m12 0h2m-175 1h1m7 0h1m14 0h1m14 0h1m12 0h1m4 0h1m3 0h1m18 0h1m53 0h1m10 0h1m-147 1h1m1 0h1m9 0h1m7 0h1m17 0h2m32 0h1m25 0h1m12 0h1m38 0h2m-156 1h2m33 0h1m11 0h1m2 0h1m15 0h1m1 0h2m16 0h1m13 0h1m15 0h1m-126 1h2m8 0h1m7 0h1m3 0h1m2 0h1m20 0h1m55 0h2m8 0h1m27 0h1m-142 1h1m13 0h2m21 0h1m65 0h1m1 0h1m2 0h1m5 0h1m12 0h1m2 0h1m2 0h1m11 0h1m18 0h1m-150 1h1m24 0h1m14 0h1m17 0h1m4 0h1m4 0h1m17 0h1m7 0h1m3 0h1m37 0h1m35 0h1m2 0h1m-180 1h1m1 0h1m16 0h1m27 0h1m18 0h1m27 0h1m2 0h1m10 0h2m16 0h1m-136 1h1m9 0h1m29 0h1m13 0h1m25 0h1m19 0h1m38 0h1m44 0h1m-185 1h1m39 0h1m16 0h1m19 0h1m39 0h1m2 0h1m2 0h1m4 0h1m34 0h1m-164 1h1m3 0h1m28 0h1m2 0h1m2 0h1m10 0h2m15 0h1m3 0h1m11 0h1m3 0h1m75 0h1m7 0h1m11 0h1m-181 1h1m45 0h1m27 0h1m12 0h1m79 0h1m2 0h1m14 0h1m-148 1h2m10 0h1m70 0h1m10 0h1m2 0h1m45 0h1m1 0h2m-190 1h3m14 0h1m44 0h1m2 0h1m17 0h1m51 0h1m1 0h1m49 0h1m5 0h3m-193 1h1m14 0h1m24 0h1m8 0h1m17 0h1m60 0h1m-135 1h1m4 0h2m10 0h1m18 0h2m11 0h1m7 0h1m10 0h1m15 0h1m59 0h1m10 0h1m16 0h1m-166 1h1m53 0h1m11 0h1m16 0h1m45 0h1m35 0h1m-173 1h1m5 0h1m7 0h1m21 0h1m32 0h1m12 0h1m8 0h1m43 0h1m5 0h1m6 0h2m1 0h1m-138 1h2m33 0h1m6 0h1m9 0h3m5 0h3m9 0h1m59 0h1m-147 1h1m10 0h1m1 0h1m21 0h1m23 0h1m1 0h1m7 0h1m6 0h1m56 0h1m2 0h1m2 0h1m20 0h1m-158 1h1m12 0h1m5 0h1m38 0h1m3 0h1m5 0h1m1 0h1m13 0h1m48 0h1m5 0h1m4 0h1m-129 1h1m20 0h1m3 0h1m24 0h1m62 0h1m3 0h1m13 0h1m9 0h1m-156 1h1m27 0h1m53 0h1m44 0h1m21 0h1m-147 1h2m1 0h1m46 0h1m3 0h1m8 0h2m-64 1h2m18 0h1m31 0h1m30 0h1m47 0h1m11 0h1m5 0h1m-151 1h1m19 0h1m8 0h1m2 0h1m18 0h1m10 0h1m7 0h1m74 0h1m-127 1h1m1 0h1m12 0h1m22 0h1m12 0h1m8 0h1m8 0h1m10 0h1m-57 1h1m21 0h1m14 0h1m61 0h1m1 0h1m-140 1h1m2 0h1m11 0h1m4 0h1m33 0h1m82 0h1m-136 1h1m2 0h1m12 0h1m14 0h1m11 0h1m6 0h1m84 0h1m7 0h1m-162 1h1m14 0h1m6 0h1m27 0h1m3 0h1m3 0h1m1 0h1m5 0h1m23 0h1m7 0h1m6 0h1m51 0h1m-157 1h1m21 0h1m3 0h1m8 0h1m6 0h1m5 0h1m11 0h2m21 0h1m3 0h2m6 0h1m3 0h1m1 0h2m57 0h1m-140 1h1m6 0h1m3 0h1m6 0h1m16 0h1m1 0h1m30 0h1m3 0h1m11 0h1m2 0h1m4 0h1m2 0h1m43 0h1m-160 1h2m20 0h1m15 0h1m23 0h1m12 0h1m13 0h1m1 0h1m14 0h1m47 0h1m-150 1h1m1 0h1m1 0h1m3 0h1m26 0h1m7 0h1m3 0h1m25 0h1m10 0h1m2 0h1m2 0h1m8 0h1m30 0h1m41 0h1m-167 1h1m6 0h1m1 0h1m7 0h1m2 0h1m7 0h1m1 0h1m3 0h1m2 0h1m15 0h1m14 0h2m5 0h1m14 0h1m4 0h1m5 0h1m-109 1h1m10 0h1m10 0h1m37 0h1m9 0h1m13 0h1m1 0h1m18 0h1m69 0h1m-178 1h1m48 0h2m11 0h1m20 0h2m1 0h1m27 0h1m26 0h1m31 0h1m-143 1h1m10 0h1m14 0h1m35 0h1m13 0h1m-97 1h1m12 0h1m7 0h1m3 0h2m15 0h1m5 0h1m9 0h2m22 0h2m10 0h1m10 0h1m33 0h1m6 0h1m-157 1h1m8 0h1m19 0h1m11 0h1m7 0h1m10 0h1m1 0h1m1 0h2m1 0h1m2 0h1m12 0h1m2 0h1m2 0h2m13 0h1m-97 1h1m8 0h1m11 0h1m7 0h1m6 0h1m15 0h1m25 0h1m10 0h1m12 0h1m1 0h1m37 0h1m2 0h1m-141 1h1m7 0h1m25 0h1m16 0h1m18 0h1m14 0h2m2 0h1m17 0h1m17 0h1m19 0h1m-128 1h1m7 0h1m5 0h1m50 0h1m4 0h1m14 0h1m33 0h1m36 0h1m-167 1h1m1 0h1m3 0h1m9 0h1m15 0h1m34 0h1m6 0h1m3 0h1m1 0h1m35 0h1m7 0h1m9 0h1m5 0h1m-143 1h1m7 0h1m2 0h1m1 0h2m14 0h1m5 0h1m10 0h1m5 0h1m8 0h1m5 0h1m5 0h1m28 0h1m31 0h1m18 0h2m-162 1h1m4 0h1m40 0h1m22 0h1m11 0h1m2 0h1m27 0h1m12 0h1m29 0h1m-150 1h1m53 0h2m20 0h1m1 0h1m86 0h1m11 0h1m-177 1h1m32 0h1m12 0h1m6 0h1m1 0h1m96 0h1m6 0h1m-125 1h1m25 0h1m5 0h1m23 0h1m52 0h1m16 0h1m-160 1h1m36 0h1m13 0h1m108 0h1m5 0h1m-155 1h1m45 0h1m77 0h1m8 0h1m2 0h1m-147 1h1m10 0h1m23 0h1m6 0h1m22 0h1m2 0h1m62 0h1m-135 1h1m39 0h1m14 0h1m14 0h1m6 1h1m47 0h1m13 0h1m12 0h1m2 0h1m7 0h1m6 0h1m-157 1h1m3 0h1m61 0h1m47 0h1m8 0h1m-99 1h1m2 0h1m37 0h1m18 0h1m23 0h1m3 0h1m1 0h1m9 0h1m3 0h1m12 0h1m9 0h1m-99 1h1m37 0h1m57 0h1m5 0h1m-157 1h1m105 0h1m31 0h1m-107 1h1m66 0h1m25 0h1m30 0h1m-157 1h1m33 0h1m36 0h1m35 0h1m36 0h1m-83 1h1m38 0h1m-91 1h1m26 0h1m25 0h1m19 0h1m-74 1h1m21 0h1m66 0h1m23 0h1m-92 1h1m9 0h1m4 0h1m14 0h1m2 0h1m8 0h1m18 0h1m29 0h1m-107 1h1m85 0h2m2 0h1m7 0h1m7 0h1m-72 1h2m37 0h1m9 0h1m11 0h1m-86 1h1m97 0h1m15 0h1m-31 1h1m-102 1h1m61 0h1m7 0h1m-62 1h1m53 0h2m38 0h1m-85 1h1m71 0h1m-30 1h1m-2 1h1m54 0h1m-54 1h1m23 0h1m19 0h1m13 0h1m-106 1h1m1 1h1m43 0h1m32 0h1m-3 1h1m21 0h1m-28 1h1m6 0h1m-2 1h1m3 0h1m36 0h1m-121 1h1m55 0h1m22 0h1m-6 1h1m10 0h1m-14 1h1m11 0h1m-54 1h1m59 0h2m16 0h1m-59 1h1m32 0h1m24 0h1m-71 1h1m11 0h1m-15 1h1m65 0h1m-17 1h1m2 0h1m6 0h1m-65 2h1m65 0h1m-68 1h1m75 2h1m-18 4h1m-3 2h1m1 1h1m-4 3h1m0 3h1"/>
<path stroke="#3cc35f" d="M45 19h1m1 5h1m-1 1h1m-2 1h1m0 2h1m1 0h1m0 1h1m0 1h1m-10 1h1m4 0h2m-4 1h1m4 0h1m-3 2h1m6 1h1m-11 2h1m152 0h1m-29 1h1m2 0h1m17 0h1m-4 1h1m-147 1h1m119 0h1m20 0h1m4 0h1m-38 1h1m22 0h1m-128 1h1m110 0h1m1 0h1m-115 1h1m118 0h1m-122 1h2m13 0h1m87 0h2m10 0h1m41 0h1m-155 1h1m13 0h1m125 0h1m7 0h1m26 0h1m-171 1h2m2 0h2m61 0h1m67 0h1m6 0h1m-147 1h1m81 0h1m78 0h1m5 0h1m-158 1h1m5 0h1m52 0h1m10 0h1m22 0h1m1 0h1m-22 1h1m10 0h1m-93 1h1m19 0h2m74 0h1m-84 1h1m4 0h1m68 0h1m6 0h1m4 0h1m55 0h1m-96 1h1m6 0h1m10 0h1m17 0h1m4 0h1m-64 1h1m21 0h1m2 0h1m32 0h1m52 0h1m7 0h1m-152 1h1m22 0h1m1 0h1m25 0h1m120 0h1m2 0h1m-160 1h1m12 0h1m4 0h1m120 0h1m-137 1h1m6 0h1m31 0h1m3 0h1m112 0h1m-157 1h1m13 0h1m15 0h1m104 0h1m25 0h1m-131 1h1m12 0h1m2 0h2m15 0h1m20 0h1m70 0h1m-158 1h1m15 0h1m8 0h1m20 0h3m1 0h1m30 0h1m87 0h1m-177 1h1m25 0h1m2 0h1m57 0h1m19 0h1m60 0h1m-158 1h1m8 0h1m15 0h1m50 0h1m1 0h1m65 0h1m27 0h1m-199 1h1m24 0h1m76 0h1m2 0h1m25 0h1m64 0h1m-175 1h1m6 0h1m54 0h1m11 0h1m2 0h1m1 0h1m72 0h1m16 0h2m6 0h1m-198 1h1m13 0h1m6 0h1m17 0h2m2 0h1m23 0h1m13 0h1m101 0h1m-178 1h1m12 0h2m1 0h1m7 0h1m1 0h1m8 0h1m13 0h1m52 0h1m14 0h1m58 0h1m-158 1h1m1 0h1m8 0h1m3 0h1m49 0h1m1 0h1m15 0h1m-102 1h1m12 0h1m20 0h1m2 0h1m1 0h2m11 0h1m27 0h1m13 0h1m13 0h1m13 0h2m-130 1h1m1 0h1m12 0h1m7 0h1m9 0h1m7 0h1m7 0h1m8 0h1m11 0h1m4 0h1m18 0h1m22 0h1m-99 1h1m1 0h1m10 0h2m38 0h1m1 0h1m38 0h1m-104 1h1m5 0h1m1 0h1m7 0h2m32 0h1m1 0h1m9 0h1m2 0h1m26 0h1m-96 1h1m6 0h1m3 0h1m1 0h1m9 0h1m42 0h1m3 0h1m16 0h1m15 0h1m61 0h1m-156 1h1m1 0h1m30 0h1m22 0h1m9 0h1m16 0h1m66 0h1m-160 1h1m3 0h1m38 0h1m4 0h1m19 0h1m1 0h1m11 0h1m-89 1h1m2 0h3m7 0h1m4 0h1m8 0h1m12 0h1m21 0h1m15 0h2m11 0h1m16 0h1m6 0h1m29 0h1m2 0h1m26 0h1m-173 1h1m20 0h1m10 0h1m6 0h1m43 0h1m22 0h1m12 0h1m30 0h1m29 0h1m-187 1h1m45 0h1m12 0h1m3 0h1m7 0h1m31 0h2m8 0h1m34 0h1m-125 1h1m11 0h1m1 0h2m10 0h1m9 0h1m5 0h1m5 0h1m34 0h1m8 0h1m17 0h1m13 0h1m3 0h1m8 0h1m37 0h1m-156 1h1m18 0h1m18 0h1m12 0h1m13 0h1m3 0h1m2 0h1m6 0h1m1 0h2m71 0h1m-180 1h1m9 0h1m13 0h1m8 0h1m16 0h1m20 0h1m5 0h1m3 0h2m4 0h1m19 0h1m6 0h1m35 0h1m-143 1h1m2 0h1m4 0h1m7 0h1m62 0h1m14 0h1m6 0h1m69 0h1m-177 1h1m2 0h1m6 0h1m4 0h1m16 0h1m10 0h1m70 0h1m36 0h1m16 0h1m-171 1h2m22 0h1m3 0h2m4 0h1m18 0h1m15 0h1m4 0h1m19 0h1m10 0h1m3 0h1m58 0h1m-97 1h1m37 0h2m8 0h1m50 0h1m-100 1h1m4 0h1m26 0h1m38 0h1m2 0h2m-156 1h1m34 0h1m43 0h1m1 0h1m39 0h1m22 0h1m9 0h1m-155 1h1m31 0h1m38 0h1m69 0h1m22 0h1m12 0h1m7 0h1m-189 1h1m4 0h1m29 0h1m1 0h1m44 0h1m46 0h1m5 0h2m57 0h1m-190 1h1m39 0h1m27 0h1m76 0h1m40 0h1m-123 1h1m99 0h1m8 0h1m1 0h1m16 0h1m-156 1h1m20 0h1m25 0h1m33 0h1m6 0h1m3 0h1m30 0h1m31 0h1m-146 1h1m4 0h1m16 0h1m48 0h1m17 0h1m6 0h1m19 0h1m-154 1h1m21 0h1m17 0h1m5 0h1m1 0h1m1 0h1m5 0h1m6 0h1m52 0h1m3 0h1m26 0h1m-99 1h1m14 0h1m43 0h1m10 0h1m1 0h1m30 0h2m-134 1h1m3 0h1m21 0h1m18 0h1m6 0h1m61 0h1m11 0h1m1 0h2m-164 1h1m7 0h1m28 0h1m23 0h2m5 0h1m9 0h1m46 0h1m15 0h1m14 0h1m6 0h1m-144 1h1m16 0h1m18 0h1m1 0h1m16 0h1m1 0h1m68 0h1m2 0h1m5 0h1m6 0h1m-161 1h1m6 0h1m49 0h1m12 0h1m58 0h1m12 0h2m10 0h2m-150 1h1m1 0h1m30 0h1m32 0h1m3 0h1m59 0h1m-141 1h1m7 0h1m12 0h1m14 0h1m6 0h1m27 0h1m24 0h2m52 0h1m-144 1h1m9 0h1m11 0h1m5 0h2m5 0h1m14 0h1m3 0h1m4 0h1m39 0h1m15 0h2m-117 1h2m1 0h1m2 0h1m12 0h1m12 0h1m30 0h1m62 0h1m17 0h1m-149 1h2m2 0h1m2 0h1m6 0h1m9 0h1m3 0h1m38 0h1m86 0h1m-144 1h1m6 0h1m44 0h1m8 0h1m85 0h1m-157 1h1m27 0h1m13 0h1m11 0h1m6 0h1m84 0h1m7 0h1m-160 1h1m15 0h1m15 0h1m20 0h1m12 0h1m15 0h1m11 0h1m17 0h1m26 0h1m18 0h3m43 0h1m-198 1h1m6 0h1m2 0h1m1 0h1m6 0h1m11 0h2m4 0h1m2 0h1m66 0h1m-117 1h1m2 0h2m13 0h1m5 0h1m4 0h1m3 0h1m2 0h1m12 0h2m4 0h1m30 0h2m10 0h1m62 0h1m-157 1h1m3 0h1m18 0h1m31 0h1m32 0h1m3 0h1m3 0h1m36 0h1m-138 1h1m17 0h1m6 0h1m7 0h3m3 0h1m5 0h1m3 0h1m4 0h4m7 0h1m2 0h1m43 0h1m46 0h1m-157 1h1m6 0h1m2 0h1m21 0h1m25 0h1m3 0h1m3 0h1m17 0h1m12 0h1m59 0h1m20 0h1m-161 1h1m1 0h1m15 0h1m26 0h1m1 0h1m18 0h1m18 0h1m12 0h1m38 0h1m-148 1h1m5 0h1m2 0h1m25 0h1m9 0h1m10 0h1m19 0h1m8 0h1m8 0h1m53 0h1m22 0h1m-163 1h1m20 0h1m16 0h1m1 0h1m1 0h1m1 0h2m9 0h1m14 0h1m5 0h1m3 0h1m4 0h1m6 0h1m5 0h1m42 0h1m14 0h1m-154 1h1m8 0h1m8 0h1m1 0h1m13 0h1m2 0h1m15 0h1m32 0h1m2 0h1m8 0h1m40 0h1m-142 1h1m7 0h1m1 0h1m7 0h1m8 0h1m8 0h1m55 0h1m35 0h1m10 0h1m13 0h1m-161 1h1m3 0h1m3 0h1m7 0h1m34 0h1m57 0h1m27 0h1m7 0h1m-129 1h1m1 0h1m25 0h1m28 0h1m9 0h1m44 0h1m11 0h1m35 0h1m-178 1h1m55 0h1m2 0h1m3 0h1m6 0h2m9 0h1m2 0h1m36 0h1m28 0h1m11 0h1m12 0h1m-176 1h1m12 0h2m4 0h1m2 0h2m22 0h1m38 0h2m73 0h1m26 0h1m-168 1h1m3 0h1m19 0h1m2 0h1m13 0h1m1 0h1m20 0h1m20 0h1m15 0h1m-118 1h1m6 0h1m1 0h1m23 0h1m28 0h1m16 0h1m43 0h2m22 0h1m-146 1h1m42 0h2m18 0h1m5 0h1m2 0h1m7 0h1m31 0h1m3 0h1m42 0h1m-159 1h1m5 0h1m31 0h1m10 0h1m17 0h2m33 0h1m39 0h1m-127 1h1m26 0h1m11 0h1m1 0h1m16 0h1m25 0h1m25 0h1m10 0h1m5 0h1m28 0h1m1 0h2m-102 1h1m48 0h1m1 0h1m23 0h2m2 0h1m3 0h1m6 0h1m11 0h1m-176 1h1m4 0h1m1 0h1m30 0h1m10 0h1m4 0h1m30 0h1m-74 1h1m30 0h1m97 0h1m-41 1h1m6 0h1m5 0h1m13 0h1m22 0h2m-111 1h1m25 0h1m1 0h1m11 0h1m53 0h1m37 0h1m-103 1h1m16 0h1m13 0h1m9 0h1m40 0h1m14 0h1m-93 1h1m72 0h1m-53 1h1m40 0h1m22 0h2m2 0h1m-157 1h1m12 0h1m13 0h1m61 0h1m38 0h1m17 0h1m-143 1h1m53 0h1m40 0h1m12 0h1m11 0h1m8 0h1m-50 1h1m9 0h1m5 0h1m-58 1h1m61 0h1m4 0h1m33 0h1m-80 1h1m2 0h1m42 0h1m28 0h1m7 0h1m-76 1h1m-10 1h1m56 0h1m-88 1h1m34 0h1m28 0h1m-65 1h1m1 0h1m10 0h1m7 0h1m-36 1h1m38 0h1m53 0h1m-49 1h1m27 0h1m18 0h1m12 0h1m-98 1h1m11 0h1m22 0h2m12 0h1m2 0h1m15 0h1m9 0h1m9 0h1m36 0h1m-129 1h1m2 0h1m61 0h2m2 0h1m19 0h1m18 0h1m-103 1h1m86 0h1m27 0h1m-74 1h1m22 0h1m3 0h1m1 0h1m-63 1h2m1 0h2m22 0h1m14 0h1m-62 1h1m69 0h1m17 0h1m6 0h1m6 0h1m-71 1h1m22 0h1m40 0h1m11 0h1m-77 1h1m20 0h1m38 0h1m33 0h1m-95 1h1m15 0h1m20 0h1m-11 1h1m5 0h1m8 0h1m21 0h1m27 0h1m4 0h1m-45 1h1m17 0h1m2 0h1m23 0h1m-118 1h1m22 0h1m27 0h1m28 0h1m10 0h1m27 0h1m-67 1h1m27 0h1m-55 1h1m11 0h1m10 0h1m24 0h1m11 0h1m4 0h1m8 0h1m-16 1h1m1 0h1m-2 1h1m-53 1h1m38 0h1m30 0h1m-11 1h1m4 0h1m8 0h1m-3 1h1m3 0h1m-86 1h1m4 0h1m12 0h1m53 0h1m13 0h1m-12 1h1m-74 1h2m2 0h1m2 0h1m51 1h1m16 0h1m0 1h1m-19 2h1m1 0h1m-3 9h1"/>
<path stroke="#0fb45a" d="M48 13h1m-4 2h1m-1 1h1m-2 4h1m-1 6h1m3 1h1m-4 4h1m3 1h1m109 4h2m-110 1h1m113 0h1m45 0h1m-155 1h1m99 0h1m6 0h1m9 0h1m2 0h1m6 1h1m-126 1h1m105 0h1m16 0h1m19 0h1m-162 1h1m5 0h1m116 0h2m-109 1h1m101 0h1m10 0h1m5 0h1m44 1h1m-176 1h1m22 0h1m60 0h1m18 0h1m-101 1h1m7 0h1m71 0h1m1 0h1m74 0h1m-161 1h1m1 0h1m9 0h2m67 0h1m58 0h1m2 0h1m-137 1h1m19 0h1m43 0h1m14 0h1m6 0h1m-81 1h1m11 0h1m1 0h1m83 0h1m62 0h1m-171 1h1m4 0h1m11 0h1m49 0h1m11 0h1m14 0h1m75 0h1m-171 1h1m19 0h1m80 0h1m6 0h1m44 0h1m-107 1h1m32 0h1m9 0h1m6 0h1m6 0h1m62 0h1m10 0h1m-172 1h1m22 0h1m70 0h1m1 0h2m2 0h1m1 0h1m63 0h1m-146 1h1m73 0h1m-72 1h1m17 0h1m57 0h1m69 0h1m-144 1h1m5 0h1m60 0h1m52 0h1m23 0h1m-149 1h1m56 0h1m-18 1h1m-66 1h1m19 0h1m14 0h1m41 0h1m76 0h1m-120 1h1m71 0h1m12 0h1m47 0h1m-75 1h1m24 0h1m-88 1h1m22 0h1m4 0h1m27 0h1m20 0h1m13 0h1m-83 1h1m7 0h1m37 0h1m88 0h1m18 0h1m-170 1h1m13 0h1m57 0h1m93 0h1m-164 1h1m53 0h1m4 0h1m81 0h1m23 0h1m-166 1h1m52 0h1m2 0h1m1 0h2m2 0h1m1 0h1m5 0h2m96 0h1m-197 1h2m8 0h1m27 0h1m12 0h1m7 0h1m35 0h1m12 0h1m15 0h1m45 0h1m12 0h1m-183 1h1m1 0h1m19 0h1m13 0h1m3 0h1m5 0h1m6 0h1m5 0h1m29 0h1m15 0h1m3 0h1m7 0h1m4 0h1m-119 1h1m109 0h1m2 0h1m10 0h1m1 0h1m-127 1h1m14 0h1m23 0h1m6 0h1m6 0h1m3 0h1m21 0h1m11 0h1m-96 1h1m26 0h1m42 0h1m24 0h1m13 0h1m-55 1h1m6 0h1m32 0h1m17 0h1m-105 1h1m17 0h1m2 0h1m27 0h1m16 0h1m20 0h1m14 0h1m15 0h1m-128 1h1m4 0h1m21 0h1m92 0h1m1 0h1m17 0h1m45 0h1m-167 1h1m8 0h1m1 0h1m4 0h1m38 0h1m37 0h1m-86 1h1m6 0h1m3 0h1m1 0h1m2 0h1m56 0h1m93 0h1m-190 1h1m1 0h1m37 0h1m8 0h1m10 0h1m4 0h1m1 0h1m17 0h1m14 0h1m7 0h2m4 0h1m36 0h1m16 0h1m5 0h1m-163 1h2m22 0h1m22 0h1m1 0h1m56 0h1m5 0h1m34 0h2m-149 1h1m2 0h1m6 0h1m9 0h2m8 0h1m6 0h1m8 0h1m26 0h1m24 0h1m13 0h1m5 0h1m20 0h1m24 0h1m-165 1h1m68 0h1m22 0h1m14 0h1m60 0h1m-160 1h1m2 0h1m1 0h1m29 0h1m4 0h2m19 0h1m14 0h1m9 0h1m7 0h2m8 0h1m56 0h1m-183 1h1m14 0h1m5 0h1m25 0h1m62 0h1m28 0h1m40 0h1m8 0h1m-187 1h1m40 0h1m19 0h1m59 0h1m33 0h1m-119 1h2m1 0h1m2 0h1m34 0h1m5 0h1m46 0h1m20 0h1m23 0h1m-184 1h1m41 0h1m4 0h1m44 0h1m55 0h1m18 0h1m14 0h1m9 0h1m1 0h1m-188 1h1m16 0h1m110 0h1m-133 1h1m2 0h2m1 0h1m33 0h1m17 0h1m30 0h1m55 0h1m37 0h1m-184 1h1m3 0h1m36 0h1m43 0h1m10 0h1m90 0h1m7 0h1m1 0h1m-131 1h2m1 0h1m63 0h1m61 0h1m-196 1h1m26 0h1m38 0h1m132 0h1m-135 1h1m16 0h2m24 0h1m45 0h1m40 0h1m-182 1h1m52 0h1m79 0h1m7 0h1m-146 1h1m38 0h2m16 0h1m-55 1h1m22 0h1m51 0h2m16 0h1m34 0h1m24 0h1m-111 1h1m22 0h1m4 0h1m50 0h1m-116 1h1m19 0h1m33 0h1m85 0h1m3 0h1m-144 1h1m41 0h1m9 0h1m13 0h1m49 0h1m-61 1h1m13 0h1m35 0h1m9 0h2m14 0h1m44 0h1m-184 1h1m62 0h1m8 0h1m7 0h1m47 0h1m15 0h1m-155 1h1m5 0h1m3 0h1m143 0h1m-159 1h1m3 0h1m58 0h2m1 0h1m90 0h1m-104 1h1m2 0h2m8 0h1m2 0h1m3 0h1m78 0h1m32 0h1m11 0h1m-199 1h2m3 0h1m51 0h1m94 0h1m1 0h1m3 0h1m-152 1h2m150 0h1m-80 1h1m2 0h1m68 0h2m-149 1h1m4 0h1m1 0h1m15 0h1m20 0h1m28 0h1m3 0h1m1 0h1m44 0h1m21 0h1m4 0h1m3 0h1m-161 1h1m10 0h2m20 0h1m31 0h1m11 0h1m8 0h1m71 0h1m-157 1h1m31 0h1m2 0h1m11 0h1m23 0h1m20 0h1m66 0h1m-159 1h1m37 0h1m9 0h1m29 0h1m3 0h1m14 0h1m4 0h2m26 0h1m-133 1h1m11 0h1m8 0h1m1 0h1m70 0h1m5 0h1m54 0h1m1 0h1m2 0h1m-152 1h1m8 0h2m1 0h1m2 0h1m6 0h1m11 0h1m7 0h2m10 0h1m32 0h1m3 0h1m11 0h1m2 0h1m32 0h1m-136 1h1m7 0h1m6 0h1m11 0h1m1 0h1m1 0h1m12 0h1m2 0h1m3 0h1m17 0h1m15 0h1m9 0h1m10 0h1m36 0h1m-159 1h1m13 0h1m2 0h1m10 0h1m3 0h1m8 0h1m4 0h2m1 0h1m9 0h1m39 0h1m16 0h1m31 0h1m-137 1h1m9 0h1m18 0h1m8 0h1m15 0h1m21 0h1m11 0h1m9 0h1m48 0h1m-145 1h1m3 0h2m2 0h1m15 0h1m3 0h1m4 0h2m5 0h1m9 0h1m22 0h1m35 0h1m38 0h1m9 0h1m-134 1h1m1 0h1m7 0h1m31 0h1m36 0h1m83 0h1m-184 1h1m3 0h1m32 0h1m19 0h1m20 0h1m1 0h1m6 0h1m1 0h2m7 0h1m-86 1h1m7 0h1m23 0h1m1 0h1m3 0h1m6 0h1m9 0h1m13 0h1m13 0h1m40 0h1m4 0h1m26 0h1m-142 1h2m17 0h1m5 0h1m19 0h1m2 0h1m4 0h2m58 0h1m2 0h1m6 0h1m6 0h1m2 0h1m1 0h1m-133 1h1m23 0h1m1 0h1m2 0h1m2 0h1m93 0h1m-159 1h2m17 0h1m14 0h3m15 0h2m6 0h1m19 0h1m3 0h2m67 0h1m-141 1h1m44 0h2m1 0h1m7 0h1m2 0h1m2 0h1m77 0h1m-157 1h1m4 0h1m14 0h2m16 0h1m21 0h1m12 0h1m70 0h2m29 0h1m-135 1h1m1 0h1m17 0h1m18 0h1m12 0h1m13 0h1m1 0h1m14 0h1m26 0h1m7 0h1m12 0h2m-168 1h1m12 0h1m19 0h1m36 0h1m37 0h1m30 0h2m9 0h1m2 0h1m-100 1h1m1 0h1m5 0h1m3 0h2m1 0h2m45 0h1m43 0h1m-161 1h1m68 0h3m2 0h1m10 0h1m24 0h1m22 0h1m43 0h1m-178 1h1m3 0h1m62 0h1m46 0h1m17 0h1m6 0h1m13 0h1m-125 1h1m13 0h1m10 0h1m102 0h1m-116 1h1m71 0h1m23 0h1m4 0h1m10 0h1m-150 1h1m39 0h1m8 0h1m13 0h1m13 0h1m7 0h1m-55 1h1m21 0h1m19 0h1m42 0h1m2 0h1m25 0h1m16 0h1m-160 1h2m26 0h1m12 0h1m31 0h1m27 0h1m32 0h1m26 0h1m-165 1h1m94 0h1m32 0h1m36 0h1m-78 1h2m45 0h1m10 0h2m11 0h1m-124 1h1m9 0h1m15 0h1m7 1h1m19 0h1m5 0h1m23 0h1m-78 1h1m24 0h1m92 0h1m-99 1h1m5 0h1m40 0h1m6 0h1m-78 1h2m20 0h1m-57 1h1m55 0h1m11 0h1m18 0h1m29 0h2m-107 1h1m18 0h1m15 0h1m20 0h1m6 0h1m30 0h1m-73 1h1m5 0h1m26 0h1m7 0h1m-35 1h1m56 0h1m-67 1h1m6 0h1m4 0h1m42 0h1m29 0h1m18 0h1m-14 1h1m2 0h1m19 0h1m-88 1h1m18 0h1m43 0h1m-54 1h1m46 0h1m13 0h1m-79 1h1m21 0h1m42 0h1m3 0h1m7 0h1m-86 1h1m32 0h1m53 0h1m-61 1h1m21 0h1m29 0h1m11 0h1m-41 1h2m3 0h1m48 0h1m-24 1h1m-50 1h1m54 0h1m-78 1h1m51 0h1m7 0h1m-49 1h1m34 0h1m11 0h1m5 0h1m18 0h1m9 0h1m-21 1h1m-72 1h1m62 0h1m6 0h1m3 0h1m14 0h1m-72 1h1m37 0h1m4 0h1m-59 1h1m55 1h1m1 0h1m11 0h1m-56 1h1m-19 1h1m5 0h1m2 0h1m-1 1h1m51 0h1m-44 1h1m53 0h1m-66 1h1m54 0h1m8 1h1m1 1h2m-12 1h1m14 0h1m-18 3h2"/>
<path stroke="#0aa550" d="M47 13h1m-3 4h1m-1 8h2m-4 5h1m0 1h1m2 1h1m1 1h1m-5 2h1m0 2h1m6 0h1m133 0h1m-132 1h1m105 0h1m6 0h1m1 0h1m6 1h1m-16 1h1m10 0h1m-130 3h1m158 0h1m-164 1h1m116 0h1m46 0h2m11 0h1m-173 1h1m1 0h1m143 0h1m24 0h1m3 0h1m-93 1h1m1 0h3m51 0h1m5 0h1m-142 1h1m1 0h1m4 0h1m60 0h1m12 0h1m58 0h1m-37 1h2m36 0h1m10 0h1m5 0h1m-142 1h1m76 0h1m57 0h1m-150 1h1m14 0h1m58 0h1m26 0h1m50 0h1m-153 1h1m24 0h1m71 0h1m1 0h1m1 0h1m-101 1h1m25 0h1m37 0h1m10 0h1m-50 1h1m67 0h1m6 0h1m58 0h1m-78 1h1m62 0h1m1 0h1m26 0h1m-142 1h1m17 0h1m83 0h1m-135 1h1m32 0h2m139 1h1m-152 1h1m18 0h1m26 0h2m87 0h1m13 0h1m-137 1h1m33 0h1m-7 1h1m50 0h1m72 0h1m-177 1h1m3 0h1m48 0h1m58 0h1m66 0h1m-195 1h1m12 0h1m26 0h1m2 0h1m46 0h1m5 0h2m26 0h1m57 0h1m14 0h1m-193 1h1m34 0h1m46 0h1m5 0h2m29 0h1m2 0h1m-105 1h1m19 0h1m44 0h1m5 0h1m5 0h2m30 0h1m-117 1h2m11 0h1m2 0h1m27 0h1m7 0h2m14 0h1m5 0h1m6 0h1m4 0h1m7 0h1m14 0h1m61 0h1m8 0h1m-175 1h1m6 0h1m8 0h1m3 0h1m7 0h2m32 0h2m4 0h1m14 0h1m2 0h1m57 0h1m2 0h2m3 0h1m19 0h1m-184 1h1m3 0h1m6 0h1m40 0h1m21 0h1m17 0h2m8 0h1m41 0h1m-150 1h1m19 0h1m13 0h1m9 0h1m7 0h1m11 0h1m14 0h2m3 0h2m6 0h1m5 0h1m10 0h1m16 0h1m1 0h1m59 0h1m-151 1h1m17 0h1m4 0h1m19 0h1m9 0h1m93 0h1m2 0h1m-184 1h1m1 0h1m2 0h2m7 0h1m18 0h1m5 0h1m10 0h1m1 0h1m1 0h1m16 0h1m13 0h1m3 0h1m4 0h1m62 0h1m19 0h1m-160 1h1m5 0h2m26 0h1m4 0h1m32 0h1m16 0h1m71 0h1m-180 1h1m70 0h1m1 0h1m5 0h1m10 0h1m10 0h1m-94 1h1m5 0h1m1 0h1m3 0h2m1 0h1m19 0h1m24 0h1m42 0h1m23 0h1m-137 1h1m34 0h1m2 0h2m17 0h1m11 0h1m11 0h2m32 0h1m51 0h1m-112 1h2m11 0h2m6 0h1m1 0h1m20 0h1m1 0h1m37 0h1m3 0h1m15 0h1m1 0h1m-134 1h1m3 0h1m1 0h2m1 0h1m24 0h1m34 0h1m1 0h1m11 0h1m1 0h1m33 0h1m5 0h1m33 0h1m-187 1h1m16 0h1m20 0h1m5 0h1m37 0h2m16 0h1m3 0h1m2 0h1m3 0h1m-94 1h1m66 0h1m11 0h1m10 0h1m9 0h2m8 0h1m23 0h1m1 0h1m13 0h1m8 0h1m-157 1h1m2 0h1m17 0h1m40 0h1m36 0h1m-123 1h1m13 0h1m27 0h2m1 0h2m30 0h1m6 0h1m37 0h1m15 0h1m19 0h1m33 0h1m-183 1h1m4 0h1m18 0h1m5 0h1m60 0h1m14 0h1m1 0h1m23 0h1m-127 1h1m40 0h1m26 0h1m1 0h1m19 0h1m17 0h1m1 0h1m2 0h1m10 0h1m-139 1h1m2 0h1m7 0h1m127 0h1m42 0h1m2 0h1m-187 1h3m10 0h1m124 0h2m-18 1h1m8 0h1m7 0h1m3 0h1m40 0h1m2 0h2m-108 1h1m55 0h1m19 0h1m20 0h1m5 0h1m-183 1h1m2 0h1m126 0h1m15 0h1m7 0h1m6 0h1m21 0h1m-9 1h1m-179 1h1m129 0h1m5 0h1m50 0h1m-123 1h1m81 0h1m7 0h1m4 0h1m3 0h1m7 0h1m-168 1h1m8 0h1m115 0h1m19 0h1m14 0h1m28 0h1m3 0h1m-182 1h1m107 0h1m39 0h1m29 0h1m-196 1h1m10 0h1m45 0h2m11 0h1m88 0h1m34 0h1m-195 1h1m58 0h1m84 0h1m13 0h1m-104 1h1m-44 1h1m51 0h1m9 0h1m-74 1h1m70 0h1m47 0h1m29 0h1m-93 1h1m94 0h1m3 0h1m-156 1h1m2 0h1m9 0h1m43 0h1m17 0h1m43 0h1m38 0h1m-151 1h1m93 0h1m16 1h1m30 0h1m4 0h1m-143 1h1m60 0h1m95 0h1m-163 1h1m13 0h1m1 0h1m1 0h1m1 0h1m53 0h1m66 0h1m-151 1h1m26 0h1m52 0h1m77 0h1m-159 1h2m10 0h1m9 0h1m2 0h1m108 0h1m16 0h1m34 0h1m-189 1h1m5 0h1m30 0h1m138 0h1m-172 1h1m9 0h1m2 0h1m2 0h1m30 0h1m111 0h1m-163 1h1m5 0h2m4 0h2m7 0h1m16 0h1m42 0h1m76 0h1m14 0h1m-169 1h1m7 0h1m5 0h1m9 0h1m33 0h1m2 0h1m47 0h1m43 0h1m-155 1h1m18 0h1m5 0h1m14 0h1m4 0h1m7 0h1m7 0h1m109 0h1m-167 1h1m12 0h1m1 0h1m33 0h1m41 0h1m10 0h1m-90 1h1m36 0h1m55 0h1m32 0h1m8 0h1m20 0h1m-167 1h1m5 0h2m24 0h2m12 0h1m25 0h1m16 0h1m1 0h1m62 0h1m27 0h1m-173 1h1m20 0h2m10 0h1m49 0h1m4 0h1m37 0h1m13 0h2m-150 1h2m7 0h1m31 0h1m16 0h1m9 0h1m22 0h1m3 0h1m50 0h1m11 0h1m10 0h2m-171 1h1m18 0h1m1 0h1m4 0h1m2 0h1m10 0h1m16 0h1m1 0h1m3 0h2m38 0h1m57 0h1m-165 1h1m21 0h1m32 0h1m1 0h1m4 0h1m4 0h1m17 0h1m10 0h1m5 0h1m36 0h1m23 0h1m3 0h1m-167 1h1m4 0h1m5 0h1m16 0h1m7 0h1m2 0h1m20 0h1m20 0h1m91 0h1m-160 1h1m15 0h1m22 0h1m26 0h3m70 0h1m19 0h1m2 0h1m11 0h1m-177 1h1m22 0h1m28 0h1m2 0h1m7 0h2m2 0h1m68 0h1m2 0h1m23 0h1m-160 1h2m17 0h1m7 0h1m6 0h1m22 0h1m2 0h1m8 0h1m5 0h1m-91 1h1m8 0h1m2 0h1m3 0h1m23 0h1m21 0h1m1 0h2m6 0h1m4 0h1m2 0h1m15 0h1m59 0h1m5 0h1m14 0h1m-169 1h1m9 0h1m18 0h1m6 0h1m20 0h1m4 0h1m3 0h1m62 0h1m36 0h1m-168 1h1m36 0h3m18 0h1m5 0h1m2 0h1m5 0h1m94 0h1m5 0h1m-177 1h1m2 0h1m1 0h2m5 0h1m9 0h1m1 0h1m20 0h1m15 0h1m19 0h1m6 0h1m56 0h1m9 0h1m-140 1h1m36 0h1m52 0h1m16 0h1m25 0h1m30 0h1m-141 1h1m11 0h1m7 0h1m27 0h1m18 0h1m10 0h1m53 0h1m-130 1h1m3 0h1m21 0h1m18 0h1m23 0h1m46 0h1m-153 1h1m6 0h1m32 0h2m23 0h1m16 0h1m19 0h1m6 0h1m49 0h1m10 0h1m-164 1h1m16 0h1m6 0h1m15 0h1m33 0h1m27 0h1m46 0h2m-133 1h1m47 0h1m1 0h1m48 0h1m7 0h1m-128 1h1m57 0h1m74 0h1m-137 1h1m34 0h1m16 0h1m5 0h3m21 0h1m-86 1h1m53 0h1m13 0h1m46 0h1m14 0h1m1 0h1m10 0h1m-139 1h1m55 0h1m41 0h1m2 0h1m18 0h1m1 0h1m-99 1h1m2 0h1m25 0h1m68 0h2m8 0h1m-51 1h1m1 0h1m28 0h1m19 0h1m11 0h1m11 0h1m-145 1h1m18 0h1m2 0h2m85 0h1m2 0h1m4 0h1m16 0h1m-147 1h1m12 0h1m4 0h1m58 0h1m10 0h1m24 0h1m27 0h1m-90 1h1m10 0h1m9 0h1m48 0h1m-99 1h1m12 0h2m7 0h1m-33 1h1m5 0h1m97 0h1m16 0h1m-101 1h1m9 0h1m12 0h1m45 0h1m13 0h1m21 0h1m-117 1h1m121 0h1m2 0h1m-118 1h1m22 0h1m47 0h1m10 0h1m21 0h1m-50 1h1m47 0h1m-116 1h1m43 0h1m5 0h1m4 0h2m7 0h2m3 0h1m27 0h1m2 0h2m6 0h1m-81 1h1m5 0h2m13 0h1m31 0h1m32 0h1m-111 1h1m6 0h1m38 0h1m26 0h1m31 0h1m5 0h1m-102 1h1m31 0h1m22 0h1m44 0h1m12 0h1m-81 1h1m13 0h1m38 0h1m22 0h1m2 1h1m-67 1h1m17 0h1m17 0h1m2 0h1m8 0h1m-52 1h1m6 0h1m8 0h1m17 0h1m5 0h1m12 0h1m-65 1h1m7 0h1m46 0h1m2 0h1m-48 1h1m38 0h2m10 0h1m-68 1h1m16 0h2m47 0h1m10 0h1m-35 1h1m-36 1h1m2 0h1m44 0h1m13 0h1m2 1h1m1 0h1m-3 1h1m2 0h1m-77 1h1m66 0h1m-70 1h2m75 0h1m8 0h1m-81 1h1m9 0h1m56 0h1m-58 1h1m57 2h1m-16 11h1"/>
<path stroke="#059646" d="M46 18h1m-2 2h1m-1 1h1m0 1h1m-3 10h1m-1 3h1m150 2h2m-32 1h1m16 0h1m27 0h1m-64 1h1m9 0h1m60 1h1m-162 1h1m84 0h1m15 0h1m26 1h2m26 1h1m-11 1h1m18 0h1m-178 1h1m140 0h1m33 0h1m-176 1h1m1 0h1m22 0h1m85 0h1m33 0h1m-135 1h1m150 0h1m-155 1h1m159 0h1m4 0h1m5 0h1m-176 1h1m2 0h1m5 0h1m95 0h1m54 0h1m-154 1h1m97 0h1m-100 1h1m162 0h1m1 0h1m-108 1h1m-34 1h1m78 0h1m43 0h1m1 0h1m10 0h1m-58 1h1m-51 1h1m48 0h1m81 0h1m-121 1h1m-66 1h1m0 1h2m62 1h1m120 0h1m-166 1h1m12 0h1m66 0h1m-97 1h1m169 0h1m-168 1h1m10 0h1m20 0h1m2 0h1m-45 1h1m17 0h1m25 0h1m35 0h1m7 0h1m15 0h1m20 0h1m-115 1h1m79 0h1m1 0h1m5 0h1m2 0h1m67 0h1m-101 1h1m-55 1h1m45 0h1m6 0h1m41 0h1m18 0h1m-129 1h1m6 0h1m27 0h2m1 0h1m3 0h1m6 0h1m7 0h1m4 0h1m4 0h2m12 0h2m1 0h1m2 0h1m8 0h1m12 0h1m57 0h1m20 0h1m-176 1h1m5 0h2m10 0h1m7 0h1m5 0h1m34 0h1m104 0h1m2 0h1m-174 1h1m2 0h1m9 0h1m6 0h1m7 0h1m13 0h1m3 0h1m5 0h1m12 0h1m13 0h1m7 0h2m6 0h1m3 0h3m17 0h1m3 0h1m27 0h1m28 0h1m-129 1h1m1 0h2m14 0h2m5 0h1m2 0h1m5 0h1m14 0h1m60 0h1m12 0h1m7 0h1m-168 1h1m28 0h1m9 0h2m2 0h1m8 0h1m1 0h1m14 0h2m7 0h1m18 0h1m-106 1h1m1 0h1m6 0h1m1 0h1m21 0h1m8 0h1m4 0h1m6 0h1m20 0h1m-86 1h1m6 0h1m68 0h1m10 0h1m18 0h1m2 0h1m20 0h1m50 0h1m4 0h1m-177 1h1m12 0h1m1 0h2m33 0h1m4 0h1m28 0h1m45 0h1m25 0h1m-150 1h1m2 0h1m28 0h1m16 0h1m2 0h1m6 0h1m17 0h1m9 0h1m4 0h1m-92 1h1m4 0h1m5 0h1m25 0h1m4 0h1m37 0h1m5 0h1m13 0h1m65 0h1m-159 1h1m54 0h1m18 0h1m2 0h1m-87 1h1m35 0h1m1 0h1m31 0h1m9 0h1m2 0h1m7 0h1m13 0h1m21 0h1m33 0h1m-152 1h1m26 0h1m42 0h1m1 0h1m2 0h1m4 0h1m1 0h1m8 0h1m9 0h1m2 0h1m4 0h1m5 0h1m-28 1h1m2 0h1m20 0h1m17 0h1m-139 1h1m19 0h1m69 0h1m5 0h1m2 0h1m5 0h1m57 0h1m-144 1h1m74 0h1m8 0h1m17 0h1m9 0h1m-85 1h1m78 0h1m-114 1h1m95 0h1m6 0h1m36 0h1m6 0h1m2 0h1m-25 1h1m-169 1h1m152 0h1m25 0h1m-39 1h1m49 0h1m-59 1h1m55 0h1m2 0h1m1 0h1m-125 1h1m24 0h1m79 0h1m2 0h1m16 0h1m-142 1h1m15 0h1m73 0h1m29 0h1m21 0h2m4 0h1m-144 1h1m11 0h1m76 0h1m52 0h1m-134 1h1m17 0h1m5 0h1m49 0h1m6 0h1m14 0h1m32 0h1m-62 1h1m4 0h1m10 0h1m2 0h1m-89 1h1m8 0h1m1 0h1m-64 1h1m8 0h1m50 0h1m62 0h1m25 0h1m-161 1h1m156 0h1m6 0h1m27 0h1m-123 1h1m90 0h1m-103 1h1m3 0h1m14 0h1m-76 1h1m25 0h1m27 0h1m5 0h1m89 0h1m-95 1h1m25 0h1m69 0h1m25 0h1m-182 1h2m156 0h1m-148 1h1m147 0h1m3 0h1m-153 1h1m13 0h1m3 0h1m120 0h1m2 0h1m-131 1h4m9 1h1m42 0h1m15 0h1m96 0h1m-179 1h1m9 0h1m10 0h1m-27 1h1m14 0h1m3 0h1m10 0h1m45 0h1m-65 1h1m1 0h1m9 0h1m22 0h1m10 0h1m89 0h1m-137 1h1m14 0h1m5 0h1m111 0h2m18 0h1m-163 1h1m21 0h1m5 0h1m115 0h1m-156 1h1m16 0h1m7 0h1m5 0h1m7 0h1m13 0h2m57 0h1m44 0h2m2 0h1m-151 1h1m1 0h1m5 0h1m18 0h1m15 0h1m3 0h1m4 0h1m37 0h1m18 0h1m53 0h1m2 0h1m2 0h1m-170 1h1m28 0h1m5 0h1m38 0h1m33 0h1m10 0h1m28 0h1m2 0h1m-147 1h1m2 0h1m5 0h1m38 0h1m90 0h1m1 0h1m9 0h1m11 0h1m22 0h1m-187 1h1m4 0h1m21 0h2m8 0h1m2 0h2m20 0h1m106 0h1m-173 1h1m6 0h1m32 0h1m45 0h1m66 0h1m-149 1h1m23 0h1m18 0h1m10 0h1m18 0h1m5 0h1m56 0h1m44 0h1m-178 1h1m6 0h2m22 0h1m6 0h1m5 0h1m36 0h1m29 0h1m30 0h1m6 0h1m27 0h1m-157 1h2m23 0h2m1 0h1m42 0h1m49 0h1m34 0h1m-177 1h1m26 0h1m6 0h1m8 0h1m8 0h1m2 0h1m20 0h1m14 0h1m3 0h1m17 0h1m2 0h1m58 0h1m-186 1h1m17 0h2m16 0h1m6 0h1m11 0h1m11 0h1m17 0h1m3 0h1m26 0h1m14 0h1m12 0h1m38 0h1m1 0h1m-175 1h1m11 0h2m8 0h1m12 0h1m11 0h1m16 0h1m6 0h1m35 0h1m48 0h1m-105 1h1m10 0h1m7 0h1m2 0h1m29 0h1m-92 1h1m18 0h2m5 0h2m1 0h1m1 0h1m18 0h1m11 0h1m3 0h1m9 0h1m6 0h1m37 0h1m-141 1h1m13 0h1m24 0h1m26 0h1m6 0h1m2 0h1m4 0h1m34 0h1m62 0h1m2 0h1m-180 1h1m7 0h1m4 0h1m40 0h1m67 0h1m-111 1h1m38 0h2m16 0h1m28 0h1m1 0h1m1 0h1m8 0h1m20 0h1m22 0h1m10 0h1m-157 1h1m3 0h1m9 0h1m15 0h1m8 0h1m20 0h1m8 0h2m3 0h1m8 0h1m1 0h1m46 0h1m21 0h1m-146 1h1m9 0h1m8 0h1m35 0h1m4 0h1m4 0h1m25 0h1m19 0h2m13 0h1m1 0h2m8 0h1m-150 1h1m9 0h1m35 0h1m13 0h1m66 0h1m24 0h1m-144 1h1m1 0h1m28 0h1m2 0h1m2 0h1m17 0h1m39 0h1m55 0h1m-158 1h1m65 0h1m20 0h1m35 0h1m37 0h1m-139 1h1m21 0h1m15 0h1m5 0h1m4 0h1m14 0h1m31 0h1m3 0h1m5 0h1m3 0h1m-136 1h1m32 0h1m33 0h1m8 0h1m3 0h2m49 0h1m29 0h1m-148 1h1m14 0h1m33 0h1m27 0h1m21 0h1m10 0h1m4 0h1m30 0h1m-149 1h2m24 0h1m32 0h1m40 0h1m15 0h1m-111 1h1m34 0h1m20 0h1m3 0h1m27 0h1m2 0h1m6 0h1m31 0h1m-125 1h1m25 0h1m10 0h1m18 0h1m10 0h1m23 0h1m4 0h1m22 0h1m-131 1h1m37 0h1m1 0h1m47 0h1m41 0h1m-138 1h1m25 0h1m12 0h1m1 0h1m4 0h1m2 0h1m17 0h1m1 0h1m51 0h1m7 0h1m7 0h1m8 0h1m-135 1h1m17 0h2m17 0h1m9 0h1m9 0h1m33 0h1m17 0h1m-110 1h1m9 0h1m75 0h1m46 0h1m-126 1h1m1 0h1m79 0h1m1 0h1m25 0h1m6 0h2m-116 1h1m60 0h1m13 0h1m-79 1h1m35 0h1m35 0h1m-34 1h1m2 0h1m1 0h1m-39 1h1m23 0h1m30 0h1m3 0h1m20 0h1m13 0h1m9 0h2m-81 1h1m6 0h1m39 0h1m11 0h1m20 0h1m7 0h1m-103 1h1m48 0h1m17 0h1m7 0h1m7 0h1m6 0h1m7 0h1m-58 1h1m64 0h1m-117 1h1m42 0h1m71 0h1m-61 1h1m43 0h1m4 0h1m-19 1h1m7 0h1m-52 1h1m36 0h1m29 0h1m-112 1h1m24 0h1m30 0h1m17 0h1m1 0h1m24 0h1m-103 1h2m44 1h1m49 0h1m15 0h1m-41 1h1m-23 1h1m24 1h1m-47 1h1m82 0h1m-78 1h1m52 0h1m11 0h1m14 0h1m-81 1h2m-6 1h1m76 0h1m-73 1h1m62 0h1m8 0h1m-20 3h1m-2 7h1"/>
<path stroke="#008741" d="M46 20h1m-1 12h1m116 5h1m11 1h1m8 0h1m-6 1h1m-7 2h1m-37 1h1m63 0h1m19 0h1m-35 2h1m-58 1h1m70 0h1m1 1h1m7 0h1m13 0h1m-177 1h1m1 0h1m111 0h1m-114 1h1m151 0h1m21 1h1m4 1h1m-72 2h1m-107 1h1m101 0h1m-35 1h1m9 0h1m24 0h1m82 0h1m-130 2h1m102 0h1m20 0h1m-150 1h1m145 0h1m5 0h1m-5 2h1m14 2h1m-103 1h1m11 0h1m60 0h1m13 0h1m-95 1h1m6 0h1m11 0h1m75 0h1m-50 1h1m-38 1h1m5 0h1m3 0h2m15 0h1m12 0h1m32 0h1m19 0h1m12 0h1m-143 1h1m74 0h1m-121 1h1m13 0h1m39 0h1m68 0h1m59 0h1m-169 1h1m9 0h1m4 0h1m2 0h2m2 0h1m9 0h1m1 0h2m4 0h1m1 0h1m17 0h1m11 0h1m3 0h1m7 0h1m6 0h1m-93 1h2m1 0h1m27 0h1m8 0h1m12 0h1m26 0h1m-47 1h1m9 0h1m42 0h1m3 0h1m-93 1h1m2 0h1m1 0h1m6 0h1m6 0h1m5 0h1m13 0h1m26 0h1m13 0h1m-38 1h1m22 0h1m12 0h3m-98 1h1m16 0h1m12 0h1m2 0h1m6 0h1m2 0h1m2 0h1m1 0h1m1 0h1m2 0h1m11 0h2m1 0h1m88 0h1m-140 1h1m14 0h1m4 0h1m9 0h1m2 0h1m4 0h1m10 0h1m10 0h2m7 0h1m2 0h1m20 0h2m18 0h1m33 0h1m-165 1h1m16 0h1m1 0h1m18 0h1m16 0h1m3 0h1m41 0h1m52 0h1m28 0h1m-133 1h1m1 0h1m4 0h1m26 0h1m2 0h2m25 0h1m9 0h1m40 0h1m-120 1h1m39 0h1m15 0h1m7 0h1m3 0h1m49 0h1m11 0h1m-154 1h1m60 0h1m15 0h1m1 0h1m41 0h1m-35 1h1m7 0h1m8 0h1m28 0h1m9 0h1m6 0h1m14 0h1m-88 1h1m8 0h1m6 0h1m6 0h1m-71 1h1m18 0h1m11 0h1m30 0h1m3 0h1m11 0h1m24 0h1m-118 1h1m89 0h1m22 0h1m5 0h1m27 0h1m-186 1h1m119 0h1m2 0h1m3 0h1m29 0h1m25 0h1m-43 1h1m-148 1h1m38 0h1m72 0h1m32 0h1m11 0h1m-2 1h2m-25 1h2m9 0h1m6 0h1m-19 1h1m2 0h1m43 0h1m-108 1h1m124 0h1m-27 1h1m7 0h1m12 0h1m-19 1h1m23 0h1m-37 2h1m1 0h1m3 0h1m28 0h1m-55 1h1m1 0h1m4 0h1m13 0h1m5 0h1m-33 1h1m21 0h1m2 0h1m-151 1h1m59 0h1m51 0h1m34 0h1m-143 1h1m54 0h1m84 0h1m2 0h1m39 0h1m-199 1h2m61 0h1m4 0h1m90 0h1m-103 1h1m100 0h1m-149 1h1m49 0h1m96 0h1m41 0h1m-41 1h1m6 0h1m-141 1h1m1 0h1m123 0h1m8 0h1m22 1h1m17 0h1m-150 1h1m130 0h2m16 0h1m-179 1h1m-19 1h3m20 0h1m172 0h1m-196 1h1m4 0h1m146 0h1m18 0h1m6 0h1m2 0h1m13 0h1m-193 1h1m26 0h1m89 0h1m5 0h1m20 0h1m4 0h1m14 0h1m-136 1h1m44 0h1m-26 1h1m89 0h1m8 0h2m-63 1h1m4 0h1m7 0h1m66 0h1m-171 1h1m20 0h1m17 0h1m4 0h1m51 0h1m45 0h1m8 0h1m14 0h1m-160 1h3m11 0h2m13 0h1m77 0h1m28 0h1m9 0h1m10 0h2m-162 1h1m2 0h2m26 0h1m13 0h1m62 0h1m26 0h1m7 0h1m11 0h1m5 0h1m20 0h1m5 0h1m3 0h1m-193 1h1m1 0h1m28 0h1m36 0h1m33 0h1m52 0h3m1 0h1m31 0h1m-164 1h1m7 0h1m8 0h1m104 0h2m11 0h1m-159 1h1m12 0h1m22 0h1m1 0h1m5 0h1m14 0h1m1 0h1m12 0h1m21 0h1m62 0h1m-117 1h1m4 0h1m10 0h1m21 0h1m77 0h1m4 0h1m-142 1h1m37 0h1m96 0h1m3 0h1m-154 1h1m17 0h1m40 0h1m8 0h2m1 0h1m102 0h1m-182 1h1m4 0h1m9 0h1m2 0h1m32 0h1m9 0h1m15 0h1m22 0h1m11 0h1m25 0h1m19 0h1m8 0h1m13 0h1m-167 1h1m6 0h1m2 0h3m18 0h1m2 0h1m23 0h2m56 0h1m24 0h1m-126 1h1m28 0h1m11 0h1m25 0h1m39 0h1m39 0h1m3 0h1m-179 1h1m4 0h1m2 0h3m19 0h1m30 0h1m9 0h1m85 0h1m2 0h1m17 0h1m-178 1h1m16 0h1m1 0h1m10 0h1m11 0h1m13 0h1m1 0h1m1 0h1m1 0h1m99 0h1m2 0h1m-159 1h1m11 0h1m9 0h1m8 0h1m16 0h1m19 0h1m47 0h1m42 0h1m8 0h1m-180 1h1m5 0h1m24 0h1m5 0h1m32 0h1m16 0h1m13 0h1m28 0h1m-126 1h1m1 0h1m2 0h1m10 0h1m9 0h1m62 0h1m7 0h1m24 0h1m32 0h1m-156 1h1m3 0h1m16 0h1m3 0h1m10 0h1m9 0h1m13 0h1m11 0h1m2 0h1m11 0h1m32 0h1m-101 1h1m8 0h1m12 0h2m4 0h1m3 0h1m60 0h1m32 0h1m5 0h1m1 0h1m-140 1h1m50 0h1m1 0h1m41 0h1m16 0h1m1 0h1m-131 1h1m1 0h1m51 0h1m9 0h1m6 0h1m32 0h1m5 0h1m6 0h1m25 0h1m4 0h1m3 0h1m-145 1h1m47 0h1m1 0h1m10 0h1m21 0h1m49 0h1m-127 1h1m4 0h1m41 0h1m3 0h3m13 0h1m6 0h1m23 0h1m-81 1h1m20 0h1m73 0h1m9 0h1m13 0h1m-100 1h1m23 0h1m10 0h1m25 0h1m2 0h1m8 0h1m-86 1h1m9 0h1m87 0h1m-114 1h1m29 0h1m2 0h1m2 0h1m17 0h1m4 0h1m9 0h1m14 0h1m15 0h1m26 0h1m3 0h1m-133 1h1m54 0h1m26 0h1m18 0h1m5 0h1m-107 1h1m3 0h1m36 0h2m19 0h1m8 0h1m4 0h1m6 0h1m26 0h1m16 0h1m-120 1h1m3 0h1m19 0h1m34 0h1m1 0h1m23 0h1m33 0h1m2 0h1m3 0h1m-127 1h1m17 0h1m20 0h1m13 0h1m12 0h1m20 0h1m9 0h1m-76 1h1m8 0h1m76 0h1m-55 1h1m5 0h1m21 0h1m3 0h1m-100 1h1m16 0h1m12 0h1m15 0h1m46 0h1m15 0h1m-97 1h1m27 0h2m4 0h1m51 0h1m32 0h1m-129 1h1m18 0h1m11 0h1m5 0h1m3 0h1m36 0h2m21 0h1m3 0h1m-99 1h1m11 0h1m72 0h1m14 0h1m-59 1h1m7 0h1m18 0h1m10 0h1m-73 1h1m2 0h1m12 0h2m27 0h1m36 0h1m28 0h1m-46 1h2m8 0h2m3 0h1m7 0h1m-90 1h2m18 1h1m13 0h2m79 0h1m-74 1h1m4 0h1m22 0h1m15 0h1m17 0h1m4 0h1m-67 1h3m30 0h1m9 0h1m11 0h1m-76 1h1m47 0h1m32 0h1m-80 1h1m14 0h1m7 0h1m59 0h1m2 0h1m-79 1h1m9 0h1m-16 1h1m76 0h1m11 0h1m-88 2h1m75 0h1m-2 1h1m-78 2h1m73 0h2m-4 1h1m4 1h1"/>
<path stroke="#007837" d="M201 38h1m7 0h1m-8 1h1m10 1h1m-27 2h1m-36 1h1m34 0h1m39 1h1m-40 1h1m27 0h1m-87 1h1m76 0h1m-138 2h1m47 0h1m-66 1h1m15 0h1m40 0h1m105 0h1m8 0h1m-76 1h1m1 1h1m81 0h1m-15 1h1m-15 1h1m13 0h1m-17 1h1m20 0h1m-160 1h1m43 0h1m119 0h1m7 0h2m-188 1h1m161 2h1m-121 1h1m123 0h1m-127 1h1m24 0h1m1 0h1m127 0h1m-150 1h1m-30 1h1m11 0h1m61 0h1m75 0h1m-76 1h1m1 0h1m83 0h1m19 0h1m-105 1h1m5 0h1m5 0h1m-44 1h1m29 0h1m40 0h1m-94 1h1m28 0h1m35 0h1m94 0h1m-186 1h1m18 0h2m23 0h1m9 0h1m127 0h1m2 0h1m-180 1h1m8 0h1m8 0h1m39 0h1m10 0h1m15 0h1m4 0h1m-96 1h1m20 0h1m1 0h1m16 0h1m35 0h2m21 0h1m83 0h1m-173 1h2m6 0h1m14 0h1m31 0h1m28 0h1m78 0h1m4 0h1m-124 1h1m16 0h2m9 0h1m65 0h1m-111 1h1m6 0h1m8 0h1m8 0h1m15 0h1m1 0h1m40 0h1m50 0h1m-163 1h2m18 0h1m1 0h1m9 0h1m10 0h1m16 0h1m82 0h1m-146 1h1m25 0h1m2 0h1m2 0h1m10 0h1m33 0h1m19 0h1m44 0h1m26 0h1m2 0h1m-166 1h2m15 0h1m9 0h1m2 0h1m11 0h1m31 0h1m12 0h1m19 0h1m30 0h1m2 0h1m24 0h1m-171 1h1m11 0h1m61 0h1m8 0h1m2 0h1m84 0h1m-167 1h1m7 0h2m55 0h1m5 0h1m54 0h1m9 0h1m1 0h1m-164 1h1m15 0h1m92 0h1m2 0h1m19 0h1m1 0h1m1 0h1m8 0h1m15 0h1m4 0h1m-65 1h1m18 0h2m10 0h1m5 0h1m26 0h1m15 0h1m-69 1h1m23 0h1m50 0h1m-49 1h1m5 0h1m8 0h1m26 1h2m-143 1h1m15 0h1m69 0h1m14 0h1m-20 1h1m4 0h1m9 0h1m17 0h1m-143 1h1m99 0h1m38 0h1m11 0h2m15 0h1m-50 1h2m31 0h1m9 0h1m6 0h2m-119 1h1m67 0h1m8 0h1m3 0h1m31 0h1m-4 1h1m16 0h1m-18 1h1m1 1h1m5 0h1m6 0h1m-127 1h1m16 0h1m24 0h1m85 0h1m-33 1h1m6 0h1m0 1h1m23 0h1m3 0h2m-180 1h1m113 0h1m26 0h1m29 0h1m-146 1h1m94 0h1m50 0h1m-32 1h1m-150 1h1m47 0h1m102 0h1m3 0h1m21 1h1m-178 1h1m66 0h1m83 0h1m-148 1h1m143 0h1m33 0h1m3 0h1m-196 1h1m24 0h1m131 0h1m0 1h1m37 0h1m-47 1h1m-145 1h1m151 0h2m40 0h1m-176 1h1m1 0h1m-29 1h1m158 0h1m-150 1h1m154 0h1m7 0h1m13 0h1m-177 1h1m21 0h1m68 0h1m75 0h1m9 0h1m-28 1h1m-157 1h1m16 0h1m11 0h1m5 0h2m132 0h1m1 0h1m22 0h1m2 0h2m-197 1h1m51 0h1m39 0h1m68 0h1m9 0h1m2 0h1m12 0h1m-166 1h1m7 0h1m14 0h1m58 0h1m59 0h1m9 0h1m11 0h1m-173 1h1m126 0h2m11 0h1m1 0h1m-152 1h1m14 0h1m17 0h1m75 0h1m52 0h1m9 0h1m9 0h1m-148 1h1m-27 1h1m52 0h1m38 0h1m51 0h1m1 0h1m8 0h1m12 0h1m10 0h1m-161 1h1m3 0h1m29 0h1m29 0h2m5 0h1m53 0h1m5 0h1m7 0h2m-148 1h1m10 0h1m13 0h1m2 0h1m7 0h1m49 0h1m18 0h1m38 0h2m4 0h1m4 0h2m-132 1h3m5 0h1m9 0h1m36 0h1m72 0h1m5 0h1m-182 1h1m22 0h1m32 0h1m30 0h1m1 0h1m3 0h1m61 0h1m-100 1h1m19 0h1m39 0h1m6 0h1m62 0h1m-151 1h1m14 0h1m3 0h1m35 0h1m52 0h1m7 0h1m18 0h1m9 0h1m-143 1h1m13 0h1m24 0h1m9 0h2m18 0h1m-84 1h1m8 0h1m38 0h1m38 0h1m48 0h1m24 0h2m-173 1h1m36 0h1m11 0h1m1 0h1m10 0h1m16 0h1m19 0h1m3 0h1m59 0h1m-137 1h1m12 0h1m3 0h1m13 0h1m30 0h1m18 0h1m-92 1h1m16 0h2m6 0h1m16 0h1m36 0h1m28 0h1m6 0h1m12 0h1m6 0h1m-143 1h1m1 0h1m20 0h1m20 0h1m6 0h1m4 0h1m66 0h1m24 0h1m-151 1h1m2 0h1m13 0h1m1 0h1m1 0h1m36 0h1m101 0h2m-135 1h1m28 0h1m8 0h1m1 0h1m4 0h1m-10 1h1m10 0h1m46 0h1m-130 1h1m3 0h1m10 0h1m8 0h1m21 0h1m1 0h1m5 0h1m19 0h1m46 0h1m15 0h1m-114 1h1m18 0h1m19 0h1m22 0h1m15 0h1m14 0h1m4 0h1m1 0h1m11 0h1m6 0h1m3 0h1m17 0h2m-151 1h1m26 0h1m10 0h1m3 0h1m1 0h1m11 0h1m38 0h1m12 0h1m7 0h1m-61 1h1m-43 1h1m3 0h2m3 0h1m12 0h1m29 0h1m5 0h1m21 0h1m46 0h1m3 0h1m-85 1h1m29 0h1m15 0h1m-13 1h1m1 0h1m7 0h1m-118 1h1m53 0h2m10 0h1m13 0h1m21 0h2m7 0h1m43 0h1m-139 1h2m24 0h1m5 0h1m17 0h1m24 0h1m11 0h1m-82 1h1m35 0h1m11 0h1m32 0h1m15 0h1m-89 1h1m13 0h1m17 0h1m10 0h1m63 0h1m-109 1h1m16 0h1m13 0h1m14 0h1m12 0h1m5 0h2m24 0h1m7 0h1m14 0h1m-102 1h1m13 0h1m6 0h1m-21 1h1m46 0h1m19 0h1m1 0h1m36 0h1m-141 1h1m25 0h1m7 0h1m1 0h1m21 0h1m-51 1h2m15 0h1m2 0h1m41 0h1m2 0h1m15 0h1m4 0h1m24 0h1m-111 1h1m31 0h1m21 0h1m37 0h1m4 0h1m10 0h1m-48 1h1m13 0h1m16 0h1m12 0h1m-75 1h1m39 0h1m10 0h1m-71 1h1m18 0h1m15 0h1m9 0h1m49 0h1m7 0h1m-76 1h1m30 0h1m28 0h1m13 0h1m-46 1h1m22 0h1m2 0h1m10 0h1m10 0h1m-106 1h1m19 0h1m76 0h1m3 0h1m2 0h1m-71 1h1m69 0h1m2 0h1m-53 1h1m63 0h1m-91 1h1m16 0h1m37 0h1m9 0h1m-52 1h1m5 0h1m6 0h1m21 0h1m21 0h1m-74 1h1m23 0h1m20 0h1m34 1h1m-34 1h1m11 0h1m21 0h2m7 0h1m-20 1h1m-9 1h1m24 0h1m-85 1h1m73 0h1m-19 15h1"/>
<path stroke="#00642d" d="M47 16h1m-3 2h1m0 3h1m-3 13h1m152 3h1m11 0h1m-14 1h1m5 0h1m12 0h1m-13 1h1m-49 1h1m64 0h1m-3 1h1m1 0h1m-18 1h1m16 0h1m1 0h1m2 0h1m-23 1h1m18 0h3m-157 1h1m133 0h1m1 0h1m10 0h1m3 0h2m2 0h1m1 0h2m-94 1h1m56 0h2m4 0h1m8 0h1m9 0h1m2 0h2m3 0h2m2 0h1m-36 1h1m11 0h3m8 0h1m4 0h2m1 0h1m-154 1h1m114 0h2m16 0h1m2 0h1m4 0h3m5 0h2m3 0h1m-174 1h2m78 0h1m69 0h1m4 0h2m2 0h3m1 0h1m-164 1h1m18 0h1m84 0h1m34 0h1m10 0h2m4 0h2m1 0h3m5 0h2m-162 1h1m142 0h2m4 0h7m3 0h4m1 0h1m1 0h1m5 0h1m2 0h2m-165 1h1m24 0h2m94 0h1m9 0h2m2 0h1m1 0h8m4 0h1m3 0h2m10 0h1m-33 1h2m2 0h5m3 0h1m2 0h2m4 0h1m1 0h1m5 0h1m4 0h1m-80 1h1m42 0h1m2 0h1m4 0h1m1 0h1m6 0h1m6 0h2m5 0h1m1 0h2m-87 1h1m8 0h1m43 0h1m2 0h1m20 0h1m1 0h1m4 0h1m5 0h1m-38 1h1m22 0h1m7 0h1m1 0h1m-13 1h2m4 0h3m10 0h1m-185 1h1m153 0h1m4 0h1m15 0h1m-113 1h1m89 0h3m2 0h2m1 0h1m-8 1h6m11 0h3m8 0h1m-138 1h1m26 0h1m81 0h6m6 0h1m4 0h1m1 0h1m8 0h1m5 0h1m-172 1h1m47 0h1m86 0h1m1 0h7m8 0h1m7 0h1m10 0h1m2 0h1m-37 1h4m29 0h3m-150 1h1m56 0h1m57 0h2m1 0h2m7 0h1m21 0h1m2 0h1m-108 1h1m69 0h1m5 0h1m1 0h2m9 0h1m7 0h1m3 0h4m1 0h1m-140 1h1m40 0h1m20 0h1m6 0h1m40 0h6m11 0h1m6 0h5m1 0h1m-168 1h5m23 0h1m11 0h1m21 0h1m6 0h3m1 0h1m16 0h1m8 0h1m34 0h2m1 0h2m6 0h1m10 0h1m4 0h3m1 0h4m-170 1h4m2 0h1m21 0h1m41 0h2m31 0h2m32 0h3m22 0h4m2 0h2m-194 1h1m8 0h1m13 0h1m1 0h3m1 0h1m9 0h1m10 0h3m5 0h2m1 0h1m1 0h1m23 0h1m20 0h2m20 0h1m2 0h1m16 0h1m9 0h4m8 0h1m13 0h3m1 0h5m-187 1h2m27 0h2m12 0h1m1 0h1m6 0h1m2 0h1m21 0h1m22 0h1m18 0h2m31 0h3m22 0h1m1 0h2m1 0h2m2 0h1m-165 1h5m2 0h2m4 0h1m6 0h5m6 0h3m21 0h1m4 0h1m15 0h1m53 0h3m22 0h1m2 0h1m1 0h5m-174 1h2m6 0h1m3 0h6m3 0h3m5 0h3m1 0h1m6 0h2m1 0h2m3 0h1m15 0h1m4 0h1m43 0h1m6 0h2m18 0h2m24 0h9m-175 1h1m1 0h2m7 0h6m4 0h5m4 0h2m1 0h2m2 0h2m1 0h1m2 0h2m17 0h2m5 0h1m1 0h1m5 0h1m25 0h1m10 0h1m4 0h3m18 0h2m24 0h9m-168 1h1m3 0h2m1 0h2m5 0h1m3 0h1m4 0h1m4 0h1m1 0h2m1 0h5m1 0h1m17 0h1m4 0h3m5 0h4m33 0h1m3 0h1m2 0h1m30 0h1m3 0h1m7 0h5m2 0h4m-173 1h3m2 0h1m1 0h3m8 0h1m4 0h1m1 0h1m5 0h1m1 0h1m6 0h1m1 0h1m2 0h2m14 0h2m11 0h1m1 0h2m2 0h1m13 0h1m16 0h1m4 0h3m3 0h1m20 0h1m6 0h1m10 0h5m2 0h2m1 0h3m-166 1h2m2 0h2m9 0h3m7 0h2m5 0h1m1 0h1m17 0h1m10 0h1m3 0h1m4 0h1m12 0h3m15 0h1m1 0h1m3 0h3m5 0h1m4 0h1m6 0h2m22 0h4m2 0h3m2 0h1m-167 1h2m4 0h1m1 0h1m7 0h1m1 0h2m2 0h1m5 0h1m2 0h1m5 0h1m24 0h1m14 0h1m9 0h1m18 0h2m1 0h3m1 0h2m4 0h1m11 0h1m2 0h1m2 0h1m1 0h1m13 0h11m-165 1h1m15 0h1m2 0h1m16 0h1m30 0h1m25 0h1m1 0h2m1 0h2m3 0h1m3 0h1m2 0h3m8 0h1m3 0h2m3 0h2m1 0h2m10 0h1m7 0h1m2 0h11m-167 1h1m64 0h1m2 0h1m14 0h1m8 0h1m2 0h2m2 0h1m11 0h1m12 0h2m3 0h2m1 0h1m7 0h1m7 0h2m7 0h3m1 0h5m-167 1h1m1 0h1m36 0h1m4 0h1m46 0h1m11 0h1m1 0h1m1 0h1m16 0h1m1 0h1m2 0h1m3 0h2m1 0h2m15 0h1m6 0h7m3 0h1m-190 1h1m20 0h1m19 0h1m76 0h1m5 0h2m4 0h1m2 0h1m4 0h1m3 0h1m4 0h2m4 0h2m1 0h3m20 0h6m-149 1h1m1 0h1m42 0h1m34 0h1m2 0h1m3 0h1m1 0h1m6 0h3m3 0h1m1 0h1m1 0h1m4 0h2m4 0h1m2 0h3m5 0h1m1 0h1m12 0h5m-145 1h1m75 0h1m8 0h1m4 0h2m2 0h2m3 0h4m6 0h1m6 0h2m24 0h2m-49 1h1m1 0h1m4 0h1m2 0h1m4 0h2m3 0h3m17 0h1m5 0h1m1 0h1m-64 1h1m8 0h1m18 0h1m1 0h2m27 0h4m1 0h1m-186 1h1m129 0h1m6 0h2m6 0h1m5 0h1m2 0h2m1 0h1m3 0h2m17 0h1m1 0h2m-149 1h1m48 0h1m18 0h1m5 0h1m34 0h1m4 0h3m2 0h3m15 0h1m8 0h1m-179 1h1m88 0h1m44 0h1m1 0h1m9 0h3m21 0h5m1 0h5m-184 1h1m132 0h2m15 0h1m22 0h2m5 0h4m2 0h1m4 0h1m-71 1h1m6 0h1m4 0h2m4 0h1m8 0h1m20 0h1m4 0h1m1 0h1m3 0h6m1 0h1m1 0h1m1 0h1m1 0h1m-182 1h1m39 0h1m68 0h1m12 0h2m1 0h1m29 0h1m4 0h4m2 0h5m1 0h5m-109 1h1m54 0h2m2 0h1m4 0h1m13 0h2m8 0h1m3 0h20m6 0h1m-186 1h1m42 0h1m59 0h1m18 0h1m4 0h1m1 0h2m25 0h1m1 0h21m3 0h3m-138 1h1m46 0h1m24 0h1m7 0h3m3 0h1m22 0h23m3 0h1m-135 1h1m1 0h1m14 0h1m4 0h1m55 0h1m6 0h1m17 0h3m1 0h2m2 0h17m1 0h8m-131 1h1m78 0h2m1 0h1m14 0h1m1 0h6m2 0h16m1 0h7m-136 1h1m63 0h1m33 0h1m3 0h27m1 0h1m1 0h4m-59 1h1m6 0h1m15 0h3m1 0h27m1 0h2m1 0h1m-40 1h1m1 0h15m1 0h11m1 0h11m-188 1h2m78 0h1m68 0h1m1 0h2m2 0h9m1 0h5m1 0h18m-199 1h2m1 0h1m6 0h2m23 0h1m19 0h1m38 0h1m9 0h1m25 0h1m16 0h1m6 0h1m4 0h4m1 0h15m3 0h9m1 0h3m1 0h2m-171 1h1m121 0h1m2 0h3m4 0h6m1 0h18m1 0h11m1 0h3m-174 1h1m45 0h1m56 0h1m29 0h1m2 0h8m1 0h4m2 0h16m1 0h2m1 0h4m-127 1h1m49 0h1m34 0h1m1 0h13m3 0h6m1 0h17m-197 1h2m1 0h1m152 0h1m1 0h12m2 0h7m2 0h15m-196 1h4m14 0h1m136 0h2m1 0h13m1 0h9m1 0h4m1 0h4m1 0h5m-188 1h1m11 0h2m11 0h2m119 0h14m1 0h26m-204 1h1m33 0h1m48 0h1m35 0h1m15 0h1m21 0h1m6 0h1m1 0h2m1 0h7m1 0h4m1 0h6m1 0h1m2 0h13m-168 1h1m125 0h13m2 0h3m1 0h9m1 0h14m-165 1h1m1 0h1m42 0h1m75 0h1m2 0h11m2 0h2m1 0h25m-187 1h1m13 0h1m80 0h1m1 0h2m41 0h1m3 0h14m3 0h1m1 0h20m1 0h2m-196 1h1m12 0h1m32 0h1m30 0h1m30 0h1m44 0h1m2 0h6m1 0h6m4 0h2m1 0h12m1 0h9m-186 1h1m79 0h1m11 0h1m36 0h1m11 0h10m6 0h2m5 0h11m1 0h3m2 0h5m-191 1h1m13 0h1m24 0h1m1 0h1m8 0h1m67 0h1m32 0h2m1 0h1m6 0h17m2 0h1m1 0h2m2 0h5m-176 1h1m78 0h2m3 0h1m37 0h2m8 0h1m3 0h2m2 0h3m2 0h1m1 0h4m2 0h3m1 0h8m2 0h2m1 0h1m1 0h2m-190 1h1m6 0h2m1 0h1m4 0h1m43 0h1m34 0h3m5 0h2m38 0h3m4 0h1m2 0h2m3 0h1m3 0h10m4 0h14m-189 1h1m15 0h1m13 0h1m50 0h1m15 0h1m1 0h1m2 0h2m2 0h2m1 0h2m24 0h1m6 0h2m3 0h2m2 0h1m4 0h6m3 0h9m1 0h2m1 0h10m-188 1h1m2 0h1m25 0h1m1 0h1m9 0h1m3 0h1m34 0h1m13 0h1m1 0h3m4 0h2m1 0h2m23 0h1m18 0h1m1 0h1m1 0h5m1 0h2m3 0h1m3 0h6m2 0h1m1 0h8m1 0h1m-160 1h3m11 0h1m6 0h2m4 0h1m7 0h1m21 0h1m5 0h6m3 0h1m1 0h1m1 0h2m20 0h1m23 0h1m2 0h3m1 0h1m3 0h1m7 0h1m1 0h1m5 0h9m1 0h1m-161 1h2m19 0h3m3 0h1m30 0h1m4 0h7m6 0h3m1 0h1m17 0h2m1 0h1m21 0h1m2 0h5m6 0h1m3 0h2m1 0h1m2 0h1m1 0h3m1 0h5m-172 1h1m10 0h3m1 0h2m17 0h5m24 0h1m13 0h1m1 0h4m4 0h1m1 0h1m1 0h1m19 0h1m10 0h1m9 0h1m8 0h3m4 0h3m5 0h1m2 0h2m1 0h10m-173 1h3m9 0h3m1 0h2m7 0h3m4 0h1m1 0h3m1 0h1m2 0h1m3 0h2m27 0h3m2 0h7m2 0h5m14 0h1m3 0h1m11 0h1m6 0h1m2 0h1m4 0h1m2 0h1m1 0h1m6 0h1m6 0h1m1 0h1m1 0h10m-170 1h3m1 0h3m5 0h2m1 0h2m5 0h4m5 0h2m4 0h1m1 0h1m2 0h3m27 0h4m1 0h1m1 0h4m1 0h6m1 0h2m3 0h2m1 0h1m4 0h1m3 0h2m12 0h1m2 0h1m2 0h1m1 0h2m4 0h1m3 0h3m1 0h1m14 0h3m3 0h1m1 0h2m-172 1h1m4 0h4m5 0h12m12 0h3m2 0h1m2 0h3m5 0h1m13 0h3m2 0h2m3 0h6m1 0h2m1 0h5m2 0h1m3 0h1m2 0h2m2 0h3m1 0h3m19 0h1m1 0h3m2 0h3m1 0h5m11 0h3m6 0h4m-178 1h2m4 0h1m1 0h1m2 0h2m8 0h7m1 0h6m3 0h1m6 0h1m2 0h1m1 0h1m1 0h1m6 0h3m12 0h1m3 0h4m1 0h3m1 0h6m1 0h2m1 0h4m1 0h1m2 0h1m1 0h4m2 0h7m1 0h1m17 0h2m4 0h1m2 0h5m7 0h1m5 0h1m2 0h3m7 0h1m2 0h1m-172 1h3m3 0h1m2 0h3m4 0h9m1 0h3m2 0h4m3 0h2m1 0h3m6 0h1m16 0h2m1 0h1m2 0h2m1 0h1m1 0h1m1 0h8m1 0h4m1 0h3m1 0h3m1 0h1m2 0h1m1 0h1m1 0h2m3 0h1m7 0h1m4 0h2m1 0h1m2 0h2m2 0h2m2 0h2m1 0h1m4 0h1m1 0h1m3 0h1m7 0h3m1 0h2m1 0h2m-178 1h1m4 0h2m2 0h2m4 0h3m1 0h1m2 0h8m2 0h1m1 0h1m3 0h1m1 0h4m1 0h1m1 0h1m1 0h1m4 0h2m2 0h4m1 0h1m2 0h1m6 0h3m2 0h3m3 0h8m4 0h1m1 0h3m1 0h1m1 0h4m2 0h2m1 0h3m13 0h1m3 0h2m2 0h1m1 0h1m8 0h5m3 0h8m4 0h3m1 0h3m-171 1h5m1 0h1m2 0h1m1 0h1m1 0h4m1 0h6m1 0h4m2 0h1m5 0h2m1 0h2m1 0h2m3 0h5m2 0h4m1 0h1m7 0h4m1 0h4m1 0h1m3 0h6m4 0h1m8 0h2m1 0h2m1 0h1m11 0h1m9 0h2m6 0h1m2 0h1m1 0h3m8 0h3m1 0h3m2 0h3m1 0h7m-176 1h1m3 0h2m1 0h1m1 0h2m5 0h1m1 0h3m2 0h3m2 0h1m1 0h6m8 0h3m2 0h1m3 0h4m1 0h6m6 0h7m3 0h2m1 0h1m1 0h3m6 0h2m3 0h1m1 0h1m4 0h2m1 0h1m1 0h1m4 0h1m12 0h3m1 0h1m7 0h1m3 0h2m4 0h1m12 0h1m3 0h5m1 0h1m-175 1h1m1 0h1m1 0h1m1 0h4m2 0h2m1 0h1m2 0h3m2 0h3m3 0h1m1 0h1m1 0h3m4 0h1m4 0h2m1 0h1m1 0h11m1 0h2m3 0h1m2 0h2m3 0h1m3 0h3m2 0h1m2 0h1m9 0h1m2 0h1m5 0h2m1 0h1m3 0h2m2 0h1m1 0h1m10 0h2m1 0h2m6 0h2m1 0h1m2 0h1m8 0h1m4 0h1m1 0h1m1 0h1m2 0h2m-170 1h2m1 0h3m1 0h3m2 0h3m2 0h4m1 0h5m1 0h1m2 0h3m1 0h3m1 0h1m5 0h1m1 0h2m5 0h8m1 0h2m4 0h7m4 0h3m3 0h1m13 0h2m4 0h3m2 0h1m1 0h1m1 0h1m3 0h1m1 0h1m6 0h5m2 0h1m4 0h2m2 0h2m2 0h1m12 0h4m3 0h5m-173 1h1m3 0h2m2 0h7m3 0h9m2 0h2m1 0h1m1 0h1m2 0h2m1 0h1m1 0h4m1 0h2m4 0h2m1 0h10m2 0h1m2 0h2m6 0h6m1 0h1m8 0h1m8 0h6m2 0h6m1 0h1m5 0h1m3 0h1m1 0h1m1 0h2m10 0h1m2 0h1m2 0h2m6 0h1m1 0h1m9 0h1m-168 1h1m5 0h8m1 0h8m5 0h1m4 0h5m1 0h3m1 0h2m3 0h2m1 0h2m1 0h6m5 0h2m1 0h1m6 0h7m7 0h1m11 0h1m1 0h3m1 0h6m3 0h2m1 0h1m1 0h2m1 0h3m2 0h2m12 0h1m2 0h2m12 0h1m-162 1h2m2 0h1m1 0h2m1 0h2m2 0h1m1 0h1m1 0h7m1 0h2m6 0h4m1 0h1m1 0h3m1 0h3m2 0h2m1 0h1m3 0h4m4 0h2m2 0h3m1 0h1m1 0h1m6 0h1m15 0h1m1 0h1m1 0h1m1 0h2m1 0h1m1 0h6m7 0h1m1 0h1m8 0h1m7 0h3m5 0h1m2 0h3m1 0h1m1 0h1m2 0h3m-163 1h4m1 0h2m2 0h3m1 0h3m2 0h3m1 0h8m2 0h5m1 0h2m1 0h1m2 0h9m2 0h3m8 0h1m1 0h3m3 0h5m20 0h1m1 0h1m3 0h2m2 0h1m7 0h1m2 0h4m1 0h2m3 0h1m10 0h1m1 0h2m2 0h1m1 0h5m2 0h1m2 0h5m-164 1h4m1 0h3m1 0h9m1 0h11m2 0h1m1 0h1m2 0h2m4 0h2m1 0h5m1 0h8m2 0h5m1 0h4m1 0h6m1 0h1m2 0h2m1 0h1m19 0h2m1 0h1m2 0h1m8 0h3m3 0h1m2 0h3m1 0h1m6 0h2m1 0h4m2 0h2m6 0h6m-163 1h15m3 0h1m3 0h5m1 0h1m2 0h2m2 0h3m2 0h1m1 0h3m1 0h3m1 0h1m1 0h4m1 0h9m6 0h1m3 0h4m2 0h2m11 0h2m7 0h3m4 0h1m2 0h1m1 0h1m3 0h2m1 0h2m2 0h4m1 0h2m11 0h1m1 0h5m5 0h3m1 0h2m-162 1h1m1 0h15m2 0h1m1 0h15m1 0h1m1 0h1m2 0h2m1 0h1m1 0h1m1 0h1m2 0h3m1 0h8m3 0h1m3 0h1m5 0h3m1 0h3m3 0h1m3 0h1m1 0h3m5 0h4m2 0h1m1 0h2m2 0h2m2 0h1m1 0h2m1 0h3m1 0h5m13 0h3m8 0h2m-155 1h10m1 0h2m3 0h3m1 0h4m1 0h2m1 0h4m1 0h2m5 0h2m1 0h4m4 0h1m2 0h1m1 0h2m2 0h1m4 0h3m3 0h1m2 0h4m3 0h1m1 0h5m1 0h2m1 0h1m5 0h5m3 0h1m3 0h2m1 0h1m4 0h1m4 0h2m1 0h2m13 0h1m2 0h2m6 0h4m-154 1h10m3 0h2m3 0h3m1 0h3m1 0h7m8 0h4m1 0h3m5 0h1m8 0h1m3 0h1m4 0h4m3 0h8m2 0h2m6 0h1m4 0h4m5 0h1m3 0h2m2 0h3m2 0h1m2 0h1m10 0h2m2 0h4m5 0h2m-152 1h1m1 0h1m1 0h4m1 0h5m7 0h8m2 0h2m6 0h1m1 0h1m1 0h1m3 0h2m2 0h1m1 0h1m5 0h1m2 0h2m3 0h2m4 0h2m4 0h6m1 0h1m1 0h1m1 0h2m3 0h4m1 0h1m1 0h2m3 0h2m9 0h2m2 0h1m13 0h4m1 0h2m1 0h1m2 0h1m2 0h2m-150 1h8m1 0h4m6 0h1m1 0h1m1 0h3m3 0h1m5 0h1m1 0h4m3 0h2m1 0h2m2 0h1m3 0h3m1 0h1m2 0h1m4 0h2m4 0h8m1 0h1m4 0h4m1 0h2m1 0h4m1 0h1m4 0h2m3 0h2m5 0h2m1 0h1m3 0h1m10 0h4m1 0h1m4 0h3m1 0h1m-149 1h9m1 0h2m4 0h5m2 0h3m2 0h1m1 0h5m1 0h3m4 0h1m1 0h7m1 0h4m2 0h1m1 0h1m1 0h1m1 0h4m4 0h1m2 0h7m2 0h2m1 0h1m1 0h8m1 0h1m4 0h2m1 0h1m1 0h1m5 0h3m1 0h1m4 0h1m7 0h1m1 0h4m1 0h2m1 0h3m1 0h2m-148 1h2m3 0h15m1 0h1m1 0h2m1 0h4m1 0h5m1 0h3m1 0h1m2 0h4m1 0h3m2 0h2m3 0h10m6 0h3m3 0h3m1 0h1m2 0h2m2 0h1m1 0h5m1 0h1m2 0h1m2 0h2m6 0h1m16 0h4m1 0h1m3 0h1m1 0h4m1 0h1m-147 1h7m1 0h1m1 0h8m1 0h1m1 0h1m2 0h2m1 0h5m2 0h3m2 0h8m1 0h3m1 0h2m3 0h1m1 0h9m7 0h4m3 0h1m1 0h2m1 0h1m1 0h8m3 0h1m3 0h2m1 0h1m5 0h1m10 0h2m5 0h9m1 0h2m-140 1h3m2 0h5m1 0h3m8 0h1m1 0h3m1 0h6m2 0h3m1 0h6m1 0h3m1 0h1m1 0h6m3 0h7m2 0h6m1 0h1m2 0h1m2 0h2m3 0h5m1 0h1m24 0h2m4 0h1m1 0h6m2 0h1m1 0h3m-135 1h3m1 0h7m1 0h2m1 0h4m1 0h1m1 0h4m1 0h2m1 0h1m3 0h5m2 0h3m2 0h3m1 0h2m5 0h6m2 0h2m2 0h1m1 0h1m1 0h6m5 0h4m7 0h2m1 0h3m5 0h1m1 0h1m1 0h1m2 0h4m4 0h6m4 0h7m-138 1h2m5 0h9m1 0h3m2 0h1m1 0h2m1 0h2m3 0h1m1 0h4m4 0h1m2 0h2m1 0h1m1 0h2m1 0h1m3 0h3m6 0h2m5 0h1m12 0h1m3 0h1m4 0h1m2 0h3m21 0h5m1 0h9m-130 1h2m1 0h10m2 0h1m2 0h1m2 0h2m1 0h2m1 0h1m8 0h5m1 0h1m1 0h1m16 0h6m6 0h1m2 0h3m12 0h2m7 0h1m3 0h1m5 0h2m3 0h7m1 0h8m-133 1h1m4 0h2m3 0h1m1 0h2m2 0h3m6 0h4m4 0h13m1 0h3m3 0h1m9 0h6m14 0h1m2 0h1m3 0h1m1 0h2m1 0h2m9 0h3m4 0h2m2 0h3m1 0h1m1 0h3m1 0h1m1 0h3m-122 1h1m5 0h1m9 0h2m4 0h2m1 0h11m1 0h3m2 0h2m2 0h1m4 0h1m2 0h5m2 0h2m2 0h2m6 0h2m1 0h3m2 0h3m3 0h1m3 0h1m2 0h1m1 0h1m1 0h6m2 0h7m1 0h3m3 0h4m-124 1h1m3 0h2m11 0h3m3 0h13m3 0h3m1 0h2m7 0h4m1 0h2m1 0h5m8 0h5m4 0h1m4 0h1m9 0h7m1 0h8m1 0h1m1 0h1m1 0h1m2 0h3m-124 1h2m2 0h2m12 0h3m1 0h7m1 0h2m1 0h3m2 0h10m2 0h7m2 0h1m1 0h1m1 0h4m1 0h3m4 0h3m1 0h6m1 0h2m9 0h3m2 0h1m4 0h6m1 0h2m1 0h1m2 0h3m-123 1h5m15 0h2m3 0h3m1 0h7m2 0h9m2 0h1m1 0h3m1 0h3m2 0h3m1 0h4m1 0h4m3 0h3m3 0h2m13 0h1m1 0h3m5 0h5m7 0h1m1 0h2m-123 1h1m1 0h2m22 0h18m2 0h1m3 0h3m2 0h3m1 0h4m1 0h6m8 0h1m17 0h2m1 0h1m1 0h1m2 0h1m2 0h4m3 0h1m2 0h2m2 0h1m-119 1h1m23 0h8m3 0h6m4 0h5m6 0h4m2 0h1m4 0h1m2 0h2m10 0h1m1 0h1m10 0h2m1 0h1m1 0h2m1 0h2m3 0h8m-116 1h1m22 0h3m1 0h9m1 0h7m1 0h4m1 0h1m3 0h5m7 0h3m5 0h1m1 0h1m13 0h4m3 0h6m1 0h2m2 0h2m2 0h5m-119 1h2m22 0h2m5 0h8m3 0h1m1 0h1m9 0h4m24 0h1m2 0h1m12 0h3m2 0h4m1 0h1m1 0h1m3 0h2m1 0h2m-94 1h3m3 0h3m2 0h7m4 0h1m3 0h2m1 0h2m18 0h1m2 0h1m20 0h2m2 0h4m3 0h2m1 0h4m1 0h2m-91 1h1m2 0h4m1 0h2m6 0h5m3 0h2m23 0h1m24 0h4m1 0h1m1 0h8m-89 1h8m9 0h4m48 0h2m5 0h1m3 0h10m-89 1h2m2 0h3m10 0h2m56 0h2m6 0h3m1 0h1m-89 1h2m1 0h1m3 0h1m73 0h3m4 0h2m-88 1h1m79 0h3m3 0h1m-28 1h1m16 0h1m4 0h4m-13 1h5m-69 1h2m61 0h2m-16 1h1m17 2h1m-17 1h1"/></g></g>
<use href="#ml"/>
<path d="M947.9 748.2h0M1037.7 748.2h0M1004.0 758.8h0M947.9 769.3h0M970.4 769.3h0M1015.2 769.3h0M936.7 779.9h0M959.1 779.9h0M981.6 779.9h0M925.5 790.4h0M992.8 790.4h0M936.7 801.0h0M959.1 801.0h0M1048.9 801.0h0M1093.7 801.0h0M903.0 811.6h0M947.9 811.6h0M970.4 811.6h0M992.8 811.6h0M1037.7 811.6h0M1127.4 811.6h0M1071.3 822.1h0M1093.7 822.1h0M925.5 832.7h0M1060.1 832.7h0M1082.5 832.7h0M1105.0 832.7h0M959.1 843.2h0M1004.0 843.2h0M1116.2 843.2h0M903.0 853.8h0M925.5 853.8h0M947.9 853.8h0M1082.5 853.8h0M1217.1 853.8h0M947.9 874.9h0M970.4 874.9h0M992.8 874.9h0M1037.7 874.9h0M1082.5 874.9h0M1015.2 896.0h0M1105.0 896.0h0M1194.7 896.0h0M1205.9 927.7h0" fill="none" stroke="#000" stroke-width="11.0" stroke-linecap="round"/>
<g fill="none" stroke="#000" stroke-width="6.2">
<rect x="266.0" y="37.5" width="1571.0" height="1096.5"/>
<path stroke-linecap="round" d="M266.0 1079.7H234.5M266.0 956.1H234.5M266.0 831.6H234.5M266.0 706.5H234.5M266.0 579.6H234.5M266.0 453.1H234.5M266.0 325.7H234.5M266.0 196.9H234.5M266.0 66.3H234.5"/>
<path d="M483.0 1134.0V1168.5M755.3 1134.0V1168.5M1026.2 1134.0V1168.5M1294.7 1134.0V1168.5M1561.6 1134.0V1168.5M1828.9 1134.0V1168.5"/>
</g>
<text x="24" y="1106.0" font-size="73.5" textLength="163" lengthAdjust="spacingAndGlyphs">22°N</text>
<text x="24" y="982.4" font-size="73.5" textLength="163" lengthAdjust="spacingAndGlyphs">24°N</text>
<text x="24" y="857.9" font-size="73.5" textLength="163" lengthAdjust="spacingAndGlyphs">26°N</text>
<text x="24" y="732.8" font-size="73.5" textLength="163" lengthAdjust="spacingAndGlyphs">28°N</text>
<text x="24" y="605.9" font-size="73.5" textLength="163" lengthAdjust="spacingAndGlyphs">30°N</text>
<text x="24" y="479.4" font-size="73.5" textLength="163" lengthAdjust="spacingAndGlyphs">32°N</text>
<text x="24" y="352.0" font-size="73.5" textLength="163" lengthAdjust="spacingAndGlyphs">34°N</text>
<text x="24" y="223.2" font-size="73.5" textLength="163" lengthAdjust="spacingAndGlyphs">36°N</text>
<text x="24" y="92.6" font-size="73.5" textLength="163" lengthAdjust="spacingAndGlyphs">38°N</text>
<text class="ser" x="314" y="1067" font-size="81" textLength="108" lengthAdjust="spacing">(b)</text>
<text class="ser" x="471" y="1067" font-size="81" textLength="431" lengthAdjust="spacing">1982−1995</text>
</g>
<g transform="translate(0 2330.6)">
<g clip-path="url(#cp)"><g transform="translate(267.64 37.48) scale(5.7200 5.7200)" fill="none" stroke-width="1.04" shape-rendering="crispEdges">
<path stroke="#ca0020" d="M161 37h1m-105 6h1m131 0h1m-1 1h1m-39 2h1m42 1h1m-127 1h2m88 0h1m-54 4h1m133 2h1m-128 2h1m98 2h1m-98 1h1m48 0h1m86 2h1m-8 5h1m-106 2h1m-85 2h1m44 1h1m39 0h1m-70 1h2m96 0h1m23 0h1m-80 1h1m81 0h2m-23 1h1m8 0h1m-104 1h1m55 0h1m57 0h1m-112 1h1m37 1h1m61 0h3m10 0h1m20 0h1m-45 1h1m9 0h2m52 0h1m-81 1h1m16 0h1m60 0h1m19 0h1m-98 1h1m24 0h1m13 0h1m7 0h1m-137 1h1m111 0h1m7 0h1m5 0h2m8 0h1m7 0h1m-157 1h1m96 0h1m6 0h1m3 0h1m26 0h1m4 0h1m6 0h1m-64 1h1m50 0h1m10 0h1m27 0h1m4 0h1m-99 1h1m13 0h1m-81 1h1m33 0h1m28 0h1m56 0h1m3 0h1m25 0h1m-35 1h1m-65 1h1m1 0h1m2 0h1m17 0h1m43 0h1m53 0h1m-108 1h1m3 0h2m10 0h1m35 0h3m12 0h1m14 0h1m-108 1h1m2 0h1m25 0h1m30 0h1m26 0h1m4 0h2m11 0h1m-75 1h1m64 0h1m3 0h2m8 0h1m-80 1h1m53 0h1m8 0h1m2 0h1m8 0h5m2 0h1m1 0h1m12 0h1m-103 1h1m67 0h1m11 0h5m17 0h2m5 0h1m-159 1h1m2 0h1m48 0h1m3 0h1m57 0h1m5 0h1m4 0h1m1 0h2m1 0h2m7 0h1m1 0h2m7 0h3m-153 1h1m63 0h1m42 0h1m13 0h1m2 0h5m6 0h6m2 0h1m5 0h4m6 0h1m12 0h1m-127 1h1m12 0h1m1 0h1m29 0h1m9 0h1m6 0h1m11 0h1m2 0h6m6 0h3m1 0h2m1 0h1m1 0h2m3 0h3m2 0h1m-126 1h1m36 0h1m23 0h2m9 0h2m11 0h1m2 0h1m1 0h1m1 0h15m1 0h1m1 0h1m1 0h6m4 0h2m-136 1h1m13 0h1m7 0h2m20 0h1m28 0h3m9 0h3m4 0h1m10 0h12m1 0h6m2 0h7m1 0h3m3 0h1m1 0h1m-96 1h1m26 0h1m13 0h3m2 0h1m11 0h11m2 0h5m3 0h6m1 0h1m1 0h7m-75 1h1m20 0h5m1 0h1m1 0h1m6 0h2m1 0h8m1 0h1m4 0h1m2 0h3m1 0h11m1 0h2m-177 1h1m12 0h1m72 0h1m9 0h1m6 0h1m22 0h2m3 0h2m1 0h1m4 0h1m2 0h1m1 0h3m1 0h1m1 0h3m2 0h1m4 0h2m3 0h3m1 0h5m2 0h1m2 0h1m-194 1h1m76 0h1m13 0h1m43 0h2m1 0h1m6 0h1m1 0h2m8 0h1m2 0h4m2 0h5m3 0h2m1 0h3m2 0h6m2 0h1m-148 1h1m19 0h1m19 0h1m32 0h1m18 0h1m1 0h2m1 0h1m4 0h2m2 0h2m8 0h1m1 0h3m1 0h5m1 0h4m1 0h2m2 0h11m8 0h1m-197 1h1m65 0h1m14 0h1m30 0h2m20 0h2m1 0h1m3 0h2m1 0h2m1 0h1m3 0h1m3 0h5m1 0h2m2 0h2m4 0h1m1 0h1m1 0h8m2 0h3m-94 1h1m6 0h1m24 0h2m6 0h2m4 0h1m1 0h2m1 0h1m1 0h1m3 0h2m2 0h11m4 0h2m1 0h2m1 0h4m2 0h2m-185 1h1m79 0h1m10 0h1m42 0h2m5 0h1m2 0h5m4 0h1m2 0h5m2 0h3m5 0h2m1 0h1m2 0h1m5 0h2m4 0h1m-174 1h1m31 0h1m16 0h1m6 0h1m4 0h1m12 0h1m5 0h1m1 0h1m22 0h4m9 0h4m1 0h2m3 0h3m4 0h1m1 0h7m2 0h3m2 0h2m1 0h11m7 0h1m-179 1h1m11 0h1m46 0h1m7 0h1m13 0h4m2 0h3m3 0h1m17 0h1m1 0h1m11 0h1m4 0h1m2 0h3m2 0h1m1 0h1m1 0h6m2 0h2m1 0h7m1 0h8m4 0h1m2 0h1m15 0h1m-194 1h1m50 0h1m12 0h2m7 0h1m9 0h1m1 0h3m6 0h1m18 0h1m14 0h2m1 0h1m1 0h1m1 0h1m5 0h1m1 0h4m3 0h8m1 0h1m1 0h8m5 0h7m1 0h1m-143 1h1m22 0h2m15 0h3m2 0h3m1 0h2m3 0h3m30 0h6m1 0h2m2 0h1m1 0h2m3 0h2m1 0h1m1 0h7m1 0h1m1 0h10m3 0h7m20 0h1m-159 1h2m19 0h1m18 0h2m3 0h1m7 0h1m4 0h1m3 0h2m5 0h2m15 0h1m2 0h1m2 0h1m1 0h2m2 0h2m1 0h2m1 0h2m1 0h9m1 0h3m1 0h6m1 0h1m3 0h4m22 0h2m-191 1h1m30 0h1m4 0h1m12 0h1m3 0h1m15 0h4m2 0h2m5 0h1m11 0h1m5 0h2m8 0h2m1 0h1m8 0h1m2 0h1m1 0h6m1 0h2m1 0h19m5 0h2m1 0h2m20 0h2m-192 1h1m40 0h1m1 0h2m11 0h1m1 0h1m1 0h1m1 0h1m10 0h4m1 0h1m1 0h2m3 0h1m6 0h1m2 0h1m2 0h1m5 0h3m11 0h1m5 0h1m9 0h1m4 0h1m1 0h3m1 0h2m1 0h6m1 0h7m29 0h1m-150 1h3m8 0h1m9 0h1m8 0h3m1 0h1m2 0h4m1 0h1m10 0h1m3 0h1m3 0h6m15 0h1m7 0h1m1 0h2m4 0h4m1 0h2m1 0h12m6 0h2m-156 1h1m4 0h1m24 0h1m7 0h1m19 0h1m1 0h5m3 0h4m15 0h2m1 0h4m1 0h3m3 0h3m2 0h1m1 0h1m2 0h1m7 0h5m2 0h2m3 0h1m1 0h16m1 0h1m9 0h1m-154 1h1m3 0h1m14 0h3m21 0h1m6 0h2m1 0h3m1 0h1m1 0h4m1 0h1m12 0h1m3 0h3m3 0h5m3 0h1m4 0h1m10 0h6m1 0h4m2 0h1m2 0h4m1 0h1m1 0h8m1 0h1m1 0h2m6 0h2m17 0h1m-164 1h2m8 0h2m17 0h1m5 0h1m4 0h6m1 0h1m1 0h8m11 0h1m2 0h3m1 0h1m3 0h4m5 0h1m1 0h1m1 0h1m1 0h1m6 0h6m1 0h2m1 0h3m5 0h2m2 0h8m2 0h1m1 0h6m2 0h3m1 0h1m3 0h1m12 0h1m-165 1h1m10 0h1m1 0h1m8 0h1m6 0h2m2 0h1m6 0h3m1 0h2m1 0h1m2 0h7m8 0h1m2 0h1m1 0h1m1 0h2m1 0h2m3 0h1m6 0h1m2 0h1m4 0h1m2 0h1m1 0h3m2 0h1m2 0h2m1 0h4m3 0h3m2 0h7m4 0h2m1 0h5m2 0h1m-140 1h1m4 0h2m2 0h3m12 0h1m1 0h1m7 0h3m1 0h2m2 0h2m1 0h4m16 0h1m18 0h4m1 0h3m1 0h2m1 0h2m5 0h2m1 0h3m2 0h4m2 0h1m1 0h3m3 0h1m1 0h2m1 0h6m3 0h2m1 0h2m8 0h1m-147 1h3m2 0h2m14 0h1m7 0h2m1 0h1m1 0h1m2 0h1m1 0h2m1 0h4m9 0h1m1 0h2m22 0h1m1 0h2m1 0h3m1 0h2m3 0h7m2 0h1m1 0h3m1 0h3m1 0h2m3 0h1m1 0h2m2 0h5m2 0h1m3 0h1m-137 1h3m1 0h3m4 0h1m14 0h1m3 0h3m3 0h3m1 0h4m1 0h2m1 0h1m2 0h1m1 0h1m3 0h2m1 0h1m14 0h1m2 0h2m2 0h1m3 0h1m1 0h2m1 0h2m2 0h5m2 0h11m3 0h1m5 0h3m2 0h4m5 0h1m-143 1h2m2 0h1m1 0h1m3 0h2m3 0h4m1 0h2m3 0h1m1 0h3m1 0h1m1 0h2m3 0h1m2 0h3m1 0h7m1 0h3m3 0h2m3 0h2m1 0h1m5 0h1m3 0h1m15 0h1m2 0h1m1 0h1m2 0h18m11 0h9m2 0h2m-166 1h1m17 0h1m3 0h1m6 0h2m1 0h4m2 0h5m7 0h4m6 0h2m2 0h8m2 0h2m1 0h3m2 0h3m2 0h3m14 0h1m9 0h22m1 0h2m13 0h10m5 0h1m-139 1h7m1 0h8m1 0h3m3 0h3m5 0h1m2 0h7m1 0h1m2 0h4m5 0h2m2 0h1m16 0h1m8 0h19m1 0h3m2 0h4m10 0h13m-141 1h2m3 0h4m2 0h1m1 0h6m4 0h2m1 0h1m2 0h2m2 0h1m3 0h1m2 0h10m1 0h6m1 0h2m4 0h1m3 0h1m12 0h1m9 0h2m1 0h1m3 0h1m1 0h13m3 0h6m4 0h14m3 0h1m-154 1h2m7 0h6m2 0h6m1 0h1m1 0h1m1 0h1m4 0h1m16 0h1m1 0h6m4 0h7m9 0h2m19 0h1m1 0h24m2 0h1m6 0h3m1 0h10m-154 1h1m3 0h1m3 0h1m5 0h2m2 0h4m1 0h6m1 0h2m3 0h6m15 0h1m3 0h15m9 0h1m4 0h1m3 0h2m8 0h28m4 0h1m1 0h3m3 0h2m1 0h8m1 0h1m-142 1h2m1 0h1m5 0h4m3 0h1m3 0h2m1 0h3m1 0h1m14 0h2m2 0h14m1 0h1m7 0h1m8 0h3m9 0h8m2 0h17m4 0h1m1 0h3m2 0h1m1 0h6m2 0h4m1 0h1m12 0h1m-165 1h1m3 0h2m1 0h1m1 0h1m9 0h3m2 0h2m1 0h1m1 0h3m8 0h1m7 0h5m2 0h14m15 0h1m1 0h1m1 0h1m2 0h1m6 0h4m1 0h12m1 0h5m1 0h2m6 0h5m1 0h3m1 0h5m2 0h1m2 0h2m12 0h1m-166 1h1m3 0h1m12 0h1m1 0h2m2 0h1m1 0h3m1 0h5m6 0h2m1 0h1m3 0h2m2 0h4m1 0h11m1 0h2m2 0h1m3 0h1m11 0h3m1 0h1m5 0h15m1 0h2m2 0h4m1 0h1m8 0h5m1 0h1m2 0h2m1 0h1m2 0h2m1 0h3m2 0h1m-154 1h1m3 0h1m3 0h2m5 0h7m1 0h5m1 0h4m5 0h4m5 0h2m2 0h14m3 0h1m2 0h1m2 0h1m12 0h4m4 0h6m2 0h8m1 0h2m1 0h5m1 0h1m6 0h1m2 0h4m1 0h1m2 0h2m1 0h6m4 0h3m-143 1h1m3 0h1m1 0h5m4 0h1m1 0h3m7 0h3m4 0h1m1 0h1m1 0h2m1 0h1m1 0h8m3 0h1m4 0h1m2 0h1m15 0h7m1 0h4m1 0h1m1 0h1m4 0h3m3 0h4m1 0h1m1 0h3m3 0h1m1 0h2m1 0h4m3 0h7m3 0h2m-146 1h5m8 0h2m6 0h7m6 0h1m11 0h12m1 0h1m7 0h2m1 0h1m2 0h2m1 0h1m5 0h1m2 0h8m1 0h5m5 0h3m4 0h1m1 0h1m3 0h1m2 0h1m3 0h1m1 0h4m5 0h7m1 0h2m-142 1h1m4 0h2m1 0h3m1 0h1m5 0h1m2 0h4m5 0h3m4 0h1m1 0h1m2 0h13m9 0h2m5 0h1m5 0h4m1 0h5m1 0h5m2 0h1m1 0h3m5 0h1m1 0h4m3 0h3m2 0h1m1 0h1m1 0h2m3 0h7m1 0h2m6 0h1m3 0h1m-163 1h1m13 0h2m1 0h5m1 0h1m2 0h1m2 0h3m1 0h2m1 0h4m11 0h1m5 0h12m1 0h2m3 0h1m1 0h1m3 0h1m3 0h1m9 0h1m1 0h1m1 0h2m1 0h12m2 0h4m2 0h2m1 0h1m1 0h2m1 0h1m2 0h1m1 0h1m1 0h1m1 0h1m2 0h3m2 0h6m-137 1h4m2 0h3m1 0h2m3 0h2m3 0h5m10 0h2m2 0h18m4 0h1m21 0h2m1 0h20m1 0h2m1 0h2m2 0h2m1 0h5m1 0h1m3 0h13m6 0h1m-148 1h1m2 0h7m1 0h1m5 0h3m2 0h4m2 0h3m9 0h14m8 0h1m21 0h5m1 0h1m1 0h12m2 0h2m1 0h4m6 0h6m3 0h1m1 0h1m1 0h8m-142 1h3m3 0h6m8 0h5m1 0h2m4 0h1m9 0h2m3 0h1m2 0h2m1 0h3m1 0h1m2 0h1m2 0h2m5 0h1m2 0h1m6 0h2m5 0h2m2 0h7m1 0h1m1 0h2m1 0h4m4 0h2m1 0h1m6 0h4m8 0h4m1 0h1m-137 1h2m4 0h3m3 0h1m4 0h1m2 0h2m1 0h1m1 0h2m1 0h2m3 0h1m3 0h3m3 0h2m2 0h3m2 0h2m1 0h1m4 0h2m4 0h1m17 0h1m2 0h7m3 0h3m1 0h6m1 0h2m1 0h5m1 0h6m8 0h6m-137 1h1m2 0h1m1 0h2m1 0h1m2 0h1m9 0h5m2 0h1m2 0h1m2 0h1m2 0h1m2 0h2m1 0h1m4 0h1m1 0h2m7 0h1m1 0h2m1 0h2m4 0h2m7 0h1m2 0h1m2 0h9m1 0h5m2 0h5m1 0h4m2 0h12m1 0h11m-133 1h1m1 0h2m12 0h4m5 0h1m2 0h2m2 0h2m1 0h2m1 0h6m1 0h1m3 0h3m6 0h1m1 0h2m3 0h1m8 0h1m1 0h5m1 0h14m1 0h11m1 0h14m1 0h1m1 0h3m1 0h4m-139 1h1m1 0h2m1 0h1m1 0h3m8 0h1m1 0h1m1 0h1m1 0h1m10 0h1m1 0h2m1 0h1m1 0h1m2 0h1m1 0h6m1 0h2m1 0h2m2 0h1m4 0h1m4 0h1m4 0h1m4 0h2m2 0h5m2 0h9m1 0h9m1 0h10m1 0h2m1 0h2m1 0h4m1 0h3m-136 1h2m1 0h2m1 0h2m1 0h1m2 0h1m3 0h7m10 0h1m2 0h7m1 0h3m1 0h3m5 0h1m3 0h1m16 0h1m2 0h1m1 0h6m1 0h1m1 0h3m1 0h3m3 0h7m5 0h5m1 0h2m1 0h1m3 0h9m-143 1h1m6 0h5m1 0h1m2 0h2m2 0h1m4 0h3m2 0h3m4 0h1m5 0h7m2 0h6m1 0h1m6 0h2m4 0h1m4 0h1m1 0h5m4 0h18m2 0h10m5 0h6m2 0h1m1 0h3m1 0h6m1 0h1m-138 1h2m1 0h1m1 0h1m5 0h1m1 0h3m1 0h4m3 0h4m1 0h1m3 0h1m3 0h1m1 0h1m1 0h4m1 0h5m1 0h1m6 0h3m1 0h4m5 0h1m1 0h4m2 0h6m1 0h10m1 0h1m3 0h1m1 0h4m7 0h11m1 0h2m2 0h6m-127 1h8m5 0h1m1 0h1m6 0h1m5 0h16m1 0h1m4 0h7m8 0h3m1 0h1m1 0h5m1 0h7m2 0h1m1 0h4m1 0h7m2 0h1m1 0h10m1 0h4m1 0h4m1 0h1m-125 1h5m1 0h2m4 0h1m1 0h2m3 0h4m5 0h4m1 0h3m2 0h8m3 0h1m1 0h3m1 0h1m8 0h6m2 0h6m2 0h1m1 0h2m1 0h2m1 0h10m2 0h1m1 0h1m3 0h16m1 0h1m1 0h2m-134 1h1m8 0h4m8 0h4m8 0h1m3 0h1m1 0h3m1 0h1m1 0h2m2 0h1m5 0h2m1 0h4m4 0h3m5 0h1m1 0h9m1 0h2m2 0h11m1 0h5m1 0h2m1 0h8m1 0h9m4 0h2m-134 1h1m8 0h1m13 0h2m2 0h1m3 0h1m10 0h1m3 0h1m1 0h3m15 0h1m2 0h5m2 0h1m1 0h1m1 0h6m1 0h3m1 0h4m3 0h3m2 0h3m1 0h1m2 0h12m1 0h4m2 0h1m1 0h3m-111 1h2m5 0h1m1 0h1m7 0h1m1 0h3m3 0h3m7 0h4m6 0h2m1 0h2m5 0h3m1 0h4m2 0h7m4 0h3m3 0h1m1 0h1m2 0h16m2 0h3m-119 1h1m12 0h1m1 0h2m2 0h1m6 0h6m2 0h3m1 0h2m2 0h1m7 0h3m3 0h5m4 0h1m1 0h1m2 0h4m1 0h6m1 0h1m4 0h4m7 0h22m1 0h1m-123 1h1m28 0h1m8 0h3m3 0h1m13 0h5m4 0h7m2 0h9m4 0h4m1 0h1m1 0h1m3 0h9m1 0h10m-119 1h1m27 0h1m7 0h7m5 0h1m2 0h1m7 0h2m1 0h3m2 0h2m1 0h1m1 0h1m2 0h8m2 0h1m3 0h2m2 0h3m2 0h10m2 0h9m-91 1h2m1 0h1m5 0h2m3 0h2m4 0h1m2 0h2m4 0h1m1 0h1m3 0h2m8 0h4m1 0h3m2 0h1m9 0h5m1 0h4m1 0h3m1 0h1m2 0h1m3 0h4m-94 1h1m10 0h1m6 0h1m1 0h2m11 0h1m7 0h1m6 0h5m2 0h5m7 0h1m2 0h2m2 0h2m4 0h3m1 0h1m1 0h1m4 0h1m-51 1h1m7 0h1m1 0h3m2 0h5m8 0h1m1 0h3m1 0h1m1 0h1m1 0h6m1 0h4m1 0h2m-61 1h1m16 0h3m5 0h1m1 0h2m2 0h1m6 0h1m1 0h1m3 0h5m3 0h1m1 0h3m-90 1h1m1 0h1m50 0h2m3 0h1m2 0h1m14 0h2m2 0h1m2 0h1m1 0h5m1 0h1m-90 1h3m11 0h1m42 0h1m17 0h2m4 0h1m1 0h6m-31 1h1m2 0h2m9 0h2m1 0h2m1 0h2m4 0h4m2 0h1m-19 1h4m3 0h1m1 0h1m1 0h7m-73 1h2m53 0h10m1 0h1m1 0h2m2 0h2m-28 1h1m4 0h1m1 0h2m1 0h4m1 0h3m1 0h1m4 0h2m-28 1h1m1 0h2m1 0h1m3 0h1m1 0h1m1 0h6m1 0h1m2 0h6m-29 1h1m9 0h3m2 0h3m8 0h1m-16 1h6m3 0h1m-10 1h7m-6 1h6m2 0h1m-8 1h2m2 0h1m-5 1h1m-12 1h2m10 0h1m-13 1h2m9 0h1m-2 1h1m-10 1h1m-2 1h2m-2 1h2m-1 1h1m-4 1h1"/>
<path stroke="#e21a1c" d="M160 37h1m34 1h1m-34 1h1m-66 14h1m-19 2h1m20 15h1m40 2h1m22 1h1m25 0h1m6 0h1m-127 1h1m97 0h1m-46 2h1m-65 1h1m136 0h1m-129 2h1m90 2h1m32 1h1m2 0h1m-6 1h1m1 0h1m-83 1h1m-1 1h1m82 2h1m55 0h1m-108 2h1m49 1h1m19 1h1m10 0h1m4 1h1m-85 1h1m97 0h1m-102 1h1m62 0h1m-98 1h1m54 0h1m19 0h1m40 0h1m8 0h1m-110 1h2m9 0h1m22 0h1m51 0h1m15 0h1m3 0h1m9 0h1m-124 1h1m37 0h1m35 0h1m9 0h1m44 0h1m-48 1h1m5 0h1m16 0h1m25 0h1m-25 1h1m-167 1h1m157 0h1m8 0h1m2 0h1m3 0h1m4 0h1m-176 1h1m79 0h1m28 0h2m38 0h1m7 0h1m16 0h1m26 0h1m-56 1h1m-73 1h1m8 0h1m42 0h1m18 0h1m4 0h1m-14 1h1m11 0h1m-79 1h1m26 0h1m-23 1h1m9 0h1m68 0h1m22 0h1m3 0h1m1 0h1m-117 1h1m5 0h2m39 0h1m18 0h1m11 0h1m29 0h1m7 0h1m-187 1h1m87 0h1m6 0h1m80 0h1m16 0h1m-194 1h1m83 0h1m12 0h1m5 0h1m12 0h1m-15 1h1m32 0h1m15 0h1m16 0h1m10 0h1m23 0h1m-135 1h1m24 0h1m12 0h1m23 0h1m21 0h1m20 0h2m-84 1h1m4 0h1m38 0h1m6 0h1m7 0h1m8 0h1m15 0h1m26 0h1m-133 1h1m1 0h2m60 0h1m16 0h1m4 0h1m2 0h1m21 0h1m-147 1h1m16 0h1m2 0h1m35 0h1m17 0h1m21 0h1m41 0h1m1 0h1m17 0h1m-156 1h1m117 0h1m18 0h1m-124 1h1m78 0h1m-82 1h1m23 0h1m11 0h1m1 0h2m7 0h1m16 0h1m8 0h1m13 0h1m17 0h1m17 0h1m-122 1h1m23 0h1m17 0h1m48 0h1m23 0h1m3 0h1m-143 1h1m20 0h1m15 0h1m36 0h1m6 0h1m25 0h1m17 0h1m14 0h1m5 0h1m-103 1h1m31 0h1m4 0h1m59 0h1m6 0h1m-142 1h1m17 0h1m22 0h1m36 0h1m58 0h1m-139 1h2m39 0h1m7 0h1m9 0h1m39 0h1m23 0h1m-75 1h1m15 0h1m33 0h1m62 0h1m-143 1h2m1 0h1m75 0h1m24 0h1m9 0h1m-102 1h1m12 0h2m50 0h1m33 0h1m-137 1h1m1 0h1m6 0h2m63 0h1m24 0h1m39 0h1m4 0h1m8 0h1m-142 1h1m15 0h1m24 0h1m19 0h1m56 0h1m-118 1h1m5 0h1m2 0h1m8 0h1m14 0h1m27 0h1m10 0h1m6 0h1m1 0h2m4 0h1m6 0h1m18 0h1m-120 1h1m2 0h2m2 0h1m11 0h1m26 0h1m41 0h1m45 0h1m2 0h1m4 0h2m6 0h1m-149 1h1m24 0h1m15 0h1m77 0h1m12 0h1m19 0h1m-128 1h1m110 0h2m-106 1h1m3 0h1m2 0h1m8 0h1m64 0h1m12 0h1m2 0h1m4 0h1m-127 1h1m9 0h1m75 0h1m6 0h1m50 0h1m-133 1h1m26 0h1m33 0h1m40 0h1m-105 1h1m17 0h1m1 0h1m92 0h1m-125 1h1m64 0h1m24 0h1m1 0h1m12 0h1m11 0h1m10 0h1m3 0h1m-131 1h1m21 0h1m5 0h1m4 0h1m3 0h1m67 0h1m5 0h1m23 0h1m-134 1h4m39 0h2m4 0h1m2 0h1m9 0h1m42 0h1m20 0h1m-122 1h1m39 0h1m6 0h2m56 0h1m-112 1h1m30 0h1m28 0h1m51 0h1m-88 1h1m2 0h1m1 0h1m2 0h1m4 0h1m85 0h1m2 0h1m8 0h2m-140 1h1m3 0h1m2 0h1m75 0h1m12 0h1m13 0h1m-118 1h1m6 0h1m7 0h1m9 0h1m3 0h1m13 0h1m15 0h1m48 0h1m-97 1h1m27 0h1m7 0h1m21 0h1m8 0h1m27 0h1m37 0h1m-134 1h1m22 0h1m7 0h1m23 0h1m26 0h1m10 0h1m-55 1h1m4 0h1m12 0h1m27 0h1m8 0h1m16 0h1m-104 1h1m27 0h1m10 0h2m5 0h1m17 0h1m-66 1h1m23 0h1m7 0h1m17 0h1m1 0h2m48 0h1m-82 1h1m19 0h1m33 0h1m4 0h2m-10 1h1m-47 1h1m6 0h1m4 0h1m2 0h1m84 0h1m-119 1h1m15 0h1m2 0h1m7 0h1m5 0h1m22 0h1m50 0h1m-74 1h1m21 0h1m8 0h1m1 0h1m7 0h1m20 0h1m11 0h1m-87 1h1m53 0h1m35 0h1m-79 1h1m36 0h1m21 0h1m10 1h1m12 0h1m-78 1h1m44 0h1m20 0h1m-4 1h1m-79 1h1m72 0h1m3 1h1m3 1h1m-14 1h1m7 0h1m5 0h1m2 0h1m-6 2h1m-3 2h1m-1 1h1m-18 1h1m12 1h1m-14 1h1"/>
<path stroke="#f42a22" d="M46 20h1m-4 9h1m103 14h1m-102 6h1m94 2h1m63 3h1m-69 5h1m-12 4h1m-72 7h1m7 0h1m77 1h1m-83 1h1m75 1h1m37 2h1m11 0h1m-61 2h1m-1 1h1m-14 1h1m70 0h1m-27 1h1m7 0h1m14 0h1m-11 1h1m35 0h1m-102 1h1m38 0h1m-44 1h1m95 0h1m-43 1h1m4 2h1m90 0h1m-107 3h1m62 0h2m-71 1h1m57 0h1m3 0h1m23 0h1m-11 1h1m9 0h1m5 0h1m6 0h1m-146 1h3m35 0h1m11 0h1m54 0h1m10 0h1m16 0h2m-88 1h1m3 0h1m37 0h1m19 0h2m12 0h1m10 0h1m11 0h1m-152 1h1m46 0h1m7 0h1m3 0h1m43 0h1m4 0h1m9 0h1m-89 1h1m5 0h1m20 0h1m75 0h1m9 0h1m-114 1h1m23 0h1m2 0h1m59 0h1m22 0h1m15 0h1m-125 1h1m12 0h1m70 0h1m1 0h1m15 0h1m15 0h1m4 0h1m-54 1h2m5 0h1m5 0h1m-146 1h1m91 0h1m36 0h1m-49 1h1m33 0h1m15 0h1m7 0h1m14 0h1m5 0h1m8 0h1m3 0h1m19 0h1m-140 1h1m18 0h1m7 0h1m122 0h1m-121 1h1m27 0h1m44 0h1m9 0h1m20 0h1m16 0h1m-153 1h1m23 0h1m55 0h1m2 0h1m11 0h1m15 0h1m44 0h1m-209 1h1m112 0h1m18 0h1m2 0h1m-91 1h1m18 0h1m14 0h2m16 0h1m27 0h1m8 0h1m2 0h1m-73 1h1m65 0h1m13 0h1m-70 1h1m26 0h1m13 0h1m70 0h2m-99 1h1m6 0h1m4 0h2m60 0h1m22 0h1m-140 1h1m23 0h1m33 0h1m-88 1h1m89 0h1m17 0h1m47 0h1m-127 1h1m4 0h1m17 0h1m23 0h1m9 0h1m9 0h1m26 0h1m6 0h1m-101 1h1m23 0h1m6 0h1m13 0h1m3 0h2m5 0h1m9 0h1m13 0h1m17 0h1m4 0h1m24 0h1m4 0h1m-73 1h1m20 0h1m18 0h1m24 0h1m-143 1h1m47 0h1m28 0h1m7 0h1m34 0h1m-74 1h1m2 0h1m12 0h1m14 0h1m3 0h1m14 0h1m42 0h1m-150 1h1m48 0h1m3 0h1m8 0h1m29 0h1m9 0h1m54 0h1m-130 1h1m1 0h2m12 0h1m2 0h1m4 0h1m1 0h1m4 0h1m59 0h1m6 0h1m6 0h1m3 0h1m14 0h1m8 0h1m4 0h1m-142 1h1m32 0h1m3 0h1m17 0h1m14 0h1m7 0h1m9 0h1m48 0h1m2 0h1m3 0h2m-113 1h1m3 0h1m5 0h1m38 0h1m39 0h1m17 0h1m-153 1h1m48 0h1m11 0h1m23 0h1m21 0h1m44 0h1m-143 1h1m2 0h1m1 0h1m4 0h1m39 0h1m41 0h2m25 0h1m-128 1h1m19 0h1m5 0h1m19 0h1m21 0h1m9 0h1m44 0h1m10 0h1m-97 1h1m3 0h1m10 0h1m65 0h1m-123 1h2m28 0h1m14 0h2m58 0h1m3 0h1m24 0h1m-129 1h1m16 0h1m5 0h2m58 0h1m2 0h1m7 0h1m29 0h1m-120 1h1m39 0h1m84 0h1m-138 1h1m1 0h2m9 0h1m8 0h1m31 0h1m20 0h1m-76 1h1m13 0h1m4 0h1m127 0h1m-130 1h1m36 0h1m24 0h1m32 0h1m25 0h1m14 0h1m-151 1h1m90 0h1m8 0h1m11 0h1m10 0h1m-118 1h1m14 0h1m8 0h1m11 0h1m4 0h1m27 0h1m35 0h3m32 0h1m4 0h1m-131 1h1m16 0h1m3 0h1m7 0h1m57 0h1m8 0h1m1 0h3m16 0h1m-145 1h2m27 0h1m119 0h1m-126 1h1m31 0h1m37 0h1m29 0h1m21 0h1m-133 1h1m5 0h1m-13 1h1m3 0h1m3 0h1m19 0h1m5 0h1m3 0h1m108 0h1m-131 1h1m20 0h1m11 0h1m12 0h1m10 0h1m16 0h1m11 0h1m18 0h1m8 0h1m3 0h1m-131 1h1m16 0h1m1 0h1m5 0h1m1 0h1m15 0h1m45 0h1m36 0h1m-123 1h1m75 0h1m35 0h1m12 0h1m-74 1h1m6 0h1m13 0h1m53 0h1m1 0h1m-141 1h1m10 0h1m4 0h1m39 0h1m12 0h2m22 0h1m49 0h1m-141 1h1m15 0h1m21 0h1m37 0h1m29 0h1m37 0h1m-116 1h1m4 0h1m1 0h1m31 0h1m4 0h1m13 0h1m41 0h1m13 0h1m-135 1h1m7 0h1m10 0h2m7 0h1m14 0h1m7 0h2m45 0h1m11 0h1m-108 1h1m12 0h2m2 0h1m8 0h1m1 0h2m2 0h1m64 0h1m7 0h1m-95 1h1m5 0h1m58 0h1m13 0h1m13 0h1m-105 1h1m16 0h1m9 0h1m3 0h1m5 0h1m32 0h1m-72 1h1m28 0h1m18 0h1m12 0h1m29 0h1m4 0h1m34 0h1m-125 1h1m34 0h1m67 0h1m21 0h1m-65 1h1m13 0h1m27 0h1m22 0h1m-90 1h1m20 0h1m43 0h2m-75 1h1m50 0h1m-54 1h1m25 0h1m17 0h1m20 0h1m-35 1h1m40 0h1m4 0h1m18 0h1m-94 1h1m21 0h1m71 0h1m-79 1h1m42 0h1m23 0h2m-33 1h1m28 0h1m-36 1h1m29 0h1m3 0h1m-77 1h1m78 0h2m-1 1h1m-19 1h1m19 0h1m-82 1h1m57 0h1m5 0h1m23 0h1m-4 2h1m-13 4h2m-15 4h2"/>
<path stroke="#fa4c2e" d="M46 21h1m111 18h1m26 1h1m-1 4h1m-36 1h1m42 2h1m-148 1h1m146 0h1m0 1h1m-94 4h1m0 5h1m42 6h1m-82 5h1m87 1h1m-35 1h1m16 1h1m4 0h1m-1 1h1m42 2h1m-32 1h1m1 0h1m27 0h1m15 1h1m-119 1h1m152 0h1m-154 1h1m45 0h1m54 0h1m24 0h1m-35 1h1m-48 1h1m56 0h1m14 0h1m-92 1h1m74 0h1m17 0h1m15 1h1m-22 1h1m-70 2h1m45 0h1m22 0h1m-80 3h1m-4 1h4m39 0h1m23 0h1m14 0h1m4 0h1m5 0h1m1 0h1m20 0h1m-139 1h1m17 0h3m4 0h1m22 0h2m15 0h2m-6 1h1m2 0h1m-16 1h1m14 0h1m34 0h1m2 0h1m29 0h1m5 0h1m9 0h1m-185 1h1m91 0h1m33 0h1m42 0h1m-134 1h1m37 0h1m3 0h1m64 0h1m-5 1h1m-55 1h1m16 0h1m-74 1h1m25 0h1m9 0h1m1 0h1m74 0h1m50 0h1m-93 1h1m23 0h1m43 0h1m25 0h1m1 0h1m-133 1h1m66 0h1m15 0h1m-94 1h1m24 0h1m38 0h1m8 0h1m18 0h1m18 0h1m7 0h1m2 0h1m15 0h1m-136 1h1m14 0h1m3 0h1m14 0h1m22 0h1m64 0h1m-178 1h1m74 0h1m4 0h1m3 0h1m43 0h1m39 0h1m-168 1h1m78 0h1m48 0h1m57 0h1m-123 1h1m1 0h1m15 0h1m18 0h1m5 0h1m19 0h1m9 0h1m15 0h1m12 0h1m14 0h1m3 0h1m-107 1h1m1 0h1m21 0h1m3 0h1m43 0h1m13 0h1m2 0h1m-129 1h1m14 0h1m8 0h1m16 0h1m13 0h1m61 0h1m11 0h1m8 0h1m-133 1h1m2 0h1m10 0h1m8 0h2m5 0h2m9 0h1m1 0h1m6 0h1m25 0h1m4 0h1m10 0h1m1 0h1m7 0h1m7 0h1m11 0h1m8 0h1m-131 1h1m22 0h1m2 0h1m18 0h1m19 0h1m8 0h1m33 0h1m9 0h1m1 0h1m21 0h2m-137 1h1m18 0h1m8 0h1m16 0h1m7 0h1m20 0h1m9 0h1m2 0h1m24 0h1m43 0h1m-104 1h1m14 0h1m52 0h1m12 0h1m-124 1h1m3 0h1m2 0h1m5 0h1m27 0h1m18 0h1m33 0h1m-83 1h1m39 0h1m15 0h1m6 0h1m35 0h1m31 0h1m-174 1h1m1 0h1m21 0h1m3 0h1m2 0h1m3 0h1m4 0h3m67 0h1m13 0h1m19 0h2m5 0h1m6 0h1m13 0h1m-166 1h1m28 0h1m18 0h1m6 0h1m10 0h1m48 0h1m7 0h1m20 0h1m-162 1h1m110 0h1m5 0h1m17 0h1m13 0h2m-124 1h1m6 0h1m20 0h1m39 0h1m3 0h1m10 0h1m11 0h1m2 0h1m8 0h1m13 0h1m12 0h1m3 0h1m1 0h1m-88 1h1m5 0h1m3 0h1m2 0h1m39 0h1m7 0h1m-132 1h1m46 0h1m38 0h1m45 0h1m-86 1h1m10 0h1m45 0h1m32 0h1m13 0h1m-136 1h1m15 0h1m4 0h1m31 0h1m32 0h1m7 0h1m29 0h1m16 0h1m-153 1h1m10 0h1m136 0h1m-165 1h1m19 0h1m2 0h1m49 0h2m7 0h1m4 0h1m4 0h1m13 0h1m61 0h1m-160 1h1m34 0h1m70 0h1m6 0h1m-111 1h1m17 0h2m14 0h1m3 0h1m4 0h1m2 0h2m6 0h1m17 0h1m18 0h1m9 0h1m33 0h1m15 0h1m-148 1h1m26 0h1m12 0h1m11 0h1m113 0h1m-170 1h1m5 0h1m1 0h1m6 0h1m11 0h1m19 0h1m-49 1h1m13 0h1m27 0h1m75 0h1m36 0h2m-150 1h1m5 0h1m2 0h1m9 0h1m57 0h1m34 0h1m7 0h1m17 0h1m-150 1h1m4 0h1m7 0h1m8 0h1m7 0h1m10 0h1m32 0h1m34 0h1m36 0h1m2 0h1m6 0h1m2 0h1m-126 1h1m79 0h1m26 0h1m-108 1h1m9 0h2m10 0h1m42 0h1m61 0h2m-117 1h1m67 0h1m4 0h1m2 0h1m7 0h2m4 0h1m19 0h1m-113 1h1m4 0h1m30 0h1m43 0h2m10 0h1m12 0h1m-138 1h1m3 0h1m31 0h1m9 0h1m41 0h3m-88 1h1m13 0h1m1 0h1m20 0h1m2 0h1m1 0h1m90 0h1m-138 1h2m38 0h1m14 0h1m61 0h1m8 0h1m11 0h2m-142 1h1m20 0h1m31 0h1m7 0h1m32 0h1m-74 1h1m22 0h1m8 0h1m32 0h1m4 0h1m-91 1h1m11 0h3m31 0h1m25 0h1m23 0h1m-83 1h1m8 0h1m11 0h1m18 0h1m20 0h1m4 0h1m51 0h1m-125 1h1m13 0h1m13 0h1m8 0h1m29 0h2m1 0h1m31 0h1m-90 1h2m30 0h1m35 0h1m35 0h1m-93 1h1m10 0h2m2 0h1m30 0h1m38 0h1m-52 1h1m66 0h1m11 0h1m-113 1h1m2 0h1m1 0h1m60 0h1m1 0h1m-82 1h1m11 0h1m6 0h1m15 0h1m21 0h1m-62 1h1m7 0h1m41 0h1m22 0h1m3 0h1m6 0h1m19 0h1m15 0h1m-92 1h1m7 0h1m37 0h1m20 0h1m33 0h1m-104 1h1m29 0h1m13 0h1m6 0h1m12 0h1m11 0h1m-78 1h1m77 0h1m-48 1h1m23 0h1m11 0h1m2 0h1m-63 1h1m43 0h1m15 0h1m18 0h1m-67 1h1m9 0h1m56 0h1m10 0h1m-62 1h1m38 0h1m5 0h1m3 0h1m16 0h1m-78 1h1m12 0h1m17 1h1m27 0h1m11 0h1m0 1h1m-87 1h1m64 0h1m8 0h1m-74 1h1m8 0h1m51 0h1m21 1h1m-76 2h1m67 0h1m-2 1h1m0 2h1m-17 2h1m-2 5h1m-1 3h1"/>
<path stroke="#fc663c" d="M161 38h1m-7 2h1m6 0h1m20 1h1m-138 1h1m110 0h1m-19 4h1m-66 2h1m-27 1h1m9 0h1m-13 1h1m93 0h1m-46 1h1m29 0h1m-21 3h1m-23 5h1m22 1h1m2 0h1m-7 3h1m7 0h1m-38 2h1m2 4h1m60 0h1m-80 1h1m58 0h1m20 0h1m11 0h1m-99 1h1m4 1h1m39 1h1m67 1h1m33 0h1m-122 1h1m91 0h1m29 0h1m-145 1h1m21 1h1m106 0h1m-118 1h1m126 0h1m-129 1h1m8 0h1m9 0h1m67 0h1m28 0h1m11 0h1m-111 1h1m62 0h1m37 0h1m-4 1h1m6 0h1m-1 1h1m6 0h1m-143 3h2m135 0h1m52 0h1m-121 1h1m29 0h1m36 0h1m26 0h1m-96 2h1m3 0h1m28 0h1m-52 1h1m57 0h1m4 0h1m-80 1h1m25 0h1m32 0h1m61 0h1m16 0h1m-137 1h1m1 0h1m18 0h1m20 0h1m9 0h1m44 0h1m6 0h1m10 0h1m-156 1h1m49 0h1m10 0h1m27 0h1m1 0h1m63 0h1m6 0h1m12 0h1m28 0h2m-165 1h2m47 0h1m70 0h1m19 0h1m-141 1h1m29 0h1m9 0h1m10 0h1m92 0h1m-143 1h1m1 0h1m27 0h2m1 0h1m16 0h1m9 0h1m25 0h1m40 0h1m12 0h1m11 0h1m12 0h1m-136 1h1m11 0h1m21 0h1m-91 1h1m107 0h1m51 0h1m-99 1h1m51 0h1m1 0h1m50 0h1m1 0h1m-157 1h1m32 0h1m2 0h1m13 0h1m12 0h1m42 0h1m8 0h1m6 0h1m13 0h1m23 0h1m3 0h1m-165 1h1m34 0h1m38 0h1m20 0h1m54 0h1m12 0h1m3 0h1m-140 1h1m26 0h1m17 0h1m89 0h1m6 0h1m1 0h1m-198 1h1m58 0h1m26 0h1m11 0h1m15 0h1m57 0h1m35 0h1m-129 1h1m34 0h1m10 0h1m5 0h1m17 0h1m19 0h1m-104 1h1m8 0h1m3 0h1m8 0h1m15 0h1m7 0h1m1 0h1m13 0h1m16 0h1m34 0h1m-119 1h1m4 0h1m3 0h1m5 0h1m72 0h1m40 0h1m-180 1h1m61 0h1m16 0h1m44 0h1m42 0h1m8 0h1m-121 1h1m10 0h1m1 0h1m6 0h1m4 0h1m8 0h1m42 0h1m39 0h2m-149 1h1m38 0h2m18 0h1m2 0h1m1 0h1m51 0h1m51 0h1m-196 1h1m42 0h2m18 0h1m11 0h1m8 0h1m22 0h1m84 0h1m-156 1h1m3 0h1m2 0h1m30 0h1m8 0h1m5 0h1m6 0h1m8 0h1m5 0h1m10 0h1m7 0h1m12 0h1m32 0h1m16 0h1m-194 1h1m62 0h1m7 0h1m55 0h1m41 0h1m-155 1h1m2 0h1m21 0h1m3 0h1m9 0h1m46 0h1m25 0h2m6 0h1m32 0h1m-168 1h1m21 0h1m15 0h2m2 0h1m9 0h1m2 0h2m34 0h1m2 0h1m3 0h1m12 0h1m9 0h1m2 0h1m9 0h1m28 0h1m5 0h1m-158 1h1m7 0h1m5 0h1m19 0h1m6 0h1m5 0h1m6 0h1m23 0h1m5 0h2m13 0h1m82 0h1m-133 1h1m1 0h1m31 0h1m17 0h1m3 0h1m57 0h1m-159 1h1m18 0h1m19 0h1m67 0h1m3 0h1m17 0h1m3 0h1m-88 1h1m46 0h1m13 0h1m9 0h1m24 0h1m14 0h1m-159 1h1m35 0h1m3 0h1m4 0h1m21 0h1m85 0h1m8 0h1m5 0h1m-162 1h1m1 0h1m10 0h1m9 0h1m9 0h1m7 0h1m12 0h1m77 0h1m13 0h1m-147 1h1m13 0h1m26 0h1m18 0h1m21 0h1m1 0h1m5 0h1m59 0h1m-145 1h1m11 0h1m13 0h1m59 0h1m36 0h1m2 0h1m1 0h1m14 0h1m18 0h1m-184 1h1m20 0h1m3 0h1m4 0h1m2 0h1m15 0h1m7 0h1m110 0h1m-163 1h1m10 0h1m5 0h1m14 0h1m42 0h2m-68 1h1m7 0h1m24 0h1m42 0h1m30 0h1m43 0h1m16 0h1m-170 1h1m5 0h1m20 0h1m8 0h1m14 0h1m8 0h1m78 0h1m-96 1h1m3 0h2m87 0h1m-87 1h1m25 0h1m9 0h1m11 0h1m-97 1h1m4 0h1m8 0h1m6 0h1m24 0h1m6 0h1m80 0h1m-109 1h1m13 0h1m35 0h1m49 0h1m20 0h1m6 0h1m-144 1h1m33 0h1m21 0h1m24 0h1m34 0h1m22 0h1m-145 1h1m27 0h1m12 0h1m4 0h1m49 0h1m1 0h1m4 0h1m-91 1h1m2 0h1m2 0h1m12 0h1m4 0h1m5 0h1m26 0h1m13 0h1m17 0h2m-87 1h1m2 0h1m17 0h1m5 0h1m22 0h1m61 0h1m-143 1h1m18 0h1m15 0h1m19 0h2m102 0h1m-156 1h1m11 0h1m7 0h1m11 0h1m44 0h1m43 0h1m-110 1h1m27 0h1m41 0h1m10 0h1m35 0h1m-128 1h4m2 0h1m7 0h1m10 0h1m32 0h1m3 0h1m18 0h1m69 0h1m-141 1h2m9 0h1m26 0h1m36 0h1m42 0h1m20 0h1m-99 1h1m5 0h1m21 0h1m26 0h1m-89 1h1m3 0h1m1 0h1m5 0h2m9 0h1m1 0h1m19 0h1m6 0h1m10 0h1m1 0h1m4 0h1m3 0h1m-82 1h1m41 0h1m1 0h1m-33 1h1m36 0h1m13 0h1m26 0h1m46 0h1m-146 1h1m4 0h1m8 0h1m47 0h1m58 0h1m12 0h1m-129 1h1m33 0h1m4 0h1m72 0h2m-103 1h1m15 0h1m4 0h1m6 0h1m19 0h1m23 0h1m30 0h1m25 0h2m-137 1h1m34 0h1m29 0h1m46 0h1m18 0h1m4 0h1m-129 1h1m18 0h1m9 0h1m17 0h1m53 0h1m2 0h1m8 0h1m-78 1h1m3 0h1m9 0h1m1 0h1m-33 1h1m7 0h1m12 0h1m5 0h1m14 0h1m27 0h1m8 0h1m1 0h1m26 0h1m-108 1h1m3 0h1m24 0h1m40 0h1m10 0h1m-77 1h1m9 0h1m6 0h1m11 0h1m24 0h2m11 0h1m11 0h1m-98 1h1m17 0h1m10 0h1m15 0h1m18 0h1m7 0h1m10 0h1m-84 1h2m24 0h1m43 0h1m10 0h1m24 0h1m12 0h1m-101 1h1m5 0h1m11 0h1m2 0h1m14 0h1m15 0h1m12 0h1m16 0h1m16 0h1m-75 1h1m7 0h1m3 0h1m10 0h2m45 0h1m-92 1h1m52 0h1m18 0h1m13 0h1m7 0h1m-94 1h1m1 0h1m90 0h1m-94 1h1m15 0h1m8 0h1m33 0h1m2 0h1m11 0h1m8 0h1m5 1h1m-84 1h1m2 0h1m68 0h1m-15 1h1m5 0h1m18 0h1m-76 1h1m45 0h1m24 0h2m3 0h1m-25 1h1m1 0h1m12 4h1m-18 2h1m12 0h1m-1 1h1m-15 6h1"/>
<path stroke="#fc7e46" d="M44 21h1m120 16h1m-8 1h1m3 0h1m19 0h1m2 0h1m25 0h1m-30 1h1m-125 1h1m-1 1h1m99 1h2m-25 1h1m56 0h1m-136 1h1m81 1h1m12 1h1m-104 1h1m22 0h1m0 2h1m85 0h1m-102 2h1m37 1h1m-25 1h1m2 0h1m11 0h1m12 0h1m35 0h1m1 0h1m-73 1h1m0 1h1m38 0h1m23 0h1m12 0h1m4 0h1m43 1h1m-91 3h1m-8 1h1m20 0h1m-12 1h1m6 0h1m-9 1h1m0 1h1m-32 1h1m29 0h1m-35 1h1m76 1h1m-71 2h1m35 0h3m13 0h1m-30 1h1m24 0h2m-3 1h1m-49 1h1m53 0h1m7 0h1m0 1h1m2 0h1m-75 1h1m44 1h1m6 0h1m8 0h1m72 0h1m-145 1h1m103 0h1m8 1h1m23 0h1m2 0h1m-134 2h1m8 0h1m17 0h1m19 0h1m69 0h1m23 0h1m49 0h1m-186 1h1m37 0h1m38 0h1m3 0h1m22 0h1m-96 1h1m44 0h1m2 0h1m1 0h1m16 0h1m34 0h1m4 1h1m4 0h2m-25 1h1m35 0h1m-140 1h1m37 0h1m39 0h1m41 0h1m17 0h1m8 0h1m37 0h1m-59 1h1m-136 1h1m51 0h1m86 0h1m-92 1h1m22 0h1m12 0h1m49 0h1m-136 1h1m29 0h1m22 0h1m4 0h1m11 0h1m64 0h1m40 0h1m21 0h1m-201 1h1m30 0h1m40 0h1m23 0h1m37 0h1m4 0h1m28 0h1m-133 1h2m15 0h1m5 0h1m25 0h1m50 0h1m18 0h1m-121 1h1m1 0h1m23 0h1m11 0h1m16 0h1m74 0h1m18 0h1m-134 1h1m24 0h1m11 0h1m61 0h1m8 0h1m14 0h1m9 0h1m-185 1h1m6 0h1m29 0h1m9 0h1m1 0h3m33 0h1m12 0h1m43 0h1m18 0h1m8 0h1m5 0h1m2 0h2m4 0h1m-186 1h1m36 0h1m14 0h1m30 0h1m8 0h1m2 0h1m39 0h1m33 0h2m7 0h1m-143 1h2m32 0h1m10 0h1m1 0h1m53 0h1m10 0h1m4 0h1m3 0h1m6 0h1m27 0h1m12 0h2m-173 1h1m57 0h1m4 0h1m27 0h1m11 0h1m9 0h1m1 0h1m7 0h1m9 0h1m-129 1h1m28 0h1m4 0h1m22 0h1m2 0h1m42 0h2m4 0h1m-124 1h1m38 0h1m24 0h1m57 0h1m6 0h1m38 0h1m-167 1h1m50 0h2m34 0h1m30 0h1m28 0h2m-149 1h1m28 0h2m5 0h1m67 0h1m16 0h1m2 0h1m3 0h1m11 0h1m23 0h1m3 0h1m6 0h1m-188 1h1m32 0h1m7 0h1m34 0h2m26 0h1m16 0h1m12 0h2m17 0h1m-142 1h1m27 0h1m6 0h1m10 0h1m12 0h1m3 0h1m2 0h1m25 0h1m9 0h2m3 0h1m5 0h1m-137 1h1m18 0h1m40 0h1m4 0h1m4 0h1m21 0h1m5 0h1m15 0h1m10 0h1m9 0h1m38 0h1m16 0h1m4 0h1m6 0h1m-146 1h1m34 0h1m19 0h1m38 0h1m6 0h1m2 0h1m8 0h1m1 0h1m-116 1h1m15 0h1m126 0h1m-160 1h1m6 0h1m11 0h1m4 0h1m3 0h1m17 0h1m10 0h1m7 0h1m19 0h1m3 0h1m9 0h1m22 0h1m3 0h1m19 0h1m-136 1h1m14 0h1m7 0h2m26 0h1m35 0h2m4 0h1m37 0h1m-119 1h1m6 0h1m24 0h1m17 0h1m30 0h1m42 0h2m-184 1h1m48 0h1m9 0h1m11 0h1m7 0h1m42 0h1m3 0h1m6 0h1m36 0h1m11 0h1m9 0h1m-189 1h1m35 0h1m9 0h1m1 0h1m7 0h1m10 0h1m26 0h1m2 0h1m18 0h1m11 0h1m3 0h1m11 0h1m33 0h2m16 0h1m-178 1h1m9 0h1m12 0h1m33 0h1m2 0h2m11 0h1m4 0h1m12 0h1m22 0h1m39 0h1m4 0h1m-166 1h1m5 0h1m21 0h1m2 0h1m24 0h1m10 0h1m6 0h1m33 0h2m7 0h1m41 0h1m21 0h1m-154 1h2m12 0h1m34 0h1m25 0h2m13 0h1m-124 1h1m5 0h1m16 0h1m10 0h1m8 0h1m9 0h1m6 0h1m2 0h1m5 0h1m9 0h1m6 0h1m28 0h1m-95 1h2m12 0h1m21 0h1m21 0h1m15 0h1m10 0h1m15 0h1m7 0h1m30 0h3m-146 1h2m23 0h1m1 0h1m15 0h1m36 0h1m11 0h1m28 0h1m33 0h1m-164 1h1m2 0h1m5 0h1m1 0h1m7 0h1m9 0h1m5 0h1m10 0h1m23 0h1m8 0h1m1 0h1m4 0h1m8 0h1m5 0h1m24 0h1m-107 1h1m57 0h2m1 0h1m21 0h1m40 0h1m-107 1h1m7 0h1m10 0h1m11 0h1m27 0h1m2 0h1m11 0h1m5 0h1m14 0h1m7 0h1m-140 1h1m46 0h2m23 0h1m4 0h1m11 0h1m24 0h1m40 0h1m2 0h1m-153 1h1m10 0h1m12 0h1m2 0h1m2 0h2m35 0h1m30 0h1m33 0h1m21 0h1m-154 1h1m6 0h1m44 0h1m17 0h1m-87 1h1m2 0h1m33 0h1m7 0h1m12 0h1m23 0h1m31 0h1m25 0h1m1 0h1m-133 1h1m10 0h1m5 0h1m18 0h1m5 0h1m36 0h1m14 0h1m5 0h1m35 0h1m1 0h1m18 0h1m-165 1h1m24 0h1m23 0h1m32 0h1m8 0h1m12 0h1m-100 1h1m5 0h1m27 0h1m42 0h1m1 0h1m4 0h1m18 0h1m32 0h1m19 0h1m17 0h1m-168 1h1m5 0h1m38 0h1m33 0h1m50 0h1m22 0h1m-158 1h2m2 0h1m2 0h1m1 0h1m8 0h2m60 0h1m2 0h1m14 0h1m1 0h1m9 0h1m21 0h1m1 0h1m4 0h1m-138 1h1m4 0h1m70 0h1m50 0h1m13 0h1m-140 1h1m13 0h1m30 0h1m23 0h1m26 0h1m28 0h1m34 0h1m-114 1h1m77 0h1m4 0h2m-118 1h1m10 0h1m13 0h1m24 0h1m-59 1h1m12 0h1m8 0h1m22 0h1m74 0h1m26 0h1m-149 1h1m4 0h1m3 0h1m16 0h1m4 0h1m15 0h1m32 0h1m18 0h1m8 0h1m3 0h1m4 0h1m8 0h1m-134 1h1m7 0h1m88 0h1m58 0h1m4 0h1m-154 1h1m84 0h1m30 0h1m16 0h1m-138 1h1m25 0h1m3 0h1m33 0h1m-44 1h1m21 0h1m2 0h1m101 0h1m-127 1h1m1 0h1m18 0h1m8 0h1m17 0h1m-24 1h1m1 0h1m45 0h1m-96 1h1m9 0h2m8 0h1m29 0h1m2 0h1m91 0h1m-124 1h1m11 0h1m39 0h1m-64 1h1m29 0h1m2 0h1m18 0h2m16 0h1m1 0h1m-59 1h1m56 0h1m51 0h1m-129 1h1m13 0h1m2 0h1m3 0h1m11 0h1m22 0h1m34 0h1m-85 1h1m23 0h1m1 0h1m65 0h1m-90 1h1m4 0h1m23 0h1m81 0h1m18 0h1m-130 1h1m10 0h1m56 0h1m17 0h1m-85 1h1m4 0h1m3 0h1m9 0h1m2 0h1m48 0h1m2 0h1m30 1h1m-77 1h2m10 0h1m4 0h1m36 0h1m16 0h1m-62 1h1m16 0h1m3 0h1m69 0h1m-105 1h1m2 0h1m22 0h1m0 1h1m16 0h1m-27 1h1m8 0h1m12 0h1m1 0h2m33 0h1m-70 1h1m22 0h1m9 0h1m-59 1h1m24 0h1m27 0h1m46 0h1m15 0h1m-77 1h1m6 0h1m2 0h1m52 0h1m-32 1h1m25 0h1m-64 1h1m8 0h1m27 0h1m10 0h1m25 0h1m-37 1h1m14 0h1m13 0h1m13 0h1m-30 1h1m6 0h1m1 0h1m-13 1h1m3 0h1m3 0h1m-53 1h1m71 1h1m-78 1h1m53 1h1m-1 2h1m13 1h1m-15 8h1"/>
<path stroke="#fd9652" d="M44 20h2m-1 2h1m0 10h1m113 4h1m-113 1h1m148 0h1m-39 1h2m6 0h1m28 0h1m1 0h1m-40 1h1m4 0h1m19 0h1m25 0h1m-53 1h1m4 0h2m16 0h3m-123 1h1m95 0h1m33 0h1m-36 2h1m-99 1h1m76 0h1m55 0h1m-54 1h1m-1 1h1m-8 1h1m-87 1h1m17 0h1m8 0h1m48 0h1m-53 1h1m2 0h1m62 0h1m20 0h3m-61 1h1m-29 2h1m54 0h1m-27 1h1m4 0h1m22 0h1m-60 1h1m0 1h1m21 0h1m-13 1h1m53 0h1m-56 1h1m22 1h1m16 1h1m-37 1h1m52 0h1m99 0h1m-130 1h1m-1 1h1m5 0h1m12 0h1m-28 1h2m25 0h1m-15 1h1m59 0h1m-101 1h1m1 0h1m-2 1h1m50 0h1m8 0h1m-30 1h1m10 0h1m22 2h1m-71 1h1m72 0h1m30 0h1m25 0h1m-62 1h1m-61 1h1m1 0h1m1 0h1m82 0h1m34 0h1m-71 1h1m5 0h1m-23 1h1m22 0h1m62 0h1m-131 1h1m68 0h1m29 0h1m2 0h1m21 0h1m-138 1h1m23 0h2m26 0h1m45 0h1m40 0h1m2 0h1m-122 1h1m16 0h1m14 0h1m11 0h1m3 0h1m6 0h1m20 0h1m7 0h2m-102 1h1m3 0h1m8 0h1m5 0h1m29 0h2m146 0h1m-179 1h1m45 0h1m32 0h1m29 0h1m14 0h1m-117 1h1m38 0h1m79 0h1m4 0h1m42 0h1m-187 1h1m41 0h1m16 0h1m-54 1h1m10 0h1m42 0h1m19 0h1m34 0h1m22 0h1m-138 1h1m7 0h1m121 0h1m-120 1h1m1 0h1m23 0h2m79 0h1m23 0h1m1 0h1m39 0h1m-173 1h1m22 0h1m7 0h1m43 0h1m-101 1h2m29 0h1m20 0h1m2 0h1m3 0h1m-49 1h1m36 0h2m10 0h2m13 0h1m69 0h1m1 0h1m15 0h1m9 0h2m-134 1h1m5 0h1m5 0h1m6 0h3m89 0h1m21 0h1m23 0h1m-200 1h1m11 0h1m2 0h1m22 0h2m22 0h1m46 0h1m4 0h1m28 0h1m30 0h1m1 0h1m29 0h1m-161 1h1m41 0h1m66 0h1m21 0h1m-176 1h1m33 0h2m1 0h1m12 0h1m5 0h1m2 0h1m9 0h1m76 0h1m14 0h1m21 0h1m-180 1h1m34 0h1m2 0h1m7 0h3m13 0h1m8 0h1m8 0h1m3 0h1m1 0h1m33 0h1m8 0h2m7 0h1m5 0h1m8 0h1m3 0h1m34 0h1m-185 1h1m19 0h1m12 0h1m1 0h1m1 0h1m24 0h1m42 0h1m16 0h1m6 0h1m6 0h1m-110 1h1m4 0h1m5 0h2m74 0h1m14 0h1m5 0h1m4 0h2m23 0h1m-144 1h1m5 0h1m2 0h1m1 0h1m4 0h1m1 0h1m1 0h1m7 0h1m3 0h1m1 0h1m15 0h1m42 0h1m26 0h1m8 0h1m21 0h2m-156 1h1m8 0h1m1 0h1m6 0h1m13 0h1m1 0h1m10 0h1m2 0h1m2 0h1m4 0h1m2 0h1m-57 1h1m3 0h1m10 0h1m16 0h1m2 0h1m1 0h1m3 0h1m3 0h1m6 0h1m43 0h1m9 0h1m44 0h1m-182 1h1m46 0h1m7 0h1m3 0h1m30 0h1m26 0h1m2 0h2m21 0h1m-135 1h1m2 0h1m46 0h1m6 0h1m19 0h1m34 0h1m38 0h1m26 0h1m-175 1h1m45 0h1m-62 1h1m6 0h1m57 0h1m32 0h1m36 0h1m1 0h1m7 0h1m30 0h1m-174 1h2m139 0h1m7 0h1m35 0h1m-189 1h1m18 0h1m28 0h1m38 0h1m19 0h1m22 0h1m6 0h1m7 0h1m22 0h1m19 0h1m-191 1h1m51 0h1m14 0h1m10 0h1m5 0h1m18 0h1m47 0h1m56 0h1m1 0h1m-196 1h1m1 0h1m59 0h1m44 0h1m17 0h1m46 0h1m-145 1h1m2 0h1m9 0h2m1 0h1m23 0h1m2 0h1m5 0h1m2 0h1m30 0h1m1 0h1m12 0h1m23 0h1m-116 1h1m16 0h1m69 0h1m-110 1h1m19 0h1m37 0h1m31 0h1m2 0h1m9 0h1m2 0h1m11 0h1m-137 1h1m7 0h1m20 0h1m15 0h1m5 0h1m15 0h1m32 0h1m7 0h1m62 0h1m-154 1h1m44 0h1m15 0h1m8 0h1m2 0h1m13 0h1m25 0h1m53 0h1m-183 1h1m5 0h1m12 0h1m1 0h1m14 0h1m21 0h1m2 0h1m4 0h1m2 0h1m21 0h1m88 0h1m-182 1h1m8 0h1m22 0h1m6 0h1m10 0h1m19 0h2m9 0h1m5 0h1m38 0h1m45 0h1m9 0h1m-166 1h1m5 0h1m37 0h1m31 0h1m89 0h1m-142 1h1m8 0h1m6 0h1m35 0h1m25 0h1m12 0h1m-124 1h1m3 0h1m33 0h1m1 0h1m105 0h1m15 0h1m-163 1h1m17 0h1m1 0h1m40 0h1m44 0h1m2 0h1m19 0h1m44 0h1m-162 1h1m1 0h1m27 0h1m64 0h1m6 0h1m5 0h1m-108 1h1m1 0h2m21 0h1m4 0h1m4 0h1m9 0h1m11 0h1m13 0h1m10 0h1m30 0h1m37 0h1m-143 1h1m4 0h1m17 0h1m4 0h1m3 0h1m13 0h1m11 0h1m4 0h1m24 0h1m10 0h1m2 0h1m-115 1h1m11 0h1m1 0h1m2 0h1m1 0h1m1 0h1m19 0h1m35 0h1m25 0h1m8 0h1m30 0h1m3 0h1m-137 1h1m1 0h1m39 0h1m47 0h1m37 0h1m-127 1h1m6 0h1m20 0h1m31 0h1m9 0h1m71 0h1m-165 1h1m2 0h2m7 0h1m17 0h1m21 0h1m34 0h1m57 0h1m7 0h1m-148 1h1m1 0h1m11 0h1m9 0h1m16 0h1m9 0h1m2 0h1m45 0h1m12 0h1m50 0h1m13 0h1m-175 1h1m12 0h1m39 0h1m27 0h2m89 0h1m-182 1h1m10 0h1m43 0h1m35 0h1m4 0h1m11 0h1m1 0h1m29 0h1m-136 1h1m19 0h1m27 0h1m13 0h1m36 0h1m36 0h1m7 0h1m-133 1h1m7 0h1m1 0h1m10 0h1m10 1h1m8 0h1m26 0h1m58 0h1m26 0h1m6 0h2m-121 1h1m-37 1h1m2 0h1m14 0h1m16 0h2m31 0h1m80 0h1m-153 1h1m7 0h1m1 0h1m102 0h1m21 0h1m-135 1h1m6 0h1m1 0h1m28 0h1m23 0h1m17 0h1m24 0h1m16 0h1m23 0h3m-136 1h1m2 0h1m129 0h1m-151 1h1m5 0h1m16 0h1m5 0h2m-29 1h1m46 0h1m23 0h1m17 0h1m31 0h1m11 0h1m-114 1h1m14 0h2m8 0h1m1 0h1m4 0h1m69 0h1m2 0h1m25 0h1m-47 1h1m-101 1h1m12 0h1m2 0h2m46 0h1m12 0h1m33 0h1m30 0h1m-151 1h1m24 0h1m11 0h1m1 0h1m21 0h1m-59 1h2m3 0h1m1 0h1m28 0h1m5 0h1m19 0h1m2 0h1m-65 1h1m4 0h1m62 0h1m30 0h1m27 0h1m5 0h1m-132 1h1m21 0h1m9 0h1m-33 1h1m3 0h1m7 0h1m48 0h1m47 0h1m9 0h2m14 0h1m8 0h1m-144 1h1m71 0h1m6 0h1m-72 1h1m5 0h1m11 0h1m16 0h1m43 0h1m27 0h1m1 0h1m-110 1h1m73 0h1m15 0h1m39 0h1m-124 1h1m15 0h1m4 0h1m10 0h1m1 0h1m3 0h1m9 0h2m10 0h1m-54 1h1m24 0h1m7 0h1m8 0h1m21 0h1m-64 2h1m16 0h1m34 0h1m9 0h1m-61 1h1m18 0h1m1 0h1m7 0h1m28 0h1m4 0h1m2 0h1m-50 1h1m9 0h1m9 0h1m25 0h1m-25 1h1m18 0h1m-18 1h1m26 0h1m20 0h1m8 0h1m-66 1h1m4 0h1m25 0h1m5 0h1m20 0h1m-54 1h1m54 0h1m-5 1h1m4 1h1m-70 1h1m11 0h1m65 0h1m-79 1h1m1 0h1m57 0h1m2 0h1m-48 1h1m41 0h1m3 0h1m7 0h1m-70 1h1m58 0h1m-54 1h1m70 0h1m0 2h1m-4 3h1m-17 2h1m9 2h1m-9 4h1"/>
<path stroke="#fdae60" d="M45 21h1m-2 1h1m0 1h1m2 12h1m135 2h1m-21 1h1m13 0h1m18 0h1m-140 1h1m104 0h1m14 0h1m4 0h1m-123 1h1m91 0h2m1 0h1m11 0h1m-107 1h1m91 0h1m26 0h1m-125 1h1m123 0h1m9 0h1m-147 2h1m2 0h1m85 0h1m55 0h1m-150 1h1m14 0h1m75 0h2m17 0h2m-111 1h1m87 0h1m61 0h1m-53 1h1m15 0h1m-113 1h1m2 0h2m1 0h1m9 0h1m4 0h1m7 0h1m57 0h1m58 0h1m3 0h1m-148 1h1m2 0h1m10 0h1m3 0h1m-19 1h1m3 0h1m86 0h2m-19 1h1m-16 1h1m19 0h1m14 0h1m-69 1h1m31 0h1m-49 1h1m9 0h1m5 0h1m55 0h1m-56 1h2m20 0h1m5 0h1m-31 1h1m5 0h1m27 0h1m-30 1h1m19 0h1m4 0h1m27 0h1m-25 1h1m-42 1h1m51 0h1m43 0h1m-98 1h1m12 0h1m30 0h1m4 0h1m9 0h1m-42 1h1m31 0h1m10 0h1m9 0h1m-25 1h1m1 0h2m11 0h1m110 0h1m-176 1h1m30 0h1m2 0h1m15 0h1m68 0h1m66 0h1m-137 1h1m33 0h1m34 0h1m-76 1h1m40 0h1m-75 1h1m18 0h2m8 0h1m48 0h1m12 0h1m-36 1h1m16 0h1m-75 2h1m28 0h1m2 0h1m34 0h1m42 0h1m-117 1h1m4 0h1m47 0h1m53 0h1m-115 1h2m10 0h1m6 0h1m15 0h1m24 0h1m4 0h1m6 0h1m22 0h1m19 0h1m-115 1h1m75 0h1m8 0h1m73 0h1m-158 1h1m7 0h1m5 0h1m35 0h1m20 0h1m2 0h2m8 0h1m104 0h1m-183 1h2m5 0h1m28 0h1m22 0h1m7 0h1m26 0h1m6 0h2m18 0h1m12 0h1m1 0h1m-128 1h1m34 0h1m6 0h1m33 0h1m-84 1h1m4 0h1m86 0h1m19 0h1m17 0h1m-145 1h1m12 0h1m9 0h2m24 0h1m23 0h1m51 0h1m11 0h2m-73 1h1m3 0h1m3 0h1m8 0h1m21 0h1m18 0h1m-119 1h2m16 0h1m4 0h1m37 0h1m12 0h1m44 0h1m10 0h2m12 0h2m47 0h1m-187 1h1m1 0h1m5 0h1m15 0h1m64 0h1m44 0h1m-138 1h1m6 0h1m11 0h2m1 0h1m21 0h1m14 0h1m20 0h1m6 0h1m47 0h1m1 0h1m-138 1h3m21 0h1m48 0h1m6 0h1m64 0h2m-156 1h1m3 0h1m13 0h1m7 0h1m1 0h1m24 0h1m33 0h1m61 0h1m-134 1h1m17 0h1m12 0h1m47 0h1m-99 1h1m3 0h1m20 0h1m24 0h1m30 0h1m-79 1h1m21 0h1m23 0h2m90 0h1m11 0h1m12 0h1m33 0h1m-204 1h1m3 0h1m24 0h1m1 0h1m1 0h1m10 0h2m11 0h1m3 0h2m20 0h1m6 0h1m8 0h1m8 0h1m2 0h1m26 0h1m61 0h1m-197 1h1m35 0h1m1 0h1m9 0h1m9 0h1m31 0h1m46 0h1m27 0h1m-165 1h2m30 0h2m4 0h1m15 0h2m18 0h1m15 0h1m15 0h1m11 0h1m16 0h1m4 0h1m14 0h2m-165 1h1m43 0h1m1 0h1m45 0h1m17 0h1m61 0h1m-166 1h1m32 0h1m8 0h1m5 0h2m5 0h1m11 0h1m6 0h1m1 0h1m13 0h1m19 0h1m33 0h1m8 0h1m20 0h1m6 0h1m-127 1h1m3 0h1m8 0h1m8 0h1m4 0h1m7 0h1m9 0h1m43 0h1m5 0h1m4 0h1m12 0h1m13 0h1m-185 1h1m15 0h1m32 0h1m4 0h2m3 0h1m1 0h1m16 0h1m2 0h1m70 0h1m23 0h1m17 0h1m-147 1h1m3 0h1m6 0h1m1 0h1m32 0h1m35 0h1m22 0h1m13 0h1m13 0h1m-143 1h1m5 0h1m6 0h1m10 0h1m4 0h1m32 0h1m40 0h1m41 0h1m17 0h1m-181 1h1m25 0h1m4 0h1m44 0h1m35 0h1m5 0h1m7 0h1m44 0h1m-171 1h1m5 0h1m5 0h1m11 0h1m6 0h1m16 0h1m8 0h1m14 0h2m9 0h1m24 0h2m-102 1h1m43 0h1m50 0h1m8 0h1m68 0h1m-199 1h1m18 0h1m1 0h1m5 0h1m1 0h1m11 0h1m7 0h1m18 0h1m19 0h1m39 0h1m1 0h1m9 0h1m1 0h1m28 0h1m-173 1h1m132 0h1m5 0h1m23 0h1m35 0h1m-195 1h2m13 0h1m12 0h1m5 0h1m3 0h2m3 0h2m9 0h2m9 0h1m5 0h1m4 0h1m47 0h1m65 0h1m10 0h1m-206 1h1m16 0h1m42 0h1m2 0h1m15 0h2m25 0h1m-95 1h1m4 0h1m40 0h1m6 0h1m120 0h1m-175 1h1m2 0h1m28 0h1m17 0h1m5 0h1m10 0h1m43 0h1m23 0h1m35 0h1m-186 1h1m17 0h1m1 0h1m16 0h1m22 0h1m31 0h1m12 0h1m12 0h2m2 0h1m1 0h1m11 0h1m17 0h1m35 0h1m-192 1h1m14 0h1m6 0h1m29 0h1m15 0h2m5 0h1m23 0h2m1 0h1m46 0h1m32 0h1m9 0h1m13 0h2m-166 1h1m4 0h1m1 0h1m1 0h1m5 0h1m4 0h1m23 0h1m47 0h1m1 0h1m9 0h1m35 0h1m-132 1h1m3 0h2m18 0h1m59 0h1m46 0h1m23 0h1m2 0h1m-182 1h1m14 0h1m34 0h1m52 0h1m13 0h1m50 0h1m-184 1h1m5 0h2m15 0h1m12 0h1m20 0h2m4 0h1m39 0h1m14 0h1m59 0h1m-164 1h1m13 0h1m27 0h1m7 0h1m1 0h1m34 0h1m27 0h1m35 0h1m-152 1h1m1 0h2m20 0h1m8 0h1m1 0h1m23 0h1m35 0h1m1 0h1m11 0h1m-104 1h1m1 0h1m10 0h1m15 0h1m2 0h1m5 0h1m13 0h2m54 0h2m3 0h1m4 0h1m28 0h1m4 0h1m7 0h1m-153 1h1m5 0h1m26 0h1m24 0h1m8 0h1m85 0h2m13 0h1m-190 1h1m14 0h1m1 0h1m18 0h1m23 0h1m54 0h1m1 0h1m6 0h1m36 0h2m1 0h1m6 0h1m-157 1h1m1 0h1m7 0h1m19 0h1m13 0h1m29 0h1m31 0h1m11 0h1m35 0h1m1 0h1m-142 1h1m80 0h1m33 0h1m-130 1h1m62 0h1m10 0h1m9 0h1m42 0h1m-106 1h1m3 0h1m2 0h2m6 0h1m26 0h1m29 0h1m2 0h1m22 0h1m30 0h1m-124 1h1m3 0h1m2 0h1m2 0h1m28 0h1m17 0h1m4 0h1m62 0h1m1 0h1m2 0h1m-117 1h1m32 0h1m26 0h1m56 0h1m-168 1h1m3 0h1m2 0h1m38 0h1m6 0h1m34 0h1m52 0h1m2 0h1m16 0h1m-165 1h1m16 0h2m6 0h1m35 0h1m20 0h1m7 0h1m90 0h1m-179 1h1m1 0h1m4 0h2m4 0h1m6 0h1m28 0h1m9 0h2m23 0h1m20 0h1m4 0h1m32 0h1m2 0h1m19 0h1m10 0h1m-181 1h1m8 0h2m40 0h1m10 0h1m38 0h1m40 0h1m-130 1h1m10 0h1m5 0h1m6 0h1m19 0h1m5 0h1m21 0h2m4 0h1m49 0h1m-133 1h1m43 0h1m110 0h1m14 0h1m-175 1h1m40 0h1m2 0h1m17 0h1m43 0h1m26 0h1m-132 1h1m50 0h1m50 0h1m-85 1h1m1 0h1m52 0h1m57 0h1m2 0h1m22 0h1m10 0h1m-169 1h1m16 0h1m35 0h1m26 0h1m10 0h1m5 0h1m30 0h1m6 0h1m0 1h1m-102 1h1m20 0h1m20 0h1m-78 1h1m47 0h1m118 0h1m-162 1h1m43 0h1m41 0h1m70 0h1m-110 1h1m1 0h1m42 0h1m-86 1h1m1 0h1m18 0h1m-23 1h2m20 0h1m14 0h1m3 0h1m46 0h1m3 0h1m8 0h1m34 0h2m-133 1h2m2 0h1m27 0h1m4 0h1m8 0h1m4 0h1m2 0h1m-39 1h1m20 0h1m28 0h1m-68 1h1m21 0h1m8 0h1m38 0h1m9 0h1m-84 1h1m19 0h1m12 0h2m7 0h1m17 0h1m19 0h1m36 0h1m14 0h1m-96 1h1m45 0h1m-85 1h1m14 0h1m121 0h1m-122 1h1m10 0h1m33 0h1m58 0h1m-110 1h1m31 0h1m28 0h1m4 0h1m-50 1h1m9 0h1m102 0h1m-129 1h1m33 0h1m61 0h1m-98 1h1m25 0h1m-16 1h1m2 0h1m46 0h1m3 0h1m8 0h1m23 0h1m-87 1h1m23 0h1m17 0h1m3 0h1m3 0h1m13 0h2m-39 1h1m16 0h1m12 0h1m34 0h1m4 0h1m-59 1h1m13 0h1m18 0h1m15 0h1m1 0h1m-58 1h1m54 0h1m-54 1h1m3 0h1m7 0h1m1 0h1m6 0h1m62 0h1m-119 1h1m36 0h1m12 0h1m19 0h1m43 0h1m-67 1h1m4 0h1m29 0h1m3 0h1m8 0h2m-70 1h1m1 0h1m7 0h1m36 0h2m28 0h1m-60 1h1m69 0h1m-89 1h1m12 0h1m49 0h1m4 0h1m19 0h1m-87 1h1m65 0h1m19 0h1m-87 1h1m8 0h1m50 0h1m15 0h1m-81 1h2m59 1h1m2 0h1m-56 1h1m68 0h1m-16 2h1m-1 2h1m-3 5h1m-2 1h1m7 0h1m-9 1h1"/>
<path stroke="#fdc272" d="M47 20h1m-2 7h1m7 8h1m111 2h1m1 0h1m13 0h1m24 0h1m-153 1h1m112 0h1m12 0h1m1 0h1m2 0h1m-27 1h1m8 0h1m11 0h1m3 0h2m-130 1h1m126 0h1m1 0h1m-127 1h1m86 0h1m5 0h1m1 0h2m25 0h1m9 0h1m-146 1h1m10 0h1m77 0h1m14 0h1m4 0h1m32 0h1m-132 1h2m76 0h1m23 0h1m29 0h1m-149 1h1m7 0h1m88 0h1m52 0h1m-133 1h1m2 0h1m5 0h1m117 0h2m1 0h2m-149 1h1m18 0h1m8 0h1m116 0h1m-57 1h1m-84 1h1m11 0h1m81 0h1m1 0h1m4 0h2m40 0h1m-148 1h1m5 0h1m2 0h1m2 0h1m6 0h1m3 0h1m53 0h1m11 0h1m1 0h1m1 0h1m-82 1h3m12 0h1m85 0h1m1 0h1m-94 1h1m3 0h1m86 0h1m1 0h1m-104 1h1m3 0h1m62 0h1m20 0h1m-50 1h1m28 0h2m1 0h1m-54 1h1m4 0h1m46 0h1m9 0h1m-70 1h1m1 0h1m7 0h1m25 0h1m32 0h1m-62 1h2m22 0h1m13 0h1m13 0h1m8 0h1m-59 1h1m16 0h1m1 0h1m12 0h1m49 0h1m-77 1h1m9 0h1m1 0h1m-32 1h1m32 0h1m1 0h1m14 0h1m-51 1h1m4 0h1m1 0h1m4 0h1m17 0h1m5 0h1m2 0h1m4 0h1m3 0h2m20 0h1m27 0h2m-105 1h1m17 0h1m33 0h1m2 0h1m7 0h1m-65 1h1m1 0h1m9 0h1m2 0h1m20 0h1m6 0h1m23 0h1m95 0h1m29 0h1m-181 1h1m8 0h1m23 0h1m13 0h1m23 0h1m22 0h1m-105 1h1m28 0h1m16 0h1m6 0h1m-25 1h1m12 0h1m3 0h1m15 0h1m10 0h1m11 0h1m2 0h1m19 0h2m-108 1h1m5 0h1m50 0h1m1 0h1m2 0h2m4 0h1m7 0h1m29 0h1m-96 1h2m50 0h1m2 0h1m11 0h1m3 0h1m-94 1h1m16 0h1m1 0h1m2 0h1m27 0h1m22 0h2m10 0h1m5 0h1m35 0h1m-127 1h1m19 0h1m4 0h1m22 0h1m36 0h1m10 0h1m22 0h1m-97 1h1m53 0h1m4 0h2m5 0h1m29 0h2m-121 1h1m78 0h1m10 0h1m14 0h1m14 0h1m3 0h1m-103 1h1m15 0h1m27 0h1m24 0h1m3 0h1m2 0h2m10 0h1m-95 1h1m21 0h1m26 0h1m24 0h1m23 0h1m13 0h1m-117 1h1m9 0h1m1 0h1m12 0h1m28 0h2m-66 1h1m18 0h1m7 0h1m5 0h2m30 0h2m4 0h2m38 0h1m3 0h1m9 0h1m12 0h4m-132 1h1m27 0h1m10 0h1m16 0h1m27 0h1m34 0h1m9 0h1m-132 1h1m21 0h1m6 0h1m28 0h1m11 0h1m4 0h1m21 0h1m43 0h1m49 0h1m-185 1h1m4 0h2m4 0h1m1 0h1m8 0h2m32 0h2m15 0h1m10 0h2m29 0h1m7 0h1m42 0h1m15 0h1m-200 1h1m17 0h1m2 0h1m5 0h1m27 0h2m19 0h1m13 0h1m7 0h1m38 0h1m-126 1h1m1 0h1m1 0h1m3 0h1m3 0h1m9 0h1m21 0h1m12 0h1m6 0h1m61 0h1m-117 1h1m3 0h1m75 0h2m53 0h1m-143 1h1m2 0h1m9 0h2m8 0h1m5 0h1m12 0h1m72 0h1m14 0h1m2 0h1m10 0h1m-156 1h1m14 0h1m8 0h1m8 0h1m12 0h1m6 0h1m10 0h1m1 0h1m20 0h1m-90 1h1m2 0h1m12 0h1m11 0h2m17 0h1m31 0h1m2 0h1m4 0h1m47 0h1m5 0h1m5 0h1m-152 1h1m7 0h1m12 0h2m10 0h1m20 0h1m5 0h1m10 0h1m4 0h1m40 0h1m67 0h1m-184 1h1m29 0h1m2 0h2m13 0h1m3 0h1m49 0h1m15 0h1m11 0h1m-132 1h1m3 0h1m21 0h1m25 0h2m10 0h1m11 0h1m26 0h1m15 0h1m23 0h1m53 0h1m4 0h1m-199 1h1m30 0h1m5 0h2m2 0h1m5 0h1m2 0h1m4 0h1m23 0h1m25 0h1m7 0h1m16 0h1m-121 1h1m27 0h1m2 0h1m1 0h2m16 0h1m6 0h1m27 0h1m35 0h1m5 0h1m31 0h1m-173 1h1m29 0h1m22 0h1m1 0h1m18 0h1m9 0h1m28 0h2m27 0h1m19 0h1m3 0h1m15 0h1m-137 1h1m15 0h1m5 0h1m17 0h1m10 0h1m63 0h1m-155 1h2m25 0h1m9 0h2m15 0h1m9 0h1m1 0h1m58 0h1m12 0h1m2 0h1m5 0h1m22 0h1m-183 1h1m1 0h1m7 0h2m5 0h1m22 0h1m4 0h2m7 0h1m5 0h1m12 0h2m11 0h1m10 0h1m31 0h2m1 0h2m22 0h2m2 0h1m1 0h1m5 0h1m3 0h1m38 0h1m-212 1h1m1 0h1m1 0h1m12 0h1m20 0h1m3 0h1m1 0h1m2 0h2m4 0h2m4 0h1m1 0h1m4 0h1m1 0h1m3 0h1m4 0h1m4 0h1m3 0h1m6 0h1m4 0h2m8 0h1m60 0h1m3 0h1m6 0h1m-179 1h1m11 0h1m28 0h2m20 0h1m3 0h1m18 0h1m17 0h2m27 0h1m41 0h1m-147 1h1m9 0h2m2 0h1m18 0h1m1 0h1m13 0h1m5 0h1m12 0h1m39 0h1m5 0h1m46 0h1m-135 1h1m3 0h1m1 0h1m6 0h1m12 0h1m47 0h1m6 0h1m9 0h1m4 0h1m50 0h1m-193 1h1m5 0h1m10 0h1m4 0h2m7 0h1m1 0h1m3 0h1m3 0h1m4 0h1m1 0h1m2 0h1m1 0h1m9 0h1m8 0h1m40 0h1m14 0h1m-128 1h1m12 0h1m7 0h1m18 0h1m1 0h1m7 0h1m14 0h1m14 0h1m6 0h1m27 0h1m4 0h1m70 0h1m1 0h1m1 0h1m-209 1h1m22 0h1m26 0h1m7 0h1m6 0h1m9 0h1m20 0h1m27 0h1m13 0h1m15 0h1m19 0h1m25 0h1m4 0h1m-200 1h1m2 0h1m9 0h1m5 0h1m5 0h1m9 0h1m3 0h1m7 0h1m17 0h1m1 0h1m1 0h1m19 0h1m61 0h1m54 0h1m-208 1h1m11 0h1m9 0h1m45 0h2m14 0h1m1 0h1m3 0h1m11 0h1m26 0h1m15 0h1m16 0h1m-145 1h1m3 0h1m16 0h1m1 0h1m11 0h1m3 0h1m12 0h1m59 0h1m-115 1h1m3 0h1m1 0h1m17 0h2m4 0h1m3 0h1m2 0h1m12 0h1m2 0h1m9 0h1m3 0h1m12 0h1m4 0h1m3 0h1m13 0h1m35 0h1m14 0h1m-172 1h1m18 0h1m16 0h1m5 0h1m4 0h1m2 0h2m1 0h1m1 0h1m16 0h1m24 0h1m3 0h1m25 0h1m41 0h1m6 0h2m11 0h1m12 0h1m-203 1h1m21 0h1m5 0h1m17 0h1m1 0h1m3 0h1m-49 1h1m19 0h1m7 0h1m11 0h1m20 0h1m9 0h1m31 0h1m55 0h1m40 0h1m-191 1h1m1 0h1m8 0h1m19 0h1m13 0h1m86 0h1m64 0h1m-144 1h1m1 0h1m15 0h1m65 0h3m26 0h1m14 0h1m11 0h1m-196 1h1m1 0h1m33 0h1m4 0h1m21 0h1m2 0h1m7 0h1m8 0h1m3 0h1m7 0h1m73 0h1m11 0h2m10 0h1m2 0h1m-203 1h1m5 0h1m3 0h1m5 0h3m6 0h1m12 0h1m15 0h2m3 0h1m15 0h1m29 0h2m11 0h1m62 0h1m23 0h1m-148 1h1m40 0h1m12 0h1m16 0h1m7 0h2m48 0h1m1 0h1m-175 1h1m21 0h2m19 0h1m3 0h1m56 0h1m5 0h1m12 0h1m63 0h1m-200 1h1m24 0h1m12 0h1m7 0h1m6 0h1m6 0h1m2 0h1m11 0h1m23 0h1m-81 1h1m4 0h1m10 0h1m3 0h1m78 0h1m14 0h1m14 0h1m51 0h1m-193 1h1m32 0h1m8 0h1m3 0h1m10 0h1m26 0h1m27 0h1m29 0h1m5 0h1m-130 1h1m3 0h1m2 0h1m17 0h1m5 0h1m47 0h1m76 0h1m-174 1h1m14 0h1m16 0h1m15 0h1m14 0h1m47 0h1m-89 1h1m6 0h1m19 0h1m5 0h1m42 0h1m10 0h1m30 0h1m46 0h1m-172 1h1m5 0h2m14 0h1m14 0h1m5 0h1m4 0h1m50 0h1m50 0h1m-160 1h2m7 0h1m2 0h1m22 0h1m12 0h1m47 0h1m6 0h1m1 0h1m61 0h1m-172 1h1m6 0h1m104 0h1m40 0h1m-137 1h1m1 0h1m7 0h1m24 0h1m57 0h1m-110 1h1m2 0h1m47 0h1m57 0h1m58 0h1m-168 1h1m1 0h2m3 0h1m9 0h1m2 0h1m2 0h1m32 0h2m41 0h1m9 0h1m-106 1h1m58 0h1m102 0h1m-163 1h1m48 1h1m57 0h1m60 0h1m-167 1h2m8 0h1m5 0h1m7 0h1m33 0h1m80 0h1m-88 1h1m48 0h1m-102 1h1m4 0h1m2 0h1m3 0h2m7 0h1m25 0h1m69 0h1m42 0h1m8 0h1m-164 1h2m5 0h1m43 0h1m34 0h1m32 0h1m-121 1h1m7 0h1m0 1h1m41 0h1m75 0h1m11 0h1m22 0h1m-165 1h1m12 0h1m31 0h1m32 0h1m5 0h1m-82 1h1m9 0h1m6 0h1m63 0h1m16 0h1m21 0h1m-119 1h1m15 0h1m13 0h1m17 0h1m18 0h1m61 0h1m23 1h1m-150 1h2m3 0h1m36 0h1m13 0h1m-56 1h1m3 0h1m1 0h1m77 0h1m-7 1h1m4 0h1m36 0h1m-121 1h1m32 0h2m30 0h1m14 0h1m5 0h1m32 0h1m-96 1h1m18 0h1m22 1h1m15 0h1m23 0h1m-102 1h1m24 0h1m-3 1h1m27 0h1m26 0h1m-67 1h1m9 0h1m15 0h1m-14 1h1m3 0h1m12 0h1m-21 1h1m21 0h1m27 0h2m1 0h1m-30 1h1m22 0h1m34 0h1m12 0h1m25 0h1m-102 1h1m3 0h2m35 0h1m59 0h1m-98 1h2m7 0h1m15 0h1m-48 1h1m21 0h2m5 0h1m13 0h1m2 0h1m37 0h1m-88 1h2m65 0h1m21 0h1m1 0h1m26 0h1m-118 1h1m38 0h1m26 0h1m20 0h1m-87 1h1m69 0h1m-2 1h2m21 0h1m-65 1h1m11 0h1m30 0h1m14 0h1m27 0h3m-89 1h2m11 0h1m62 0h1m-74 1h1m50 0h1m11 0h1m-62 1h1m38 0h1m9 0h1m7 0h1m-63 1h1m7 0h1m77 0h1m-87 1h4m3 0h1m48 0h1m-1 1h1m0 1h1m16 0h1m-17 4h1m-2 5h1m6 2h1"/>
<path stroke="#fed686" d="M47 21h1m-4 2h1m0 3h1m0 7h1m6 2h1m107 1h1m-116 1h1m112 0h1m3 0h1m17 0h1m13 0h1m-147 1h1m4 0h1m110 0h1m9 0h1m8 0h1m25 0h1m-50 1h1m3 0h1m2 0h1m8 0h1m-125 1h1m6 0h1m98 0h1m1 0h1m7 0h1m-125 1h1m7 0h1m104 0h2m2 0h2m4 0h1m25 0h1m-150 1h1m14 0h1m71 0h1m19 0h1m9 0h1m7 0h1m17 0h1m3 0h1m-137 1h1m3 0h2m75 0h1m8 0h1m37 0h1m-144 1h1m1 0h2m17 0h2m72 0h1m-93 1h1m12 0h1m76 0h1m1 0h1m38 0h1m13 0h1m-132 1h1m11 0h1m55 0h1m5 0h1m7 0h1m3 0h1m44 0h1m3 0h1m-150 1h2m2 0h1m13 0h1m88 0h2m37 0h2m-126 1h1m56 0h1m2 0h1m6 0h1m-85 1h1m9 0h2m10 0h1m123 0h1m-146 1h1m2 0h1m14 0h1m1 0h1m2 0h1m62 0h1m-78 1h1m12 0h1m1 0h1m39 0h1m20 0h2m1 0h3m-78 1h1m14 0h1m30 0h1m5 0h1m11 0h2m7 0h1m1 0h1m47 0h1m-129 1h1m2 0h1m44 0h1m30 0h1m6 0h1m7 0h1m-93 1h2m10 0h1m31 0h1m33 0h1m10 0h1m-87 1h1m36 0h1m4 0h1m36 0h1m4 0h1m93 0h1m-173 1h1m10 0h1m48 0h2m17 0h1m1 0h1m19 0h1m-108 1h1m11 0h1m7 0h1m17 0h1m4 0h1m1 0h1m6 0h1m54 0h1m-105 1h1m29 0h1m1 0h1m-14 1h1m11 0h2m44 0h1m16 0h1m-96 1h1m31 0h1m1 0h2m16 0h1m25 0h1m69 0h1m-149 1h1m8 0h1m23 0h1m5 0h1m10 0h1m49 0h1m-113 1h1m12 0h1m12 0h1m1 0h1m23 0h1m82 0h1m-100 1h1m2 0h1m11 0h1m13 0h1m8 0h1m38 0h1m82 0h1m1 0h1m-177 1h2m28 0h1m12 0h1m35 0h1m-62 1h1m1 0h1m1 0h2m27 0h1m19 0h1m22 0h1m10 0h1m-107 1h2m42 0h1m12 0h1m11 0h2m1 0h1m34 0h1m-109 1h1m18 0h2m3 0h1m4 0h1m18 0h1m3 0h1m4 0h1m3 0h1m3 0h2m32 0h1m-98 1h1m21 0h1m4 0h1m38 0h1m-81 1h1m16 0h1m42 0h1m5 0h1m-66 1h1m2 0h1m6 0h1m2 0h3m2 0h1m33 0h1m19 0h1m-81 1h1m15 0h1m6 0h1m36 0h1m72 0h1m-96 1h1m5 0h1m10 0h1m20 0h1m46 0h1m15 0h1m-135 1h1m32 0h1m13 0h1m1 0h1m12 0h1m5 0h1m3 0h2m32 0h1m2 0h1m22 0h1m-138 1h1m2 0h1m3 0h1m18 0h1m5 0h1m4 0h1m1 0h1m20 0h1m8 0h1m21 0h1m18 0h1m8 0h1m1 0h1m28 0h1m-150 1h2m4 0h2m18 0h1m1 0h1m1 0h1m6 0h1m13 0h1m5 0h1m2 0h1m5 0h1m30 0h1m21 0h1m24 0h2m1 0h1m-149 1h1m1 0h1m20 0h1m11 0h1m3 0h1m5 0h1m9 0h1m2 0h1m3 0h1m1 0h1m2 0h1m3 0h2m1 0h1m4 0h1m15 0h1m6 0h1m5 0h1m22 0h1m29 0h1m-131 1h1m13 0h1m12 0h1m9 0h1m4 0h1m23 0h1m11 0h1m10 0h1m49 0h1m30 0h1m-201 1h1m25 0h1m2 0h1m1 0h1m13 0h1m10 0h1m12 0h1m23 0h1m2 0h1m-82 1h1m1 0h1m5 0h1m10 0h1m4 0h2m10 0h1m15 0h1m4 0h1m13 0h1m14 0h1m8 0h1m32 0h1m-131 1h1m4 0h1m35 0h2m2 0h1m13 0h1m32 0h1m20 0h1m-125 1h1m1 0h1m6 0h1m3 0h1m4 0h1m36 0h1m23 0h1m62 0h1m10 0h1m-152 1h1m15 0h1m1 0h1m4 0h1m19 0h1m54 0h1m19 0h1m29 0h1m37 0h1m-185 1h1m19 0h2m2 0h1m7 0h1m13 0h1m2 0h1m9 0h1m3 0h1m56 0h1m16 0h1m-152 1h1m10 0h1m8 0h1m13 0h1m1 0h2m16 0h1m10 0h1m41 0h1m42 0h1m10 0h1m1 0h1m5 0h1m-144 1h1m14 0h1m4 0h1m14 0h1m23 0h1m4 0h1m-65 1h2m17 0h2m2 0h2m11 0h2m2 0h1m2 0h1m10 0h1m10 0h1m51 0h1m16 0h1m46 0h1m-200 1h1m13 0h1m14 0h1m4 0h1m1 0h1m11 0h1m4 0h1m2 0h1m7 0h1m69 0h1m-139 1h1m17 0h1m20 0h1m9 0h1m1 0h1m4 0h1m2 0h1m1 0h1m37 0h1m18 0h1m25 0h1m23 0h1m35 0h2m-203 1h1m29 0h1m3 0h1m9 0h1m21 0h1m3 0h1m2 0h1m6 0h1m11 0h1m3 0h2m36 0h1m18 0h1m12 0h1m2 0h1m-169 1h1m1 0h1m5 0h1m21 0h1m8 0h1m3 0h1m1 0h1m7 0h1m1 0h1m7 0h1m10 0h1m8 0h1m7 0h1m4 0h1m67 0h1m-161 1h2m38 0h3m1 0h1m32 0h1m65 0h1m49 0h1m-205 1h1m20 0h2m20 0h1m6 0h1m11 0h1m38 0h2m7 0h1m43 0h2m9 0h1m18 0h1m-181 1h1m3 0h1m10 0h1m30 0h1m1 0h2m8 0h1m46 0h1m41 0h2m48 0h1m6 0h1m-201 1h1m6 0h1m36 0h1m2 0h1m5 0h1m1 0h1m14 0h1m12 0h2m10 0h1m5 0h1m17 0h1m12 0h1m66 0h1m1 0h1m1 0h1m-184 1h1m11 0h1m12 0h1m3 0h1m15 0h1m9 0h1m1 0h1m8 0h1m7 0h1m14 0h1m39 0h1m3 0h1m39 0h1m2 0h1m9 0h1m-189 1h2m5 0h1m7 0h3m3 0h1m2 0h1m2 0h1m3 0h1m3 0h1m2 0h1m8 0h1m7 0h1m25 0h1m20 0h1m2 0h1m4 0h1m14 0h2m54 0h1m-208 1h1m8 0h1m21 0h1m4 0h2m19 0h1m5 0h1m2 0h1m1 0h1m21 0h1m40 0h1m15 0h1m48 0h1m4 0h1m-185 1h1m8 0h1m5 0h1m3 0h1m3 0h1m1 0h2m14 0h2m16 0h1m23 0h1m5 0h1m19 0h1m33 0h1m40 0h1m-189 1h1m7 0h1m1 0h1m2 0h1m9 0h2m4 0h1m1 0h1m3 0h1m5 0h3m3 0h1m1 0h1m18 0h1m26 0h1m16 0h1m10 0h1m-131 1h1m5 0h1m3 0h1m7 0h2m4 0h1m2 0h1m6 0h2m2 0h2m5 0h2m6 0h1m1 0h1m22 0h1m11 0h1m11 0h1m92 0h1m5 0h2m-200 1h1m2 0h1m9 0h1m3 0h1m3 0h1m15 0h1m4 0h1m4 0h1m50 0h1m8 0h1m1 0h1m9 0h2m29 0h1m-152 1h1m7 0h2m1 0h1m4 0h1m9 0h1m8 0h1m3 0h1m1 0h1m1 0h1m2 0h1m7 0h2m16 0h1m8 0h1m7 0h1m28 0h1m1 0h1m84 0h1m-202 1h1m4 0h1m1 0h1m3 0h1m30 0h1m10 0h1m12 0h1m7 0h1m12 0h1m13 0h1m48 0h1m38 0h1m1 0h1m14 0h1m-211 1h1m17 0h1m1 0h1m18 0h2m4 0h1m3 0h2m1 0h1m4 0h1m13 0h1m21 0h1m40 0h1m4 0h2m48 0h1m-185 1h1m11 0h1m3 0h1m2 0h1m16 0h1m4 0h1m7 0h1m8 0h1m7 0h1m24 0h1m73 0h1m40 0h1m-206 1h1m11 0h1m1 0h1m3 0h1m30 0h1m8 0h2m6 0h1m1 0h1m23 0h1m5 0h1m5 0h1m40 0h1m51 0h1m1 0h1m3 0h1m-208 1h1m6 0h2m1 0h1m6 0h1m10 0h1m41 0h2m29 0h1m24 0h1m13 0h1m63 0h1m3 0h1m-206 1h1m9 0h1m1 0h1m22 0h1m9 0h1m17 0h1m39 0h1m2 0h1m18 0h1m21 0h1m41 0h1m-189 1h1m2 0h1m2 0h2m73 0h1m34 0h1m6 0h1m50 0h1m26 0h1m-200 1h2m2 0h1m11 0h1m6 0h1m1 0h1m1 0h2m3 0h1m25 0h1m1 0h1m9 0h1m2 0h1m6 0h1m34 0h1m11 0h1m45 0h1m-160 1h1m28 0h1m2 0h1m14 0h1m7 0h1m55 0h1m4 0h2m-130 1h1m8 0h1m5 0h1m2 0h1m7 0h2m44 0h1m4 0h1m19 0h1m6 0h1m33 0h1m35 0h1m3 0h1m-157 1h2m15 0h1m13 0h1m21 0h1m8 0h1m13 0h1m21 0h1m58 0h1m1 0h1m2 0h1m8 0h1m-181 1h1m6 0h1m2 0h1m32 0h1m61 0h1m15 0h1m47 0h1m-176 1h1m17 0h1m2 0h1m7 0h1m6 0h1m6 0h1m1 0h1m39 0h1m19 0h1m21 0h2m7 0h1m33 0h1m6 0h1m-112 1h1m95 0h1m7 0h1m6 0h1m-163 1h2m13 0h1m75 0h1m72 0h2m4 0h1m5 0h2m-188 1h1m13 0h1m8 0h1m12 0h1m4 0h1m11 0h1m1 0h1m33 0h1m47 0h1m36 0h1m-164 1h1m7 0h1m5 0h1m11 0h1m5 0h1m121 0h1m-158 1h1m2 0h1m1 0h1m33 0h1m9 0h1m32 0h1m12 0h1m6 0h2m67 0h1m-172 1h1m2 0h1m10 0h1m19 0h1m21 0h1m20 0h1m17 0h2m9 0h1m1 0h1m2 0h1m37 0h1m-152 1h1m14 0h1m4 0h1m64 0h1m21 0h1m34 0h1m24 0h1m10 0h1m-173 1h1m4 0h1m93 0h1m39 0h1m-148 1h2m98 0h1m-48 1h1m51 0h1m74 0h1m2 0h1m-176 1h1m43 0h1m1 0h1m34 0h1m77 0h1m1 0h1m11 0h1m-181 1h1m4 0h1m38 0h1m10 0h1m5 0h1m47 0h1m11 0h1m-23 1h1m43 0h1m35 0h1m-158 1h1m3 0h1m22 0h1m2 0h1m89 0h1m-137 1h1m77 0h1m41 0h1m-121 1h1m5 0h1m3 0h1m2 0h1m144 0h1m11 0h1m-171 1h1m1 0h1m7 0h1m22 0h1m20 0h2m25 0h1m84 0h1m-167 1h2m36 0h1m9 0h1m96 0h1m-113 1h1m6 0h1m36 0h1m5 0h1m8 0h1m5 0h1m-96 1h1m7 0h1m8 0h1m25 0h1m41 0h1m57 0h1m-112 1h1m18 0h1m22 0h1m14 0h1m9 0h1m-97 1h1m27 0h1m112 0h1m-131 1h1m34 0h1m31 0h1m31 0h1m-99 1h1m16 0h1m14 0h1m23 0h1m2 0h1m1 0h1m-66 2h1m36 0h1m53 0h1m-69 1h1m12 0h1m-35 1h1m2 0h1m55 0h1m13 0h1m42 0h1m26 0h1m-143 1h1m10 0h1m59 0h1m43 0h1m-115 1h1m9 0h1m22 0h1m98 0h1m-102 1h1m-9 1h1m3 0h1m-16 1h1m10 0h1m28 0h1m22 0h1m41 0h1m-105 1h1m1 0h1m9 0h1m10 0h1m9 0h1m34 0h1m-40 1h1m62 0h1m6 0h1m-59 1h1m14 0h1m37 0h1m-36 1h1m38 1h1m29 0h1m-95 1h1m11 0h1m11 0h1m13 0h1m21 0h1m9 0h1m10 0h1m-71 1h1m26 0h1m25 0h1m18 0h1m-77 1h1m19 0h1m13 0h1m24 0h1m-94 1h2m42 0h1m25 0h1m4 0h1m17 1h1m2 0h1m-64 1h1m2 0h1m5 0h1m7 0h1m44 0h1m22 0h1m-84 1h2m48 0h1m-57 1h1m9 0h1m5 0h1m-19 1h2m6 0h1m49 1h1m-58 1h1m8 0h1m-4 1h1m0 1h1m51 2h1m5 9h1m-7 1h1"/>
<path stroke="#fee698" d="M45 18h1m-1 1h1m0 4h1m-4 12h1m4 1h1m136 1h1m7 0h1m-150 1h1m118 0h1m10 0h1m12 0h1m4 0h1m6 0h1m-146 1h1m112 0h1m2 0h1m8 0h2m17 0h1m12 0h2m-36 1h1m-119 1h1m76 0h1m11 0h1m2 0h2m11 0h2m14 0h1m9 0h1m-130 1h1m81 0h1m4 0h2m3 0h1m6 0h1m3 0h1m1 0h1m15 0h3m-141 1h1m1 0h2m3 0h2m104 0h1m-118 1h1m8 0h1m14 0h1m59 0h1m20 0h1m42 0h1m-144 1h1m8 0h1m3 0h1m2 0h1m4 0h1m1 0h1m66 0h1m20 0h1m35 0h2m-150 1h2m13 0h2m2 0h2m80 0h1m9 0h1m35 0h1m-132 1h1m3 0h1m4 0h1m1 0h1m54 0h1m6 0h1m-75 1h1m62 0h1m11 0h1m9 0h1m11 0h1m34 0h1m-126 1h2m2 0h1m3 0h1m35 0h1m4 0h1m21 0h1m-76 1h1m3 0h2m3 0h1m27 0h1m10 0h1m15 0h1m30 0h1m-101 1h1m3 0h2m6 0h2m2 0h1m32 0h1m3 0h1m11 0h1m19 0h1m-87 1h1m1 0h2m4 0h1m10 0h1m4 0h1m29 0h1m26 0h1m5 0h1m-88 1h1m3 0h1m1 0h1m3 0h1m10 0h1m17 0h1m27 0h1m29 0h1m5 0h1m44 0h1m-142 1h1m5 0h1m9 0h1m21 0h2m18 0h1m14 0h1m11 0h1m6 0h1m84 0h1m-146 1h1m21 0h2m1 0h1m23 0h1m5 0h1m88 0h2m-189 1h1m15 0h1m24 0h1m5 0h1m1 0h2m10 0h1m1 0h1m3 0h1m18 0h1m10 0h1m-69 1h1m23 0h1m8 0h1m16 0h1m2 0h1m-71 1h1m12 0h1m21 0h1m61 0h1m-99 1h1m20 0h1m6 0h1m3 0h1m11 0h1m1 0h2m12 0h1m15 0h2m-58 1h1m14 0h1m2 0h1m5 0h1m58 0h1m-100 1h1m10 0h1m55 0h1m8 0h1m20 0h1m-95 1h1m26 0h1m26 0h1m9 0h1m-81 1h1m3 0h1m11 0h1m1 0h1m1 0h1m16 0h1m27 0h1m4 0h1m8 0h1m11 0h1m108 0h1m-200 1h1m16 0h1m9 0h1m6 0h1m7 0h1m8 0h1m12 0h2m3 0h2m7 0h1m3 0h4m-79 1h1m12 0h2m24 0h1m2 0h1m10 0h1m23 0h1m41 0h1m-106 1h2m34 0h1m21 0h1m4 0h2m111 0h1m-198 1h1m14 0h1m3 0h2m30 0h1m8 0h1m17 0h1m8 0h1m2 0h1m27 0h1m-119 1h1m7 0h1m1 0h2m5 0h1m1 0h1m17 0h1m8 0h1m1 0h1m7 0h2m8 0h1m24 0h1m-82 1h1m1 0h1m5 0h2m1 0h1m2 0h1m22 0h1m14 0h2m5 0h1m4 0h1m43 0h1m50 0h1m31 0h1m-196 1h1m6 0h1m12 0h1m26 0h1m11 0h2m1 0h1m1 0h1m2 0h1m12 0h1m18 0h1m63 0h1m-158 1h1m12 0h1m21 0h1m10 0h1m9 0h1m5 0h1m3 0h1m1 0h1m35 0h1m4 0h1m-108 1h1m11 0h2m16 0h1m18 0h1m5 0h1m2 0h1m6 0h1m2 0h1m6 0h1m19 0h1m2 0h1m-103 1h1m3 0h1m24 0h1m7 0h1m8 0h1m10 0h2m6 0h1m8 0h1m8 0h1m53 0h1m-145 1h1m13 0h1m11 0h2m22 0h1m28 0h1m3 0h1m55 0h1m-125 1h1m14 0h1m19 0h1m15 0h1m10 0h1m4 0h1m22 0h2m16 0h1m8 0h1m-123 1h1m3 0h1m18 0h2m5 0h1m1 0h1m4 0h1m7 0h1m6 0h1m15 0h2m2 0h1m33 0h1m-119 1h1m11 0h1m3 0h2m9 0h1m5 0h2m1 0h1m2 0h2m3 0h1m6 0h1m5 0h1m14 0h2m18 0h1m10 0h1m4 0h1m7 0h1m8 0h1m11 0h1m-107 1h1m5 0h1m4 0h1m9 0h1m4 0h1m6 0h3m3 0h1m3 0h1m29 0h1m25 0h1m6 0h1m-47 1h1m13 0h1m5 0h1m5 0h1m17 0h1m3 0h1m-140 1h1m6 0h1m10 0h1m1 0h2m5 0h1m11 0h2m4 0h1m53 0h2m7 0h1m27 0h1m2 0h1m-131 1h1m7 0h1m5 0h2m17 0h1m14 0h1m10 0h1m20 0h1m23 0h1m13 0h1m2 0h1m3 0h1m20 0h1m21 0h1m-185 1h1m6 0h1m4 0h1m9 0h1m15 0h1m7 0h2m12 0h1m32 0h1m7 0h1m11 0h1m48 0h1m-145 1h2m11 0h1m16 0h1m8 0h1m2 0h1m5 0h1m10 0h1m2 0h1m10 0h1m48 0h2m3 0h1m21 0h1m-158 1h1m2 0h1m2 0h1m9 0h1m17 0h1m15 0h2m2 0h1m1 0h2m6 0h2m1 0h1m29 0h1m19 0h1m12 0h1m-136 1h1m7 0h1m5 0h1m2 0h1m13 0h1m1 0h1m1 0h1m24 0h1m1 0h1m9 0h1m60 0h1m23 0h2m38 0h1m-199 1h1m13 0h1m13 0h2m3 0h1m3 0h1m21 0h1m10 0h1m26 0h1m40 0h1m31 0h1m-150 1h1m13 0h1m1 0h1m3 0h1m7 0h1m9 0h1m12 0h1m33 0h1m4 0h1m6 0h1m48 0h1m-156 1h1m14 0h1m4 0h1m1 0h1m10 0h1m16 0h1m3 0h1m4 0h1m1 0h1m1 0h1m12 0h1m17 0h1m6 0h1m16 0h1m22 0h1m15 0h1m3 0h1m1 0h1m22 0h1m-193 1h1m27 0h1m15 0h2m5 0h1m17 0h2m5 0h2m15 0h2m12 0h1m22 0h1m3 0h1m50 0h1m6 0h1m-202 1h1m1 0h1m5 0h1m3 0h1m40 0h1m1 0h1m17 0h1m18 0h1m6 0h1m16 0h1m74 0h1m19 0h1m-199 1h1m6 0h1m41 0h1m8 0h1m5 0h1m1 0h1m7 0h1m25 0h1m25 0h1m1 0h1m20 0h1m29 0h1m-157 1h1m2 0h1m22 0h1m13 0h1m3 0h1m3 0h1m34 0h1m19 0h1m22 0h1m48 0h1m-181 1h1m34 0h1m16 0h1m15 0h1m6 0h1m40 0h1m14 0h1m33 0h1m-189 1h1m14 0h1m23 0h1m20 0h1m3 0h1m32 0h2m13 0h1m15 0h1m56 0h1m2 0h1m1 0h1m9 0h1m-204 1h1m6 0h1m12 0h1m5 0h2m9 0h1m10 0h1m6 0h1m1 0h1m30 0h1m9 0h1m25 0h1m19 0h1m59 0h1m-212 1h1m19 0h1m3 0h1m6 0h1m20 0h1m3 0h1m3 0h1m1 0h2m4 0h1m13 0h1m17 0h1m89 0h1m13 0h1m-204 1h1m13 0h1m14 0h1m3 0h1m10 0h2m1 0h1m5 0h1m9 0h1m11 0h1m23 0h1m14 0h1m13 0h1m30 0h1m42 0h1m-190 1h1m6 0h1m6 0h1m12 0h1m9 0h1m14 0h1m7 0h2m2 0h1m8 0h1m49 0h1m16 0h1m6 0h1m-153 1h1m6 0h1m15 0h1m7 0h1m4 0h1m3 0h1m15 0h1m3 0h1m14 0h1m24 0h1m68 0h2m-152 1h2m13 0h1m6 0h1m17 0h1m11 0h1m8 0h1m123 0h1m-209 1h1m2 0h1m29 0h2m26 0h2m6 0h1m3 0h1m56 0h1m8 0h1m12 0h1m2 0h1m42 0h1m-184 1h1m1 0h1m9 0h1m2 0h1m4 0h1m4 0h1m7 0h1m13 0h1m6 0h1m12 0h2m25 0h1m20 0h1m5 0h1m16 0h1m57 0h1m-204 1h2m7 0h1m5 0h1m10 0h1m2 0h1m2 0h1m5 0h2m3 0h2m17 0h1m4 0h1m46 0h1m72 0h1m11 0h1m2 0h1m-204 1h1m1 0h1m15 0h1m13 0h1m18 0h1m2 0h1m6 0h1m7 0h1m103 0h1m-174 1h1m1 0h1m2 0h1m1 0h1m3 0h1m9 0h1m23 0h1m8 0h1m17 0h1m73 0h1m42 0h1m16 0h1m-209 1h1m7 0h2m9 0h1m3 0h1m9 0h1m59 0h1m23 0h3m-121 1h1m3 0h1m9 0h2m8 0h1m3 0h1m8 0h1m1 0h2m5 0h1m11 0h1m42 0h1m22 0h1m3 0h1m1 0h1m11 0h1m37 0h1m23 0h1m2 0h1m-207 1h1m3 0h3m3 0h1m7 0h1m2 0h1m6 0h2m32 0h2m3 0h1m7 0h1m24 0h1m7 0h1m17 0h1m76 0h1m-196 1h1m10 0h1m8 0h1m3 0h1m4 0h1m1 0h1m3 0h1m34 0h1m32 0h1m12 0h1m63 0h1m4 0h1m-180 1h1m13 0h1m8 0h1m1 0h1m19 0h1m24 0h1m32 0h1m4 0h1m3 0h2m-114 1h1m1 0h1m17 0h1m23 0h1m2 0h1m1 0h1m38 0h1m9 0h1m91 0h1m-199 1h1m5 0h3m23 0h1m10 0h1m20 0h1m3 0h1m4 0h1m36 0h1m34 0h2m24 0h1m6 0h1m14 0h1m-195 1h1m1 0h1m1 0h1m5 0h1m6 0h1m3 0h1m5 0h1m4 0h2m62 0h1m93 0h1m13 0h1m-185 1h1m3 0h1m9 0h1m9 0h2m55 0h1m2 0h1m29 0h1m70 0h1m-194 1h1m10 0h1m2 0h1m157 0h1m3 0h1m-174 1h1m15 0h1m1 0h1m17 0h2m1 0h1m3 0h1m4 0h1m-52 1h2m18 0h1m6 0h1m37 0h1m20 0h1m3 0h1m-91 1h1m9 0h1m11 0h1m5 0h2m17 0h1m36 0h1m19 0h1m28 0h1m-133 1h1m10 0h1m99 0h1m59 0h1m-172 1h1m7 0h2m8 0h1m10 0h2m55 0h1m82 0h1m8 0h1m-173 1h1m84 0h1m-89 1h1m11 0h2m66 0h1m29 0h1m38 0h1m34 0h1m-178 1h1m4 0h1m4 0h1m42 0h1m54 0h1m57 0h1m9 0h2m-100 1h1m27 0h1m1 0h1m-107 1h1m11 0h1m35 0h1m33 0h1m90 0h1m-178 1h1m2 0h1m16 0h1m30 0h1m31 0h1m57 0h1m-141 1h1m33 0h1m14 0h1m-22 1h1m62 0h1m75 0h2m-75 1h1m11 0h1m20 0h1m41 0h1m-123 1h1m42 0h1m59 0h1m-142 1h1m39 0h1m30 0h1m5 0h1m80 0h1m2 0h2m-169 1h1m4 0h1m17 0h1m65 0h1m50 0h1m7 0h1m20 0h1m-158 1h1m74 0h1m59 0h1m21 0h1m-158 1h1m35 0h1m5 0h2m109 0h1m-160 1h1m29 0h1m22 0h1m26 0h1m-80 1h1m4 0h1m151 0h1m-118 1h1m33 0h1m4 0h1m75 0h1m-154 1h2m1 0h1m44 0h1m-51 1h1m80 0h1m72 0h1m-83 1h1m1 0h1m-66 1h1m69 0h1m-6 1h1m7 0h1m54 0h1m-90 1h1m-42 1h1m65 0h1m11 0h1m-68 1h1m2 0h1m47 2h1m11 0h1m38 0h1m30 0h1m-119 1h1m3 0h1m14 0h1m29 0h1m-34 1h1m-13 1h1m17 0h1m22 0h1m7 0h1m-14 1h1m42 0h2m-55 1h1m55 0h1m-54 1h1m-32 1h1m30 1h1m54 0h1m-64 1h1m15 0h1m17 0h1m31 0h1m-42 1h1m1 0h1m15 0h1m19 0h1m27 0h1m-86 1h1m2 0h1m8 0h1m33 0h1m18 0h1m-59 1h2m2 1h1m42 0h1m3 0h1m-55 1h1m3 0h1m0 2h1m2 0h1m-6 1h1m-7 1h1m5 0h1m47 1h1m1 1h1m15 1h1m-1 1h1m-18 6h1m3 3h1"/>
<path stroke="#fdf3aa" d="M48 18h1m-3 1h1m0 4h2m-2 3h1m1 2h1m-8 5h1m4 0h1m-6 1h1m-1 2h1m10 1h1m3 0h1m104 0h1m4 0h1m11 0h1m3 0h1m2 0h1m14 0h1m-157 1h1m123 0h1m1 0h1m4 0h2m36 0h1m-173 1h1m6 0h1m2 0h2m112 0h1m4 0h1m4 0h1m38 0h1m-157 1h1m92 0h1m18 0h1m4 0h1m1 0h1m-130 1h1m93 0h1m16 0h2m5 0h1m4 0h1m1 0h1m9 0h1m-135 1h1m1 0h1m6 0h1m90 0h1m17 0h1m4 0h1m16 0h1m-129 1h1m3 0h1m92 0h1m3 0h1m19 0h1m-132 1h1m2 0h1m4 0h1m5 0h2m55 0h1m1 0h1m6 0h1m-69 1h1m62 0h2m-74 1h1m77 0h2m2 0h1m9 0h1m42 0h1m-124 1h1m50 0h1m2 0h1m3 0h1m31 0h1m-105 1h1m13 0h1m2 0h1m64 0h1m-17 1h1m-71 1h1m6 0h1m3 0h1m2 0h1m12 0h1m45 0h1m12 0h1m11 0h2m4 0h1m81 0h1m-188 1h1m5 0h1m52 0h1m45 0h1m5 0h1m13 0h1m-112 1h1m14 0h1m17 0h1m18 0h1m5 0h1m52 0h1m22 0h1m2 0h1m-143 1h1m5 0h1m3 0h3m10 0h1m48 0h1m4 0h1m5 0h1m17 0h1m-94 1h1m37 0h1m14 0h1m3 0h1m5 0h1m14 0h1m10 0h1m-82 1h1m6 0h1m12 0h1m32 0h1m7 0h1m3 0h1m22 0h1m-107 1h1m14 0h1m2 0h1m22 0h2m7 0h1m10 0h1m3 0h1m13 0h1m21 0h1m3 0h1m-109 1h1m4 0h1m4 0h1m32 0h1m14 0h1m8 0h1m9 0h1m32 0h1m6 0h1m37 0h1m-99 1h1m13 0h1m36 0h1m1 0h1m7 0h1m-107 1h1m2 0h1m26 0h1m20 0h1m20 0h1m25 0h1m7 0h1m39 0h1m-158 1h2m17 0h1m8 0h1m11 0h1m-28 1h1m8 0h1m21 0h1m5 0h1m-43 1h1m12 0h1m32 0h1m7 0h1m12 0h1m13 0h1m22 0h1m-111 1h1m1 0h1m3 0h1m7 0h1m5 0h1m5 0h1m2 0h1m9 0h1m26 0h1m10 0h1m1 0h1m4 0h2m2 0h1m27 0h1m80 0h2m-193 1h2m3 0h1m4 0h1m11 0h2m6 0h1m25 0h1m9 0h1m1 0h1m17 0h1m32 0h1m67 0h1m-193 1h1m34 0h1m8 0h1m11 0h1m4 0h1m6 0h1m2 0h2m2 0h1m6 0h1m10 0h1m2 0h1m13 0h1m3 0h1m-108 1h1m6 0h1m27 0h1m71 0h1m-108 1h1m2 0h1m5 0h1m21 0h1m3 0h4m18 0h1m11 0h1m4 0h1m2 0h2m8 0h1m19 0h1m10 0h1m66 0h1m-180 1h1m10 0h1m24 0h2m2 0h1m7 0h1m7 0h1m5 0h1m50 0h1m-120 1h1m2 0h1m1 0h1m16 0h1m4 0h1m8 0h1m9 0h1m2 0h1m7 0h1m7 0h1m-71 1h1m1 0h1m8 0h1m25 0h1m3 0h1m1 0h1m2 0h1m6 0h1m3 0h1m13 0h1m3 0h1m8 0h1m2 0h1m8 0h1m7 0h1m1 0h1m-109 1h2m11 0h1m2 0h1m23 0h2m2 0h1m19 0h1m11 0h1m7 0h1m10 0h2m16 0h1m-117 1h1m1 0h1m5 0h1m1 0h2m2 0h2m31 0h1m10 0h1m17 0h1m1 0h2m18 0h1m-94 1h1m8 0h1m7 0h1m11 0h1m3 0h1m7 0h1m42 0h3m29 0h1m23 0h1m-140 1h1m5 0h1m7 0h1m14 0h2m14 0h1m4 0h1m1 0h1m4 0h1m10 0h1m37 0h1m16 0h1m13 0h1m4 0h1m16 0h1m-165 1h1m4 0h1m11 0h1m14 0h1m14 0h1m2 0h2m4 0h2m2 0h1m11 0h2m82 0h1m-151 1h2m3 0h2m6 0h1m1 0h1m5 0h1m5 0h1m13 0h1m6 0h1m1 0h1m4 0h1m3 0h1m9 0h1m18 0h1m11 0h1m20 0h1m18 0h1m5 0h1m-148 1h1m6 0h1m7 0h1m2 0h1m6 0h1m6 0h1m6 0h1m11 0h1m4 0h1m2 0h1m7 0h1m5 0h1m11 0h1m30 0h1m11 0h1m-118 1h2m4 0h1m14 0h1m7 0h1m14 0h1m38 0h1m4 0h1m17 0h1m17 0h1m2 0h1m-110 1h1m1 0h2m13 0h1m8 0h1m1 0h1m3 0h1m17 0h1m40 0h1m5 0h1m25 0h2m-158 1h1m10 0h1m21 0h1m4 0h1m13 0h1m4 0h1m19 0h1m20 0h1m13 0h1m-117 1h1m12 0h1m18 0h1m11 0h3m2 0h1m8 0h1m13 0h1m15 0h2m7 0h1m6 0h1m6 0h1m44 0h1m27 0h1m16 0h1m-203 1h1m7 0h1m19 0h1m13 0h1m1 0h1m3 0h1m12 0h1m9 0h1m3 0h1m41 0h1m16 0h1m5 0h1m24 0h1m-129 1h1m20 0h1m8 0h1m1 0h1m1 0h1m13 0h1m3 0h1m13 0h1m1 0h1m-100 1h1m11 0h2m9 0h1m10 0h1m3 0h1m22 0h1m7 0h1m16 0h1m14 0h1m3 0h1m52 0h1m36 0h1m4 0h1m-209 1h3m28 0h1m2 0h2m6 0h1m12 0h1m13 0h1m7 0h1m2 0h1m15 0h1m35 0h1m5 0h1m2 0h1m1 0h1m3 0h1m2 0h1m33 0h1m14 0h1m-198 1h1m3 0h1m11 0h1m17 0h1m29 0h1m2 0h1m14 0h1m10 0h1m14 0h1m25 0h1m18 0h1m48 0h1m-200 1h1m25 0h1m2 0h1m9 0h1m7 0h1m22 0h1m4 0h1m25 0h1m51 0h1m47 0h1m-203 1h1m1 0h1m2 0h1m4 0h1m12 0h1m1 0h1m1 0h1m4 0h1m6 0h1m9 0h1m9 0h1m62 0h1m36 0h1m19 0h1m12 0h1m1 0h1m-184 1h1m9 0h1m35 0h1m8 0h1m6 0h1m34 0h1m19 0h1m13 0h1m9 0h1m17 0h1m3 0h1m14 0h1m13 0h1m-197 1h1m5 0h2m1 0h2m10 0h1m16 0h1m1 0h1m4 0h1m14 0h1m17 0h1m14 0h1m3 0h1m32 0h1m5 0h2m11 0h1m31 0h1m-193 1h1m6 0h1m6 0h1m21 0h1m3 0h1m28 0h1m2 0h1m7 0h1m12 0h1m8 0h1m8 0h1m8 0h1m3 0h1m28 0h1m2 0h1m27 0h1m2 0h1m20 0h1m-206 1h2m3 0h3m15 0h1m4 0h1m17 0h1m18 0h1m1 0h1m33 0h1m4 0h1m2 0h1m19 0h1m55 0h1m6 0h1m8 0h1m9 0h1m-214 1h1m13 0h1m35 0h1m12 0h1m1 0h1m2 0h1m5 0h1m10 0h1m1 0h1m4 0h1m28 0h1m15 0h1m6 0h1m53 0h1m-196 1h1m9 0h1m3 0h1m47 0h1m12 0h1m43 0h1m9 0h2m6 0h1m3 0h1m7 0h1m-155 1h2m1 0h2m4 0h1m7 0h1m1 0h1m4 0h2m4 0h1m2 0h1m23 0h1m8 0h2m23 0h1m32 0h1m15 0h1m6 0h1m8 0h1m46 0h1m2 0h1m1 0h1m-198 1h2m1 0h1m11 0h1m3 0h1m2 0h1m5 0h1m16 0h1m23 0h1m13 0h1m7 0h1m3 0h1m11 0h1m11 0h1m78 0h2m-206 1h1m5 0h1m3 0h1m1 0h1m6 0h1m2 0h1m11 0h1m3 0h1m1 0h1m4 0h1m2 0h1m2 0h1m6 0h1m36 0h1m6 0h1m3 0h2m11 0h1m57 0h1m25 0h1m-206 1h1m3 0h1m8 0h1m13 0h1m14 0h1m3 0h1m1 0h1m1 0h1m1 0h1m8 0h1m1 0h1m43 0h1m3 0h1m1 0h1m42 0h1m14 0h1m35 0h1m-209 1h1m4 0h1m4 0h1m12 0h1m58 0h1m2 0h2m15 0h1m17 0h1m11 0h1m1 0h1m8 0h1m59 0h2m-198 1h2m7 0h2m4 0h1m12 0h1m1 0h2m2 0h1m3 0h1m9 0h1m3 0h1m5 0h2m5 0h1m2 0h1m1 0h1m2 0h1m6 0h1m1 0h1m4 0h1m10 0h1m5 0h1m10 0h1m5 0h1m6 0h1m8 0h1m16 0h1m-160 1h2m15 0h2m2 0h1m2 0h1m5 0h1m2 0h1m6 0h1m4 0h1m3 0h2m18 0h1m9 0h1m31 0h1m36 0h1m-146 1h1m11 0h1m14 0h1m22 0h1m9 0h1m6 0h1m8 0h1m23 0h1m5 0h1m24 0h1m13 0h1m53 0h1m-190 1h1m17 0h1m12 0h1m1 0h1m8 0h1m5 0h1m2 0h1m5 0h2m19 0h3m18 0h1m1 0h1m8 0h1m6 0h1m4 0h1m66 0h1m8 0h1m-200 1h1m17 0h2m8 0h1m7 0h1m2 0h1m13 0h1m3 0h1m9 0h3m49 0h1m6 0h1m36 0h1m-168 1h1m22 0h1m10 0h1m37 0h1m14 0h1m8 0h1m5 0h1m2 0h1m6 0h1m9 0h1m25 0h2m-145 1h1m5 0h1m14 0h1m6 0h1m1 0h1m2 0h3m1 0h1m4 0h1m8 0h1m-43 1h2m7 0h1m4 0h1m5 0h1m18 0h1m3 0h1m47 0h2m13 0h1m9 0h1m-125 1h1m9 0h1m7 0h1m9 0h3m6 0h2m7 0h1m2 0h1m123 0h1m19 0h1m5 0h1m-204 1h1m14 0h1m1 0h1m1 0h1m6 0h1m16 0h1m20 0h1m13 0h1m1 0h1m16 0h2m4 0h1m-102 1h1m2 0h1m21 0h1m12 0h1m23 0h1m10 0h1m52 0h1m2 0h1m-131 1h1m12 0h1m21 0h1m6 0h1m6 0h1m11 0h1m26 0h1m23 0h1m9 0h1m52 0h1m13 0h1m14 0h1m-190 1h1m5 0h1m7 0h1m10 0h1m3 0h1m158 0h1m-202 1h1m1 0h1m9 0h1m20 0h1m14 0h1m5 0h1m21 0h1m10 0h1m38 0h1m-118 1h1m4 0h1m23 0h1m37 0h1m20 0h1m32 0h1m15 0h1m28 0h1m10 0h1m13 0h1m-181 1h1m18 0h2m18 0h1m6 0h4m26 0h1m27 0h1m65 0h1m12 0h1m-193 1h1m11 0h2m2 0h1m12 0h1m20 0h1m2 0h1m122 0h1m-175 1h4m3 0h2m10 0h1m2 0h1m4 0h1m15 0h2m41 0h1m31 0h1m-94 1h1m4 0h1m13 0h1m44 0h1m10 0h1m16 0h1m34 0h1m23 0h1m-177 1h1m10 0h1m3 0h1m8 0h1m8 0h1m50 0h1m27 0h1m75 0h1m-189 1h2m2 0h1m1 0h1m89 0h1m8 0h1m-104 1h3m1 0h1m7 0h2m6 0h1m98 0h1m50 0h1m2 0h1m-24 1h1m-39 1h1m28 0h1m11 0h1m21 0h1m10 0h1m-157 1h1m150 0h1m-128 1h1m96 0h1m19 0h1m-64 1h3m57 0h1m14 0h1m-179 1h1m28 0h1m19 0h1m3 0h1m29 0h1m20 0h1m35 0h1m30 0h1m7 0h1m-91 1h1m49 0h1m36 0h1m-167 1h1m82 0h1m11 0h1m-96 1h1m1 0h2m6 0h1m150 0h1m-159 1h2m13 0h1m20 0h1m90 0h1m11 0h1m-13 1h1m29 0h1m-156 1h1m44 0h1m19 0h1m13 0h1m5 0h1m26 0h1m-119 1h1m4 0h1m2 0h1m35 0h1m2 0h1m8 0h1m24 0h1m34 0h1m-113 1h1m44 0h1m1 0h1m35 0h1m69 0h1m-155 1h1m27 1h1m-30 1h1m81 0h1m56 0h1m-132 1h1m82 0h1m-2 2h1m-44 1h1m30 0h1m9 0h1m-77 1h1m57 0h1m13 0h1m43 0h1m-113 2h1m-2 1h1m6 1h1m1 0h1m46 0h1m78 0h1m-124 1h1m6 0h1m25 0h1m-40 1h1m12 0h1m1 0h1m34 0h1m-37 1h2m28 0h1m54 2h1m7 0h1m24 0h1m-89 1h1m22 0h1m-17 1h1m27 0h2m16 0h1m33 0h1m-119 1h1m30 0h1m30 0h1m-66 1h1m39 0h1m8 0h1m9 0h2m-21 1h1m3 0h1m55 0h1m-57 1h1m5 0h1m3 0h1m17 0h1m14 0h1m-49 1h1m76 0h1m-84 2h1m4 0h1m55 0h1m-57 1h1m5 0h1m1 0h1m-11 1h2m2 0h1m76 0h1m-84 1h2m5 0h1m-3 1h1m49 0h1m1 0h1m-55 1h1m51 12h1m1 2h1"/>
<path stroke="#fcfcbe" d="M45 16h1m1 1h1m-3 7h1m1 0h1m2 7h1m2 3h1m-11 2h1m0 1h2m146 0h1m3 0h1m12 0h2m-158 1h1m112 0h1m3 0h1m8 0h1m13 0h1m15 0h1m3 0h1m-163 1h1m162 0h1m-169 1h1m113 0h1m9 0h1m9 0h1m-124 1h1m112 0h2m-26 1h2m13 0h1m3 0h1m3 0h1m15 0h2m-139 1h3m13 0h1m93 0h1m5 0h1m20 0h1m-135 1h1m4 0h1m65 0h1m24 0h1m38 0h1m6 0h1m-139 1h1m6 0h1m4 0h1m2 0h1m69 0h1m4 0h1m9 0h1m-95 1h1m7 0h1m55 0h1m15 0h1m-83 1h1m1 0h1m6 0h1m1 0h1m48 0h1m24 0h1m-93 1h1m9 0h1m46 0h1m6 0h1m-65 1h1m2 0h1m6 0h1m85 0h3m-103 1h1m3 0h1m8 0h1m2 0h1m51 0h1m17 0h1m-86 1h1m1 0h1m1 0h1m2 0h1m8 0h1m2 0h1m6 0h1m61 0h1m16 0h1m-61 1h1m26 0h1m13 0h1m6 0h1m9 0h1m1 0h1m1 0h1m-78 1h1m33 0h1m10 0h1m10 0h1m7 0h1m4 0h1m1 0h1m-92 1h1m29 0h3m39 0h1m3 0h1m4 0h1m9 0h1m6 0h2m-101 1h1m77 0h1m12 0h1m-58 1h1m1 0h1m16 0h1m5 0h1m8 0h1m35 0h1m76 0h1m2 0h1m-173 1h1m29 0h1m3 0h1m2 0h1m12 0h1m26 0h1m53 0h1m-148 1h1m2 0h1m5 0h1m3 0h1m4 0h2m9 0h1m8 0h1m7 0h1m15 0h1m23 0h2m21 0h1m-93 1h1m5 0h1m63 0h1m-58 1h1m27 0h1m5 0h1m13 0h1m4 0h1m2 0h1m19 0h1m-108 1h1m16 0h1m51 0h1m13 0h1m3 0h1m1 0h1m105 0h1m-195 1h1m33 0h1m1 0h1m17 0h1m20 0h1m118 0h1m-189 1h1m5 0h1m1 0h1m21 0h1m25 0h1m11 0h1m6 0h1m10 0h1m18 0h1m-110 1h2m11 0h2m2 0h1m3 0h1m43 0h2m3 0h1m1 0h1m14 0h1m-75 1h1m20 0h1m3 0h1m1 0h1m35 0h2m9 0h1m13 0h1m78 0h1m-170 1h1m10 0h1m17 0h1m2 0h1m13 0h1m1 0h1m1 0h1m3 0h1m16 0h1m9 0h1m3 0h1m20 0h1m74 0h1m-193 1h1m8 0h1m5 0h1m13 0h1m5 0h1m4 0h1m25 0h1m4 0h1m20 0h1m17 0h1m76 0h1m5 0h1m6 0h1m-201 1h1m3 0h1m9 0h1m7 0h1m7 0h1m7 0h1m13 0h1m1 0h1m8 0h2m2 0h1m2 0h1m3 0h1m11 0h1m8 0h1m98 0h1m5 0h1m-203 1h1m4 0h1m2 0h1m23 0h1m4 0h1m15 0h2m1 0h1m2 0h1m2 0h1m25 0h1m27 0h1m14 0h1m-122 1h1m8 0h1m22 0h1m5 0h2m13 0h1m9 0h1m8 0h1m6 0h1m42 0h1m33 0h1m-163 1h1m2 0h1m47 0h1m12 0h1m23 0h1m12 0h1m4 0h1m15 0h1m-116 1h1m18 0h1m6 0h1m9 0h1m4 0h1m5 0h2m5 0h2m5 0h1m1 0h1m40 0h1m29 0h1m-136 1h1m16 0h1m3 0h1m15 0h1m2 0h1m9 0h2m13 0h1m11 0h1m7 0h1m7 0h1m12 0h1m6 0h1m42 0h1m-157 1h1m1 0h1m1 0h1m9 0h1m11 0h1m3 0h1m5 0h1m14 0h1m14 0h1m3 0h1m3 0h1m1 0h1m6 0h1m10 0h1m8 0h1m49 0h1m-158 1h1m4 0h2m20 0h1m1 0h1m6 0h1m2 0h1m3 0h1m15 0h1m18 0h1m6 0h2m22 0h1m16 0h1m20 0h1m1 0h1m-147 1h2m25 0h1m5 0h1m14 0h1m18 0h1m3 0h1m29 0h1m34 0h1m56 0h1m-202 1h1m2 0h1m5 0h1m6 0h1m25 0h1m11 0h1m4 0h1m1 0h1m16 0h1m5 0h1m30 0h1m5 0h1m15 0h1m6 0h1m8 0h1m29 0h1m-183 1h3m16 0h1m12 0h2m28 0h1m16 0h1m63 0h1m5 0h1m49 0h1m-191 1h1m1 0h1m7 0h1m8 0h1m14 0h1m8 0h1m67 0h1m20 0h1m-141 1h1m7 0h1m18 0h2m11 0h1m2 0h1m5 0h1m12 0h1m18 0h1m2 0h1m9 0h1m37 0h1m6 0h1m36 0h1m21 0h1m1 0h1m-165 1h1m12 0h1m1 0h1m11 0h1m9 0h2m34 0h1m33 0h1m-139 1h1m2 0h1m10 0h1m9 0h1m17 0h1m5 0h1m3 0h1m2 0h1m11 0h1m15 0h1m40 0h1m7 0h1m-146 1h2m5 0h2m2 0h1m14 0h1m2 0h1m24 0h1m10 0h1m41 0h1m22 0h1m26 0h1m1 0h1m5 0h1m-167 1h1m6 0h1m5 0h1m14 0h1m21 0h1m9 0h1m10 0h1m12 0h1m10 0h1m15 0h1m12 0h1m82 0h1m-190 1h1m2 0h1m7 0h1m6 0h1m11 0h1m18 0h1m11 0h1m6 0h1m3 0h1m16 0h1m5 0h1m7 0h1m32 0h2m9 0h1m-166 1h1m19 0h2m7 0h1m13 0h1m32 0h1m3 0h1m7 0h1m9 0h1m1 0h1m5 0h1m15 0h1m28 0h1m19 0h1m2 0h1m-157 1h1m1 0h1m8 0h1m17 0h1m36 0h1m1 0h1m1 0h1m7 0h1m13 0h1m24 0h2m10 0h2m7 0h1m3 0h1m23 0h1m20 0h1m-171 1h1m4 0h1m31 0h1m13 0h1m1 0h1m20 0h1m6 0h1m5 0h1m13 0h1m2 0h1m16 0h1m13 0h1m10 0h1m-183 1h1m4 0h1m9 0h1m16 0h1m5 0h2m13 0h1m29 0h1m8 0h1m9 0h1m8 0h1m25 0h1m2 0h1m65 0h1m-206 1h1m2 0h1m12 0h1m2 0h1m16 0h1m3 0h2m6 0h1m5 0h1m18 0h1m5 0h1m3 0h1m22 0h1m37 0h1m9 0h2m12 0h1m7 0h1m-176 1h3m12 0h1m14 0h1m53 0h1m18 0h1m27 0h2m3 0h1m-121 1h2m8 0h1m4 0h1m7 0h1m24 0h1m21 0h1m23 0h1m70 0h1m8 0h1m16 0h1m-207 1h1m14 0h1m19 0h1m32 0h2m2 0h1m4 0h1m1 0h1m45 0h2m19 0h1m38 0h1m9 0h1m4 0h2m-191 1h1m2 0h1m2 0h1m1 0h1m5 0h1m6 0h1m3 0h1m29 0h1m41 0h1m-107 1h1m1 0h1m12 0h1m2 0h1m12 0h1m3 0h1m27 0h1m14 0h1m6 0h1m2 0h1m3 0h1m43 0h1m17 0h1m12 0h1m40 0h1m-206 1h1m1 0h1m6 0h1m4 0h3m13 0h1m27 0h2m17 0h1m39 0h1m5 0h1m8 0h1m1 0h1m72 0h1m-207 1h1m9 0h1m5 0h2m14 0h1m10 0h1m27 0h1m14 0h1m3 0h1m23 0h1m1 0h1m1 0h1m23 0h1m-147 1h1m2 0h1m2 0h1m13 0h2m4 0h1m15 0h1m61 0h1m3 0h1m9 0h1m-119 1h1m10 0h1m2 0h1m24 0h1m3 0h1m3 0h1m6 0h1m7 0h1m6 0h1m2 0h1m134 0h1m-199 1h1m1 0h1m21 0h1m10 0h1m4 0h1m21 0h1m7 0h1m3 0h1m28 0h1m17 0h2m1 0h1m8 0h1m59 0h1m-201 1h1m12 0h1m12 0h1m7 0h1m17 0h1m9 0h1m20 0h1m16 0h1m32 0h1m18 0h1m-152 1h1m33 0h1m2 0h1m7 0h1m2 0h1m1 0h1m10 0h1m17 0h1m23 0h1m8 0h1m13 0h1m5 0h2m18 0h1m-145 1h1m2 0h1m13 0h1m5 0h1m2 0h1m2 0h1m8 0h1m29 0h1m8 0h1m8 0h1m19 0h1m13 0h1m42 0h1m34 0h1m-198 1h1m6 0h1m8 0h1m69 0h2m13 0h1m4 0h1m76 0h1m2 0h1m7 0h1m-196 1h1m6 0h1m23 0h1m1 0h1m18 0h1m33 0h1m1 0h1m26 0h1m84 0h1m-196 1h1m17 0h2m8 0h1m10 0h1m15 0h1m7 0h1m13 0h1m12 0h1m25 0h1m63 0h1m-180 1h1m19 0h1m5 0h1m6 0h1m15 0h1m1 0h1m23 0h1m26 0h1m91 0h1m1 0h1m-207 1h1m9 0h1m10 0h1m7 0h2m32 0h1m6 0h1m85 0h1m36 0h1m-172 1h1m1 0h2m9 0h1m164 0h1m1 0h1m-201 1h1m5 0h1m5 0h1m7 0h1m2 0h1m41 0h1m12 0h1m-76 1h2m1 0h1m18 0h1m13 0h1m23 0h1m38 0h1m18 0h2m2 0h1m9 0h2m69 0h1m-201 1h1m6 0h1m4 0h2m13 0h1m29 0h1m48 0h1m7 0h1m85 0h1m-194 1h1m2 0h1m3 0h1m1 0h1m3 0h1m85 0h1m10 0h1m2 0h1m-108 1h1m29 0h1m28 0h1m50 0h1m8 0h1m-126 1h1m1 0h2m3 0h2m5 0h1m31 0h1m41 0h1m90 0h1m11 0h1m-189 1h1m2 0h2m37 0h1m44 0h1m31 0h1m-123 1h1m7 0h1m44 0h2m128 0h1m-175 1h1m52 0h1m33 0h1m1 0h1m-89 1h2m22 0h1m13 0h1m12 0h2m-36 1h1m17 0h1m76 0h1m-110 1h1m6 0h1m9 0h1m69 0h1m88 0h1m-186 1h1m77 0h1m75 0h1m-153 1h1m13 0h1m132 0h1m20 0h1m-157 1h1m9 0h1m70 0h1m3 0h1m-91 1h1m159 0h2m-164 1h1m2 0h1m44 0h1m127 0h1m-172 1h1m-7 1h1m4 0h1m2 0h1m88 1h1m1 0h1m6 0h1m29 0h1m-133 1h1m2 0h1m7 0h1m73 0h1m80 0h1m-29 1h1m-137 1h1m9 0h1m67 0h1m2 0h1m40 0h1m43 0h1m-161 1h1m72 0h1m4 0h1m79 0h1m-163 1h1m80 0h1m16 0h1m37 0h1m5 0h2m-143 1h1m73 0h1m10 0h2m-82 1h1m65 0h2m4 0h1m5 0h1m15 1h1m41 0h1m-139 1h1m4 0h1m77 0h1m-84 1h1m1 0h1m83 0h1m10 0h1m-92 1h2m4 0h1m17 0h1m11 0h1m44 0h1m-12 1h1m27 0h1m-95 1h1m61 0h1m53 0h1m11 0h1m-97 1h1m-30 2h1m70 0h1m-75 1h1m4 0h1m4 0h1m52 0h1m-21 2h1m20 1h1m6 0h1m13 1h1m-63 1h1m14 0h1m4 0h1m10 0h1m58 0h1m-2 1h1m-42 1h1m11 0h1m46 0h1m-61 1h1m22 1h1m-46 1h1m9 0h1m12 0h1m-16 1h1m59 0h1m-51 1h1m29 0h1m15 0h1m-60 1h1m1 0h1m6 0h1m6 0h2m26 0h1m13 0h1m-53 1h1m2 0h1m7 0h1m35 1h1m-50 1h1m-8 2h2m61 0h1m-64 1h1m59 0h1m-53 1h2m3 0h1m45 0h1m1 0h1m-4 1h1m0 12h2m1 0h1m-3 1h1"/>
<path stroke="#f0f8aa" d="M46 15h1m-1 10h1m-1 1h1m1 5h1m3 0h1m-6 1h1m4 0h1m-6 2h1m-6 1h1m4 0h1m4 0h1m-11 2h1m137 0h1m13 0h1m7 0h1m2 0h1m2 0h1m-166 1h1m6 0h1m121 0h2m-129 1h2m162 0h1m6 0h1m-176 1h1m12 0h2m109 0h2m5 0h2m5 0h1m-30 1h1m15 0h1m6 0h1m-130 1h1m6 0h1m11 1h1m60 0h1m-66 1h1m83 0h2m1 0h1m-105 1h1m10 0h1m66 0h1m22 0h1m10 0h1m-90 1h1m88 0h1m39 0h1m-132 1h1m56 0h1m9 0h1m14 0h1m46 0h1m-142 1h1m19 0h1m83 0h1m1 0h1m7 0h1m-103 1h1m-10 1h1m20 0h1m61 0h1m21 0h1m51 0h1m-146 1h1m48 0h1m39 0h1m53 0h1m25 0h1m-176 1h1m4 0h1m2 0h2m39 1h1m5 0h1m2 0h1m2 0h1m29 0h1m34 0h1m51 0h1m-116 1h1m18 0h1m1 0h1m6 0h1m4 0h1m13 0h1m35 0h1m31 0h1m-149 1h1m25 0h1m4 0h1m9 0h1m8 0h1m5 0h1m9 0h1m3 0h1m48 0h1m-120 1h1m7 0h1m28 0h1m-75 1h1m6 0h1m15 0h1m41 0h1m9 0h1m4 0h1m3 0h2m21 0h1m2 0h1m20 0h1m-127 1h1m6 0h1m73 0h1m5 0h1m12 0h2m-103 1h1m14 0h1m51 0h1m-70 1h1m34 0h3m-24 1h1m17 0h1m78 0h1m84 0h1m-179 1h1m17 0h1m29 0h1m44 0h1m77 0h1m1 0h1m-125 1h1m19 0h1m25 0h1m81 0h1m-193 1h1m9 0h1m12 0h1m8 0h1m43 0h3m11 0h1m15 0h1m1 0h1m71 0h1m12 0h1m-191 1h1m4 0h1m12 0h1m28 0h1m5 0h1m1 0h1m23 0h1m1 0h1m105 0h1m4 0h1m-198 1h1m4 0h1m28 0h1m4 0h1m1 0h1m3 0h1m12 0h1m10 0h1m3 0h2m4 0h2m16 0h1m4 0h1m10 0h1m2 0h1m1 0h1m32 0h1m49 0h1m-196 1h1m15 0h1m39 0h2m3 0h1m11 0h1m8 0h1m23 0h1m5 0h1m-113 1h1m4 0h1m11 0h1m11 0h1m24 0h1m5 0h1m11 0h1m2 0h1m6 0h1m26 0h1m76 0h1m-193 1h2m2 0h1m9 0h1m51 0h1m10 0h1m1 0h2m4 0h1m2 0h1m7 0h1m6 0h1m11 0h1m3 0h1m-106 1h1m17 0h1m17 0h2m2 0h1m1 0h2m8 0h1m30 0h1m86 0h1m-179 1h3m10 0h1m5 0h1m11 0h1m1 0h1m2 0h1m11 0h1m4 0h1m1 0h1m19 0h1m29 0h1m5 0h1m78 0h1m-187 1h1m8 0h1m31 0h1m6 0h2m17 0h1m18 0h1m17 0h1m5 0h1m1 0h1m3 0h1m-130 1h2m25 0h1m2 0h1m23 0h1m11 0h1m5 0h1m12 0h1m28 0h1m32 0h1m2 0h1m-149 1h1m6 0h2m10 0h1m7 0h2m3 0h1m13 0h1m4 0h1m12 0h1m4 0h1m1 0h1m4 0h3m5 0h1m2 0h1m3 0h1m1 0h2m5 0h1m23 0h1m11 0h1m2 0h1m13 0h1m-137 1h1m57 0h1m3 0h1m18 0h1m11 0h1m18 0h1m8 0h1m-97 1h1m6 0h1m9 0h1m7 0h1m4 0h1m7 0h1m10 0h1m12 0h1m27 0h1m28 0h1m-114 1h2m14 0h1m14 0h1m30 0h1m70 0h1m21 0h1m-169 1h1m28 0h1m12 0h1m3 0h2m1 0h1m1 0h1m1 0h1m2 0h1m5 0h1m1 0h1m8 0h1m3 0h1m24 0h1m19 0h1m4 0h1m17 0h1m-179 1h1m8 0h1m26 0h1m3 0h1m15 0h1m4 0h1m4 0h1m8 0h1m11 0h1m6 0h1m7 0h1m20 0h1m-77 1h2m11 0h1m5 0h1m12 0h1m9 0h1m3 0h1m15 0h1m9 0h1m7 0h1m5 0h1m47 0h1m-189 1h1m5 0h1m5 0h2m18 0h1m7 0h1m10 0h1m12 0h1m2 0h3m8 0h1m20 0h1m9 0h1m1 0h1m11 0h1m27 0h1m-154 1h1m2 0h1m14 0h1m12 0h3m18 0h1m12 0h1m2 0h1m2 0h1m7 0h1m9 0h1m57 0h1m-131 1h1m4 0h1m8 0h1m14 0h1m1 0h1m3 0h1m1 0h1m13 0h1m1 0h1m3 0h1m11 0h1m22 0h1m43 0h1m-153 1h1m27 0h1m11 0h1m1 0h1m3 0h2m5 0h1m11 0h1m3 0h1m3 0h1m22 0h1m37 0h1m25 0h1m19 0h1m-183 1h1m19 0h1m8 0h1m1 0h1m12 0h1m3 0h1m25 0h1m17 0h1m5 0h1m6 0h1m66 0h2m-172 1h1m2 0h1m26 0h1m3 0h1m10 0h2m4 0h2m18 0h1m38 0h1m7 0h1m11 0h1m15 0h1m5 0h1m44 0h1m-169 1h1m41 0h1m16 0h1m5 0h1m8 0h1m8 0h1m10 0h1m29 0h1m-137 1h1m3 0h2m59 0h1m69 0h1m7 0h1m2 0h2m10 0h1m27 0h2m7 0h1m-211 1h1m12 0h1m1 0h1m2 0h1m1 0h1m61 0h1m7 0h1m17 0h1m17 0h1m25 0h1m55 0h1m-190 1h1m10 0h1m42 0h1m8 0h2m39 0h1m13 0h1m38 0h1m5 0h1m9 0h1m12 0h1m5 0h1m-205 1h1m19 0h1m1 0h2m14 0h2m24 0h1m11 0h1m12 0h1m21 0h1m46 0h1m10 0h1m30 0h1m2 0h1m1 0h1m-191 1h1m7 0h1m1 0h2m2 0h1m32 0h1m1 0h1m2 0h1m10 0h2m17 0h1m81 0h1m8 0h1m8 0h1m-199 1h1m6 0h1m8 0h1m5 0h2m39 0h1m9 0h1m22 0h1m6 0h1m12 0h1m21 0h1m40 0h1m23 0h1m-213 1h3m6 0h1m22 0h1m48 0h3m21 0h1m-105 1h1m7 0h1m20 0h2m5 0h1m107 0h1m14 0h1m42 0h1m6 0h1m-210 1h1m3 0h1m11 0h2m11 0h1m4 0h2m77 0h1m5 0h1m13 0h1m18 0h1m-143 1h3m5 0h3m11 0h1m16 0h1m5 0h1m26 0h1m20 0h1m8 0h2m33 0h1m63 0h1m-208 1h1m39 0h1m31 0h1m5 0h1m14 0h1m2 0h1m3 0h1m17 0h1m11 0h1m23 0h1m43 0h1m1 0h1m8 0h1m-207 1h1m11 0h1m31 0h1m25 0h1m39 0h1m9 0h2m26 0h1m58 0h1m-214 1h2m3 0h1m6 0h1m4 0h2m37 0h1m59 0h1m13 0h1m18 0h1m47 0h1m15 0h1m-188 1h1m18 0h1m63 0h1m18 0h1m1 0h1m16 0h1m12 0h1m48 0h1m-199 1h1m25 0h1m6 0h1m1 0h1m16 0h1m64 0h1m12 0h1m57 0h1m-195 1h2m16 0h1m9 0h1m7 0h1m24 0h1m2 0h1m9 0h2m23 0h1m21 0h1m20 0h1m57 0h1m-195 1h1m3 0h1m3 0h2m15 0h1m7 0h1m53 0h1m76 0h1m12 0h1m7 0h1m5 0h1m1 0h1m2 0h1m6 0h1m-199 1h1m2 0h1m14 0h2m1 0h1m79 0h1m4 0h1m15 0h1m-129 1h1m4 0h1m44 0h1m51 0h1m-104 1h1m3 0h2m45 0h2m11 0h1m-50 1h1m2 0h2m30 0h1m13 0h1m41 0h1m24 0h1m60 0h1m2 0h1m5 0h1m-187 1h1m4 0h1m8 0h1m2 0h1m1 0h1m77 0h1m18 0h1m-129 1h1m11 0h2m2 0h1m3 0h1m-15 1h1m14 0h1m-21 1h1m4 0h1m7 0h1m5 0h1m7 0h1m8 0h1m162 0h1m-188 1h1m31 0h1m1 0h1m75 0h1m16 0h1m7 0h1m45 0h1m11 0h1m-194 1h3m4 0h1m5 0h1m14 0h1m26 0h1m118 0h1m13 0h1m-139 1h2m1 0h1m56 0h1m8 0h1m1 0h1m58 0h1m-183 1h1m2 0h1m7 0h1m21 0h1m58 0h2m97 0h1m-182 1h1m3 0h1m38 0h1m53 0h1m-104 1h1m4 0h1m1 0h1m3 0h1m116 0h1m57 0h1m-186 1h1m4 0h1m2 0h1m18 0h1m146 0h1m-165 1h1m44 0h1m51 0h1m67 0h1m7 0h1m-185 1h1m10 0h1m40 0h1m11 0h1m42 0h1m5 0h1m55 0h1m7 0h1m-160 1h1m86 0h1m5 0h1m42 0h1m-50 1h1m68 0h1m-162 1h1m4 0h1m43 0h1m-54 1h1m101 0h1m60 0h1m2 0h1m-170 1h1m93 0h1m2 1h1m73 0h1m3 1h1m-168 1h1m41 0h1m39 0h1m-63 1h1m21 0h1m47 0h1m75 0h1m-167 1h1m11 0h1m63 0h1m27 0h1m10 0h1m-111 1h1m1 0h1m99 0h1m54 0h1m4 0h1m-137 1h1m11 0h1m42 1h1m52 0h1m-130 1h1m41 0h1m108 0h1m2 0h1m-159 1h1m70 0h1m66 0h1m18 0h1m-150 1h1m62 0h1m38 0h1m43 0h1m-86 1h1m13 0h1m-84 1h1m6 0h1m68 0h1m76 0h1m-155 1h1m7 0h1m16 0h1m60 0h1m-18 2h1m-48 1h1m23 0h1m24 0h1m9 0h1m-12 1h1m16 1h1m-66 1h1m11 0h1m-2 1h1m49 1h1m-63 1h1m31 0h1m18 0h1m2 0h1m-44 1h1m42 1h1m11 0h1m-57 2h1m18 0h1m35 0h1m-6 1h1m11 0h1m27 0h1m-54 1h1m3 0h1m8 0h1m-4 1h1m1 0h1m2 0h1m36 0h1m9 0h1m-62 1h1m9 0h1m67 0h1m-84 1h1m4 0h1m16 0h1m33 1h1m-45 1h2m1 0h1m-11 1h1m-7 1h1m10 1h1m53 0h1m-60 1h1m51 0h1m-52 2h1m48 1h1"/>
<path stroke="#dcf096" d="M47 18h1m-2 6h1m0 1h1m1 6h1m-2 3h2m5 1h1m142 1h1m-156 1h1m120 0h1m22 0h1m18 0h1m4 0h1m-160 1h1m155 0h1m3 0h1m-41 1h1m24 0h1m15 0h1m-165 1h1m117 0h1m1 1h1m-7 1h1m-121 1h1m21 0h1m95 0h1m-101 1h1m71 0h1m27 0h1m32 0h1m-130 1h1m78 0h1m1 0h1m29 0h1m-109 1h1m52 0h1m20 0h1m14 0h1m-93 1h2m57 0h1m9 0h1m2 0h1m-28 1h1m4 0h1m79 0h1m-73 1h1m-69 1h1m9 0h1m3 0h1m49 0h2m-71 1h1m12 0h1m12 0h1m-11 1h1m9 0h1m30 0h1m49 0h1m49 0h1m-122 1h1m16 0h1m38 0h1m6 0h1m4 0h1m1 0h1m48 0h1m31 0h1m-180 1h1m29 0h1m37 0h1m14 0h1m-87 1h1m31 0h1m13 0h1m13 0h1m25 0h1m13 0h1m50 0h1m-153 1h1m40 0h1m22 0h1m16 0h1m25 0h1m39 0h1m9 0h1m-158 1h1m3 0h1m25 0h1m4 0h1m3 0h2m4 0h1m27 0h1m29 0h2m-107 1h2m17 0h1m3 0h1m8 0h1m9 0h1m25 0h1m89 0h1m-159 1h2m4 0h1m14 0h1m14 0h1m3 0h2m2 0h1m25 0h1m21 0h1m44 0h1m21 0h1m33 0h1m-159 1h1m1 0h1m49 0h1m19 0h1m50 0h1m-155 1h1m19 0h1m15 0h1m3 0h1m62 0h1m-38 1h2m8 0h1m7 0h1m22 0h1m3 0h1m1 0h1m79 0h1m1 0h1m-196 1h1m10 0h1m40 0h1m8 0h1m12 0h1m39 0h1m-104 1h1m12 0h1m18 0h1m23 0h1m18 0h1m22 0h1m4 0h1m-93 1h1m6 0h1m27 0h1m20 0h1m119 0h1m-164 1h1m153 0h1m-186 1h1m19 0h1m35 0h1m7 0h1m26 0h2m9 0h1m-105 1h2m24 0h1m10 0h2m36 0h1m6 0h1m106 0h1m1 0h1m7 0h1m-200 1h1m10 0h1m11 0h1m5 0h1m17 0h1m17 0h1m39 0h1m8 0h1m-116 1h1m31 0h1m8 0h1m6 0h1m52 0h1m93 0h1m-185 1h1m34 0h1m23 0h2m36 0h1m11 0h1m43 0h1m8 0h1m14 0h1m-192 1h1m7 0h1m39 0h2m1 0h1m16 0h1m15 0h1m21 0h1m29 0h1m46 0h1m-172 1h1m6 0h1m10 0h1m1 0h1m13 0h1m2 0h1m5 0h1m14 0h1m27 0h1m3 0h1m15 0h1m9 0h1m71 0h1m-202 1h1m27 0h1m28 0h1m7 0h1m6 0h1m46 0h1m-110 1h1m3 0h1m6 0h1m2 0h1m19 0h1m2 0h1m6 0h1m8 0h1m8 0h1m17 0h1m22 0h1m22 0h1m15 0h1m-144 1h1m11 0h1m56 0h1m6 0h1m4 0h1m21 0h1m4 0h1m53 0h1m26 0h1m3 0h1m-155 1h1m9 0h1m5 0h1m18 0h1m4 0h1m8 0h1m37 0h1m65 0h1m-122 1h1m27 0h1m23 0h1m12 0h1m4 0h1m-146 1h1m37 0h1m4 0h1m5 0h1m9 0h1m3 0h1m8 0h1m4 0h1m6 0h1m7 0h1m17 0h1m9 0h1m7 0h1m2 0h1m14 0h1m22 0h1m6 0h1m-133 1h1m5 0h1m6 0h1m4 0h1m13 0h1m2 0h1m1 0h1m3 0h2m7 0h1m1 0h1m31 0h1m13 0h1m9 0h1m2 0h1m42 0h1m-197 1h1m31 0h1m11 0h2m23 0h1m4 0h1m15 0h3m14 0h1m3 0h1m-120 1h1m10 0h1m33 0h1m3 0h1m1 0h1m3 0h1m14 0h1m1 0h1m1 0h1m3 0h1m18 0h1m37 0h1m14 0h1m33 0h1m-190 1h1m4 0h1m10 0h1m34 0h2m13 0h1m13 0h1m8 0h1m17 0h1m27 0h1m22 0h1m5 0h2m28 0h1m8 0h1m1 0h1m1 0h1m-191 1h1m5 0h1m26 0h1m1 0h2m2 0h1m16 0h1m14 0h1m1 0h1m10 0h2m12 0h1m16 0h1m15 0h2m9 0h1m-155 1h1m39 0h1m1 0h1m6 0h2m17 0h1m2 0h1m7 0h1m8 0h1m8 0h2m3 0h1m24 0h1m21 0h1m14 0h1m4 0h1m-157 1h1m55 0h1m87 0h1m-163 1h1m23 0h1m26 0h2m1 0h1m31 0h1m12 0h1m75 0h1m-176 1h1m15 0h2m11 0h1m1 0h1m42 0h1m34 0h1m8 0h1m20 0h1m11 0h1m3 0h1m7 0h1m21 0h1m17 0h1m-198 1h1m11 0h1m6 0h1m84 0h1m61 0h1m12 0h1m14 0h1m-173 1h2m10 0h1m69 0h1m5 0h1m7 0h1m4 0h1m1 0h1m8 0h1m-123 1h1m2 0h1m8 0h1m9 0h1m60 0h2m4 0h1m2 0h1m35 0h1m-145 1h1m71 0h1m51 0h2m-109 1h1m5 0h1m1 0h1m13 0h1m32 0h1m4 0h1m34 0h2m25 0h1m72 0h1m-197 1h1m4 0h1m1 0h1m8 0h1m2 0h1m35 0h1m39 0h1m-103 1h4m6 0h2m16 0h1m77 0h1m11 0h1m1 0h1m-129 1h3m1 0h1m1 0h1m30 0h1m58 0h1m14 0h1m2 0h1m6 0h1m23 0h1m10 0h1m52 0h1m-206 1h2m81 0h1m2 0h2m11 0h1m49 0h1m46 0h1m2 0h2m-195 1h1m5 0h2m105 0h1m86 0h1m-210 1h1m1 0h1m23 0h1m44 0h1m42 0h1m2 0h1m9 0h1m-84 1h1m9 0h1m28 0h1m17 0h1m111 0h1m-202 1h1m21 0h1m3 0h2m161 0h1m-167 1h1m3 0h1m91 0h1m82 0h1m-185 1h1m6 0h1m5 0h1m8 0h1m16 0h1m12 0h1m19 0h1m4 0h1m95 0h1m-187 1h1m14 0h1m3 0h1m30 0h2m48 0h1m12 0h1m15 0h1m8 0h1m46 0h1m-190 1h1m18 0h1m2 0h1m2 0h1m10 0h1m69 0h1m4 0h1m75 0h1m9 0h1m3 0h1m-207 1h1m15 0h1m6 0h2m4 0h1m4 0h1m73 0h1m20 0h1m69 0h1m3 0h1m4 0h1m-206 1h1m54 0h1m68 0h1m3 0h1m61 0h1m-84 1h1m1 0h1m4 0h1m4 0h1m-119 1h2m24 0h1m25 0h1m6 0h1m50 0h1m7 0h1m4 0h1m71 0h1m-176 1h1m10 0h1m24 0h1m18 0h1m20 0h1m100 0h1m-168 1h1m2 0h1m1 0h1m44 0h2m28 0h1m11 0h1m-64 1h1m61 0h1m1 0h1m71 0h2m6 0h1m-30 1h1m6 0h1m-139 1h1m30 0h1m21 0h1m-80 1h1m6 0h1m33 0h1m137 0h1m-178 1h1m49 0h2m-48 1h1m20 0h1m11 0h1m5 0h1m128 0h1m4 0h1m-179 1h1m4 0h1m11 0h1m6 0h1m77 0h1m1 0h1m-92 1h2m32 0h1m30 0h1m17 0h2m3 0h1m-80 1h1m121 0h1m-148 1h1m16 0h1m90 0h1m6 0h1m-19 1h1m-66 1h1m67 0h1m-79 1h1m158 0h1m-171 2h1m51 0h1m44 0h1m3 1h1m-101 1h2m80 0h1m2 0h1m49 0h1m30 0h2m-165 2h1m41 0h1m123 0h2m-93 1h1m59 0h1m-132 2h2m16 0h1m19 0h1m34 0h1m5 0h1m12 0h1m-93 1h1m82 0h1m-11 1h1m5 0h1m12 0h1m61 0h1m-160 1h2m81 1h1m5 1h1m5 0h1m63 0h1m-153 1h1m2 0h1m-6 1h1m64 0h1m14 0h1m-73 1h1m18 0h1m41 2h1m21 1h1m-46 3h1m34 1h1m-49 1h1m41 0h1m7 0h1m-30 1h1m-21 1h1m35 0h1m4 1h1m8 0h1m-1 1h1m37 0h1m-45 1h1m5 0h1m5 1h2m-29 1h1m1 0h1m8 0h1m24 0h1m-42 1h1m4 0h1m49 0h1m-30 1h1m1 0h1m33 0h1m4 0h1m7 0h1m-31 1h1m1 0h1m10 0h1m4 0h1m-60 1h1m17 0h1m-17 3h1m-4 1h2m-3 1h1m6 0h1m68 0h1m-66 1h1m55 8h1m-10 3h1m-2 2h1"/>
<path stroke="#c8e882" d="M47 14h1m-2 4h1m4 13h1m-2 2h1m-1 1h1m-10 2h1m-1 1h1m161 0h1m-153 1h1m128 0h1m26 0h1m8 0h1m-176 1h1m131 0h1m-129 1h1m4 0h1m159 0h1m3 0h1m-165 1h1m3 0h1m120 0h1m-134 2h1m98 0h1m20 0h1m32 0h1m-131 1h1m54 0h1m1 1h1m18 0h2m4 0h1m46 0h1m-129 1h1m53 0h1m-69 1h1m84 1h1m-85 1h1m62 0h1m-3 1h1m39 0h1m66 0h1m12 0h1m-188 1h1m16 0h1m55 0h1m-72 1h1m101 0h1m3 0h1m2 0h1m-100 1h1m16 0h1m96 0h1m35 0h1m29 0h1m-153 1h1m36 0h1m34 0h1m-36 1h1m34 0h1m-107 1h1m35 0h1m55 0h1m61 0h1m12 0h1m-136 1h1m35 0h1m37 0h1m49 0h1m33 0h1m-168 1h1m16 0h1m63 0h1m-99 1h1m16 0h1m31 0h1m125 0h1m-172 1h1m58 0h1m89 0h1m-132 1h1m41 0h1m4 0h1m29 0h1m-1 1h1m5 0h1m37 0h1m-74 1h1m34 0h1m4 0h1m74 0h1m-185 1h1m33 0h1m72 0h1m27 0h1m57 0h3m-189 1h2m8 0h1m2 0h1m1 0h1m16 0h1m7 0h1m14 0h1m12 0h1m19 0h2m7 0h1m80 0h1m-186 1h1m5 0h1m27 0h1m47 0h1m14 0h1m89 0h1m6 0h1m1 0h1m-200 1h3m30 0h1m4 0h1m21 0h1m18 0h1m105 0h1m1 0h1m5 0h1m4 0h1m-171 1h1m4 0h1m2 0h1m24 0h1m16 0h1m14 0h1m1 0h1m1 0h1m17 0h1m70 0h2m-162 1h2m7 0h3m19 0h2m41 0h1m-84 1h1m12 0h1m28 0h1m55 0h1m50 0h1m-116 1h1m3 0h1m29 0h3m2 0h1m22 0h1m-115 1h2m25 0h1m1 0h1m3 0h1m18 0h1m1 0h1m6 0h1m29 0h1m68 0h1m-162 1h1m7 0h1m10 0h1m7 0h1m5 0h1m1 0h1m14 0h1m12 0h1m7 0h1m26 0h1m9 0h1m15 0h1m21 0h1m17 0h1m32 0h1m-150 1h1m3 0h1m48 0h1m11 0h1m12 0h1m71 0h1m-159 1h1m13 0h1m21 0h1m15 0h1m8 0h1m99 0h1m-169 1h1m13 0h1m14 0h1m23 0h1m25 0h1m16 0h1m6 0h1m-129 1h1m11 0h1m26 0h1m35 0h1m6 0h1m1 0h1m23 0h1m1 0h1m31 0h1m-140 1h1m30 0h1m77 0h1m4 0h1m29 0h1m-128 1h1m35 0h1m13 0h2m14 0h1m4 0h1m58 0h1m39 0h2m-164 1h1m22 0h1m33 0h1m26 0h1m3 0h1m22 0h1m6 0h1m8 0h1m-135 1h1m6 0h1m2 0h1m7 0h2m11 0h1m19 0h1m17 0h1m11 0h1m6 0h1m1 0h2m1 0h1m7 0h1m22 0h1m47 0h1m-193 1h1m50 0h1m27 0h1m15 0h1m4 0h1m1 0h1m9 0h1m48 0h1m24 0h1m-203 1h1m93 0h1m4 0h1m18 0h1m51 0h1m11 0h1m-153 1h1m49 0h1m11 0h1m22 0h1m56 0h1m-156 1h1m67 0h1m17 0h1m5 0h3m3 0h1m3 0h1m20 0h1m5 0h1m57 0h1m-151 1h1m32 0h1m11 0h1m7 0h1m42 0h1m7 0h1m22 0h1m23 0h1m-133 1h1m17 0h1m16 0h1m12 0h1m18 0h1m23 0h1m-160 1h1m20 0h1m60 0h1m24 0h1m39 0h1m59 0h1m-187 1h1m1 0h1m3 0h3m38 0h1m40 0h1m16 0h1m15 0h1m15 0h1m9 0h1m3 0h1m16 0h1m6 0h2m9 0h1m-184 1h1m1 0h1m3 0h1m63 0h2m11 0h1m12 0h1m3 0h1m2 0h1m9 0h1m24 0h1m1 0h1m12 0h2m10 0h1m5 0h1m2 0h1m1 0h1m1 0h1m-187 1h1m5 0h2m6 0h1m2 0h1m92 0h1m56 0h1m-161 1h1m42 0h1m8 0h1m32 0h1m17 0h1m2 0h1m3 0h1m62 0h1m1 0h1m-204 1h1m26 0h2m51 0h1m23 0h1m6 0h1m17 0h1m16 0h1m59 0h1m-92 1h1m12 0h1m18 0h1m58 0h1m1 0h1m-194 1h1m84 0h1m5 0h1m11 0h1m-105 1h1m80 0h1m42 0h1m71 0h1m-209 1h2m1 0h1m198 0h1m5 0h1m2 0h2m-214 1h1m18 0h1m2 0h1m31 0h1m24 0h1m18 0h1m10 0h1m91 0h1m1 0h1m6 0h1m-193 1h1m30 0h1m37 0h2m20 0h1m12 0h1m3 0h1m-123 1h1m86 0h1m12 0h1m105 0h1m-139 1h1m43 0h1m4 0h1m78 0h1m11 0h1m-177 1h1m20 0h1m58 0h1m13 0h1m-111 1h1m15 0h1m74 0h1m16 0h1m20 0h1m53 0h1m5 0h1m-192 1h1m16 0h1m3 0h1m66 0h2m4 0h1m13 0h1m3 0h1m8 0h1m72 0h1m-174 1h1m1 0h2m24 0h1m45 0h1m11 0h1m81 0h1m7 0h1m-175 1h1m53 0h1m29 0h1m77 0h1m4 0h1m-180 1h1m26 0h1m60 0h1m84 0h1m-133 1h1m67 0h1m16 0h1m57 0h1m-160 1h1m85 0h1m-75 1h1m4 0h2m131 0h1m-167 1h1m74 0h1m16 0h1m72 0h2m6 0h2m-197 1h1m29 0h1m1 0h1m44 0h1m26 0h1m-67 1h1m34 0h1m17 0h1m4 0h1m41 0h1m29 0h1m28 0h1m-199 1h1m9 0h1m34 0h1m85 0h1m19 0h1m-109 1h2m50 0h1m1 0h1m1 1h1m53 0h1m-137 1h1m51 0h1m28 0h1m23 0h1m-108 1h1m7 0h1m32 0h1m39 0h1m23 0h1m-81 1h1m61 0h1m5 0h1m-94 1h1m7 0h1m4 0h1m46 0h1m124 0h1m-101 1h1m7 0h1m58 0h1m-56 1h1m-5 1h1m8 0h1m-77 1h1m80 0h1m-17 2h1m10 1h1m-48 1h1m45 0h1m-10 1h1m3 0h1m-8 1h1m2 0h1m2 0h1m-71 2h1m76 1h1m-86 1h1m89 1h1m-64 1h1m-31 1h1m89 0h1m-82 1h1m79 0h1m7 0h1m57 0h1m1 0h1m-72 1h1m4 0h1m-60 2h2m58 1h1m-18 1h1m19 0h1m-11 1h1m-62 2h1m27 0h1m-1 1h1m-12 1h1m16 1h1m15 1h2m2 0h1m-42 1h1m52 1h1m-22 1h1m5 0h1m18 0h1m-59 1h1m60 0h1m7 0h1m-46 1h1m15 0h1m3 2h1m5 0h1m-7 1h1m1 0h1m40 0h1m-39 1h1m33 0h1m6 0h1m3 0h1m-53 1h1m42 0h1m-41 1h1m38 0h1m-46 1h1m4 0h1m-2 1h1m-5 1h2m45 8h1m0 6h1"/>
<path stroke="#afe173" d="M47 15h1m-3 10h1m5 5h1m2 4h1m107 2h1m41 1h1m-1 1h1m12 1h2m-1 1h1m-168 1h1m85 1h1m39 2h1m-53 1h2m-60 1h1m-15 1h1m101 0h1m39 0h1m0 1h1m-71 1h1m69 0h1m-123 1h1m-20 1h1m4 0h1m88 0h1m49 0h1m36 0h1m-187 1h1m159 0h1m-146 1h1m12 0h1m78 0h1m50 0h1m28 1h1m-179 1h1m75 0h1m21 0h1m4 0h1m-27 1h1m22 0h1m3 0h1m46 0h1m29 0h2m-154 2h1m19 0h1m55 0h1m39 0h1m28 0h2m7 0h1m-154 1h1m151 0h1m-186 1h1m31 0h1m67 0h1m88 0h1m-158 1h1m44 0h1m118 0h1m-114 1h1m3 0h4m12 0h1m87 0h1m4 0h1m-174 2h1m18 0h1m14 0h1m18 0h1m35 0h1m83 0h1m-172 1h1m4 0h1m2 0h1m47 0h1m12 0h1m14 0h1m1 0h1m83 0h1m-173 1h1m5 0h1m30 0h1m32 0h2m14 0h1m-82 1h1m71 0h1m12 0h1m51 0h1m25 0h1m-191 1h1m89 0h1m10 0h1m3 0h1m4 0h1m2 0h1m2 0h1m22 0h2m53 0h1m-163 1h1m7 0h1m13 0h1m33 0h2m6 0h2m7 0h1m87 0h1m4 0h1m-165 1h2m1 0h1m2 0h1m48 0h1m14 0h1m3 0h2m84 0h1m-169 1h1m1 0h1m4 0h1m10 0h1m2 0h2m15 0h1m39 0h1m19 0h1m34 0h1m-130 1h2m1 0h1m75 0h1m12 0h1m1 0h1m-22 1h1m94 0h1m-106 1h1m9 0h1m17 0h1m1 0h1m11 0h1m27 0h1m-139 1h1m34 0h2m40 0h1m20 0h1m-95 1h1m52 0h1m7 0h1m7 0h1m5 0h1m7 0h1m9 0h1m12 0h2m13 0h1m46 0h1m-99 1h1m34 0h1m17 0h1m2 0h1m24 0h1m-142 1h1m6 0h1m38 0h1m12 0h1m13 0h1m2 0h1m6 0h1m8 0h2m-90 1h1m62 0h2m6 0h1m15 0h1m-98 1h1m70 0h1m36 0h1m13 0h1m21 0h1m17 0h1m-97 1h1m6 0h2m13 0h1m15 0h1m3 0h1m-139 1h1m62 0h1m7 0h1m2 0h1m47 0h1m26 0h2m-147 1h1m63 0h1m1 0h1m12 0h1m6 0h1m8 0h1m17 0h1m2 0h1m3 0h1m58 0h1m9 0h1m2 0h1m-136 1h1m19 0h1m4 0h1m3 0h1m29 0h1m7 0h1m1 0h2m11 0h1m3 0h1m7 0h1m2 0h1m-168 1h1m8 0h1m69 0h1m11 0h1m4 0h2m11 0h1m7 0h1m15 0h1m42 0h1m-97 1h1m1 0h1m5 0h1m5 0h1m15 0h1m10 0h1m13 0h1m18 0h1m28 0h1m15 0h1m5 0h1m-192 1h1m4 0h1m91 0h1m7 0h1m16 0h1m10 0h2m5 0h1m1 0h1m1 0h1m-128 1h1m47 0h1m8 0h1m9 0h1m12 0h1m9 0h1m30 0h1m-129 1h1m7 0h1m77 0h1m6 0h1m46 0h1m30 0h1m-165 1h1m37 0h1m1 0h1m77 0h1m45 0h1m-165 1h1m68 0h1m6 0h1m14 0h1m12 0h1m19 0h1m38 0h1m5 0h1m-202 1h1m112 0h2m20 0h1m68 0h1m-197 1h1m19 0h1m3 0h1m1 0h1m100 0h1m23 0h1m27 0h1m-179 1h2m10 0h1m4 0h1m1 0h2m122 0h1m-43 1h1m6 0h1m1 0h1m5 0h1m14 0h1m63 0h1m-192 1h1m3 0h1m98 0h1m3 0h1m86 1h1m-154 1h1m25 0h1m11 0h2m11 0h1m10 0h1m-7 1h1m6 0h1m94 0h1m-100 1h1m89 0h1m-110 1h1m13 0h1m1 0h1m14 0h1m81 0h1m-95 1h1m13 0h1m-110 1h1m15 0h1m66 0h1m3 0h1m3 0h1m7 0h2m9 0h1m85 0h1m-180 1h1m4 0h1m54 0h1m21 0h1m56 0h1m-81 1h1m9 0h1m34 0h1m9 0h1m-108 2h1m52 0h1m70 0h1m-135 1h1m85 0h1m4 0h1m83 0h1m-176 1h1m19 0h1m13 0h1m4 0h1m1 0h1m-8 1h1m-51 1h1m15 0h1m166 0h1m-150 1h1m3 0h1m142 0h1m1 0h1m3 0h1m-146 1h1m28 0h1m51 0h1m59 0h1m12 1h1m-100 1h1m1 0h1m92 0h1m-97 1h1m101 2h2m-184 1h1m93 0h1m76 0h2m-135 1h1m55 0h2m83 1h1m-68 1h1m57 0h2m10 0h1m-88 1h1m55 0h1m14 1h1m-72 1h1m1 1h1m1 0h1m78 0h1m-172 1h1m167 0h1m-173 1h1m22 1h1m146 0h1m-164 1h1m83 1h1m6 0h1m69 0h1m-74 2h1m-46 1h1m-13 1h1m130 0h1m-64 2h1m-24 1h1m9 0h1m56 0h1m-111 1h1m65 0h1m-14 1h1m-37 1h1m3 0h1m36 0h1m-6 4h1m-46 4h2m37 2h1m43 2h1m-58 1h1m1 0h1m18 0h1m16 0h1m-26 2h1m-12 1h1m2 0h1m53 0h1m-7 1h1m-41 1h1m-9 1h1m9 0h1m46 0h1m-49 1h1m-5 1h1m-7 2h1m-6 1h1m8 0h3m1 0h1m43 8h1m-1 7h1"/>
<path stroke="#96d769" d="M45 14h1m5 18h1m3 2h1m-6 5h1m164 1h2m-5 4h1m-170 1h1m112 1h1m-42 4h1m94 1h1m1 0h1m-54 1h1m45 0h1m31 0h1m-136 1h1m133 0h1m-181 1h1m178 0h1m-26 1h1m27 0h1m-81 1h1m75 0h1m3 0h1m-184 1h1m3 0h1m88 0h2m6 0h1m78 1h1m4 0h1m-96 1h1m98 0h1m-107 1h1m18 0h1m68 0h1m17 0h1m-2 1h3m-113 1h1m111 0h1m-123 1h1m31 0h1m1 0h1m5 0h1m75 1h1m3 0h1m5 0h1m-88 1h1m5 0h1m69 0h1m16 0h1m-175 1h1m5 0h1m73 0h1m1 0h1m-83 1h1m-14 1h1m12 0h1m5 0h1m19 0h1m40 0h1m19 0h1m5 0h1m-69 1h1m48 0h1m2 0h1m8 0h1m1 0h1m70 0h1m-185 1h1m25 0h1m3 0h1m6 0h1m15 0h1m37 0h1m7 0h1m14 0h1m25 0h1m24 0h1m17 0h1m-156 1h1m2 0h1m1 0h1m26 0h1m51 0h1m3 0h1m-69 1h1m38 0h1m14 0h2m12 0h2m1 0h1m44 0h1m-105 1h1m30 0h1m3 0h1m7 0h1m1 0h2m3 0h1m-71 1h1m20 0h1m25 0h1m7 0h3m-10 1h1m16 0h1m26 0h1m26 0h2m-42 1h1m26 0h1m11 0h1m22 0h1m-133 1h1m94 0h1m9 0h1m-109 1h1m61 0h1m13 0h1m36 0h1m-124 1h1m5 0h1m4 0h1m105 0h1m-148 1h1m40 0h1m58 0h2m10 0h1m-43 1h1m4 0h1m79 0h1m-98 1h1m15 0h1m2 0h1m13 0h1m26 0h1m36 0h1m17 0h1m15 0h1m-115 1h1m20 0h1m3 0h2m1 0h1m6 0h1m14 0h2m7 0h1m5 0h1m6 0h1m18 0h1m-100 1h1m30 0h1m3 0h1m8 0h1m76 0h1m-21 1h1m14 0h1m4 0h1m-204 1h1m104 0h1m13 0h1m65 0h1m12 0h1m-81 1h1m1 0h1m18 0h1m26 0h1m34 0h1m10 0h1m-212 1h1m106 0h1m5 0h1m11 0h1m7 0h1m3 0h1m11 0h1m27 0h1m17 0h1m14 0h1m-122 1h1m10 0h1m23 0h1m1 0h1m1 0h1m1 0h1m6 0h2m15 0h1m40 0h1m1 0h1m6 0h1m-175 1h1m79 0h1m99 0h1m-193 1h1m109 0h1m10 0h1m46 0h1m22 0h1m-181 1h2m3 0h1m109 0h1m-116 1h1m77 0h1m2 0h1m96 0h1m-179 1h1m63 0h1m10 0h1m9 0h1m1 0h1m8 0h2m69 0h1m-86 1h1m17 0h1m17 0h1m5 0h1m5 0h1m-68 1h1m107 0h1m11 0h1m-185 1h1m89 0h1m2 0h1m-119 1h1m92 0h1m14 0h1m7 0h2m6 0h1m-82 1h1m43 0h1m14 0h1m107 0h1m-121 1h1m26 0h1m10 0h1m-17 1h1m34 0h1m61 0h1m-177 1h1m76 0h1m47 0h1m38 0h1m11 0h1m-111 1h1m13 0h1m94 0h1m-194 1h1m22 0h1m76 0h1m88 0h2m-112 1h1m41 0h1m72 0h1m-172 1h1m28 0h1m70 0h1m66 0h1m-187 1h1m97 0h1m5 0h1m-5 1h1m1 1h1m17 1h1m-71 1h1m43 0h1m82 0h1m6 1h1m1 0h1m-175 1h1m172 0h1m7 0h1m-183 1h1m174 0h1m-118 1h1m120 0h1m2 0h1m-178 1h1m74 0h1m-57 1h2m148 0h2m-96 1h1m19 0h1m-82 1h1m72 0h2m6 0h1m3 0h1m70 0h1m4 0h2m-168 1h1m166 0h1m-31 1h1m22 0h1m-162 1h1m159 0h1m-80 1h1m49 0h1m27 0h1m-1 1h1m3 0h1m3 0h1m-80 1h1m73 0h2m-76 1h1m-92 1h1m83 0h1m2 0h1m-86 1h1m75 0h1m54 0h1m-55 1h1m85 0h1m-89 4h1m61 0h1m-132 1h1m76 0h1m4 1h1m-8 1h1m3 0h1m7 1h1m62 3h1m-76 3h1m36 1h1m-44 1h1m19 0h1m-22 1h1m11 1h1m-36 1h1m6 0h1m14 0h1m14 3h1m15 2h1m-7 1h1m-22 1h1m54 1h1m-70 1h1m15 0h1m-10 1h2m9 0h1m29 1h1m-3 1h1m-33 4h2"/>
<path stroke="#73cd64" d="M48 30h1m154 8h1m11 0h1m-3 2h1m6 0h1m-166 1h1m168 1h1m-85 1h1m-1 1h1m54 2h1m3 4h1m-43 1h1m49 2h1m-1 1h1m3 0h1m24 0h1m-183 1h1m182 0h1m-170 2h1m70 0h1m15 0h1m44 0h1m7 0h1m26 0h1m3 0h1m-181 1h1m29 0h1m59 0h1m6 0h1m81 0h1m4 0h3m0 1h1m-186 1h1m86 0h1m9 0h1m84 0h1m-115 1h1m105 0h1m-169 1h1m182 0h1m-104 1h1m87 0h1m9 0h1m-89 1h1m11 0h1m-113 1h2m28 0h1m65 0h1m6 0h1m78 0h1m6 0h1m-190 1h1m22 0h1m73 0h1m4 0h1m2 0h1m3 0h1m75 0h1m1 0h1m1 0h1m-168 1h1m69 0h1m3 0h2m6 0h1m5 0h1m89 0h1m-176 1h1m74 0h1m-87 1h1m16 0h1m7 0h1m37 0h1m31 0h1m20 0h1m35 0h1m-140 1h2m49 0h1m23 0h1m3 0h1m-73 1h2m73 0h1m73 0h1m-155 1h1m93 0h1m-64 1h1m60 0h1m74 0h1m-157 1h1m95 0h1m12 0h2m46 0h1m-122 1h1m14 0h1m26 0h1m15 0h1m25 0h1m-115 1h1m104 0h2m13 0h1m14 0h1m-151 1h1m54 0h1m67 0h1m11 0h1m3 0h1m25 0h1m-116 1h1m5 0h1m4 0h1m40 0h1m20 0h1m6 0h1m33 0h1m-114 1h1m6 0h1m53 0h1m19 0h1m29 0h1m-135 1h1m25 0h1m2 0h1m45 0h1m16 0h1m17 0h2m7 0h1m15 0h1m1 0h1m-199 1h1m51 0h1m25 0h1m10 0h1m102 0h1m7 0h1m-148 1h1m9 0h1m59 0h1m22 0h1m6 0h1m21 0h1m21 0h1m-120 1h1m15 0h1m1 0h2m14 0h1m58 0h1m2 0h1m-97 1h1m17 0h1m13 0h1m46 0h1m39 0h1m-72 1h1m26 0h2m18 0h1m2 0h1m23 0h1m-178 1h1m84 0h1m17 0h1m1 0h1m29 0h1m4 0h1m-171 1h1m15 0h1m73 0h1m40 0h1m30 0h1m32 0h2m1 0h1m-71 1h1m-6 1h1m27 0h1m17 0h1m38 0h1m5 0h1m-131 1h1m29 0h1m28 0h1m12 0h1m52 0h1m-87 1h1m11 0h1m4 0h1m-27 1h1m12 0h1m11 0h1m57 0h1m1 0h1m-85 1h1m1 0h1m12 0h1m80 0h1m-177 1h1m48 0h1m52 0h1m4 0h1m3 0h1m5 0h1m35 0h1m-75 1h1m-4 1h1m7 0h1m5 0h1m1 0h1m85 0h1m-187 1h1m99 0h1m8 0h1m-40 1h1m-96 1h1m4 0h1m41 1h1m51 0h1m3 1h1m27 0h1m-27 1h1m12 0h1m29 0h1m57 0h1m-88 2h1m79 0h1m13 0h1m-165 1h1m69 0h1m3 0h1m12 1h1m-78 1h1m23 0h1m54 0h1m65 0h1m1 0h1m1 0h1m8 0h1m-176 1h1m79 0h1m1 0h1m-64 1h1m62 0h1m9 0h1m69 1h1m-100 1h1m98 0h2m2 0h1m-161 1h1m4 0h1m133 0h1m30 0h1m-109 1h1m97 0h1m1 0h1m-101 1h1m82 0h1m-47 1h1m-76 1h1m4 0h1m50 0h1m75 0h1m-157 1h1m86 0h1m77 0h1m-53 1h1m47 0h1m-77 1h1m10 0h1m62 0h1m1 1h1m-74 2h1m70 0h1m-82 1h1m-74 1h1m149 1h1m6 0h1m-2 1h1m-73 1h1m63 0h2m-148 3h1m64 0h1m85 0h1m-91 1h1m7 0h1m-9 2h1m10 0h1m0 1h1m75 0h1m-157 1h1m84 0h1m66 1h1m2 0h1m-140 3h1m10 1h1m46 3h1m57 11h1m-72 3h1m19 1h1m41 0h1m-58 1h1m8 0h1m27 1h1m-30 4h1"/>
<path stroke="#3cc35f" d="M49 30h1m113 6h1m42 2h1m-33 2h1m42 0h1m-4 1h1m8 1h1m-9 1h1m-3 3h1m-18 1h1m36 1h1m0 1h1m-86 1h1m50 0h1m10 1h1m-59 1h1m56 1h1m-3 1h2m-122 1h1m69 0h1m48 0h1m0 1h1m-100 1h1m102 0h1m27 0h1m3 0h1m-6 1h1m1 0h1m-96 1h1m93 0h1m-92 1h1m84 0h1m6 0h1m4 0h1m2 0h1m-113 1h1m11 0h1m75 1h1m13 0h1m3 0h1m-86 1h2m83 0h1m-89 1h1m75 0h1m5 0h1m2 0h1m9 0h1m-97 1h1m3 0h1m84 0h1m3 0h1m1 0h1m-192 1h2m96 0h1m10 0h2m81 0h1m-162 1h1m67 0h2m4 0h3m79 0h2m-158 1h1m76 0h1m56 0h3m15 0h1m10 0h1m-158 1h1m65 0h1m24 0h1m33 0h1m27 0h1m2 0h1m-84 1h1m56 0h2m-141 1h1m19 0h1m46 0h1m87 0h2m-127 1h1m8 0h1m127 0h1m-104 1h1m4 0h1m82 0h1m5 0h1m-101 1h1m54 0h1m44 0h1m7 0h1m-111 1h1m6 0h1m-5 1h1m4 0h1m59 0h1m-65 1h1m54 0h1m2 0h1m20 0h1m-79 1h1m11 0h1m14 0h1m78 0h1m-152 1h1m59 0h1m39 0h1m15 0h1m6 0h1m13 0h1m-148 1h1m40 0h1m60 0h1m4 0h1m45 0h1m-43 1h1m5 0h1m8 0h2m6 0h1m26 0h1m-199 1h1m99 0h1m7 0h1m8 0h1m51 0h1m-93 1h1m109 0h1m-76 1h1m34 0h1m27 0h1m-109 1h1m20 0h1m20 0h2m34 0h1m-67 1h1m29 0h1m3 0h2m40 0h2m16 0h1m28 0h1m-118 1h2m6 0h1m31 0h1m19 0h1m27 0h1m18 0h1m9 0h1m-125 1h1m33 0h1m7 0h1m6 0h1m44 0h1m-47 1h1m19 0h1m12 0h1m1 0h1m17 0h1m13 0h1m5 0h1m3 0h1m-106 1h1m10 0h1m79 0h1m2 0h1m1 0h1m10 0h1m-99 1h1m21 0h1m59 0h1m3 0h1m-78 1h2m6 2h1m70 0h1m-83 1h1m1 0h1m-2 1h1m83 0h1m9 1h1m-114 1h1m13 0h1m7 0h1m90 0h1m-123 1h1m49 0h1m72 0h1m-104 1h1m-19 1h1m8 0h1m-5 1h1m1 0h1m24 0h1m82 0h1m-97 1h1m-9 1h1m13 1h1m88 0h1m-197 1h1m1 0h1m53 0h1m50 0h1m3 0h1m80 0h1m-87 1h1m89 0h1m-81 1h1m4 0h1m-63 1h1m139 0h1m4 0h1m-171 2h1m163 0h1m-75 1h1m3 0h1m65 0h1m1 1h1m-3 1h1m-146 1h1m16 0h1m32 1h1m98 0h1m-4 2h1m3 0h1m-10 1h1m3 0h1m2 0h1m4 0h1m-32 1h1m-55 1h1m78 0h1m4 0h1m-5 1h1m1 0h2m-83 1h1m81 0h1m-8 1h1m-84 1h1m79 0h1m7 0h1m-77 1h1m70 0h2m-87 1h1m19 0h1m60 0h1m-77 1h1m3 0h1m-87 1h1m89 0h1m-7 3h1m6 0h1m71 1h1m-70 1h1m47 1h1m-69 2h1m69 1h1m-51 4h1m-19 4h1m9 0h1m4 2h1m-8 4h1m-23 3h1m62 0h1m0 1h1m-35 1h1m32 0h1m15 0h1m-14 3h1m1 0h1m15 4h1m-6 4h1"/>
<path stroke="#0fb45a" d="M205 38h1m3 2h1m9 0h1m-33 1h1m29 0h1m2 0h1m-8 1h3m-2 1h1m-4 6h1m1 0h1m20 2h1m-31 1h1m4 0h1m26 0h1m-26 3h1m22 0h2m-27 1h1m4 0h1m-146 1h1m80 0h1m59 0h2m22 0h1m-23 1h1m-153 1h1m86 0h1m61 0h1m21 0h1m10 0h1m-97 1h1m64 0h1m19 0h1m-6 1h1m3 0h1m3 0h1m12 0h1m-100 2h1m90 0h1m-90 1h2m82 0h2m9 0h1m-85 1h1m88 0h1m-189 1h1m74 0h1m17 0h1m4 0h1m94 0h1m-33 1h1m28 0h1m-189 1h1m23 0h1m47 0h1m12 0h1m3 0h1m2 0h1m2 0h2m4 0h1m3 0h1m85 0h1m-113 1h1m20 0h1m80 0h1m6 0h1m-170 1h1m103 0h1m60 0h1m5 0h1m-7 1h1m-126 1h1m33 0h1m16 0h1m25 0h1m48 0h1m-34 2h1m-153 1h1m85 0h1m7 0h1m-75 1h1m103 0h1m38 0h1m-86 1h1m14 0h1m9 0h1m1 0h1m46 0h1m-52 1h1m4 0h1m73 0h1m5 0h1m-115 1h1m105 0h1m1 0h1m-76 1h1m7 0h2m6 0h1m17 0h1m3 0h1m9 0h1m19 0h1m-70 1h1m51 0h1m16 0h1m-103 1h1m5 0h1m26 0h1m47 0h1m9 0h1m-49 1h1m16 0h1m48 0h1m-87 1h1m22 0h1m2 0h1m15 0h1m20 0h2m22 0h1m8 0h1m-114 1h1m30 0h1m4 0h1m45 0h1m5 0h1m19 0h1m-113 1h1m79 1h1m13 0h1m2 0h1m-154 1h1m41 0h1m16 0h1m7 0h1m84 0h2m6 0h1m17 0h1m-122 1h1m99 0h1m-53 1h1m67 0h1m-81 1h2m-10 1h2m-85 1h1m80 0h1m1 0h1m2 0h1m9 0h1m-2 1h1m-95 1h1m104 0h1m-27 1h1m-2 2h1m-24 1h1m4 0h1m109 0h1m-113 1h1m8 0h1m27 1h1m70 0h1m5 0h1m-105 1h1m11 0h1m92 0h1m-78 1h1m-88 1h1m168 1h1m-194 1h1m185 0h1m-1 1h1m-112 1h1m4 1h1m106 0h1m-154 1h1m153 0h1m1 0h1m-166 1h1m132 1h1m33 1h1m-4 1h2m-155 2h1m152 0h1m4 0h1m-82 2h1m80 2h1m-74 2h1m-8 1h1m71 0h1m-73 2h1m-14 2h1m78 0h1m8 0h2m-93 1h1m-34 1h1m34 0h1m13 5h1m-62 2h1m44 0h1m1 0h1m10 0h1m6 0h1m-62 3h1m74 2h1m-23 4h1m-15 2h1m5 0h1m5 0h1m-2 1h1m-22 8h1m61 0h1m2 3h1m-52 2h1m46 3h1"/>
<path stroke="#0aa550" d="M222 41h1m-26 1h1m19 1h1m-5 1h1m1 0h1m-19 3h1m13 0h2m-14 2h1m13 1h1m19 1h1m-23 1h1m7 0h1m-10 2h1m7 0h1m-11 1h1m27 1h2m3 1h1m-34 1h1m4 1h1m25 0h1m3 0h1m-14 1h1m17 0h1m-18 1h1m5 0h1m8 0h1m-98 1h2m65 0h1m-68 1h1m80 0h1m-153 1h1m73 0h1m3 0h1m1 0h1m75 1h1m5 0h1m11 0h1m-4 1h1m1 0h1m-170 1h1m76 0h1m62 0h1m28 0h1m-89 1h1m78 0h1m-78 1h1m73 0h1m3 0h1m2 0h1m2 0h1m3 2h1m-12 1h1m9 0h1m1 0h1m-97 1h1m40 0h1m18 0h1m26 0h1m-89 1h1m1 0h1m85 0h1m9 0h1m-115 1h1m9 0h1m8 0h1m18 0h1m7 0h1m32 0h1m33 0h1m-79 1h1m40 0h1m35 0h1m3 0h1m-56 1h2m42 0h1m2 0h1m-50 1h1m1 0h1m10 0h1m25 0h1m-80 1h1m16 0h1m27 0h1m11 0h1m20 0h1m-175 1h1m103 0h1m4 0h1m68 0h1m-127 1h1m62 0h1m45 0h1m-94 1h1m19 0h1m3 0h1m18 0h1m57 0h1m3 0h1m3 0h2m-95 1h1m24 0h1m9 0h1m26 0h1m14 0h1m19 0h1m-72 1h2m43 0h1m8 0h1m2 0h1m15 0h1m-70 1h1m27 0h1m8 0h1m37 0h1m-132 1h1m26 0h1m30 0h1m21 0h1m1 0h1m9 0h1m-93 1h1m43 0h1m11 0h1m6 0h1m35 0h1m-75 1h1m51 0h1m45 0h1m-169 1h2m76 0h1m77 0h1m-51 1h1m-20 1h1m2 0h1m82 0h1m11 0h1m-98 1h1m10 0h1m-9 1h1m-4 1h1m33 0h1m-39 1h1m12 0h1m10 0h1m-12 1h1m10 0h1m64 0h1m3 0h1m-91 1h2m7 0h1m2 0h1m84 1h1m-137 1h1m33 0h1m1 0h1m-17 1h1m4 0h1m11 0h1m12 0h1m84 0h1m-110 1h1m9 0h1m-13 1h1m3 0h1m97 0h1m7 0h1m-86 2h1m77 1h2m1 0h1m-137 1h1m50 0h1m2 0h1m76 0h2m2 0h1m11 0h1m-11 2h1m-74 1h1m73 0h1m-153 3h1m154 0h1m-162 1h1m157 1h1m-152 1h1m155 0h1m-6 1h1m-98 1h1m101 0h1m-154 1h1m64 0h1m0 2h1m80 0h1m-80 2h1m15 0h1m65 0h1m-2 3h1m-7 1h1m-160 3h1m71 3h1m73 0h1m-73 2h1m-17 3h1m23 1h1m2 3h1m3 0h1m-50 7h1m48 3h1m-4 4h1m33 2h1m5 0h1m-17 3h1m-45 5h1m7 1h1"/>
<path stroke="#059646" d="M218 41h1m-23 2h1m6 0h1m9 0h1m2 0h1m7 0h1m-29 3h1m0 3h1m16 0h1m17 0h1m-36 1h1m14 0h1m-7 2h1m5 0h1m21 0h2m-30 1h1m4 0h1m5 0h1m15 1h1m-84 4h1m58 0h1m-60 1h1m84 0h1m1 0h1m-88 1h1m91 0h1m4 0h1m-100 1h1m87 0h1m12 0h1m-103 1h1m83 0h1m2 0h1m1 0h1m-77 1h1m86 0h1m-95 1h1m5 0h1m1 0h1m1 0h1m78 0h1m10 2h1m-166 1h1m72 1h1m78 0h1m-85 2h1m66 1h1m25 0h2m3 0h1m-82 2h1m1 0h1m28 0h1m35 0h1m6 0h1m-71 1h1m37 0h1m31 0h1m-91 1h1m48 0h1m44 0h1m1 0h1m-43 1h1m14 0h1m-48 1h1m39 0h1m-4 1h1m9 0h1m-55 1h1m26 0h1m19 0h1m2 0h1m3 0h1m1 0h1m-1 1h1m10 0h1m4 0h1m4 0h1m-70 1h1m43 0h1m19 0h1m9 0h1m-104 1h1m75 0h1m6 0h1m5 0h1m-67 1h1m42 0h1m17 0h1m-59 1h1m-7 1h1m32 0h1m20 0h1m-52 1h1m2 0h1m22 0h1m25 0h1m-72 1h1m12 1h1m48 0h1m30 0h1m-12 1h1m-2 1h1m-4 1h1m15 0h1m3 0h1m-103 2h1m19 0h1m54 0h1m-142 1h1m86 0h1m4 0h1m79 1h1m-198 1h1m188 0h1m-88 3h1m-41 1h1m7 0h1m78 0h1m-43 1h1m12 1h1m29 0h1m-34 2h1m-8 3h1m85 3h1m-159 3h1m157 2h2m-2 1h1m-95 2h1m98 0h1m-2 1h1m-179 1h1m175 1h1m-4 1h1m3 1h2m1 1h1m-85 1h1m1 0h1m77 1h1m-6 1h1m6 0h1m-72 1h1m1 0h1m-16 2h1m3 0h1m11 0h1m-15 1h1m-10 1h1m13 4h1m0 1h1m64 0h1m-7 11h1m-54 2h1m-31 2h1m21 0h1m54 2h1m-49 1h1m-34 1h1m0 1h1m21 2h2"/>
<path stroke="#008741" d="M221 41h1m-24 1h1m26 0h1m-10 2h1m-4 1h1m17 3h1m-32 1h1m9 0h1m1 0h1m-15 1h1m6 1h1m2 0h1m-1 1h1m3 1h1m20 2h1m2 0h1m-25 1h1m22 0h1m2 1h1m-7 1h1m4 0h1m-90 1h2m62 0h1m25 0h1m-92 1h1m88 0h1m-90 1h1m76 0h1m7 0h1m-85 1h1m2 0h1m77 0h1m-80 1h1m5 0h1m69 0h1m9 0h1m1 0h1m-13 1h1m3 0h1m-68 1h1m80 0h1m-157 1h1m31 0h1m-60 1h1m5 0h1m103 0h1m55 0h1m18 1h1m-165 1h1m77 0h1m64 0h1m-57 1h1m57 0h1m2 0h1m19 0h1m-144 1h1m116 0h1m26 0h1m-91 1h1m84 0h1m3 0h2m-31 1h1m6 0h1m-5 1h1m25 0h2m0 1h1m-35 1h1m-61 1h1m9 0h1m8 0h1m72 0h2m-18 1h1m16 0h1m-112 1h1m92 0h1m17 0h2m-82 1h1m53 0h1m5 2h1m22 0h1m-80 1h1m43 0h1m1 0h1m15 0h1m17 0h1m-90 1h1m4 0h1m52 0h1m18 0h1m-98 1h1m52 0h1m24 0h1m8 0h1m-69 1h1m49 0h1m1 0h1m6 0h1m19 0h1m-96 1h1m24 0h1m43 0h1m-42 1h1m-13 2h1m2 0h1m13 0h1m52 0h1m-117 1h1m45 0h1m4 0h1m84 0h1m-86 1h1m1 1h1m-7 1h1m55 0h1m28 0h1m-1 2h1m-109 3h1m5 0h1m14 0h1m-6 1h1m9 0h1m12 3h1m79 1h1m-195 1h1m102 1h1m81 1h1m-74 2h1m-75 4h1m141 0h1m15 0h1m-4 1h1m-7 2h1m-92 1h1m97 1h1m-4 1h1m-180 1h1m104 1h1m70 0h1m-76 1h1m74 0h1m-64 1h1m-13 1h1m76 0h1m-87 2h1m80 0h1m-86 1h1m-1 1h1m13 3h1m-86 1h1m75 3h1m11 2h1m-1 1h1m4 3h1m-33 6h1"/>
<path stroke="#007837" d="M206 39h1m10 3h1m7 1h1m-12 1h1m-1 1h1m0 1h1m8 0h1m-10 1h1m-19 1h1m15 0h3m17 1h1m-24 1h1m-9 1h1m18 0h1m11 1h1m-16 1h1m-2 1h1m15 2h1m8 1h1m-88 1h1m57 0h1m0 1h1m21 0h1m-5 1h1m-20 1h1m13 0h1m11 0h1m-16 1h1m7 0h1m5 0h1m1 0h1m-16 1h1m6 0h1m-73 1h1m66 0h1m8 0h1m7 0h1m2 0h1m-34 1h1m12 0h1m4 0h1m8 0h1m-20 1h1m8 0h1m7 0h1m1 0h1m-82 1h1m61 2h1m18 0h2m1 0h1m-4 1h1m5 0h1m-137 1h1m119 0h1m7 0h1m0 1h1m2 0h1m4 0h1m-73 2h1m-22 1h1m63 0h1m25 0h1m4 0h1m-83 1h1m21 0h1m21 0h1m16 0h1m22 0h1m-116 1h1m75 0h1m1 0h1m17 0h1m9 0h1m8 0h1m4 0h1m-108 1h1m17 0h1m22 0h1m35 0h1m8 0h1m6 0h1m-7 1h1m11 0h1m-49 1h1m48 0h1m-173 1h1m135 0h1m19 0h1m1 0h1m14 0h1m-33 1h1m23 0h1m-80 1h1m11 0h1m45 0h1m-45 1h1m20 0h1m36 0h1m-75 1h1m44 0h1m-30 1h1m33 0h1m17 0h1m-54 1h1m33 0h1m2 0h1m20 0h1m-58 1h1m28 0h1m19 1h1m-61 1h1m82 0h1m-64 3h1m-19 1h1m2 1h1m-28 2h1m21 0h2m93 3h1m-148 4h1m28 0h1m42 2h1m3 3h2m62 0h1m-8 2h1m7 0h1m-112 1h1m102 0h1m11 4h2m-100 3h1m16 5h2m75 2h1m-80 1h1m57 10h1m-69 2h1m-63 3h1m73 4h1m-8 7h1m-16 1h2m23 0h1m3 1h1m54 1h1m-84 1h1"/>
<path stroke="#00642d" d="M205 39h1m-2 1h3m-4 1h3m1 0h2m10 0h1m-20 1h5m2 0h2m9 0h5m-16 1h4m7 0h6m2 0h1m-20 1h5m5 0h11m-31 1h2m5 0h3m1 0h5m2 0h14m-32 1h16m3 0h8m2 0h4m-32 1h10m2 0h1m2 0h2m1 0h15m-33 1h11m2 0h2m3 0h15m-33 1h1m5 0h2m1 0h3m5 0h17m-28 1h2m2 0h2m4 0h7m1 0h12m-31 1h2m8 0h4m1 0h3m1 0h11m-20 1h3m2 0h1m1 0h13m-20 1h4m2 0h15m-22 1h5m2 0h10m1 0h3m1 0h1m-146 1h1m123 0h4m3 0h11m1 0h1m-20 1h1m1 0h1m5 0h10m-18 1h5m1 0h15m-80 1h1m59 0h18m-24 1h1m6 0h16m1 0h2m13 0h1m-34 1h12m1 0h3m3 0h1m3 0h4m-27 1h10m1 0h1m2 0h2m3 0h1m4 0h1m1 0h3m-186 1h1m155 0h2m2 0h6m3 0h3m1 0h1m2 0h1m1 0h1m5 0h2m-92 1h1m65 0h8m2 0h3m1 0h1m1 0h2m2 0h1m2 0h3m3 0h1m-29 1h6m4 0h2m2 0h2m7 0h1m4 0h1m-126 1h1m37 0h1m60 0h7m1 0h4m1 0h1m3 0h1m4 0h1m-161 1h2m5 0h1m130 0h2m1 0h8m1 0h1m7 0h1m-21 1h1m3 0h3m1 0h4m8 0h2m-99 1h1m20 0h1m55 0h3m3 0h6m7 0h1m-19 1h1m4 0h6m15 0h1m-81 1h1m54 0h1m5 0h2m1 0h2m5 0h1m3 0h5m2 0h1m-28 1h1m2 0h5m2 0h7m4 0h2m1 0h2m-86 1h1m8 0h1m49 0h16m1 0h2m1 0h1m2 0h2m1 0h1m-94 1h1m16 0h1m4 0h1m45 0h6m1 0h9m1 0h1m1 0h3m2 0h1m1 0h3m-97 1h1m6 0h2m32 0h1m23 0h1m1 0h3m1 0h19m2 0h1m1 0h2m-118 1h1m6 0h1m36 0h3m29 0h1m2 0h1m2 0h1m3 0h1m2 0h13m2 0h6m1 0h2m1 0h4m5 0h1m-114 1h1m1 0h1m32 0h2m10 0h1m23 0h1m5 0h4m2 0h1m2 0h1m2 0h3m5 0h8m1 0h3m-102 1h1m5 0h1m10 0h1m22 0h2m23 0h1m3 0h1m1 0h3m3 0h1m1 0h2m2 0h1m6 0h4m1 0h2m2 0h1m-115 1h1m31 0h1m34 0h1m2 0h1m9 0h1m4 0h1m1 0h5m2 0h1m2 0h2m7 0h3m2 0h5m-107 1h1m22 0h1m2 0h2m30 0h1m12 0h3m4 0h1m1 0h2m4 0h4m3 0h1m3 0h2m1 0h1m1 0h1m2 0h1m-79 1h1m43 0h3m2 0h6m4 0h4m3 0h1m3 0h2m1 0h1m2 0h3m-188 1h1m114 0h1m38 0h2m4 0h3m3 0h6m5 0h6m1 0h2m1 0h3m-118 1h1m39 0h2m4 0h1m38 0h1m1 0h2m1 0h1m4 0h2m2 0h1m5 0h2m6 0h4m3 0h1m1 0h2m-126 1h1m68 0h1m19 0h1m2 0h2m2 0h1m4 0h3m3 0h3m5 0h4m-123 1h1m2 0h2m2 0h1m12 0h1m34 0h1m18 0h1m3 0h1m17 0h1m1 0h3m4 0h4m1 0h6m1 0h1m1 0h1m-81 1h1m6 0h4m6 0h1m1 0h1m4 0h1m14 0h1m4 0h1m3 0h1m19 0h4m1 0h6m9 0h1m-114 1h1m9 0h1m10 0h1m12 0h2m10 0h1m1 0h1m26 0h1m8 0h1m1 0h1m3 0h1m1 0h1m1 0h9m-94 1h1m17 0h1m6 0h2m5 0h1m10 0h1m29 0h5m8 0h7m15 0h1m-137 1h1m56 0h2m15 0h1m17 0h2m19 0h6m1 0h1m4 0h1m1 0h1m7 0h1m-126 1h1m23 0h1m67 0h1m10 0h2m2 0h2m16 0h1m-97 1h1m10 0h1m8 0h1m2 0h2m20 0h1m4 0h1m22 0h1m2 0h1m7 0h1m6 0h1m-71 1h1m9 0h1m18 0h1m42 0h1m-87 1h1m15 0h1m59 0h1m5 0h1m-84 1h1m33 0h1m42 0h1m-124 1h1m39 0h1m5 0h2m44 0h1m23 0h1m-65 1h1m26 0h1m46 0h1m-9 1h1m-33 1h1m51 0h1m-95 1h1m10 0h1m24 0h1m-79 1h1m30 0h1m8 0h1m-6 1h1m8 0h1m2 0h1m10 0h1m-46 1h1m12 0h2m17 0h1m89 0h1m-62 1h1m-50 1h1m30 0h1m76 0h2m-158 1h1m45 0h1m31 0h1m69 0h1m5 1h1m-86 1h1m-1 1h1m2 0h2m21 0h1m-86 1h1m144 0h1m-2 1h1m-153 1h1m20 0h1m59 0h1m24 0h1m46 0h1m5 0h1m-160 1h2m89 1h1m-20 1h1m79 0h1m-91 2h1m2 0h1m93 0h1m-83 1h1m82 0h1m-104 1h1m100 0h2m-136 1h1m57 1h1m36 0h1m33 1h1m2 0h1m1 0h1m-85 1h2m81 0h2m-82 1h2m2 0h3m39 0h1m22 0h1m-69 1h1m3 0h2m45 0h1m24 0h2m-84 1h1m3 0h1m4 0h2m8 0h1m61 0h2m-78 1h1m12 0h1m61 0h2m-107 1h1m43 0h1m-15 1h1m-10 1h1m8 0h1m10 0h1m60 0h1m-29 1h1m-90 1h1m47 0h2m36 1h1m-55 1h2m36 0h2m-63 1h1m24 1h1m15 0h2m66 0h1m-85 1h1m15 0h2m1 0h1m-47 1h1m37 0h1m2 0h1m1 0h3m64 0h1m-73 1h1m2 0h1m55 0h1m-134 1h1m61 0h1m16 0h1m1 0h1m-9 1h1m-59 2h1m53 1h1m73 0h1m-25 1h1m-36 1h1m46 0h1m7 1h1m-62 1h1m-36 1h1m34 0h1m-70 2h1m57 1h1m-42 2h1m80 1h1m-58 1h2m-2 1h5m18 0h1m-22 1h3m13 0h1m-11 1h1m36 0h1m19 0h1m-60 1h1m6 3h1m0 2h1m0 2h1"/></g></g>
<use href="#ml"/>
<path d="M1441.5 262.4h0M1430.2 273.0h0M1452.7 273.0h0M1463.9 283.6h0M1475.1 294.1h0M1497.5 294.1h0M1520.0 294.1h0M1396.6 304.7h0M1419.0 304.7h0M1441.5 304.7h0M1486.3 304.7h0M1508.8 304.7h0M1407.8 315.2h0M1497.5 315.2h0M1520.0 315.2h0M1553.6 325.8h0M1576.1 325.8h0M1520.0 336.4h0M1564.8 336.4h0M1486.3 346.9h0M1531.2 346.9h0M1553.6 346.9h0M1576.1 346.9h0M1564.8 357.5h0M1508.8 368.0h0M1497.5 378.6h0M1542.4 378.6h0M1564.8 378.6h0M1531.2 389.2h0M1576.1 389.2h0M1643.4 431.4h0M1542.4 442.0h0M1587.3 442.0h0M1632.1 442.0h0M1654.6 442.0h0M1620.9 452.5h0M1643.4 452.5h0M1688.2 452.5h0M1710.7 452.5h0M1542.4 463.1h0M1564.8 463.1h0M1587.3 463.1h0M1654.6 463.1h0M1699.4 463.1h0M1576.1 473.6h0M1688.2 473.6h0M1654.6 484.2h0M1677.0 484.2h0M1508.8 494.8h0M1553.6 494.8h0M1598.5 494.8h0M1643.4 494.8h0M1665.8 494.8h0M1587.3 505.3h0M1609.7 505.3h0M1632.1 505.3h0M1677.0 505.3h0M1721.9 505.3h0M1553.6 515.9h0M1576.1 515.9h0M1609.7 526.4h0M1172.2 537.0h0M936.7 547.6h0M1542.4 547.6h0M992.8 558.1h0M1463.9 558.1h0M1531.2 558.1h0M1576.1 558.1h0M1520.0 568.7h0M1542.4 568.7h0M1564.8 568.7h0M1609.7 568.7h0M1632.1 568.7h0M970.4 579.2h0M992.8 579.2h0M1217.1 579.2h0M1441.5 579.2h0M1531.2 579.2h0M1553.6 579.2h0M1576.1 579.2h0M981.6 589.8h0M1048.9 589.8h0M1138.6 589.8h0M1452.7 589.8h0M1475.1 589.8h0M1497.5 589.8h0M1609.7 589.8h0M1632.1 589.8h0M925.5 600.4h0M1015.2 600.4h0M1194.7 600.4h0M1217.1 600.4h0M1329.3 600.4h0M1463.9 600.4h0M1486.3 600.4h0M1553.6 600.4h0M1598.5 600.4h0M1643.4 600.4h0M1004.0 610.9h0M1183.5 610.9h0M1497.5 610.9h0M1520.0 610.9h0M1564.8 610.9h0M1609.7 610.9h0M1677.0 610.9h0M925.5 621.5h0M1015.2 621.5h0M1172.2 621.5h0M1306.9 621.5h0M1553.6 621.5h0M1576.1 621.5h0M1598.5 621.5h0M1620.9 621.5h0M891.8 632.0h0M914.3 632.0h0M1093.7 632.0h0M1250.8 632.0h0M1318.1 632.0h0M1475.1 632.0h0M1542.4 632.0h0M1609.7 632.0h0M1329.3 642.6h0M1486.3 642.6h0M1531.2 642.6h0M1553.6 642.6h0M1576.1 642.6h0M1598.5 642.6h0M1665.8 642.6h0M1093.7 653.2h0M1138.6 653.2h0M1161.0 653.2h0M1295.6 653.2h0M1520.0 653.2h0M1542.4 653.2h0M1609.7 653.2h0M903.0 663.7h0M925.5 663.7h0M992.8 663.7h0M1015.2 663.7h0M1105.0 663.7h0M1508.8 663.7h0M1531.2 663.7h0M1553.6 663.7h0M1576.1 663.7h0M1620.9 663.7h0M1665.8 663.7h0M914.3 674.3h0M936.7 674.3h0M1004.0 674.3h0M1048.9 674.3h0M1071.3 674.3h0M1138.6 674.3h0M1542.4 674.3h0M1587.3 674.3h0M947.9 684.8h0M992.8 684.8h0M1015.2 684.8h0M1060.1 684.8h0M1105.0 684.8h0M1576.1 684.8h0M1665.8 684.8h0M936.7 695.4h0M1004.0 695.4h0M1048.9 695.4h0M1116.2 695.4h0M1228.3 695.4h0M1475.1 695.4h0M1587.3 695.4h0M1609.7 695.4h0M1632.1 695.4h0M903.0 706.0h0M970.4 706.0h0M1037.7 706.0h0M1172.2 706.0h0M1553.6 706.0h0M914.3 716.5h0M959.1 716.5h0M1183.5 716.5h0M925.5 727.1h0M1037.7 727.1h0M1082.5 727.1h0M914.3 737.6h0M959.1 737.6h0M1116.2 737.6h0M1138.6 737.6h0M1161.0 737.6h0M1452.7 737.6h0M1475.1 737.6h0M903.0 748.2h0M947.9 748.2h0M1015.2 748.2h0M1127.4 748.2h0M1149.8 748.2h0M1172.2 748.2h0M1396.6 748.2h0M1419.0 748.2h0M1441.5 748.2h0M1463.9 748.2h0M1486.3 748.2h0M936.7 758.8h0M959.1 758.8h0M1004.0 758.8h0M1161.0 758.8h0M1183.5 758.8h0M1385.4 758.8h0M1407.8 758.8h0M1452.7 758.8h0M1475.1 758.8h0M903.0 769.3h0M925.5 769.3h0M947.9 769.3h0M1105.0 769.3h0M1194.7 769.3h0M1396.6 769.3h0M1441.5 769.3h0M1463.9 769.3h0M1598.5 769.3h0M1620.9 769.3h0M959.1 779.9h0M1026.4 779.9h0M1138.6 779.9h0M1205.9 779.9h0M1385.4 779.9h0M1407.8 779.9h0M1452.7 779.9h0M1497.5 779.9h0M1587.3 779.9h0M1609.7 779.9h0M1172.2 790.4h0M1374.2 790.4h0M1396.6 790.4h0M1419.0 790.4h0M1441.5 790.4h0M1463.9 790.4h0M1486.3 790.4h0M1508.8 790.4h0M1576.1 790.4h0M1598.5 790.4h0M1620.9 790.4h0M1004.0 801.0h0M1048.9 801.0h0M1116.2 801.0h0M1138.6 801.0h0M1161.0 801.0h0M1407.8 801.0h0M1430.2 801.0h0M1475.1 801.0h0M1497.5 801.0h0M1564.8 801.0h0M1587.3 801.0h0M1609.7 801.0h0M1632.1 801.0h0M903.0 811.6h0M1082.5 811.6h0M1149.8 811.6h0M1194.7 811.6h0M1374.2 811.6h0M1396.6 811.6h0M1441.5 811.6h0M1486.3 811.6h0M1508.8 811.6h0M1576.1 811.6h0M1598.5 811.6h0M1620.9 811.6h0M1643.4 811.6h0M936.7 822.1h0M1026.4 822.1h0M1071.3 822.1h0M1138.6 822.1h0M1362.9 822.1h0M1385.4 822.1h0M1407.8 822.1h0M1430.2 822.1h0M1452.7 822.1h0M1475.1 822.1h0M1564.8 822.1h0M1632.1 822.1h0M903.0 832.7h0M1127.4 832.7h0M1194.7 832.7h0M1396.6 832.7h0M1419.0 832.7h0M1441.5 832.7h0M1463.9 832.7h0M1486.3 832.7h0M1508.8 832.7h0M1553.6 832.7h0M1576.1 832.7h0M1598.5 832.7h0M1620.9 832.7h0M1643.4 832.7h0M1665.8 832.7h0M936.7 843.2h0M959.1 843.2h0M1004.0 843.2h0M1026.4 843.2h0M1116.2 843.2h0M1161.0 843.2h0M1362.9 843.2h0M1385.4 843.2h0M1407.8 843.2h0M1430.2 843.2h0M1452.7 843.2h0M1497.5 843.2h0M1520.0 843.2h0M1564.8 843.2h0M1587.3 843.2h0M1609.7 843.2h0M1654.6 843.2h0M903.0 853.8h0M992.8 853.8h0M1060.1 853.8h0M1127.4 853.8h0M1172.2 853.8h0M1396.6 853.8h0M1419.0 853.8h0M1441.5 853.8h0M1486.3 853.8h0M1508.8 853.8h0M1576.1 853.8h0M1598.5 853.8h0M1643.4 853.8h0M1665.8 853.8h0M1004.0 864.4h0M1093.7 864.4h0M1116.2 864.4h0M1138.6 864.4h0M1362.9 864.4h0M1385.4 864.4h0M1407.8 864.4h0M1430.2 864.4h0M1452.7 864.4h0M1475.1 864.4h0M1497.5 864.4h0M1564.8 864.4h0M1587.3 864.4h0M1609.7 864.4h0M1632.1 864.4h0M1654.6 864.4h0M1105.0 874.9h0M1172.2 874.9h0M1194.7 874.9h0M1419.0 874.9h0M1441.5 874.9h0M1486.3 874.9h0M1508.8 874.9h0M1553.6 874.9h0M1576.1 874.9h0M1598.5 874.9h0M1620.9 874.9h0M1116.2 885.5h0M1138.6 885.5h0M1161.0 885.5h0M1183.5 885.5h0M1385.4 885.5h0M1407.8 885.5h0M1452.7 885.5h0M1609.7 885.5h0M1127.4 896.0h0M1149.8 896.0h0M1172.2 896.0h0M1396.6 896.0h0M1419.0 896.0h0M1441.5 896.0h0M1463.9 896.0h0M1486.3 896.0h0M1576.1 896.0h0M1598.5 896.0h0M1620.9 896.0h0M1643.4 896.0h0M1385.4 906.6h0M1430.2 906.6h0M1452.7 906.6h0M1475.1 906.6h0M1564.8 906.6h0M1587.3 906.6h0M1609.7 906.6h0M1149.8 917.2h0M1396.6 917.2h0M1463.9 917.2h0M1620.9 917.2h0" fill="none" stroke="#000" stroke-width="11.0" stroke-linecap="round"/>
<g fill="none" stroke="#000" stroke-width="6.2">
<rect x="266.0" y="37.5" width="1571.0" height="1096.5"/>
<path stroke-linecap="round" d="M266.0 1079.7H234.5M266.0 956.1H234.5M266.0 831.6H234.5M266.0 706.5H234.5M266.0 579.6H234.5M266.0 453.1H234.5M266.0 325.7H234.5M266.0 196.9H234.5M266.0 66.3H234.5"/>
<path d="M483.0 1134.0V1168.5M755.3 1134.0V1168.5M1026.2 1134.0V1168.5M1294.7 1134.0V1168.5M1561.6 1134.0V1168.5M1828.9 1134.0V1168.5"/>
</g>
<text x="24" y="1106.0" font-size="73.5" textLength="163" lengthAdjust="spacingAndGlyphs">22°N</text>
<text x="24" y="982.4" font-size="73.5" textLength="163" lengthAdjust="spacingAndGlyphs">24°N</text>
<text x="24" y="857.9" font-size="73.5" textLength="163" lengthAdjust="spacingAndGlyphs">26°N</text>
<text x="24" y="732.8" font-size="73.5" textLength="163" lengthAdjust="spacingAndGlyphs">28°N</text>
<text x="24" y="605.9" font-size="73.5" textLength="163" lengthAdjust="spacingAndGlyphs">30°N</text>
<text x="24" y="479.4" font-size="73.5" textLength="163" lengthAdjust="spacingAndGlyphs">32°N</text>
<text x="24" y="352.0" font-size="73.5" textLength="163" lengthAdjust="spacingAndGlyphs">34°N</text>
<text x="24" y="223.2" font-size="73.5" textLength="163" lengthAdjust="spacingAndGlyphs">36°N</text>
<text x="24" y="92.6" font-size="73.5" textLength="163" lengthAdjust="spacingAndGlyphs">38°N</text>
<text class="ser" x="314" y="1067" font-size="81" textLength="108" lengthAdjust="spacing">(c)</text>
<text class="ser" x="471" y="1067" font-size="81" textLength="431" lengthAdjust="spacing">1996−2018</text>
</g>
<text x="483.0" y="3604" font-size="73.5" text-anchor="middle" textLength="156" lengthAdjust="spacingAndGlyphs">80°E</text>
<text x="755.3" y="3604" font-size="73.5" text-anchor="middle" textLength="156" lengthAdjust="spacingAndGlyphs">85°E</text>
<text x="1026.2" y="3604" font-size="73.5" text-anchor="middle" textLength="156" lengthAdjust="spacingAndGlyphs">90°E</text>
<text x="1294.7" y="3604" font-size="73.5" text-anchor="middle" textLength="156" lengthAdjust="spacingAndGlyphs">95°E</text>
<text x="1561.6" y="3604" font-size="73.5" text-anchor="middle" textLength="195" lengthAdjust="spacingAndGlyphs">100°E</text>
<text x="1828.9" y="3604" font-size="73.5" text-anchor="middle" textLength="195" lengthAdjust="spacingAndGlyphs">105°E</text>
<rect x="363.00" y="3657.0" width="56.21" height="27.0" fill="#ca0020"/>
<rect x="418.91" y="3657.0" width="56.21" height="27.0" fill="#e21a1c"/>
<rect x="474.82" y="3657.0" width="56.21" height="27.0" fill="#f42a22"/>
<rect x="530.73" y="3657.0" width="56.21" height="27.0" fill="#fa4c2e"/>
<rect x="586.64" y="3657.0" width="56.21" height="27.0" fill="#fc663c"/>
<rect x="642.55" y="3657.0" width="56.21" height="27.0" fill="#fc7e46"/>
<rect x="698.46" y="3657.0" width="56.21" height="27.0" fill="#fd9652"/>
<rect x="754.37" y="3657.0" width="56.21" height="27.0" fill="#fdae60"/>
<rect x="810.28" y="3657.0" width="56.21" height="27.0" fill="#fdc272"/>
<rect x="866.19" y="3657.0" width="56.21" height="27.0" fill="#fed686"/>
<rect x="922.10" y="3657.0" width="56.21" height="27.0" fill="#fee698"/>
<rect x="978.01" y="3657.0" width="56.21" height="27.0" fill="#fdf3aa"/>
<rect x="1033.92" y="3657.0" width="56.21" height="27.0" fill="#fcfcbe"/>
<rect x="1089.83" y="3657.0" width="56.21" height="27.0" fill="#f0f8aa"/>
<rect x="1145.74" y="3657.0" width="56.21" height="27.0" fill="#dcf096"/>
<rect x="1201.65" y="3657.0" width="56.21" height="27.0" fill="#c8e882"/>
<rect x="1257.56" y="3657.0" width="56.21" height="27.0" fill="#afe173"/>
<rect x="1313.47" y="3657.0" width="56.21" height="27.0" fill="#96d769"/>
<rect x="1369.38" y="3657.0" width="56.21" height="27.0" fill="#73cd64"/>
<rect x="1425.29" y="3657.0" width="56.21" height="27.0" fill="#3cc35f"/>
<rect x="1481.20" y="3657.0" width="56.21" height="27.0" fill="#0fb45a"/>
<rect x="1537.11" y="3657.0" width="56.21" height="27.0" fill="#0aa550"/>
<rect x="1593.02" y="3657.0" width="56.21" height="27.0" fill="#059646"/>
<rect x="1648.93" y="3657.0" width="56.21" height="27.0" fill="#008741"/>
<rect x="1704.84" y="3657.0" width="56.21" height="27.0" fill="#007837"/>
<rect x="1760.75" y="3657.0" width="56.21" height="27.0" fill="#00642d"/>
<path d="M363.0 3657.0H1816.7V3684.0H363.0ZM418.91 3657.0V3684.0M474.82 3657.0V3684.0M530.73 3657.0V3684.0M586.64 3657.0V3684.0M642.55 3657.0V3684.0M698.46 3657.0V3684.0M754.37 3657.0V3684.0M810.28 3657.0V3684.0M866.19 3657.0V3684.0M922.10 3657.0V3684.0M978.01 3657.0V3684.0M1033.92 3657.0V3684.0M1089.83 3657.0V3684.0M1145.74 3657.0V3684.0M1201.65 3657.0V3684.0M1257.56 3657.0V3684.0M1313.47 3657.0V3684.0M1369.38 3657.0V3684.0M1425.29 3657.0V3684.0M1481.20 3657.0V3684.0M1537.11 3657.0V3684.0M1593.02 3657.0V3684.0M1648.93 3657.0V3684.0M1704.84 3657.0V3684.0M1760.75 3657.0V3684.0" fill="none" stroke="#000" stroke-width="3.6"/>
<text x="418.9" y="3741" font-size="69.5" text-anchor="middle">-0.012</text>
<text x="642.5" y="3741" font-size="69.5" text-anchor="middle">-0.008</text>
<text x="866.2" y="3741" font-size="69.5" text-anchor="middle">-0.004</text>
<text x="1089.8" y="3741" font-size="69.5" text-anchor="middle">0</text>
<text x="1313.5" y="3741" font-size="69.5" text-anchor="middle">0.004</text>
<text x="1537.1" y="3741" font-size="69.5" text-anchor="middle">0.008</text>
<text x="1760.8" y="3741" font-size="69.5" text-anchor="middle">0.012</text>
</svg>
</body></html>
